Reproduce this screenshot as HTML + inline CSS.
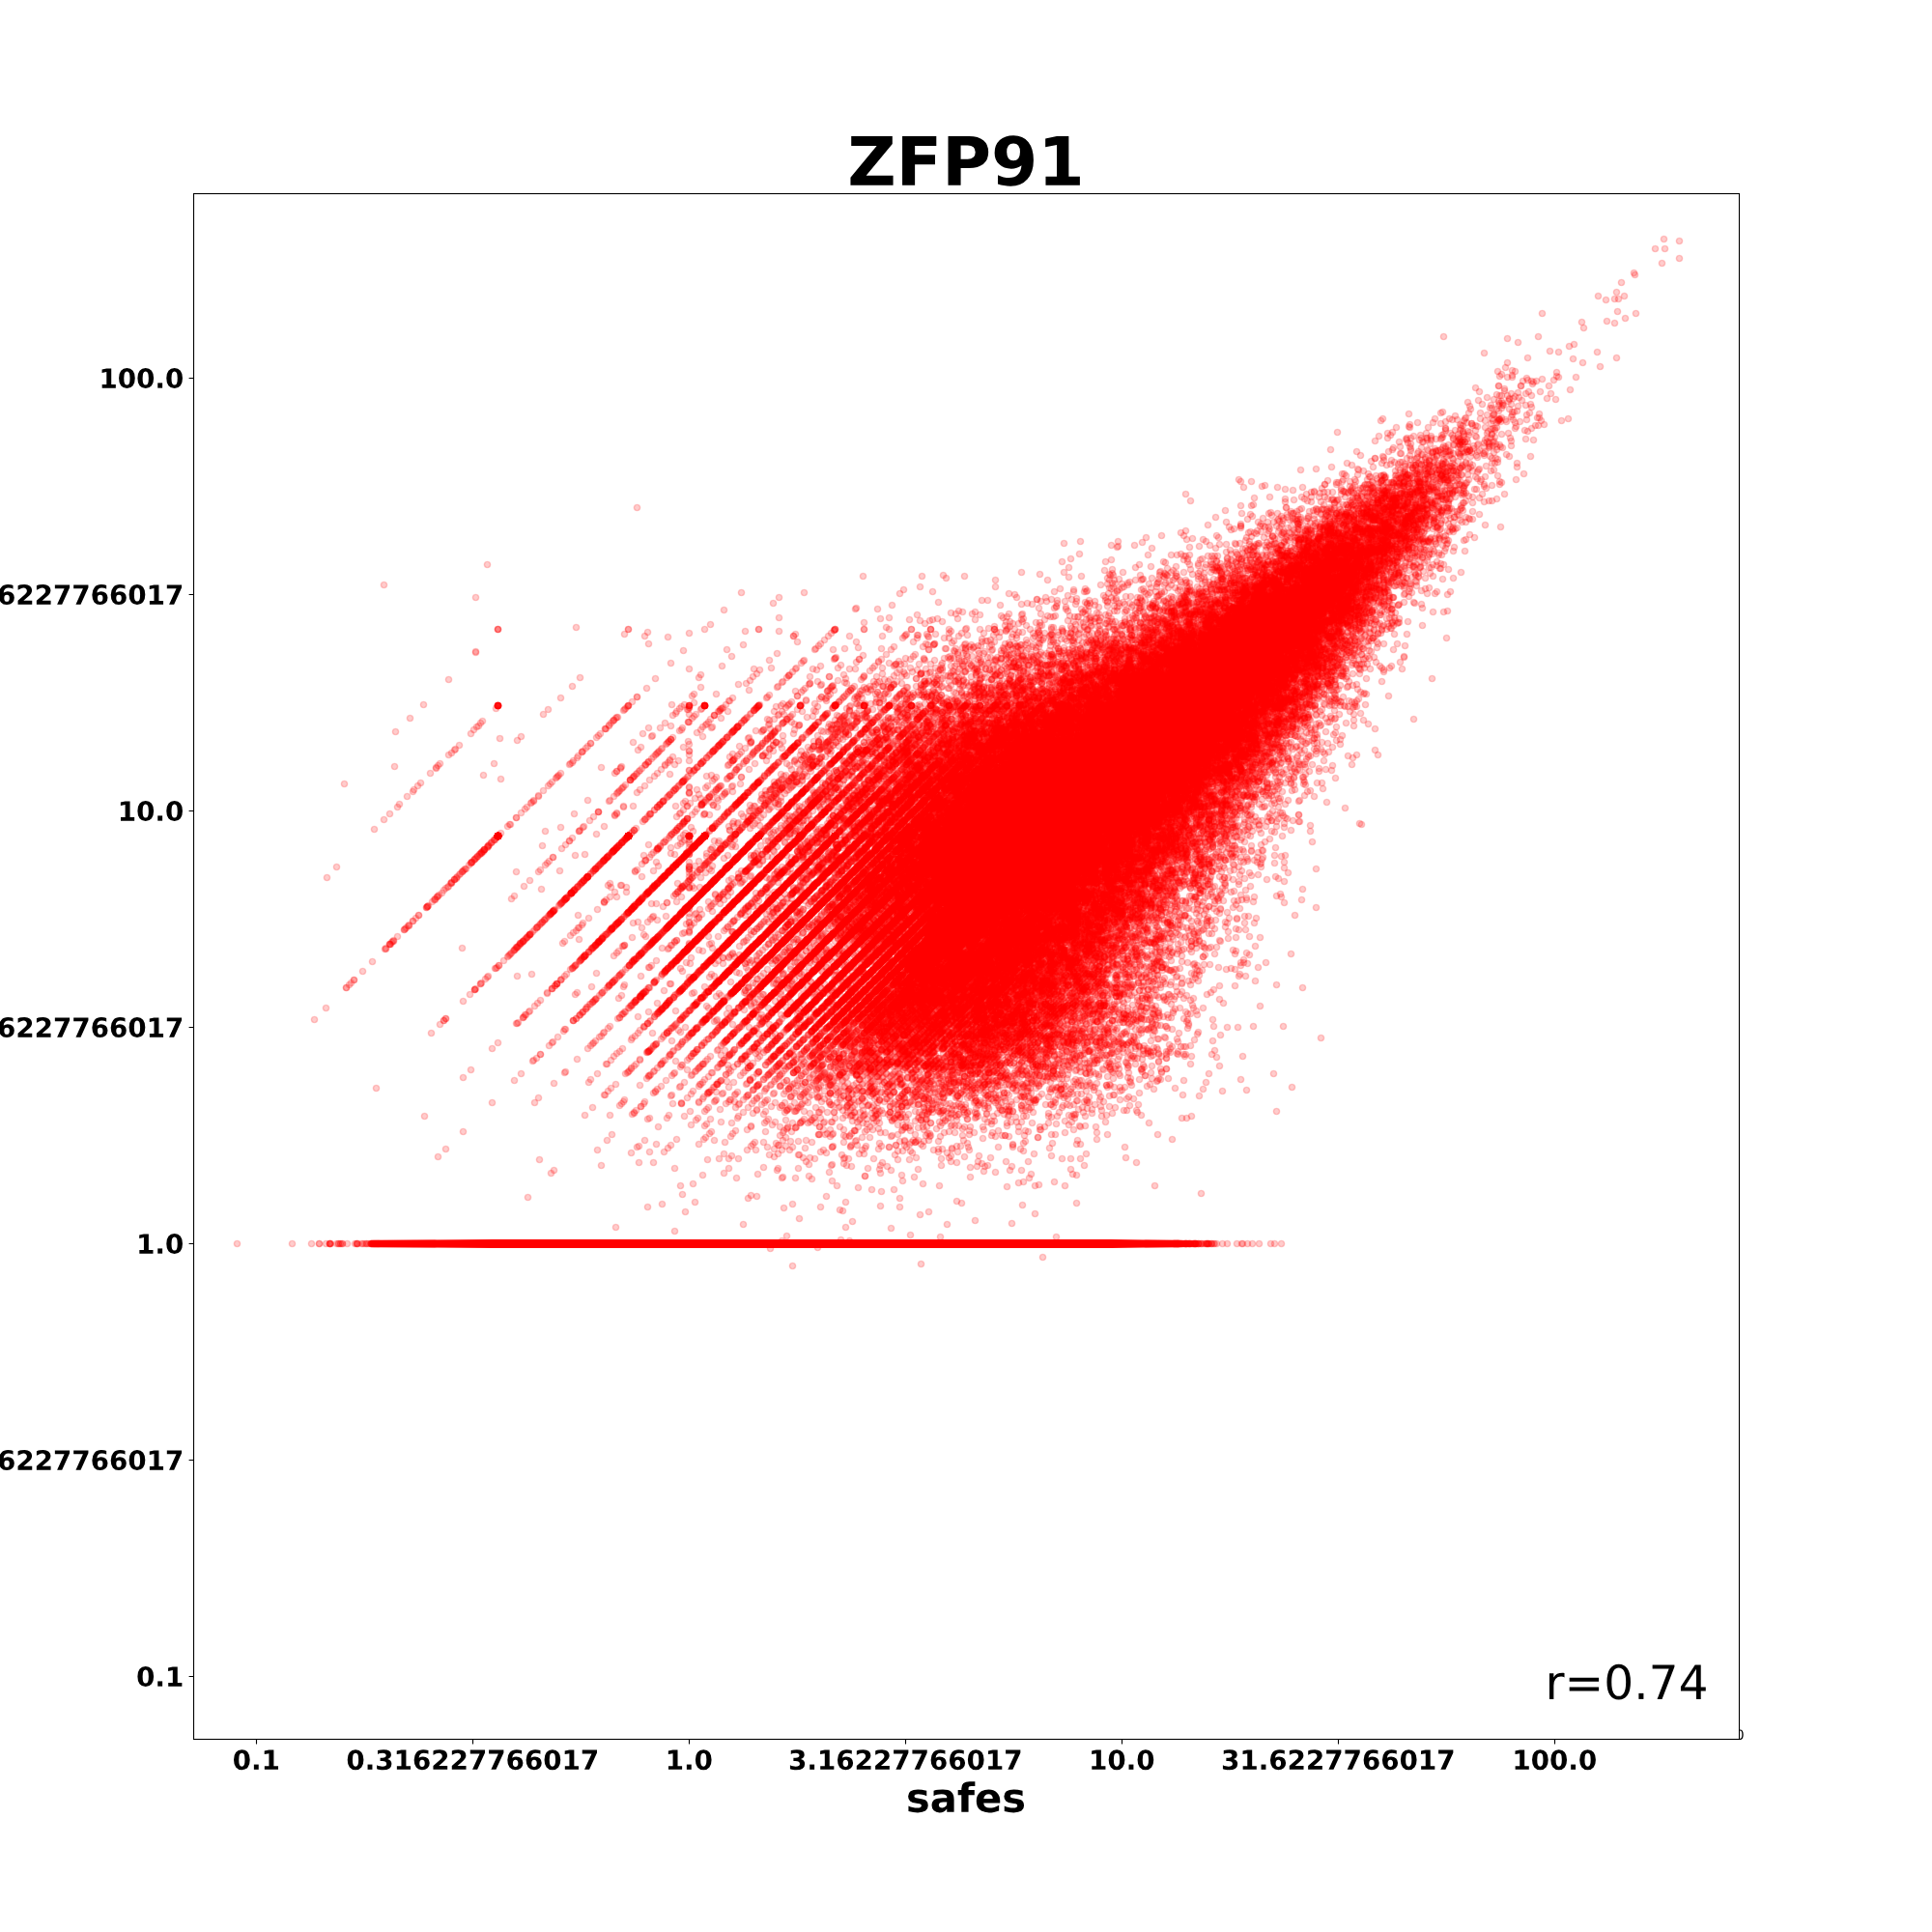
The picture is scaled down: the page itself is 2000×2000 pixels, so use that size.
<!DOCTYPE html><html><head><meta charset="utf-8"><title>ZFP91</title><style>html,body{margin:0;padding:0;background:#fff;font-family:"Liberation Sans",sans-serif}svg{display:block}</style></head><body><svg width="2000" height="2000" viewBox="0 0 2000 2000"><rect width="2000" height="2000" fill="#fff"/><g transform="scale(1.3888889)"><g id="text_1"><g transform="translate(1293.696 1296.576) scale(0.1 -0.1)"><defs><path id="DejaVuSans-30" d="M 2034 4250 Q 1547 4250 1301 3770 Q 1056 3291 1056 2328 Q 1056 1369 1301 889 Q 1547 409 2034 409 Q 2525 409 2770 889 Q 3016 1369 3016 2328 Q 3016 3291 2770 3770 Q 2525 4250 2034 4250 z M 2034 4750 Q 2819 4750 3233 4129 Q 3647 3509 3647 2328 Q 3647 1150 3233 529 Q 2819 -91 2034 -91 Q 1250 -91 836 529 Q 422 1150 422 2328 Q 422 3509 836 4129 Q 1250 4750 2034 4750 z " transform="scale(0.015625)"/></defs><use href="#DejaVuSans-30"/></g></g></g><rect x="200" y="200" width="1600" height="1600" fill="#fff"/><defs><clipPath id="ax"><rect x="200" y="200" width="1600" height="1600"/></clipPath><marker id="m" markerUnits="userSpaceOnUse" markerWidth="10" markerHeight="10" refX="5" refY="5" overflow="visible"><circle cx="5" cy="5" r="3.11" fill="#f00" fill-opacity=".2" stroke="#f00" stroke-opacity=".2" stroke-width="1.39"/></marker></defs><g clip-path="url(#ax)"><path d="M384 1285l0 4 2 1 7 0 1-1 818 0 1 1 8 0 4-2 0-2-4-2-8 0-1 1-818 0-1-1-7 0zM876 1044l-2-1-4 3 0 2-7 5 0 2 2 1 3-1 8-8zM884 1024l-2-1-3 1-4 4 0 3-4 2 0 3 2 1 2-1 1-3 7-5zM1035 1021l-4-2-4 2-2-1-8 6-1-2-6-3-2 1-1 4 5 3 2 3 5 1 7-5 3 2 4-2 0-2 2-2zM766 1019l-2-1-8 7 0 2 3 2 7-6zM1039 1010l-2 1 0 2 3 2-3 3 0 3 4 1 4-3-1-3 3-2 0-2-2-1-2 1zM838 1009l-2-1-2 1-3 5-8 5 0 3 2 1 4-1 4-5 0-2 5-2zM859 1004l-2-1-5 4-1 3-3 2 0 3 2 1 2-1 7-7zM814 994l-2-1-2 1-8 8 0 3-4 1-10 10 0 3 2 1 2-1 10-10 1-4 1 1 4-2 6-7zM926 993l-2-1-2 1-24 24-1 3-6 5 0 3 2 1 2-1 10-11 5-3 15-15zM769 990l-2-1-8 7 0 4 2 1 8-7zM866 983l-3-2-5 3-6 6 0 3-4 2-3 3 0 2-6 4 0 3 2 1 3-1 7-7 0-2 6-4 9-9zM927 981l-2-1-3 1-31 31 0 2 3 2 2-1 31-31zM907 973l-2-1-3 1-36 36 0 4 2 1 13-11 23-23 3-4zM791 968l-2-1-2 1-16 16 0 2 2 1 6-3 3-5 4-2 5-5zM764 965l-2-1-2 1-11 11 0 3 2 1 3-1 9-9zM865 964l-2-1-3 1-24 24 0 4 2 1 2-1 14-15 5-3 6-7zM1110 966l-3-2 1-3-3-1-3-3-7 3-3-1-8 4-1 2-3 1 0 3 1 2 4 2 5-3 4-6 4-2 2 1 0 2 8 4 2-1zM781 948l-2-1-2 1-8 8 0 3 2 1 4-2 5-6zM901 947l-2-1-4 1-26 27 0 3 2 1 2-1 1-3 4-1 10-9 9-11 4-3zM721 929l-2-1-2 1-11 11-1 4 2 1 4-2 9-9zM888 920l-2-1-6 4-37 37-6 8-4 2-15 15-2 5 2 1 5-2 3-3 1-3 4-2 7-7 0-2 5-3 45-45zM814 916l-2-1-3 1-9 8-6 7 0 3 2 1 3-1 14-14zM780 914l-2-1-5 3-6 8-6 5 0 2-6 4 0 2 2 1 4-2 1-3 5-3 13-13zM848 911l-2-1-2 1-8 9-17 15-24 25 0 4 2 1 2-1 49-50zM913 896l-3-1-4 2-16 17 0 3 2 1 5-3 1 4 4 2-24 26-5 3-6 7 0 4 2 1 8-6 34-35 0-4-2-1-4 3-1-5-4-2 5-5 1 4 2 1 4-1 1 4 2 1 4-3 0-4-2-1-3 1-4-3-4 2-1-1 8-9zM840 890l-2-1-3 1-10 10 0 3 2 1 3-1 10-11zM874 886l-2-1-4 1-3 5-12 10-3 4 0 2 2 1 6-3 9-9 0-3 1-1 1 1 4-3zM858 871l-2-1-4 2-3 7-4 1-3 3 0 3 2 1 3-1 2-2 0-4 1-1 1 1 6-4zM924 863l-3-2-3 1-10 12-5 4 0 2-8 5-93 93-1 3-7 6 0 4-5 1-1 3 2 1 4-2 1-3 1 1 2-1 106-106 0-2 5-3 2-5 6-3 2-3 4-2zM898 864l-4-3-2 1-5 7-11 9-2 5 3 2 2-1 11-12 8-6zM889 841l-2-1-3 1-7 7 0 3 2 1 10-8zM959 826l-2-1-3 1-6 7 0 3 3 1 4-2 4-5zM968 813l-8 7 1 4 2 1 3-2 2 1-10 11 0 3 2 1 5-3 7 3 5-4 0-2-2-1 2-1 0-2-2-1-1 1-2-5-5-1 4-5 0-3zM951 810l-2-1-4 1-10 10 0 2 3 2 3-1 10-11zM963 809l-2-1-2 1-10 10 0 2 3 2 2-1 1-4 1 1 4-2 3-4zM1243 795l-3 1 1 3-2 1 0 2 2 1-1 5-1 1-3-2-2 1-1 6 5 4 3-1 1-2 0-7 2-1 0-2 2-2 1 1 4-1 0-3-5-1-1-3zM1274 791l-2-1-4 1-1 5-1-3-2-1-7 3-1 3 5 2 5-2 2 3 3 1 2-1zM1391 622l-2 1-2-1-4 4 2 5 3 2 3-1 0-2 4-2 0-2zM1409 566l-4 3-1 3-6 2 0 2 4 3 0 6 2 1 6-1 0-2-2-2 1-7 1-1 4 2 2-1 0-2-2-1-1 1-2-5zM1397 563l-4-1-4 2-3 4-1-1-7 4-2 0-1-3-2-1-4 3 0 2 3 2 0 3 2 2-1 1-3-1-3 3-3-7-2-1-3 1 0 5 4 4-7 3-1-1-6 2 0 5-2 2 0 5 2 1-1 1 1 3-3 2-3-2-1 1-1-1-4 1-1 3-4 1 0 4-3 2-4-2 1-4 2-1 0-3-2-3-4-1-1-3-2-1-17 7-2 2-2 9-3 2 0 5-6 6-2-2 0-2-2-1-5 3-5 0-2 1 0 3 5 2-1 3-1-1-8 3-1 3-4-2-2 1 0 3 3 4-1 3-6 1-4-4-1-3-2-1-2 1 0 5 5 4-2 3-6-1-3 2-1 3 1 4-2 2-1 4-1-1-4 2-1-1 2-2 0-2-2-1 2-1 0-3-2-1 3-2 0-2-2-1-4 2 0 2 2 1-4 4-4 1-3 3-1-1-2 1-8 9-3-2-5 4-1-1-2 1 1 3-4 2-1 3-2 1 0 3 2 1-2 2-3-1-10 4-6-2-4 2-1 4-1-4-4-2-5 1-1 2-3 1 0 2 2 1 1-1 1 4 3 2-2 1 1 6-4 3 0 7-1 1-1-1-5 1-4 4-9-4 0-2 2-1-1-3-2-1-8 3 0 4 2 1 0 5-4 1-2 6-4 2-3-1-3-3-2 1-2-2-1-4-2-1-3 2-2 5-3-3 0-4 2-1 0-2-2-1-4 2-1 4 1 3 2 1-4 5 0 3 2 3-3 2-1-3-4-3-1-3-2-1-3 1-1 4-4 2 0 2 4 2 1 4-5 5-4-3-1-3-2-1-2 1-1 6-1 1-2-1-3 1 0 4 3 2 0 2-4 3-1 5-2-1-5 2-3-2-1-5-2-1-2 1-1-2-6-3 3-5 2 1 0 2 4 2 5-2 1 1-1 6 3 1 4-2 1-7-6-4-3 1-3-1-3 2-1-1 1-4-9-4-5 3 0 3 2 1 1-1 4 3-3 2-1-1-3 1 0 2-4 2 0 2-6 5-1-3-2-1-1 1-1-1-5 1-1 3 3 2 0 4 4 3 3-3 2 1 4-2 2-3 3 0 8-4 2 1 2-1 1 2-5 6-5 3-9-1-4 2-1 6 2 3-3 2-1-1-2 1-1 2-2-1-4 1-7 7-3-2-3 1-2-1-4 3-1-3-5-2-10 8 0 2 2 1 1-1 4 1 3-2 1 2-5 3-2 5 4 1 4-2 1 3 5 5 0 2-6 4 0 2-4 2 0 2-2 1 1 7-4 2 0 5 2 3-4 2-4-3 0-4-2-1-4 2-2-5-2-1-4 3-1-3-5-1-2 1-4 10-3-2-9 8-1 4-2 1 0 3 4 2-8 8 0 3 4 1 5-3 3-4 2 1 0 2 4 2-8 9-3-3-4 2 0 2 4 2-2 1 0 2-6 5-1-1 1-5-2-1-5 4 0 3 2 1 3-1 1 5 2 1 6-3 13-13 3-5 2-1 5 3-4 5-1-1-5 1-1 1 1 4-5 1 1 3-2 3-3 1-3 6 0 3-1 1-2-1-7 5-18 18 0 5 2 1 4-1 18-19 1 1-1 8-42 41-2 4-3 1-10 10-3 6-2 0-4 3 0 4 2 1 3-1 23-24 14-12 12-14 5-3 35-35 2-8 3 1 6-4 1 4-5 5-3 1-2 5-11 10-5 7-9 6-5 7-20 20 1 3 2 1 3-1 36-36 2 2-3 2-1 7-7 3-26 26-1 3-5 3-13 13-3 5-3 1-7 9 0 2 2 1 5-3 5-5 2-5 4-1 17-18 9-7 0-2 24-24 6-4 10-10 1 4 4 2 3-1 1-2 2 2-3 3-3 1-2 4-2-1 1-1-1-3-2-1-4 1-34 35 0 2 2 1 6-2 25-25 1 2-9 10-24 23 0 4 2 1 3-1 25-25 1 2-4 4 0 4-6 2-46 47 0 2 2 1 4-1 26-27 2-1 1 3 3 2 5-3 1 1-11 11 0 3-2 1 0 2 2 1 1-1 1 2-9 9 0 2 2 1 1-1 1 2-7 6 0 5 4 2 2-1 0-2 6-6 3-1 1-5 6 5 3-1 2-3 2 1 3-1 1 3 5 3 4-3 4 3 5-4 0-4-2-2 0-3-1-2-4-1-4-3 4-2 3-4 3 3 0 3 4 2 2-1 0-2-3-3 5-5 2 0 2 2-2 1 1 5-2 1 0 2 2 4 4 1 6-4 3-5 0-2-3-2 4-4 6 1 4-3 3 3 3-2 4 1 4-1 1 1-1 4 5 2 3-3 0-4 3-7 5 3 4-3 1 3 2 1 2-1 1-5-2-1 0-2 6-5 6 3-2 2 0 2 2 1 5-1 2-2 0-10-2-1 4-2 4 4 5-1 0-3-4-2-3 2-1-4-2-1 1-2 2 1 3-1 4-3 0-2-3-2 0-3-2-1 0-4-9-5 2-2 2 1 4-3 2 2 1 5 2 1 7-1-1-9-5-3-4-4 0-2-2-1 3-2 3 2 2-1 3 2 1-1 3 3 6-3 4 1 1 2-2 2 0 3 4 2 4-3 4 3 1 4 4 2 3-1 0-8-3-2 1-1 0-5-2-6 2-2 5 0 4 3 2-1 2-3 2-8-9-3-5 2-4-5 0-2 4-4 0-2-5-3-1-2 5-3 1 2 5 2 1-1 5 4-2 5-3-3-4 2 0 3 2 1 3 0 3-2 6 1 4-2 0-6-2-1 1-1 0-10 3-3 5 1 4-3 2 1 0 4-1 1-2-1-3 1-1 3 0 9 2 1 5-4 1-3 3 1 3-1 1-5-4-2 3-2 1-4 1 1 3-2 5-1 5 3 5 0 1 1 2-1 1-4-5-1-7-5 4-4-1-9-5-1 4-3 0-3 2-2 3 0 1 2-2 1 0 2 9 1 1 2-2 7 4 2 2-1 2-6-2-9 4-7 3 3 5-1 1-1-1-3 5-5 3-1 4-5 4 3 6-1 1-5-4-4 5-3 0-5-3-2 2-1 1-4 5 4 2-1-1-3 1-3-4-1 0-4 4-4 1 1 3-1 0-2 2-1 0-5 4-5 5 2 4-1 0-4 5-6 2 1 2-1 0-2-2-1 7-5 0-4-4-1-2-2 0-3 3-2 1 2 2 1 1-1 2 5 2 1 1-1 4 4 3 0 5-3-1-5 3-3 3-1 0-5-2-1 0-6-3-2 1-4 4-3 2 1 2-1 1-2 2 1 3-1 0-2 3-2 0-2-2-1 0-3-4-4 3-2 0-3 2-2 7 4 5-3 1 1 9-1 1-5-5-2-2 1-1-5-3-2 6-6 1 1 2-1 2 2-1 4 2 3 4 2 4-1 0-5-1-1 4-4 1-6-4-2 3-2 0-3 3-1 3 3 3-2 0-6 3-2 1-6 4-3 2 3 2 1 2-1 0-3-2-1 1-1-1-12-2-1-3 1-1-1 2-2 5-1 2-3 2 5 2 1 2-1 2 1 4-3 1-2-1-4 5-1 0-4-2-1-3 2-1-1-1 1-5-1 5-2 1-2-1-4 13-7 1-6 1-1 2 1 5-4 2-3 0-5 2-2 2 1 2-1 1-5 4-3 1-3-1-6-5-3-2 1-1-1 0-2-3-2 2-1 0-2-5-1-4 2-3-4 5-3 5 3 3-1 0-2-2-1 4-4zM960 1017l2 0 4 3-3 2 0 5 5 2-1 2-1-1-4 1-4-2 2-2 0-2-4-3zM949 1009l3 5 0 6 3 2-7 6-4-4 1-1-1-3 2-1 0-2-3-3zM979 991l3 3-7 7 0 2 2 2-2 1-8-6 4-2 0-2 4-4zM1029 989l3 2 0 2 3 3 4 2-4 2-1 2-1-2-2-1-1 1-1-3-5-2zM1052 974l2 2 0 2 3 2-1 4 2 1-2 2-4-2-2 1-1-3-2-1zM1024 960l0 5 3 3-4 2 0 2-4 4-5 2-1 3-5 4-3-3-6 4-3-1-1-3-3-2 3-2 2 1 4-1 4 2 3-1 3-3 0-3 2-2 8-4 1-7 1-1zM1045 946l1 1-5 5-2-1-3 2-1 4 3 3-1 1-2-1-3 2-1-3 2-2 1-8 1-1 2 1 3-2 1 1zM1059 939l3 3 5 2 1 2-5 1-6 5-3-3 2-1 0-3-3-3 2-2zM1094 931l-2 2-5-2-3 1-5-5 1-1 3 1 4-2 3-4 2 4-2 1 0 2 2 1 1-1zM947 905l1 1-1 7-8 5-4 7-2 1-4-3 2-6 5-1zM1152 877l3-2 1 2 4 2 5-2 3 3-5 3-3-2-5 2-3-3zM1140 861l4 2 2 6 4 2 0 6-1 1-4-1 0-6-5-4-1-4zM944 854l2 1 1-1 1 2 5 1 2 2 1 4-2 1 0 2 2 2-10 10-2-1 1-3-5-2 9-9 0-2-2-2-4-1zM1210 820l1 4 2 1-2 2 0 2 2 2-1 1-3-1-4 3-5 1-3-3 3-3 5-1 1-1-1-5 2-2 2 1zM1004 808l2 2-5 5 0 2 2 2-2 1 1 3-3 2 0 2 2 2-1 1 0 7-2 1-4-3 0-4-2-1 2-1 0-2 2-2 0-5-2-1 4-6zM1044 784l0 3-5 5-5 2-3-1-5 4-1-1 1-5 7-3 1 1 5-4 1-3zM1119 750l0 3 2 1 1 4-1 1-2-1-4 1-2 2-1 4-2-1-4 1-5-3-9 5-1-4-3-3 2-3 4-2 1-4 3 3 0 4 4 2 1-1 4 3 2-1 0-5 6-2 0-3-4-3 1-5zM1276 736l0-2 3-3 2 1 1-1 1 1 6-1 2 2-3 6-3-2-5 1zM1199 690l4-4 1 1 4-1 4 5 0 3-5 3-6-2zM1345 672l-6 3-3 6-4-2-2 1-2 5-2 1-1-1 2-2 2-10 5 2 2-1 2-4 4 0zM1318 604l1 1-1 7-4 4-1-1-2 1-1-3-2-1 0-5 1-1 1 1 4-3 1 1zM1391 590l-3 2 0 2 4 2-3 2-3-2-2 1-1-1-3 2-5-2 4-9 3 1 3-2z" fill="#f00" fill-rule="evenodd" transform="translate(.5 .5)"/><path d="M384 1284.1L515 1283L1150 1283L1221 1284L1221 1291L1150 1292L515 1292L384 1290.9" fill="#f00"/><g transform="translate(.5 .5)"><path d="M1713 257l10 0-1-10 16 2 0 18-18 5-28 12-1-2-37 24 8 4 9-1 4 0-2-7 5-10 3 14 1 23 11-5-19-2-11 10 8 2-34-1-41-9-102 24 77 6-11-4 32-2 32 10 5-2 10-17 34 31-17 9-18-4 15-11-40 0 15 7-24-8-23 7-21 5 5 8-7-3-22-15-5 40-4-4 23-17 4 3-2 2-1 10 0 0 6 3 0 2 7 3 15 0-8-1 11-1-8-6 0 0 2-5 5-1-1-2-20-1 5 0 0-2 3-4 28 8-11 2 5 0-3 1-1 2 17 2-9 6 11 2 20-4-17-10 5-3 18 0-20-1 0-4-1 28-17 15-8-7-1-3 17-6-16-3-25 0 8 1 4 1-10 1 4 0-4 1 13 1-14 1 3 3 15 1-8 1-9 3 8 2-5 1 2 0 16 1-18 2 15 0-16 2-25-2 6 0 1 0 0-1 5-3-2-2-7-1 2 0 10 0-11-3 8 0 4 0 1 0-4-2 3 0-4-2 3 0-8-2-7-2 13-2 2 0-5-1-19 6-11 2 15 2-13 2 1 3-2 4 12 0-26 3-15-3 2-1-35 2-74 19 52 6-9-2 12-1-3-2-7-13 2-2 28 6-1 2-13 1 14 0-18 5 22 4-7 2 4 0-5 1 1 1 13 0 8 0 4 0 5-1-15-1 5 0 1 0 4 0 0-2-11-1 6-2 2-6-11-5 16 0 2-4 15 0 3 1 5 0-12 2-5 2 20 1-15 4 0 0 0 2 10 0 5 0-10 3-7 1 15 0-17 1 11 0-10 2 16 0-17 1 12 0 7 0-20 1 13 0 6 0 1 1 3 0 4-1 10-2-13-1 12 0-7-1-5-1-1-2 7 0-7-1 5 0 8-1-15-2 17-2-17-1 2 0 10 0 3 0-4-2 0 0-5-1-3-2 1-2 16 0-15-1 37 0-10 1 7 0 1 0-1 1 1 0 6 0-21 1 8 0 5 0 1 0 2 1 6 0-10 1-6 1-6 4 12 0-4 1 2 0-4 1 4 1-7 1-1 2 5 1 0 0 10 0-7 3-8 1 4 0-6 2 42-1-16-1-2-5 20-2-3-1-10-2 1-2-1-4 5-1-7-2 14 0 11-2 2 0 2 3 3 4-9 1 3 0-7 3 2 12 29-20 7-2-39 39-20-16 0 5-2 11 8 7-26 0 3 0 3-1 0-3-6-1 4 0-6-2-6-1 23-1-23-1 10-1-9-1 12-2-8-2 14 0-19-1 6 0 7 0 4 0-12-1 4 0 7-1-11-1 7 0-12-1 3-1 2 0 4 0 1-1-34 1 1 0 3 0 0 0 3 0-5 2 16 0-17 1 16 0-4 1-6 1-7 2 13 0-7 1 0 0 3 0 0 1 0 0 10 0-17 1 5 0 0 0 10 0-17 1 4 0 7 0 12 1-7 2-13 1 7 0 7 1-12 5 0 1 4 0-33 0 4 0 4 0 7 0-7-1-2-1 15 0-15-2 10 0-1-1-6-2 14 0-11-1-7-1 8 0 10 0-17-1 10 0 6 0-19-1 18 0-13-1 2 0 2 0-12-1 1 0 10 0 2 0-10-1 5-1-3-1 3-1 13 0-15-1 17 0-12-1 5 0 1 0 6 0-1-1 1-2-4-1 2 0-37 1 1 0 7 2-9 4 14 1-8 1 1 1 8 0-18 1 15 0 3 0-4 1 1 0-16 1 4 1 1 0 15 1-9 1 4 0 5 0-20 1 8 0 9 0-18 1-2 1 11 0 10 0-14 1 8 0 0 1-3 1 8 0-16 1 9 0 2 0-36-1 6 0 2 0-11-2 20-1-4-1 3-3-10-2 1 0 10-3-19-1 19-1-18-1 7-1 10 0 1-3-3-1-9-1-25-1 14 11-6 5 1 1-9 1 0 0 9 2-13 1 11 2-36 0 14-8-4-4-27-2-93 33 11 0-13-2 27 6-3 1 56-18-16 1 25 15 0 0 12 0 0-2 2 0 4-1-15-1 16-1-1-6 2 0-13-7 21-2 6 4 1 1 5 1-6 4-12 1 9 4 13 0-18 2 6 0 10 3 2 0-13 1 10 0-15 1 34 0-12-1-2-1 14-1-10-1 6 0 2 0 6 0 2 0-17-1 9 0 1-1 0 0 1-1-6-1 8-1 0 0-16-1 1 0 16 0-10-1 5 0 1 0 2 0 0-1-16-1 5-7 14-2 4-1 8 0 7 0 4 1 2 0 3 0-9 1-7 2 15 0 0 0-13 2 5 0-10 1 18 0-9 1 1 0-2 1 2 1-9 1 11 0 1 0 0 0-13 1 3 0 8 0 4 0-8 1 1 0 3 0-7 1 2 0 5 0 3 0 3 0 1 0-17 1 4 0 1 0 7 0 2 0-16 2 14 0-4 1-13 1 1 0 1 0 3 0 3 0 2 0 3 0 0 0-11 1 6 0 4 0 0 0 7 0 0 0 4 0 0 0-21 1 6 0 8 0 1 0-8 1 2 0-7 1 2 0 0 0 7 0 0 0 5 0 10 0 1 0 2 0 4 0 3 0 3 0-11-2 4 0 3 0-8-1 7 0 2 0-11-1 2 0 1 0 4 0 9 0-17-1 2 0 1 0-1-1 15 0 3 0-19-1 3 0 4 0 1 0 3 0 6 0-17-1 8 0-6-1 9-1 5 0-14-1 8 0-2-1 5 0 6 0-22-1 2 0 1 0 2 0 7 0 1 0 5 0 5 0-9-1 9 0-23-1 4 0 2 0 9 0 2 0 1 0-16-1 9 0-5-1 16 0-12-1 3 0 1 0-3-1 9 0-19-1 13 0 4-1 2 0-19-1 0 0 0 0 6 0 4 0 4 0 1 0-11-1 2 0 22 0 1 0-6 1 17 0-15 1 3 0 8 0 1 0-4 1 5 0-12 1 5 0 4 0 5 0 6 0 0 0-18 1-4 1 0 0 1 0 3 1 5 0 4 0 2 0 0 0 3 0-11 1 1 0 10 0-14 1 7 0 9 0-19 1 6 0 0 0-5 1 2 0 9 0 5 0 2 0-17 1 0 0 0 0 6 0-7 1 3 1 2 0 6 0-12 1 11 0 1 0 7 0-17 1 2 0 1 0 2 0 1 0-8 1 8 0 1 0 5 0 4 0 3 0-20 1-1 1 6 0 2 0 12 2 1 0-13 1 2 0 1 0 6 0-19 1 17 0 10 0-2-1 3 0 1-2 1-1 14-1-12-2 13 0-4-1-2-2-15-2 1 0 6 0 10-3-5-1 6-1-11-1 12 0-19-1 8 0-7-1 9 0-9-1 1-1 10 0 14 1 8 4-3 1 7 5-13 1 15 5 2 1-18 2 16 0-8 1-8 1 33-7 8-6-7-7-34 36 5-1 3 0 5-2 8-5-19-6-24-1 1 1 11 1 2 0-13 2-3 2 2 0 3 0-2 1 19 0-21 1 7 1 4 1 7 1-14 3-3 2 1 0 9 0-12 3 1 2-1 1-23 1 22 0-13-1 2 0 2 0-13-1 5 0 3 0 1 0-9-1 3-2 7 0 0-2-11-2 11 0-5-1 2 0-4-1 1 0 4 0 3 0 1 0-4-1-5-1 14 0-18-1 1 0 2 0 2 0-1-1 3-1 3 0 2 0 3 0-15-1 12 0 3 0-3-1 3 0-10-1 3 0 9 0-10-1 8 0 3 0 1 0 2 0-17-2 9 0-32-1 1 0 11 0 2 0 1 0 2 0-20 1 4 0 8 0-13 1 14 0 2 0 2 0 4 0-21 1 1 0 1 0 2 0 1 0 2 0 0 0 6 0 6 0-18 1 12 0 1 0-16 1 2 0 1 0 7 0 0 0 12 0 1 0-20 1 9 0-12 1 9 0 0 0 6 0-8 1 1 0 2 0-7 1 3 0 15 0-16 1 4 0 14 0-14 1 3 1 1 0-12 1 6 0 2 0 2 0 0 0 5 0-7 1 8 0 5 0-18 1 12 0 5 0-20 1 4 0 13 0 0 0-17 1 5 0 6 0 7 0 2 0-19 1 10 0 1 0 5 0-18 1 1 0 7 0 1 0 3 0 7 0-14 1 3 0 2 0-10 1 1 0 1 0 3 0 1 0 12 0 0 0-15 1 4 0 1 0 1 0 4 0 6 0-17 1 9 0 1 0 1 0 8 0-40 0 2 0 5 0 0 0 11 0-23-1 6 0 6 0 3 0 1 0-16-1 2 0 11 0 1 0 8 0-21-1 2 0 1 0 5 0 5 0 2 0-14-1 2 0 1 0 2 0 3 0 1 0 1 0 2 0 4 0-14-1 1 0 3 0 8 0 5 0-17-1 2 0 7 0 2 0 2 0-12-1 0 0 12 0 1 0 4 0-22-1 4 0 1 0 7 0 4 0 1 0-16-1 1 0 9 0-10-1 0 0 2 0 1 0 4 0 5 0 4 0 5 0-22-1 2 0 7 0 4 0 6 0-19-1 2 0 1 0 2 0 0 0 0 0 1 0 0 0 2 0 4 0 7 0-10-1 8 0 2 0 1 0 3 0-21-1 3 0 7 0 11 0-18-1 9 0 2 0 3 0-18-1 2 0 6 0 4 0 3 0 3 0 1 0 2 0-18-1 5 0 1 0 1 0 2 0 9 0-21-1 15 0 4 0-16-1 7 0 3 0 5 0 1 0-19-1 21 0-12-1 3 0 8 0 2-1-23-1 17 0-37 0 1 0 5 0 9 0 2 0-19 1 1 0 2 0 7 0 9 0-1 1-18 1 8 0 4 0 2 0 2 0-13 1 6 0 5 0 2 0 0 0-18 1 4 0 13 0 4 0-15 1 0 0 5 0 3 0 2 0 3 0 0 0-15 1 11 0 2 0-9 1 6 0 5 0 3 0-5 1 4 0 2 0-22 1 9 0 7 0-11 1 2 0 6 0 0 0 2 0 0 0 1 0-8 1 9 0 3 0 1 0-21 1 4 0 5 0 0 0 0 0 3 0 0 0 9 0-8 1 0 0 6 0-18 1 8 0-6 1 0 0 5 0 2 0 0 0 12 0-23 1 8 0 2 0 0 0 5 0 3 0 5 0-9 1 2 0 4 0-13 1 3 0 3 0 9 0-22 1 1 0 14 0 1 0 3 0 1 0 1 0 1 0 0 0 1 0-21 1 1 0 1 0 3 0 1 0 2 0 7 0-10 1 2 0 7 0 0 0 1 0 4 0-20 1 16 0 2 0-35 0 1 0 9 0 5 0-11-1 1 0 3 0 7 0-20-1 0 0 3 0 13 0 0 0 3 0-18-2 3 0 4 0 4 0-14-1 1 0 6 0 1 0 9 0 4 0-8-1 3 0 3 0 3 0-17-1 10 0 3 0-11-1-3-1 10 0 6 0-14-1 7 0-6-2 3 0 2 0-13-1 13 0 5 0 5 0-11-1 5 0 6 0-6-2-14-1 6 0 4 0 10 0-23-1 3 0 4 0 13 0-14-1 0-1 8 0-7-2 9 0 2 0 4 0-14-1 11 0-43 1 20 0 0 2 2 1 1 0-21 1 4 0 5 0 9 2-17 3 3 2 5 0-1 1 2 0 4 0 1 0-2 1-2 2 0 0-11 2 20 0-4 2-10 1 5 0-12 1 8 0-9 1 2 0 3 0 5 0 2 0 7 0-42 0 17 0 2 0-17-1 15 0-5-7 10 0-14-1-3-2-3-2 10 0 8 0-13-3 14-1-9-1 3 0 0-1-12-4-26 0 8 2 8 1-8 9 9 1-9 2 1 6 0 0-34-3 1-7 16-1-27-10-3 19 11 0-68-12 5 7-573 7 563 26 5-2 41-21-10 7 11 5-19 3 42 8 2-1-20-2 3-1 7-1-12-1 12-1 0 0 0-2 7-5 3-5-9-1 30-1-2 1 3 2-20 1 11 2-5 4 10 0 6 0-13 2-1 2 3 0 2 1 4 0 1 2-13 2 12 0-8 1-7 1 29 0 1 0 6 0 6 0 2 0-19-1 6 0 10-2 4-1-19-1 9 0 3-1-15-1 5 0 17 0-16-2 16 0 0-1-19-2 18 0-20-1 6 0 7 0 3 0-15-1 17 0 2 0-14-1 10 0-6-1-6-1 17-1-11-1-10-1 14 0 2 0 1 0-3-2 6 0 17-1-4 1 8 0 4 2 0 1-7 1-6 1-8 1 7 1 1 0-10 1 2 0 14 0-8 2-7 1 18 0-7 1 5 0-17 1 23 0-21 1 13 1 2 0 6 0-23 1 9 0 13 0 0 0 0 1-15 1 2 0 9 0 4 0-22 1 9 0 2 0 1 0-5 1 0 0 6 0-3 1 6 0-12 1 9 0 9 0 8 0 2 0 1 0 0 0 3 0 0 0 0 0 1 0 3 0 1 0 0 0 2 0-17-1 4 0 5 0 12 0-17-1 0 0 2 0 0 0 1 0 3 0 2 0 3 0-16-1 1 0 4 0 3 0 0-1 1 0 4 0 4 0-17-1 1 0 4 0 3 0 3 0 6 0-15-1 2 0 0 0 5 0 8 0-16-1 3 0 1 0 2 0 2 0 2 0 2-1 8 0 0 0-19-1 5 0 0 0 1 0 2 0 2 0 6 0 4 0-3-1 3 0-14-1 12 0-15-1 7 0 3 0 2 0-15-1 5 0 15 0-22-1 2 0 10 0 1 0 2-1 1 0-9-1 4 0 9 0-17-1 14 0 5 0-18-1 1 0 8 0 4 0 1 0-15-2 3 0 3 0 5 0 0 0 0 0 3 0-1-1 3 0-14-1 2 0 13 0 17-1 8 0 1 0-9 1-13 1 1 0 2 0 13 0 2 0 4 0-22 1 5 0 8 0 3 0 0 0 2 0 0 0 2 0 1 0-22 1 0 0 1 0 1 0 5 0 4 0 9 0-18 1 4 0 3 0 3 0 5 0 6 0-23 1 0 0 3 0 6 0 0 0 10 0 1 0 3 0-22 1 4 0 1 0 15 0 1 0 1 0-19 1 8 0 2 0-9 1 4 0 4 0 4 0 0 0-15 1 7 0 1 0 9 0-16 1 4 0 10 0 2 0 1 0-19 1 8 0 0 0 2 0-11 1 17 0 6 0-22 1 3 0 3 0 5 0 4 0 7 0-10 1 1 0-13 1 2 0 2 0 5 0 0 0 0 0 5 0-3 1 3 0 6 0 0 0-19 1 9 0 0 0 1 0 2 0 8 0-21 1 10 0 1 0 2 0 1 0 2 0 1 0 3 0-20 1 1 0 1 0 5 0 0 0 2 0 1 0 2 0 2 0 4 0 4 0-22 1 6 0 11 0 2 0 3 0-17 1 0 0 5 0 2 0 1 0 2 0 2 0 0 0 1 0-15 1 5 0 1 0 3 0 8 0 0 0 3 0 5 0 7 0 3 0 2 0 1 0 0 0 5 0-21-1 2 0 0 0 6 0 1 0 5 0 0 0 2 0-14-1 5 0 1 0 1 0 3 0 4 0 0 0 5 0-21-1 0 0 7 0 2 0 1 0 4 0 1 0 1 0 1 0 1 0 3 0-23-1 0 0 1 0 1 0 1 0 2 0 1 0 2 0 1 0 1 0 4 0 1 0 1 0 2 0 1 0 2 0 1 0 1 0-23-1 3 0 1 0 2 0 2 0 1 0 4 0 9 0-22-1 2 0 10 0 10 0 0 0 1 0-3-1 3 0-11-1 3 0 0 0 2 0 1 0-11-1 7 0 3 0 1 0 0 0 1 0-7-1 2 0 2 0 4 0-20-1 5 0 9 0 3 0 2 0 1 0 1 0 0 0-15-1 5 0 1 0-9-1 2 0 0 0 0 0 1 0 1 0 2 0 1 0 1 0 1 0 4 0 1 0 1 0 5 0-21-1 4 0 0 0 11 0 1 0-15-1 0 0 6 0 0 0 2 0 5 0-15-1 2 0 3 0 0 0 0 0 12 0-13-1 0 0 2 0 1 0 3 0 1 0 1 0-12-1 2 0 14 0 5 0-20-1 1 0 5 0 2 0 1 0 7 0 2 0 3 0-21-1 5 0 5 0 1 0 7 0-20-1 6 0 1 0 5 0 2 0 3 0 4 0-20-1 1 0 1 0 12 0 3 0-12-1 4 0 3 0 1 0 7 0 3 0 1 0 0 0 3 0 3 0 3 0 1 0 9 0-19 1 16 0 3 0-19 1 1 0 15 0 1 0 1 0 2 0 2 0-22 1 5 0 3 0 11 0 3 0 0 0-23 1 5 0 2 0 1 0 0 0 13 0-21 1 7 0 2 0 4 0 8 0 1 0-22 1 1 0 13 0 1 0 0 0 2 0 0 0 0 0 2 0 2 0-21 1 0 0 2 0 10 0 3 0 5 0-16 1 10 0 0 0 2 0 3 0 0 0 2 0-15 1 1 0 5 0 9 0-20 1 1 0 5 0 7 0 1 0 2 0 5 0-22 1 2 0 3 0 1 0 0 0 8 0 3 0 3 0 2 0-15 1 2 0 3 0 2 0 1 0 5 0 2 0-15 1 5 0 1 0 2 0 3 0-16 1 3 0 9 0 0 0 0 0 4 0 1 0 3 0-16 1 6 0 0 0 11 0 0 0 0 0-12 1 5 0 4 0-19 1 3 0 7 0 2 0 2 0 3 0 2 0-20 1 0 0 2 0 7 0 2 0 2 0 3 0 2 0-18 1 2 0 8 0 3 0 4 0-11 1 8 0 6 0 3 0-21 1 2 0 14 0 5 0 0 0-19 1 3 0 2 0 1 0 6 0 0 0-13 1 3 0 2 0 6 0 8 0 2 0 2 0 7 0-7-1 5 0 0 0 3 0-8-2 1 0 1 0-4-1 3 0 10 0 6 0-16-1 8 0 12 0-21-1 4 0 15 0 2 0-22-1 8 0 5 0-9-1 10 0-11-1 1 0 6 0-10-1 10 0 9 0 0 0-16-1 18 0-20-1 8 0 10 0-20-1 1 0 3 0 4 0 3 0 1 0 7 0-16-1 1 0 3 0 0 0 9 0 4 0-19-1 5 0 1 0 2 0 12 0-9-1 6 0 2 0-17-1 2 0 2 0 4 0 2 0-1-1 8 0-14-1 7 0 0 0-13-1 5 0 5 0 3 0 2 0-13-1 7 0-9-1 1 0 4 0-5-1 3 0 1 0 4 0 6 0 14 0 0 0 7 0-11 1 3 0 2 0 5 0 7 0 3 0-16 1-4 1 4 0 16 1-17 1 8 0 11 0-21 2 16 0 0 0-4 1-9 2 4 0 15 0-7 2-13 1 0 1 8 0-11 2 13 1-13 1 16 0 4 0-17 1 12 0 3 0-16 1 13 0-5 1 2 1 4 0 9-10 4 0 4-3 3 0-4-1-3-1 14-3-7-3-10-1 23 15 16 2-32 8 5 3-9 2-2 1 1 11-27 4 3 0-3-2 6-2 9 0-8-3 9-1-12-2 4-1 1-1-3-3 4 0-9-1 7 0-7-1-1-1 5-1-4-1 6 0-27-1 18 0-23 1 3 1-3 1 3 0 14 0-11 1 2 0 1 0 2 0 5 0 5 0-16 1 2 0 9 0-11 1 9 0-10 1 5 0 3 0 2 0 1 0 6 0-12 1 5 0 2 0-15 1 6 0 15 0-12 1 12 0-22 1 0 3 6 0-4 1 4 0 3 0 7 0 3 0-9 1 2 0 8 1-18 1 7 0-9 1 15 1 3 0-13 1 3 0 7 0-14 1 2 0-27 0 5 0 5 0-7-1 19 0-16-1 3 0-7-1 11 0 6 0 3 0-22-1 6 0 0 0 2 0 1 0-9-1 1 0 9 0 2 0 5 0-2-1 3 0-18-1 3 0 0 0 3 0 0 0 1 0 3 0 4 0 4 0 0 0-18-1 12 0 5 0-12-1 12 0 0 0 4 0 1 0-22-1 4 0 0 0 0 0 5 0 4 0 5 0-17-1 10 0 3 0 1 0-14-1 5 0 12 0 0 0-18-1 4 0 6 0-9-1 9 0 3 0 7 0 2 0-17-1 6 0 4 0 4 0-13-1 3 0 5 0 2 0-12-1 3 0 2 0 6 0 3 0 5 0 0 0-18-1 3 0 2 0 1 0 2 0 2 0 2 0 2 0-19-1 15 0 6 0 0 0 1 0-9-1 1 0 2 0-15-1 0 0 0 0 1 0 1 0 0 0 4 0 1 0 1 0 5 0 2 0-16-1 4 0 3 0 4 0 1 0-7-1 1 0 2 0 0 0 0 0 5 0 2 0 3 0-40 0 1 0 7 0 6 0 4 0 0 0-18 1 0 0 1 0 3 0 1 0 8 0 5 0-16 1 0 0 6 0 5 0 2 0 2 0 1 0-16 1 0 0 4 0 0 0 4 0 2 0 7 0 1 0 0 0-21 1 1 0 19 0-20 1 4 0 3 0 0 0 2 0 2 0 1 0 5 0 3 0 2 0-21 1 1 0 0 0 11 0 1 0 0 0-15 1 10 0 2 0 3 0 1 0 0 0 4 0-12 1 7 0 3 0 1 0 1 0-20 1 0 0 5 0 6 0 3 0 3 0 1 0 2 0 0 0-18 1 1 0 1 0 5 0 6 0-14 1 6 0 1 0 6 0 4 0 3 0 1 0-22 1 6 0 2 0 2 0 2 0 1 0 4 0 5 0 0 0 1 0-20 1 2 0 4 0 6 0 3 0 2 0-20 1 1 0 1 0 0 0 9 0 2 0 2 0 5 0 1 0-18 1 2 0 8 0 0 0 1 0 2 0 1 0 0 0 2 0-19 1 3 0 2 0 1 0 2 0 1 0 3 0 10 0-22 1 1 0 4 0 1 0 2 0 2 0 2 0 6 0 3 0 0 0-17 1 1 0 1 0 2 0 2 0 1 0 1 0 5 0-16 1 6 0 2 0 1 0 1 0 3 0 1 0 1 0 2 0 2 0-18 1 2 0 0 0 4 0 0 0 7 0 1 0 0 0 1 0 5 0-22 1 1 0 6 0 8 0 0 0 1 0 4 0-20 1 1 0 0 0 6 0 1 0 5 0 7 0-13 1 1 0 3 0 1 0-36 0 5 0 3 0 2 0 0 0 0 0 1 0 1 0 0 0 0 0 0 0 1 0 0 0 1 0 0 0 5 0 2 0-18-1 5 0 10 0 0 0 5 0 0 0-23-1 0 0 2 0 4 0 2 0 3 0 4 0 1 0 6 0 1 0-20-1 1 0 4 0 0 0 1 0 3 0 4 0 3 0 2 0 0 0-21-1 1 0 1 0 4 0 9 0 1 0 0 0 6 0-20-1 5 0 0 0 2 0 2 0 4 0 1 0 0 0 1 0 0 0 1 0 1 0 3 0 1 0-19-1 4 0 3 0 1 0 2 0 3 0-16-1 5 0 4 0 8 0 1 0 1 0-19-1 0 0 0 0 3 0 1 0 6 0 3 0 2 0 4 0 1 0-17-1 7 0 3 0 2 0 1 0 5 0-22-1 1 0 1 0 1 0 0 0 1 0 1 0 0 0 2 0 0 0 10 0 1 0-18-1 2 0 1 0 3 0 1 0 3 0 2 0 3 0 1 0 3 0-14-1 6 0 0 0 10 0-21-1 6 0 1 0 5 0 2 0 6 0-16-1 8 0 4 0 1 0-14-1 6 0 1 0 5 0 3 0-18-1 2 0 1 0 3 0 3 0 3 0 1 0 9 0-22-1 10 0 0 0 2 0 11 0-16-1 2 0 0 0 1 0 13 0-23-1 5 0 2 0 1 0 0 0 5 0 2 0 1 0 4 0-17-1 2 0 4 0 5 0 5 0-18-1 1 0 13 0 4 0-19-1 2 0 6 0 11 0 3 0-19-1 7 0 8 0 0 0 3 0 2 0-39 0 0 0 8 0 1 0 4 0 1 0-21 1 1 0 1 0 7 0 8 0-16 1 7 0 0 0 0 0 3 0 0 0 3 0 1 0 3 0 2 0 2 0-21 1 1 0 4 0 6 0 10 0-23 1 3 0 10 0 3 0 4 0-15 1 2 0 6 0 3 0 2 0 1 0 1 0 2 0-16 1 1 0 2 0 6 0-11 1 10 0 8 0-10 1 2 0 5 0 0 0-16 1 4 0 0 0 2 0 11 0 1 0 1 0-20 1 7 0 0 0 3 0 6 0 3 0 1 0-16 1 3 0 0 0 1 0 1 0 4 0 3 0-12 1 6 0 3 0 2 0 3 0 2 0-22 1 4 0 0 0 4 0 3 0 0 0 3 0 3 0 3 0-18 1 3 0 1 0 1 0 0 0 10 0 1 0 2 0 3 0 0 0-22 1 3 0 1 0 0 0 8 0 1 0 5 0-17 1 6 0 1 0 1 0 0 0 3 0 2 0 1 0 1 0 2 0 3 0-19 1 2 0 3 0 1 0-7 1 2 0 0 0 1 0 5 0 4 0 0 0 1 0 2 0 1 0 1 0 2 0 0 0 0 0-21 1 5 0 11 0 1 0 4 0-19 1 1 0 1 0 0 0 2 0 2 0 3 0 0 0 1 0 1 0 1 0 2 0 1 0 2 0 1 0 1 0 1 0 1 0-20 1 1 0 0 0 7 0 2 0 2 0 0 0 7 0-17 1 4 0 1 0 2 0 0 0 2 0 7 0-19 1 4 0 0 0 6 0 1 0 7 0 0 0-43 0 0 0 4 0 5 0 0 0 9 0 3 0 0 0-22-1 4 0 0 0 3 0 2 0 7 0 1 0-16-1 0 0 3 0 1 0 1 0 0 0 2 0 2 0 6 0 1 0 0 0 1 0 0 0 5 0 0 0-13-1 3 0 2 0 1 0 1 0-12-1 3 0 0 0 4 0 0 0 3 0 7 0 1 0 0 0-20-1 0 0 5 0 7 0-13-1 4 0 1 0 3 0 10 0 1 0 0 0-20-1 4 0 0 0 3 0 2 0 9 0-14-1 7 0 2 0 3 0 1 0 2 0 2 0-21-1 3 0 2 0 3 0 0 0 1 0 4 0 5 0-11-1 1 0 0 0 1 0 7 0 5 0 0 0-10-1 2 0-14-1 0 0 5 0 8 0 6 0 4 0-17-1 4 0 3 0 1 0 0 0 6 0 1 0-21-1 1 0 5 0 7 0 4 0-10-1 3 0 1 0 5 0 2 0 2 0 3 0 0 0-23-1 0 0 8 0 2 0 0 0 9 0-19-1 1 0 1 0 4 0 0 0 7 0 7 0 1 0 0 0-19-1 1 0 3 0 2 0 7 0 5 0 0 0-18-1 8 0 6 0 5 0 1 0-12-1 10 0 0 0 2 0-15-1 0 0-5-1 4 0 7 0 9 0 1 0-14-1 4 0 8 0-36 0 7 0-10 1 6 2 7 0-3 1 4 0 3 0-20 1 7 0 13 0-12 1 2 1 7 0-11 1 0 1-9 1 20 0-15 2 1 0 0 0 5 0-4 1 16 0-22 1 15 0-14 1 18 0-19 1 2 0 19 0-19 1 2 0 0 0 2 0 11 0-16 1 10 0 1 0 2 0 1 0-9 1-7 1 3 0 1 0 7 0 1 0 0 0 2 0-13 1 19 0 3 0-17 1 1 0 0 0 7 0-10 1 1 0 1 0 2 0 1 0 1 0 1 0 5 0 1 0 1 0 0 0 4 0-42 0 7 0 7 0-18-1 1 0 4 0 5 0 5 0 4 0-18-3 20 0-19-1 2 0 10-1 5-1-18-1 0-1 14 0-13-1 16 0-12-1 7 0 4 0-13-1 16 0 2 0-16-1 1 0 16 0-8-1 4-2 4-2-11-1 9-1 0 0 0-1-17-2 12 0-17 3-5 1-1 3 4 1-15 2 5 0-4 1 14 0 2 2-6 2-3 1 7 0-20 1 18 0 3 0-3 1-12 1 7 1-12 1 6 0 1 1 10 0 2 0-5 1-38 0 4 0 3 0 3 0 9-4-11-4-6-3 10-1 7 0-21-3 13-4-2-2-34 0 9 3-6 1 17 0-4 7-10 1 0 8-6 1 2 0-15-1 6 0 4-1-20-19-16 2-4 5 10 6-4 7-32-8 1-1 17-1-17-4-7 4-33 9 1-13-17 2-597 22 389 12 61 0 22-1 3 3 19-2 59-4 19 2 25-2-2-11 9-3-2 9 13 9-13 1 40 1 3-3-1-1 3-1-8-3 8-1-7-8 6-2 25 8-13 5-10 3 6 4 24 0 1 0 16 0-7-1-12-3 11-9-12-2 25-3 2 1 11 4-9 2 6 2-13 1-1 1 12 0-7 1 12 0-11 1-6 1 7 0 1 0-4 1 13 0 1 0-13 1 11 1 24 1 3-1 3-1-6-1-6-2 6-1 6 0-21-1 17-1-10-2 15-2-7-2-9-1 9-1-11-2-4-2 17 0-13-1 15 0 26-1-14 1 14 0-11 2-6 1 6 0 11 0-7 2 7 0-22 1 5 0 2 0 16 1-12 1 6 0-11 1 3 0 2 0 2 0 2 0-3 1-5 1 12 0-10 1 3 0 2 0 0 0-3 1-6 1 11 0 5 0-5 1 6 0-6 1 0 2 2 0-3 1 1 1 7 0-15 1 8 0 1 0 0 0 1 0 28 0-20-1 8 0 1 0 3 0 2 0 1 0 1 0-14-1 1 0 4-1 2 0 7 0-17-1 2 0 1-1 7 0 1 0 2 0-8-1 0-2 2-1 1 0 10 0 1 0-14-1 5 0 9 0 2 0 1 0-23-1 4 0 12 0 3 0-6-1 9 0-19-1 6 0 12 0-6-1 3 0-18-1 12 0-4-1-1-1 11 0-11-1 6 0-9-1 14 0 4 0-20-1 10 0 10 0-12-1 3 0 0 0-3-1 12 0 8-1 8 0-10 2 3 1 1 0-1 1 9 0 5 0-16 1 1 0 10 0 1 0 4 0 2 0-23 1 5 0 6 0 11 0-21 1 10 0 1 0 9 0-12 1 4 0 2 0 1 0 3 0 1 0-16 1 4 0 5 0 1 0-14 1 2 0 20 0-18 1 2 0 4 0 5 0-5 1 2 0-9 1 7 0 2 0 1 0-11 1 1 0 12 0 6 0 1 0 1 0-16 1 5 0-9 1 2 0 1 0 5 0 4 0 2 0 0 1-16 1 0 0 2 0 7 0 4 0 9 0 0 0-19 1 1 0 5 0 0 0 4 0 4 0-14 1 2 0 6 0 1 0 1 0 2 0 3 0-19 1 0 0 6 0 5 0 8 0 1 0 0 0 1 0 2 0-21 1 3 0 6 0 2 0 2 0 5 0 2 0 1 0-15 1 1 0 6 0 9 0 1 0 1 0 0 0 6 0 5 0 0 0 5 0 1 0 1 0 3 0-15-1 7 0 3 0 3 0 2 0-19-1 9 0 1 0-10-1 3 0 1 0 0 0 4 0 1 0 0 0 3 0 0 0 1 0-10-1 5 0 4 0 2 0 4 0-15-1 5 0 2 0 1 0 1 0 5 0 1 0 0 0-22-1 8 0 2 0 1 0 2 0 0 0 2 0 0 0 0 0 5 0 1 0-21-1 2 0 1 0 3 0 0 0 1 0 1 0 0 0 2 0 0 0 5 0 4 0 0 0-17-1 1 0 0 0 2 0 6 0 3 0 0 0 3 0 3 0 2 0-21-1 7 0 11 0-18-1 4 0 4 0 1 0 2 0 5 0 1 0 2 0 2 0-22-1 8 0 0 0 5 0 3 0 1 0 1 0 1 0 1 0-12-1 1 0 2 0 10 0-21-1 4 0 1 0 4 0 6 0 0 0 0 0-10-1 2 0 4 0 3 0 2 0 0 0 1 0 0 0 1 0 0 0 4 0 0 0 1 0-23-1 3 0 13 0 6 0 1 0-18-1 8 0 9 0 1 0-19-1 10 0 6 0 1 0-20-1 0 0 5 0 11 0-14-1 1 0 4 0 11 0 4 0-17-1 4 0 2 0 1 0 1 0 2 0 6 0-22-1 6 0 7 0 5 0 2 0 1 0-12-1 3 0-1-1 0 0 7 0 3 0 4 0 9 0 3 0 1 0 3 0 3 0 1 0-21 1 0 0 4 0 1 0 4 0 1 0 3 0 2 0 2 0 1 0 1 0 1 0-18 1 10 0 0 0 5 0 6 0-20 1 2 0 0 0 1 0 0 0 4 0 0 0 3 0 0 0 2 0 3 0 1 0 0 0-14 1 0 0 0 0 8 0 1 0 5 0 0 0 0 0-19 1 12 0 3 0 3 0 3 0-18 1 4 0 15 0 0 0 0 0 0 0-16 1 8 0 4 0 1 0 3 0-21 1 2 0 7 0 8 0 0 0 5 0 0 0-23 1 1 0 2 0 2 0 4 0 2 0 1 0 0 0 2 0 1 0 1 0 1 0 1 0 1 0 1 0 1 0-20 1 0 0 3 0 1 0 0 0 4 0 3 0 5 0-17 1 8 0 6 0-14 1 7 0 0 0 2 0 1 0 2 0 2 0 2 0 2 0-18 1 0 0 2 0 3 0 7 0 0 0 2 0 0 0 2 0-14 1 1 0 2 0 2 0 1 0 0 0 0 0 2 0 1 0-11 1 0 1 2 0 2 0 4 0-6 1 2 0 2 0 0 0 1 0 1 0-8 1 1 1 5 0-3 1 2 0 1 0 1 0-7 1 2 0 2 0 2 0-5 1 5 0 16 0 0 0-19 1 2 0 17 0 0 0 7 0 2 0 9 0-15-1 3 0 1 0 3 0 0 0 4 0 1 0 0 0 0 0 0 0 0 0-13-1 1 0 1 0 0 0 1 0 2 0 1 0 2 0 1 0 3 0 1 0 1 0 2 0 1 0 0 0 2 0 2 0 0 0-15-1 10 0 4 0 1 0 2 0-16-1 1 0 1 0 6 0 5 0 0 0 1 0 0 0-16-1 18 0-18-1 2 0 4 0 0 0 7 0 1 0 0 0 0 0 2 0-15-1 0 0 4 0 1 0 2 0 1 0 3 0 6 0-17-1 3 0 5 0 1 0 7 0 0 0 1 0-17-1 5 0 1 0 1 0 5 0 2 0 3 0-16-1 0 0 5 0 5 0 5 0 0 0 1 0 0 0-13-1 1 0 3 0 4 0 4 0-13-1 1 0 1 0 5 0 1 0 0 0 2 0-9-1 2 0 1 0 1 0 2 0 0 0 0 0 5 0 2 0-8-1 2 0 3 0 1 0-8-1 2 0 5 0-19-1 2 0 2 0 13 0 1 0 3 0-21-1 6 0 1 0 6 0 7 0-20-1 3 0 3 0 6 0 5 0 2 0 1 0 1 0-22-1 1 0 6 0 2 0 4 0 1 0 0 0 1 0 2 0 1 0 0 0 3 0 1 0-19-1 2 0 0 0 3 0 10 0 0 0 4 0-20-1 2 0 2 0 2 0 5 0 9 0 1 0-23-1 2 0 2 0 10 0 1 0 2 0-14-1 4 0 1 0 5 0 3 0 3 0 2 0 1 0 4 0 1 0 11 0 1 0 0 0 0 0 3 0 0 0 4 0-18 1 0 0 0 0 1 0 3 0 3 0 4 0 6 0-19 1 1 0 0 0 3 0 4 0 2 0 8 0 1 0-14 1 3 0 3 0 2 0 7 0-20 1 0 0 6 0 0 0 1 0 7 0 2 0 3 0 1 0-22 1 0 0 3 0 9 0 1 0 0 0 1 0 1 0 2 0-17 1 5 0 5 0 1 0 3 0 0 0 1 0 2 0 0 0 4 0-21 1 1 0 1 0 3 0 3 0 3 0 0 0 2 0 3 0-16 1 4 0 1 0 5 0 5 0 0 0 4 0 3 0-19 1 1 0 5 0 4 0 0 0 1 0 2 0-12 1 0 0 0 0 0 0 4 0 1 0 2 0 5 0 3 0 0 0 3 0-22 1 1 0 1 0 8 0 0 0 3 0 2 0 2 0 3 0-20 1 7 0 0 0 1 0 0 0 10 0 1 0 0 0 1 0 3 0-23 1 2 0 3 0 12 0-14 1 3 0 0 0 1 0 0 0 1 0 1 0 5 0 3 0 0 0 5 0-20 1 0 0 6 0 1 0 1 0 1 0 0 0 1 0 0 0 0 0 2 0 3 0 4 0-18 1 6 0 2 0 2 0 7 0 3 0-19 1 5 0 6 0 2 0 5 0-22 1 3 0 2 0 4 0 0 0 4 0 5 0 2 0 3 0 0 0-21 1 3 0 5 0 1 0 1 0 5 0 3 0-18 1 0 0 0 0 3 0 3 0 3 0 0 0 5 0 4 0 0 0 0 0 3 0-22 1 0 0 7 0 6 0 0 0 5 0 1 0 3 0-17 1 1 0 0 0 3 0 6 0 1 0 5 0 1 0-21 1 4 0 4 0 0 0 1 0 2 0 7 0 5 0 22 0-20-1 13 0-16-1 1 0 1 0 5 0-7-1 7 0 8 0 1 0-11-1 0 0 1 0 1 0 4 0 1 0-6-1 1 0 7 0 4 0-18-1 6 0 1 0 7 0-14-1 0 0 7 0 4 0 12 0-17-1 2 0 11 0-18-1 0 0 6 0 3 0 3 0 2 0 3 0-18-1 1 0 0 0 1 0 0 0 4 0 2 0 3 0 1 0 2 0 7 0-21-1 3 0 5 0 12 0-18-1 2 0 5 0 8 0-17-1 2 0 1 0 4 0 4 0 1 0 8 0-19-1 2 0 2 0 4 0 4 0 3 0-15-1 1 0 11 0 4 0-16-1 1 0 3 0 8 0 2 0 2 0 3 0 2 0-20-1 3 0 1 0 5 0 11 0 0 0-20-1 1 0 2 0 3 0 3 0 4 0 1 0 3 0-19-1 0 0 7 0 4 0 1 0 3 0 7 0-20-1 4 0 5 0 1 0 1 0 3 0 5 0-21-1 12 0 3 0 5 0 1 0-17-1 13 0 2 0 4 0-23-1 1 0 5 0 3 0 8 0 0 0 12 0 3 0 0 0 8 0-10 1 4 0 6 0-15 1 10 0 6 0 2 0-18 2 1 0 1 0 1 0 2 1 0 0 17 0-19 1 1 0 10 0 4 0-17 1 0 1 17 0-13 1 7 0 10 0-10 1 9 0 1 0-22 1 0 0 5 0 4 0-5 1 2 0 7 0-11 2 15 0-18 1 7 1 1 0 3 0-6 1 2 0 1 0-5 1 1 0 8 0-12 1 7 0 0 0 1 0-8 2 2 0 1 0 9 0 9 0-19 1 13 0 1 0-15 1 5 0 29-1-7-1 0-1 15 0-18-1 0-1 3-1 12 0-16-1 9-1-9-4 5 0 1 0 9 0 2 0-11-1 17-1-21-1 17 0-9-2-4-1 17 0-10-1-13-3 8 0 0-1 6 0 13 7 3 1-4 4 1 0 8 1 5 9-11 1 19-7-14 23 3-3-36-11 1 1 0 4 13 2-4 1-4 2 16 1-10 2 8 0-32 9 10 0-22-5 1 0 0 0 16-1-5-2 1-1 7-1-3-1 1-3-6-1-10-2 1 0 6 0 3 0 7 0-14-1 5-1 8 0 1 0-6-1-9-1 3 0 5 0-13-1 12 0-29-1 8 0 1 0 1 0 2 0-16 1 5 0 3 0 0 0 9 0-19 1 1 0 14 0 5 0-14 1 9 0 5 0 2 0-22 1 4 0 4 0-6 1 6 0 3 0 9 0-15 1 2 0-8 1 1 0 2 0 5 0 8 0 5 0-18 1 2 0 1 0 6 0 3 0 2 0-17 1 1 0 7 0 1 0 2 0 7 0-9 1 2 0 1 0 4 0 3 0-18 1 2 0 2 0 7 0 8 0-18 1 1 0 3 0 10 0 1 0-8 1 4 0 4 0 0 0 4 0-20 2 4 0 8 0-11 1 6 0 2 0 12 0-21 1 12 0 3 0 5 0-18 1 1 0 3 0 1 0 6 0-8 1 1 0 10 0 5 0-21 1 1 0 1 1 18 0-16 1 6 0 3 0 2 0 5 0-16 1 6 0 11 0-43 0 0 0 9 0 0 0 4 0 5 0-18-1 3 0 0 0 1 0 15 0-22-1 3 0 1 0 2 0 3 0 1 0 8 0 2 0 2 0-11-1 6 0 1 0 0 0 5 0-23-1 1 0 1 0 5 0 2 0 2 0-5-1 0 0 2 0 0 0 3 0 5 0 1 0 4 0-20-1 2 0 0 0 1 0 3 0 6 0 6 0 2 0 0 0 1 0-22-1 0 0 4 0 15 0-16-1 3 0 6 0 10 0-19-1 3 0 0 0 4 0-5-1 1 0 5 0 2 0 0 0 5 0 2 0 2 0-22-1 0 0 3 0 0 0 3 0 1 0 1 0 1 0 2 0 1 0 2 0 4 0 2 0-12-1 2 0 1 0 1 0 2 0 2 0 7 0-12-1 3 0 4 0 0 0 4 0 1 0-17-1 5 0 8 0-19-1 1 0 1 0 2 0 4 0 1 0 1 0 0 0 8 0 2 0-15-1 2 0 2 0 2 0 0 0 11 0-22-1 3 0 3 0 1 0 4 0 2 0 3 0-14-1 0 0 2 0 2 0 0 0 2 0 1 0 4 0 4 0 4 0-21-1 2 0 3 0 1 0 7 0 3 0 7 0-19-1 1 0 9 0 1 0 0 0 5 0-12-1 3 0 2 0 9 0 0 0 1 0-19-1 3 0 3 0 2 0 2 0 2 0 0 0 1 0-17-1 0 0 0 0 0 0 0 0 4 0 2 0 1 0 4 0 4 0 1 0-40 0 2 0 7 0 0 0 2 0 3 0 2 0 1 0 2 0 1 0 2 0-22 1 3 0 7 0 12 0-20 1 0 0-1 1 5 0 0 0-2 1-4 1 3 0 1 0-2 1 19 1 0 0 2 0 0 0 0 1-2 1 1 0 0 0 1 0-2 1 0 1 0 0 0 0 1 0-1 1 0 0-1 1-1 1 4 0 0 0-5 1 0 0 2 0 2 0-7 1 0 0 2 0 2 0 3 0-9 1 2 0 1 0 3 0 3 0-7 1 1 0 3 0-8 1 2 0 8 0 1 0-7 1 1 0 1 0 0 0 0 0 3 0 2 0-8 1 0 0 9 0-12 1 8 0-9 1 0 0 5 0 1 0 4 0 2 0 0 0-30-9 0 0-2-1 4 0 1 0 1 0 0 0-6-1 1 0 5 0-7-1 1 0-12-1 0 0 14 0 0 0-16-1 19 0 1 0 1 0-21-1 1 0 1 0 1 0 3 0 0 0 1 0 4 0 1 0 2 0-14-1 0 0 4 0 0 0 2 0 5 0 2 0 1 0 2 0 4 0 0 0 0 0-19-1 2 0 4 0 8 0 0 0 5 0-14-1 13 0 0 0 0 0 0 0 4 0-21-1 1 0 3 0 6 0 2 0 2 0 0 0 0 0 2 0 5 0-16-1 1 0-2-1 0 0 9 0 7 0-20-1 3 0 0 0 0 0-5-1 1 0 2 0 2 0 0 0 3 0-31 0 2 0 8 0 1 0 0 0 3 0 8 0 0 0-22 1 2 0 0 0 6 0 3 0 3 0 5 0-20 1 2 0 2 0 3 0 4 0 0 0 1 0 0 0 0 0 0 0-9 1 14 0 1 0 3 0-20 1 5 0 6 0 1 0 5 0 1 0-19 1 2 0 2 0 0 0 1 0 0 0 7 0 6 0 2 0 2 0 0 0 1 0-19 1 1 0 0 0 1 0 1 0 14 0 1 0-21 1 1 0 3 0 4 0 5 0 3 0 2 0 2 0 1 0-22 1 5 0 1 0 1 0 0 0 8 0 0 0 2 0 2 0 2 0-21 1 0 0 1 0 7 0 2 0 4 0 3 0 1 0 2 0 0 0 0 0-20 1 1 0 4 0 1 0 1 0 2 0 2 0 1 0 0 0 1 0 1 0 3 0 2 0-18 1 1 0 1 0 3 0 1 0 2 0-7 1 8 0 1 0 3 0 1 0 0 0 0 0 1 0-16 1 0 0 2 0 1 0 1 0 4 0 3 0 3 0 1 0-15 1 2 0 2 0 1 0 9 0-14 1 3 0 4 0 4 0 4 0-2 1-8 1 0 0 3 0 1 0 0 0 0 0 1 0 4 0 0 0-8 1 1 0 0 0 3 0 1 0-3 1-32 4 1 0 0 0-1-1 2 0-1-1 1 0-1-1 1 0 0-1 13 0 3 0-16-1 11 0 2 0 3 0 3 0-19-1 0 0 1 0 2 0 10 0 0 0 3 0 1 0-18-1 1 0 10 0 2 0 0 0 4 0 2 0 2 0-19-1 2 0 0 0 8 0 3 0 3 0 1 0-17-1 1 0 6 0 1 0 7 0 1 0-18-1 4 0 5 0 2 0 0 0 3 0 2 0 1 0-17-1 4 0 1 0 0 0 6 0 4 0 3 0 3 0-19-1 3 0 3 0 1 0 2 0 0 0 8 0-19-1 4 0 1 0 4 0 11 0 2 0-21-1 3 0 1 0 3 0 2 0 2 0 8 0-18-1 3 0 2 0 3 0 0 0 0 0 6 0 1 0-18-1 3 0 1 0 7 0 1 0 6 0 1 0 4 0-21-1 3 0 3 0 0 0 2 0 0 0 1 0 2 0 4 0 3 0-20-1 3 0 1 0 4 0 1 0 5 0 4 0 1 0 3 0-20-1 3 0 1 0 7 0 1 0 2 0 0 0 2 0 0 0 4 0-17-1 2 0 1 0 2 0 1 0 0 0 1 0 1 0 0 0 1 0 8 0-20-1 14 0 3 0 0 0 3 0 1 0-13-1 2 0 4 0 4 0 0 0 3 0-11-1 1 0 3 0 0 0 4 0 0 0 2 0-39 0 3 0 12 0-21 1 3 0 7 0 8 0-16 1 11 0 2 0-15 1 1 0 3 0 0 0 2 0 2 0 8 0 4 0-21 1 2 0 6 0 2 0 6 0 0 0-14 1 3 0 2 0 3 0 2 0 4 0 6 0-8 1 3 0 2 0 4 0-7 1 1 0 4 0 1 0-16 1 8 0 4 0-18 1 14 0 1 0 1 0 1 0-13 1 5 0 2 0 1 0 10 0 0 0-20 1 4 0 0 0 2 0 1 0 5 0 2 0 0 0 1 0 1 0-7 1 1 0 6 0 5 0 0 0-22 1 3 0 2 0 0 0 2 0 1 0 5 0 1 0 0 0 1 0 0 0 3 0-15 1 12 0 2 0 0 0 1 0 0 0 2 0-9 1 1 0 3 0 7 0-22 1 3 0 2 0 4 0 3 0 2 0 0 0 1 0 2 0 1 0 2 0 1 0-14 1 3 0 5 0 7 0-20 1 12 0 2 0 5 0-21 1 3 0 1 0 2 0 7 0 1 0 0 0 1 0 5 0 1 0-17 1 3 0 5 0 5 0-17 1 7 0 0 0 2 0 1 0 0 0 0 0 2 0 4 0 6 0 0 0-12 1 3 0 2 0-6 1 4 0 4 0 4 0-37 0 3 0 3 0 5 0-20-1 11 0 9 0-19-1 8 0 0 0 1 0 5 0 1 0 3 0 2 0 2 0-21-1 2 0 1 0 7 0 8 0 2 0-20-2 15 0 3 0 0 0 1 0-17-1 8 0 7 0-18-2 11 0 6 0 4 0-16-1 1 0-7-2 0 0 6 0 13 0 4 0-12-1 3 0 3 0 2 0-13-1 4 0 2 0 0 0 2 0 2 0 0 0 3 0 0 0 3 0-22-1 5 0 18 0-23-1 22 0-17-1 8 0 4 0 1 0-5-1-9-1 2 0 5 0 9 0 0 0-13-1 1 0 6 0-2-1-9-1 14 0 4-1-9-1 3 0-36 0 20 0-19 2 19 0-20 1 4 0 13 1-16 2 3 1 8 0-10 2 12 0-9 1-5 1 4 0 2 0-5 1 1 0 2 0 11 0 2 0-8 1 5 0 4 0-17 1 10 0 3 0 2 0-15 1 8 0 3 0-14 1 10 0 8 0-18 1 1 0 18 0 1 0 1 0-20 1 3 0 14 0-16 1 15 0-2 1 0 0 7 0-21 1 2 0 1 0 17 0-16 1 10 0-16 1 3 0 0 0 2 0 6 0 3 0 1 0-32 0 5 0 8 0-16-1 2 0 14 0-15-1 8-1-4-1 13 0-8-1-2-1 9 0 2 0-23-2 2-1 0-2 3 0 14-1 2-1-12-2 7 0 5-1-16-2 7 0-6-2 16-1-12-1 4-1 7 0-40 0 18 2-1 1-9 1 8 0 0 3-6 1-8 1-2 1 3 2 12 0-6 1-4 1 2 1 11 1-2 1 1 0-21 1 3 0 0 1 1 2 4 0 14 0-17 1 12 0-18 1 1 0-15 0-10-2 3 0 0-2 10-2 5 0-17-3 3-2 0-1 2-1 3-2-9-1 11 0 4-2-13-1 7 0 6-1 2-1-16-2 22 0-27 0 3 3-5 1-7 1 9 3 2 1-3 5-5 2 2 2 6 0-6 3-11 1 13 0 0 1-23 0-9-1 13-1-18-1 5-1-9-3 6-4 11 0 2 0 1-1-14-1 12-1-39-9 13 9-6 3-9 6 6 2 6 1-11 1 19 0-25 0-4-2 0 0-29-6 6 1 2 3-36 3 6 0 8-14 0-7-59 23-6-11-13-5-21 7 4-4-103 3-26 5-39-5-275 5-95-13 338 41 14-15 57 8-6-15 86 5-1 1 9 14 17-4-3-10 15-4-3 13 37 6-5-3-11-1 8-5 21 4-5 1-3 1 13 1 16-3-2-5 17 0-22-1 12-1-4-1 17 1 5 3-5 5 31 6 8-2 6 0-13-2 4 0-7-4 4-1-6-1 8-2-9-9 28-2-6 1 11 0 7 4-17 6 19 0-20 1 2 4-2 1 1 2 14 1 4 0-14 3 14 0 2 0 3-6 6-3 3 0-6-1 8 0 11-7-12-1 2-1 10 0-10-1 1-3 31 0-12 1 12 0 2 2-8 3 4 1-18 1 21 0-5 1-1 1 3 1-16 2 5 1 3 0 1 0 11 2-3 1-19 1 6 1 7 1 3 0-8 2 16 1 9 0 6-2 1 0-17-1 5-1 15 0 3 0-22-1 8 0 1 0 8 0-13-2 17 0-22-1 7 0 4 0-10-1 18-1-3-1-7-1-2-1 13 0-11-6 9-1-13-1-5-2 30 0 11 0-5 1 8 1-19 1 5 0-2 1 15 0-6 3-12 1 3 0 10 0 9 0-11 1 11 2-3 2-3 2 6 0-11 1 9 0-19 3 10 0 0 1 7 0-11 1 9 0 0 0-17 1 14 0-5 1 1 0 1 0 27-1 8 0 0 0-18-1 0-1 0 0 3 0 3 0 1 0 3 0 2 0 5 0 1 0 0 0-7-1 3 0-18-1 19 0-11-2 8 0 6 0 1 0-23-1 10 0 3 0 2 0 1 0-7-1 11 0 3 0-14-1 9 0 1 0-11-2 7 0-14-1 6-1 12 0-16-1 17-2-17-1 1 0 10 0 1 0 5 0 0 0-15-1 3 0 6 0 3 0 4 0 1 0-5-1-14-1 13 0 1 0-3-1-11-1 14 0 3 0 16 0 7 0 4 0-14 1 11 0 1 0 2 0-5 1 1 0-13 1 6 0 11 0-10 1 4 0-12 1 3 0 4 0 7 0 4 1-23 1 4 0 11 0-15 1 6 0 3 0 3 0 1 0 0 0 2 0 0 0-12 1 5 0 1 0 3 0 0 0 3 0-3 1 4 0 5 0 2 0-8 1 5 0-4 1 6 0 1 0-17 1 6 0 3 0 6 0-8 1 0 0 2 0 0 0 3 0-16 1 10 0 4 0-13 1 1 0 5 0 8 0-11 1 11 0 0 0 4 0-19 1 3 0-1 1 2 0 7 0-11 1 6 0 1 0 2 0 5 0 7 0-19 1 7 0 0 0 11 0-18 1 3 0 1 0 10 0 4 0-14 1 5 0 0 0 1 0 14 0 4 0 3 0 5 0 2 0-13-1 1 0 0 0 1 0 12 0 4 0 0 0-16-1 8 0 6 0-15-1 1 0 2 0 2 0-7-1 0 0 0 0 2 0 1 0 14 0-9-1 10 0 1 0 0 0-17-1 1 0 4 0 5 0 3 0 0 0-14-1 16 0-20-1 6 0 6 0-10-1 8 0 0 0 7 0-18-1 8 0 13 0-18-1 3 0 2 0 3 0 1 0 5 0 1 0 2 0-15-1 2 0 0 0 1 0 1 0 4 0 0 0 2 0 6 0-20-1 2 0 6 0 10 0 2 0-19-1 2 0 6 0 3 0 2 0 3 0 0 0 4 0-19-1 1 0 7 0 1 0 3 0 3 0-6-1 2 0 4 0-4-1 6 0 1 0-20-1 2 0 20 0-21-1 0 0 1 0 3 0 8 0 3 0-11-1 7 0 3 0 6 0-17-1 1-1 11 0 3 0 0 0-20-1 0 0 7 0 2 0 13 0 8 0 3 0 3 0 1 0 0 0 0 0 5 0 3 0-21 1 5 0 1 0 4 0 6 0-16 1 2 0 3 0 9 0-9 1 5 0 4 0 3 0 2 0 1 0-14 1 1 0 1 0 11 0 1 0-15 1 14 0 0 0 0 0 2 0-21 1 4 0 2 0 1 0 7 0 0 0-10 1 19 0 0 0-20 1 2 0 9 0 3 0 3 0-20 1 7 0 0 0 2 0 3 0 0 0 9 0-21 1 1 0 18 0-17 1 4 0 4 0 0 0 8 0 2 0-19 1 2 0 3 0 1 0 1 0 3 0 2 0 10 0-23 1 3 0 1 0 1 0 2 0 5 0 7 0 1 0 2 0 0 0 0 0-19 1 6 0 1 0 5 0 7 0-20 1 6 0 0 0 1 0 1 0 4 0 0 0 0 0 3 0 1 0 1 0 0 0-18 1 1 0 0 0 5 0 11 0 4 0-21 1 5 0 3 0 2 0 1 0 3 0 2 0 0 0 4 0-21 1 4 0 0 0 0 0 2 0 7 0 0 0 3 0 0 0 1 0-14 1 2 0 5 0 4 0 0 0 1 0 1 0-16 1 1 0 1 0 1 0 4 0 4 0 7 0-15 1 6 0 4 0 1 0 1 0-15 1 0 0 1 0 1 0 3 0 5 0 2 0-9 1 2 0 3 0 8 0 2 0 1 0 0 0 6-8 0-1 0 0 0-1 4 0 1 0-4-1 1 0 1 0 2 0 2 0-6-1 7 0-9-1 1 0 0 0 6 0 2 0 0 0-7-1 2 0 2-1 2 0-8-1 0 0 1 0 4 0 3 0 6 0 2 0 4 0-19-1 3 0 1 0 2 0 10 0 0 0 4 0-18-1 0 0 2 0 0 0 1 0 4 0 1 0 2 0 3 0 2 0 3 0-20-1 3 0 0 0 0 0 3 0 3 0 1 0 2 0 2 0 6 0 0 0 0 0 0 0 1 0 1 0-23-1 1 0 0 0 1 0 3 0 2 0 5 0 2 0 1 0 7 0-22-1 10 0 5 0 2 0 2 0-14-1 3 0 1 0 2 0 0 0 1 0 0 0 5 0 4 0 1 0-5-1 0 0 2 0 4 0 1 2 0 0 1 0-1 1 0 0 70 3 1 0-2 4 2 0-2 1 1 0 0 1 0 0 0 0-2 1 1 0 0 0 1 0-1 1-2 2 0 1 3 0-1 1-2 1 0 0 1 0 0 1 1 0 1 1 0 0 0 0 1 0-10 2 13 0 1 0 7 0 7 0 1 0-18-1 3 0 9 0 0 0 6 0 5 0-21-1 2 0 4 0 8 0 0 0 5 0-19-1 1 0 1 0 2 0 1 0 5 0 3 0 6 0 1 0-21-1 5 0 2 0 1 0 0 0 1 0 7 0 5 0-18-1 0 0 3 0 0 0 0 0 1 0 3 0 4 0 1 0 1 0 0 0 2 0 2 0 2 0-23-1 1 0 0 0 3 0 0 0 2 0 2 0 4 0 0 0 5 0 3 0 1 0 0 0-19-1 0 0 6 0 2 0 1 0 0 0 1 0 1 0 0 0 2 0 4 0-17-1 1 0 7 0 4 0 3 0-17-1 2 0 13 0 5 0 2 0-12-1 2 0 6 0 2 0 3 0-22-1 11 0 1 0 3 0 4 0 3 0-22-1 7 0 1 0 2 0 0 0 1 0 3 0 0 0 1 0 4 0 1 0-21-1 1 0 0 0 1 0 0 0 0 0 1 0 3 0 3 0 1 0 0 0 4 0 4 0 1 0 1 0 0 0 1 0 2 0-23-1 1 0 10 0 3 0 4 0 0 0 3 0 2 0-21-1 4 0 0 0 17 0-22-1 7 0 1 0 1 0 5 0 8 0-19-1 0 0 3 0 1 0 2 0 4 0 1 0 2 0 0 0 3 0 0 0-20-1 3 0 0 0 6 0 5 0 3 0 0 0 2 0-17-1 0 0 6 0 4 0 4 0 3 0-15-1 0 0 1 0 1 0 3 0 1 0 3 0 1 0 2 0 2 0 1 0 3 0-14-1 0 0 1 0 5 0 2 0 3 0 0 0 0 0 2 0 2 0-14-1 5 0 8 0-12-1 1 0 0 0 2 0 2 0 3 0 3 0 2 0 2 0 2 0 0 0 6 0 3 0 11 0-23 1 2 0 2 0 0 0 7 0 1 0 6 0-12 1 2 0 8 0-16 1 2 0 10 0 3 0 1 0 3 0 2 0-16 1 5 0 1 0 0 0 1 0 3 0 3 0 4 0-22 1 0 0 0 0 1 0 3 0 0 0 2 0 3 0 5 0 0 0 4 0 5 0-21 1 1 0 3 0 0 0 1 0-5 1 3 0 1 0 3 0 0 0 5 0 6 0-19 1 4 0 7 0 0 0 4 0 0 0-15 1 5 0 13 0 3 0-19 1 3 0 1 0 6 0 2 0 2 0 4 0-21 1 2 0 4 0 3 0 3 0 7 0 1 0 2 0-21 1 12 0 1 0 0 0-12 1 0 0 1 0 1 0 6 0 1 0 0 0-6 1 4 0 5 0 0 0 7 0-15 1 2 0 10 0 2 0 1 0-21 1 6 0 4 0 3 0 2 0-10 1 3 0 2 0 3 0 2 0-10 1 13 0 1 0-18 1 3 0 1 0 9 0-12 1 1 0 7 0 5 0 0 0 2 0 5 0-22 1 1 0 1 0 16 0 0 0 1 0 3 0-12 1 0 0-7 1 0 0 1 0 2 0 2 0 7 0 25 0-10-1 4 0-7-1 9 0 8 0-19-1 7-1-6-1 5-1 1 0-3-1 14 0-16-1 19 0-20-3 10 0 1 0-8-1-4-1 0 0 11 0-8-1 0 0 13 0-13-1 10 0-10-1 3 0 13 0-19-2 5 0 16 0-22-1 1-1 15 0 4 0-7-1 4 0-1-1-6-1 4 0 18 1-7 1 6 0 0 0-7 4 0 0 1 0-1 4 4 0-4 2 3 3 5 1-4 2-3 1 16 0-16 1 6 0 1 0-8 1 6 0-4 2 30 0 11-14-11-4-1-4-7-1 34 8-4 1 3 27-43 8-8-2-3-10 13 0-16-6-10-2 7 0-19 2 21 0-17 1 8 0 5 0-13 1 8 0-13 2 1 1 8 0 3 0-3 1-3 2-3 2 1 0 0 0-4 1-1 2 3 0 6 1 1 2 6 0-16 2 9 2-23 1 8 0 1 0-13-1 9 0-11-1 13 0-10-1 3 0-10-1 2 0 1 0 8 0 4 0-15-1 8 0-5-1 2-1 8 0 9 0-21-1 1 0 3 0 5 0 0 0 5 0-15-1 6 0 10-1-6-1 7 0-8-1-6-1 5 0 12 0-14-1 15 0-13-1 3 0-9-2 1 0 13 0-8-1 9 0-5-1 2 0-8-1 9 0 4 0 2 0-15-1 5 0 3 0 1 0-12-1 6 0-6-1 8 0-35 0 3 0 0 0 5 0 0 0 3 0 2 0 3 0 4 0-20 1 0 0 0 0 18 0-18 1 0 0 7 0 2 0 5 0 3 0-17 1 2 0 0 0 0 0 3 0 14 0-17 1 11 0 4 0 1 0-18 1 4 0 5 0 4 0 2 0 2 0 4 0-20 1 2 0 4 0 3 0 0 0 2 0 4 0 1 0 1 0 2 0 1 0-21 1 1 0 5 0 1 0 3 0 2 0 5 0 2 0 0 0-16 1 1 0 12 0-14 1 2 0 2 0 0 1 0 0 1 0 5 0 1 0 0 0 7 0 3 0-17 1 2 0 1 0 0 0 0 0 0 0 1 0 1 0 2 0 7 0-20 1 1 0 6 0 1 0 0 0 0 0 3 0 0 0 0 0 4 0 5 0-14 1 9 0 3 0 2 0 3 0-23 1 2 0 6 0 11 0-12 1 5 0 1 0 3 0 5 0 1 0-22 1 7 0 1 0 1 0 8 0-16 2 5 0 4 0 1 0 5 0-15 1 11 0 1 0-1 1 4 0 3 0 1 0-19 1 4 0 8 0 1 0 9 0-19 1 9 0 1 0 1 0 5 0 1 0 0 0-19 1 1 0 2 0 1 0 5 0 2 0 9 0 1 0-47 0 3 0 1 0 4 0 3 0 0 0 1 0-10-1 0 0 1 0 4 0 4 0 1 0 0 0 1 0 4 0 0 0 4 0 1 0 1 0-20-1 0 0 4 0 0 0 4 0 4 0 2 0 4 0 0 0-21-1 6 0 3 0 1 0 11 0-15-1 2 0 1 0 3 0 1 0 5 0 0 0 3 0-12-1 1 0 0 0 5 0 0 0 2 0 2 0-10-1 1 0 2 0 1 0 3 0 0 0-2-1 2 0 1 0 1 0 1 0 2 0-13-1 1 0 8 0 3 0-12-1 1 0 0 0 1 0 1 0 1 0 6 0 1 0 3 0-13-1 6 0 1 0 0 0 1 0 0 0 4 0 2 0-6-1 3 0 0 0-14-1 2 0 2 0 1 0 1 0 1 0 1 0 3 0 4 0-17-1 1 0 3 0 1 0 1 0 4 0 1 0-4-1 0 0 1 0 2 0 2 0 4 0-17-1 1 0 4 0 2 0 6 0 7 0-19-1 3 0 1 0 1 0 3 0 7 0 0 0-14-1 9 0 2 0 3 0 2 0-18-1 2 0 4 0 2 0 6 0 2 0 1 0 0 0 3 0-19-1 0 0 3 0 0 0 7 0 1 0 2 0 1 0 2 0 0 0 1 0 1 0 0 0-12-1 4 0 1 0 0 0 2 0 5 0-15-1 1 0 1 0 0 0 1 0 0 0 0 0 2 0 2 0 3 0-3-1 1 0-3-1-19 19 1 0 3 0 1 0-6 1 0 0 4 0 0 0 0 0 1 0 1 0-7 1 0 0 2 0 1 0 1 0-9 1 1 0 0 0 4 0-1 1 0 0 2 0 6 0 0 0-70-19 1 0 2 1 0 1-3 1 0 1 3 0 2 0 0 1 0 0-5 1 1 0 1 0 1 1 1 0 0 0-2 1 0 0-26-1 2 0 20 0-20-1 1 0 1 0 0 0 2 0 16 0-22-1 2 0 4 0-4-1 0 0 1 0 4 0 14 0 0 0 0 0 2 0-20-1 18 0 0 0 2 0-21-1 3 0 1 0 1 0 2 0 2 0-8-1 5 0 0 0 0 0 4 0 0 0 1 0 0 0 1 0-9-1 4 0-8-1 3 0 0 0 1 0 4 0 0 0 3 0 4 0-7-1 1 0 1 0 2 0 2 0-15-1 1 0 2 0 0 0 3 0 0 0 6 0 2 0 2 0 2 0 1 0-19-1 1 0 2 0 0 0 0 0 1 0 2 0 0 0 7 0 1 0 3 0 2 0 0 0-38 0 5 0 2 0 1 0 2 0 8 0-22 1 7 0 0 0-4 1 3 0 6 0-11 1 2 0 10 0 6 0 0 0 1 0-20 1 5 0 3 0 0 0 9 0 3 0-18 1 6 0 2 0 1 0 7 0 1 0 1 0 1 0-22 1 1 0 11 0 3 0 1 0-13 1 4 0 2 0 0 0 2 0 0 0 3 0 2 0 3 0 1 0-19 1 1 0 4 0 1 0 2 0 1 0 9 0 4 0-12 1 2 0 4 0 2 0 4 0-21 1 1 0 0 0 3 0 1 0 3 0 1 0 4 0 3 0 3 0 0 0 1 0 1 0-22 1 2 0 1 0 4 0 1 0 2 0 6 0 3 0 0 0-14 1 1 0 0 0 1 0 0 0 5 0 5 0 1 0-16 1 2 0 5 0 1 0 0 0 3 0 3 0-14 1 1 0 4 0 4 0 5 0 2 0 2 0-17 1 5 0 0 0 7 0 2 0-17 1 0 0 4 0 0 0 5 0 5 0 2 0 2 0-17 1 1 0 5 0 1 0 1 0 0 0 5 0 2 0 1 0 3 0 0 0-20 1 2 0 3 0 0 0 1 0 1 0 2 0 1 0 1 0-10 1 1 0 1 0 0 0 4 0 2 0 6 0 3 0-18 1 1 0 1 0 0 0 10 0 1 0 1 0 1 0 1 0-16 1 7 0 2 0 1 0 5 0 1 0 1 0-18 1 6 0 4 0 1 0-1 1 5 0-35 0 1 0 1 0 1 0 1 0 7 0 1 0 0 0 2 0 0 0 0 0 2 0-19-1 1 0 1 0 2 0 0 0 1 0 1 0 11 0 3 0 1 0 0 0-21-1 6 0 1 0 7 0 5 0 1 0 0 0-20-1 1 0 4 0 0 0 1 0 2 0 2 0 2 0 1 0 1 0 3 0 4 0 0 0 1 0-22-1 8 0 3 0 1 0 2 0 8 0-23-1 2 0 5 0 15 0-20-1 2 0 3 0 1 0 1 0 9 0 3 0 0 0 1 0-8-1 2 0 1 0 0 0-15-1 0 0 1 0 6 0 6 0 2 0-16-1 0 0 4 0 4 0 2 0 10 0 2 0-19-1 2 0 1 0 2 0 4 0 1 0 9 0-19-1 1 0 5 0 4 0 3 0 3 0 2 0 1 0 0 0-17-1 7 0 6 0 2 0 1 0 0 0 1 0-20-1 7 0 0 0 2 0 2 0 4 0 2 0 3 0-21-1 8 0-10-1 3 0 8 0 4 0 3 0 1 0 4 0-13-1 3 0 1 0 0 0 6 0-16-1 5 0 10 0 3 0 0 0 0 0-13-1 1 0 2 0 1 0 3 0 3 0 0 0 3 0 0 0-15-1 12 0 2 0 0 0 2 0-13-1 4 0 2 0-11-1 2 0 0 0 11 0-17-1 4 0 4 0 5 0 1 0 4 0 1 0-12-1 2 0 1 0 8 0-38 0 15 0-17 1 5 0 0 0-2 1 1 0 7 0 1 0 0 0 7 0-12 1 1 0 6 0 3 0-8 1 3 0 3 0 2 0 2 0-14 1 6 0 8 0-6 1 0 0 4 0 1 0-17 1 5 0 3 0 9 0-17 2 2 0 2 0 6 0 3 0 0 0 1 0-11 1-3 1 6 0 0 0 1 0 1 0 2 0 1 0 7 0-17 1 8 0 4 0 1 0-6 1 5 0-14 1 5 0 0 0 4 0 1 0 1 0 7 0 2 0-5 1-17 1 4 0 2 0 2 0 7 0-11 1 0 0 1 0 2 0 1 0 1 0 7 0 5 0 1 0-18 1 9 0 2 0 6 0-20 1 3 0 4 0 2 0 2 0 8 0 1 0 1 0-19 1 4 0 1 0 11 0-14 1 5 0 1 0 4 0 1 0 1 0-18 1 3 0 10 0 5 0 5 0-13 1 13 0-42 0 12 0 3 0 1 0 2 0-22-1 3 0 8 0 1 0 1 0 3 0 1 0 3 0 1 0-20-1 5 0 5 0 1 0 5 0-17-1 4 0 11 0-4-1 4 0-9-1 16 0-22-1 0 0 2 0 0 0 5 0 7-1-12-1 5 0-6-1 9 0 8 0 1 0 2 0 1 0-23-1 4 0 6 0 5 0 3-1-1-1-16-1 9 0 11 0-12-1 10 0 0 0 0 0 3 0-20-1 2 0 4 0 1 0 8 0-15-4 5 0 10 0 1 0-18-1 1 0 3 0 10 0 4 0 5 0-6-1 6 0-20-1 15 0 4 0-45-1 7 0 12 0-1 1-9 2 0 2 6 0 0 1-14 1 6 0 0 0 7 1-7 1 9 0-1 1-5 1 3 1-9 1 1 0 13 0 3 0-21 1 0 0 5 0 5 0 6 0-14 1 8 0-4 1 9 0-13 1 4 0 8 0 6 0-16 1 3 0 3 0-1 1 3 0 6 0 4 0-19 1 0 0 4 0 10 0 3 0-10 1 4 0 5 0 2 0-19 1 2 0 2 0 6 0-4 1 5 0 7 0 1 0-40 0 8 0 0 0-8-3 7 0 8-1-14-2 9 0 4 0 3 0 0-1-23-1 5 0 2 0 15 0-16-1 6 0-4-2-6-1 2 0 14 0 5-2-17-1 6 0 8 0-20-1 4 0 0 0 9 0-4-2 12-1-13-1 6 0 7 0 1 0-17-1 13-1-14-1 14 0-34 1 2 0 9 1-11 1 11 1 1 1-5 1 5 0-19 1 7 1 0 0-1 1 2 0 6 0-9 1-6 2 18 1 4 0-14 1 2 0-3 2 3 0 4 1-7 3 6 0 8 2-9 1 3 0 0 0-38 0 7 0 8-1-4-1 7 0-19-2 1 0 4 0 8 0 7-1-13-1 12 0-13-3 15 0 2 0-10-2 6 0-4-2 5-1-7-2 5 0-16-1 17 0 0-1-9-2 8 0-29-3-2 2-1 1 8 0-9 1 0 1-6 1 19 0-6 2 4 1-18 2 13 0 5 1-8 5-4 1 10 0-5 1 0 0 7 1-9 1 8 0 2 0 1 0-16 1 1 1 9 0-40-2 16 0-12-1 3 0 11-1-10-3 13 0-9-1 2 0 3-1-9-1 12-4-10-2 13-1-17-3 15 0 0 0 0 0-6-1 6-2-29 2-1 1-15 2 11 2 6 2-9 1-5 5-2 2 14 1-1 1 7 0-2 2-7 1 3 0 8 0-18 1 10 0-21 0 1 0-19-4 6 0 0 0 1-1 0 0 10-6 5 0-21-1-1-1 8-2 14-1-19-4 0 0 0 0 19 0-39 0 0 0-5 5 21 0-22 1 12 0 1 0-14 1 13 2-4 4 13 2-3 3-43 2 13-2 9-9-21-2 7-7-3-2-23 2 0 0-6 19-14 1 12-7-7-6-15-7 0 0 0 0-1 1 0 0-3 3-3 3-4 4-4 4-2 2-3 3-19-7-4-6 0 0 2-2-17-3-37 14 2-14 14-2 0 0-56 0-16 4-22 4-41-8 0 0 20 3-3 4 4 8-25-10-50-7-81 2 0 0 0 0-23 23 0 1 202 11 19 6-6-19 40 16 10-10-5-7 28 20 6 1 12-2-2-8 8-7 28 7-1 1-2 2-5 5-1 1-3 3 25-2-4-1 8-3 14-7-20-10 19 0 3 8-1 1 0 0 22 4-16 3-3 3 12 1 6 0 15 2 3-3 2-2 4-4 0-1-20-2 0 0 4-4 29-6-5 5-5 5 18 2-10 2 7 1 0 0 5 0-6 1-1 1-12 2 18 2 4 2 9 0 5-2 9-1-16-1-6-4 15 0 6-4-15-1 14 0-19-1 19 0-11-2 2-2 14-5 0 0 22 7-2 1-4 1 6 1-16 1 8 3-12 1 11 1-6 3 7 0-2 1 0 1 2 0-4 1-8 1 24 0 4 0 7 0 1 0-13-1 13 0-6-2 9 0-18-3 4 0 8 0 1 0 8 0 0-1-15-1 6 0 7-1 4 0-14-2 5 0-3-1 5 0-16-2 3 0 5 0 9-2 5 0-15-2 9 0-3-1-6-1-3-1-1-1 12 0 6-1 22 0-15 1 14 0-7 1-6 2 5 0-5 4 9 0 3 0-13 2 18 0-15 1 14 0 2 0-1 1-15 1-1 1 8 0 1 0-7 1 12 1-12 2-7 1 0 1 2 0 0 0 9 0 0 0 8 0-20 1 16 0 0 0-12 1-1 1 16 0 7 0 8 0 6-1 7 0-19-1 0 0 16-1-10-1 11 0 2 0-23-1 12 0 2 0 1 0 2 0 2 0 0 0 1 0-12-1 8 0 6-1 0 0-12-1-7-1 14 0 0 0-5-1 5 0 5 0-4-1-4-1 5 0-15-1 5 0-5-1 0 0 11 0 7 0-22-1 11 0 10-1-12-1 3 0-3-1 5 0-10-1 6 0 7 0 4 0 0-1-17-2 3 0 7-1 10 1 6 0 10 0 5 2-10 2 9 0-19 1 2 0 14 0-15 1 0 0 9 0 3 0 4 0-10 1 5 0-12 2 3 0 9 0 8 0-19 1 3 0 3 0 6 0-8 1 5 0 8 0-2 1 1 0-4 1 3 0 3 0 2 1-14 1 0 0 1 0 11 0 3 0-20 1 1 1 8 0 6 0-15 1 14 0 4 0 0 1-18 2 12 0-12 1 5 0 10 0 3 0 0 0 0 0 7 0 4 0 1 0 12 0-18-1 13 0 6 0-4-1 1 0-14-1 11 0 2 0 1 0 4-1-4-1-16-1 5 0 3 0 10 0 0 0 2 0 0 0-21-1 0 0 2 0 1 0 2 0 5 0 9 0-15-1 3 0 0 0 5 0 4 0-6-1 6 0 1 0-5-1 1 0 5 0-16-1 16 0-13-2 3 0 13-1-15-1 2 0-3-1 2 0 6 0-15-1 5 0 5 0 8 0 5 0-15-1 0 0 1 0-6-1 13 0 4 0-4-2 0 0 2 0-12-1 15 0 5-1 7 0 2 0 5 0-9 2 13 0-19 1 2 0 6 0 6 0 5 0 1 0-19 1 6 0 12 0 3 0-17 1 9 0 6 0-18 1 9 0 3 0 0 0-12 1 7 0 2 0 4 0 2 0-8 1 9 0 4 0-9 1 2 0 3 0 1 0-15 1 5 0 5 0 7 0-17 1 12 0-9 1 1 0 1 0 2 0 4 0-14 1 17 0-18 1 6 0 0 0-6 1 15 0-9 1 5 0 10 0-19 1 5 0 1 0 3 0 8 0-11 1 12 0-21 1 9 0 3 0 10 0-17 1 7 0 2 0-2 1 1 0-13 2 12 0 1 0 3 0 2 0 11 0 0 0 3 0 1 0 0 0 5 0 0 0 2 0-13-1 1 0 4 0 5 0 2 0 1 0 4 0-18-1 10 0 1 0 8 0-12-1 8 0 0 0 5 0-13-1 0 0 0 0 11 0-20-1 2 0 3 0 2 0 3 0 0 0 4 0 1 0 0 0 1 0-10-1 9 0 2 0 2 0 2 0-21-1 6 0 9 0 2 0 5 0-17-1 8 0 1-1 3 0 4 0-10-1 5 0-15-1 4 0 0 0 2 0 4-1 4 0 2 0 3 0-15-1 11 0 0 0 4 0-19-1 3 0 2 0 0 0 1 0 12 0 3 0-8-1 9 0-18-1 1 0 12 0 0 0-17-1 7 0 7 0 3 0 5 0-7-1 3 0-15-1 2 0 15 0-20-1 0 0 4 0 7 0 3 0 8 0-21-2 6 0 11 0 1 0 3 0-21-1 0 0 10 0 1 0 6 0 1 0 1 0 3 0 4 0 4 0 0 0 2 0 5 0 0 0 2 0 6 0-20 1 5 0 9 0 2 0 2 0-20 1 13 0 4 0 3 0 2 0-22 1 2 0 3 0 8 0 2 0 5 0-14 1 1 0 1 0 2 0 5 0 2 0-17 1 0 0 7 0 0 0-4 1 3 0 14 0-21 1 6 0 9 0 1 0 1 0-11 1 7 0 4 0 1 0-16 1 4 0 6 0 8 0 2 0-22 1 3 0 0 0 6 0 4 0 3 0 1 0 2 0 0 0-12 1 9 0 0 0 1 0-17 1 1 0 0 0 3 0 3 0 10 0-15 1 3 0 6 1 3 0 2 0 1 0 0 0 1 0 4 0 1 0-16 1 0 0 5 0 1 0 3 0 1 0-16 1 13 0 1 0 0 0-14 1 4 0 1 0 6 0 2 0 0 0 3 0 3 0 3 0-14 1 9 0 0 0 0 0 1 0 2 0 0 0-18 1 4 0 1 0 2 0 3 0 2 0 1 0 4 0-19 1 1 0 4 0 8 0 1 0 2 0 1 0 1 0-18 1 1 0 0 0 8 0 3 0 1 0 3 0 2 0 3 0-21 1 10 0 3 0 0 0 8 0 1 0-13 1 1 0 6 0 2 0 1 0 9 0 1 0 2 0 3 0 1 0 2 0 0 0 4 0 3 0 1 0 1 0-20-1 2 0 1 0 6 0 9 0 0 0-21-1 8 0 4 0 3 0 2 0 4 0-21-1 3 0 8 0 3 0 1 0 4 0 0 0 1 0-17-1 1 0 3 0 0 0 1 0 8 0 1 0 1 0 0 0 4 0 1 0-22-1 1 0 3 0 10 0 8 0 0 0-21-1 2 0 0 0 1 0 5 0 0 0 1 0 2 0 5 0 2 0 1 0 2 0-17-1 6 0 2 0 2 0 1 0 3 0 2 0-13-1 9 0 1 0 3 0 1 0-19-1 6 0 1 0 6 0 0 0 5 0-17-1 2 0 1 0 4 0 2 0 4 0 2 0 3 0-23-1 3 0 3 0 1 0 2 0 1 0 2 0 4 0 1 0 2 0 2 0-19-1 3 0 0 0 3 0 5 0 1 0 4 0 4 0-18-1 0 0 5 0 0 0 2 0 1 0 2 0 0 0 1 0 6 0 2 0-15-1 1 0 3 0 0 0 3 0 6 0 2 0-16-1 2 0 13 0 1 0 0 0-20-1 2 0 1 0 0 0 4 0 6 0 3 0 3 0-22-1 2 0 6 0 3 0 3 0 2 0 0 0 0 0 7 0 0 0-19-1 1 0 1 0 2 0 1 0 4 0 3 0 1 0 4 0 2 0 0 0-23-1 2 0 2 0 1 0 2 0 5 0 7 0 0 0 1 0-8-1 3 0 2 0-15-1 0 0 5 0 0 0 1 0 8 0 3 0 4 0-22-1 3 0 6 0 7 0 1 0-2-1 5 0 1 0 7 0 3 0 3 0 1 0 3 0-14 1 4 0 3 0 0 0 6 0 4 0-14 1 4 0 1 0 3 0 1 0 0 0 0 0 1 0 1 0 1 0-8 1 1 0-8 1 7 0 5 0 1 0 1 0-11 1 3 0 1 0 1 0 2 0 4 0-15 1 6 0 0 0 6 0 1 0 3 0-14 1 3 0 1 0 0 0 1 0 0 0 0 0 1 0 2 0 2 0 4 0-14 1 1 0 2 0 1 0 0 0 2 0 4 0 1 0-10 1 7 0 2 0 4 0-16 1 0 0 3 0 0 0 7 0 5 0 0 0-12 1 3 0 1 0 0 0 0 0 2 0 6 0-3 1 0 0 1 0-12 1 3 0 2 0 2 0 2 0 1 0 0 0 1 0-11 1 1 0 1 0 0 0 1 0 5 0 3 0-10 1 0 0 5 0 2 0 4 0-11 1 1 0 0 0 1 0 4 0 1 0 0 0 2 0 0 1 1 0-12 1 2 0 3 0 6 0 3 0-9 1 0 0 3 0 1 0 3 0 3 0-15 1 6 0 4 0 0 0 5 0-14 1 3 0 8 0 3 0-14 1 5 0 7 0 0 0-13 1 4 0 2 0 2 0 2 0 2 0 3 0 23-2 0 0-2-1 0 0 6 0-6-1 2 0 2 0-5-1 1 0 0 0 1 0 6 0-7-2 3 0 1 0 3 0 0 0 0 0-7-1 0-1 0 0 6 0-4-1 0 0 1 0-3-11 0 0 0 0-5-1 3 0 1 0 2 0 0 0-6-1 4 0 2 0 3 0 95 23 1 0 7 0-10-1 3 0-5-1 0 0 3 0 4 0 0 0 2 0 2 0 0 0 0 0-13-1 2 0 1 0 2 0 1 0 6 0 1 0 1 0-12-1 1 0 2 0 5 0 0 0 4-1-15-1 3 0 1 0 5 0 3 0 1 0 2 0-20-1 0 0 1 0 1 0 3 0 1 0 1 0 2 0 0 0 1 0 1 0 1 0 0 0 2 0 1 0 2 0-10-1 1 0 1 0 4 0-12-1 3 0 0 0 0 0 12 0 0 0 1 0 2 0 0 0 1 0-21-1 0 0 16 0 2 0 0 0 1 0-19-1 0 0 2 0 2 0 1 0 3 0 3 0 1 0 7 0-17-1 5 0 0 0 2 0 1 0 1 0 1 0 0 0 2 0 1 0 0 0 3 0 0 0 1 0 0 0-18-1 4 0 4 0 2 0 0 0 2 0-11-1 5 0 0 0 3 0 3 0 0 0 4 0 0 0 1 0 3 0 0 0-16-1 2 0 0 0 7 0 3 0-14-1 8 0 0 0 7 0 2 0-17-1 0 0 0 0 1 0 2 0 2 0 3 0 5 0 3 0 1 0 1 0-16-1 8 0 2 0 0 0 4 0 1 0 1 0-18-1 4 0 1 0 0 0 3 0 4 0 2 0 0 0 0 0 1 0 2 0 1 0 0 0-18-1 8 0 1 0 5 0 2 0 2 0-17-1 1 0 1 0 6 0 2 0 6 0 0 0-11-1 2 0 0 0 3 0 6 0-14-1 0 0 1 0 3 0 0 0 2 0 2 0 1 0 3 0 6 0 1 0 3 0 2 0 1 0 1 0 4 0 1 0 1 0 7 0-22 1 1 0 0 0 2 0 3 0 1 0 2 0 4 0 5 0 3 0-14 1 7 0 0 0 4 0 3 0 1 0-16 1 5 0 2 0 0 0 5 0-18 1 1 0 0 0 1 0 6 0 3 0 0 0 4 0 2 0 3 0-20 1 1 0 0 0 1 0 7 0 2 0 3 0 4 0 2 0 1 0-20 1 0 0 1 0 3 0 3 0 0 0 3 0 2 0 1 0 3 0 5 0 0 0 0 0-13 1 1 0 4 0 2 0 1 0-16 1 4 0 2 0 0 0 2 0 3 0 1 0 2 0-16 1 2 0 1 0 2 0 1 0 1 0 1 0 2 0 3 0 2 0 6 0 0 0-15 1 5 0 5 0 2 0 2 0-20 1 1 0 3 0 6 0 2 0 1 0 1 0 4 0 1 0 0 0 3 0-16 1 1 0 2 0 4 0 4 0-16 1 0 0 7 0 1 0 1 0 2 0 0 0 1 0 6 0 2 0-21 1 4 0 2 0 3 0 9 0-16 1 4 0 1 0 1 0 11 0-19 1 10 0 5 0 1 0 0 0 2 0 0 0-17 1 3 0 3 0 3 0 1 0 0 0 3 0 1 0 3 0 1 0 1 0-12 1 2 0 3 0 3 0 1 0 3 0 3 0-20 1 2 0 0 0 3 0 0 0 1 0 8 0 3 0-17 1 3 0 10 0 4 0-19 1 1 0 0 0 17 0 1 0-20 1 5 0 7 0 7 0 1 0-17 1 1 0 1 0 1 0 1 0 3 0 2 0 3 0 4 0 4 0 6 0 0 0 3 0 2 0 0 0 3 0 9 0-21-1 3 0 8 0 0 0 9 0-17-1 2 0 0-1-6-1 1 0 0 0 7 0 3 0 3 0 3 0 2 0-18-1 4 0 5 0 2 0 10 0-21-1 14 0 1 0-16-1 2 0 9 0 3 0 2 0 1 0-16-1 20 0-20-1 1 0 3 0 1 0 4 0 2-1 0 0 6 0 3 0-20-1 4 0 1 0 5 0-11-1 8 0 11 0-15-1 0 0 4 0 3 0 7 0 0 0 1 0-14-1 0 0 7 0 4 0 0 0-15-1 1 0 1 0 5 0 2 0 3 0-3-1 0 0 3 0-13-1 6 0-4-1 4 0 8 0 6 0-16-1 3 0 2 0 4 0 3 0 6 0-21-1 8 0 3 0 3 0-8-1 1 0 0 0 7 0 6 0-21-2 2 0 1 0 1 0 30 0-8 1 0 0 2 0 2 1 8 0-10 1 0 0 4 1 2 0-9 1 16 0 0 0-9 1 2 0 13 1-22 1 0 0 6 0 14 1-2 1-17 1 7 0 5 0-6 3 3 1 4 0 2 0 2 0 4 0-16 1 5 0-12 3 14 0 6 0-19 1 14 0 1 1-15 1 39 1 0-2-14-1 12-1 8 0-10-2-4-4-7-4 5-1-3-6-2-1 25-1 11 7 0 1-4 5-9 4 11 3 31 10-52 3-19 13 3 0-2-1-4-1-3-3-11-2 1-1 5-1 4-1-8-3-3-3 21 0-20-2 6-3 7 0-38-1-1 1 15 0 5 0 2 0-15 1 2 0-9 1 6 0 0 0 8 0 5 0 1 0 1 0-21 1 3 0 1 0 6 0 12 0-20 2 4 0 3 0 0 1 4 0 1 0-4 1 0 0-9 1 1 0 11 0-4 1-3 1 0 0 0 0 1 0-7 1 7 0 7 0-13 1 6 0 1 0 6 0 5 0-11 1-8 1 8 0 6 0-12 2 15 0-9 1 2 0 5 0-15 2 12 0-10 2 0 0 11 0-9 1 10 0-35 0 13 0 3 0-15-1 7 0-10-1 3 0 1 0 1 0 5 0-10-1 6 0 2 0 2 0 5 0-9-1 1 0 3 0 10 0-12-1-3-1 6 0 2 0 2 0 3 0-7-1 6 0 1 0-12-1 4 0 4 0 1 0-11-1 1 0 1 0 2 0 0 0 5 0 1 0 3 0 2 0-5-1 3 0 1 0-18-1 6 0 2 0 1 0 2 0 7 0 1 0 0 0-12-1 1 0-7-1 0 0 3 0 1 0 7 0 3 0 1 0-14-1 2 0 1 0 11 0-5-1 4 0-9-1 1 0 0 0 3 0 5 0-12-1 1 0 5 0 6 0 6 0-15-1 1-1 4 0 5 0 2 0 1 0 0 0-14-1 3 0 2 0 8 0 1 0-19-1 8 0-4-1 3 0 5 0 8 0-21-1 3 0 9 0 1 0 0 0 1 0-26 0 1 0 2 0 5 0-20 1 1 0 11 0 2 0 0 0 2 0 1 0 1 0 3 0 1 0-21 1 1 0 11 0 3 0 4 0-9 1 9 0 0 0 0 0-16 1 5 0 0 0 1 0 1 0 4 0 3 0-18 1 0 0 1 0 1 0 2 0 5 0 4 0 1 0 5 0-19 1 1 0 1 0 3 0 3 0 7 0 1 0 0 0 3 0 1 0 2 0-22 1 4 0 4 0 1 0 1 0 0 0 5 0 4 0 0 0 2 0 2 0-19 1 9 0 5 0 3 0-21 1 4 0 5 0-7 1 3 0 0 0 3 0 0 0 3 0 1 0 6 0 1 0-19 1 1 0 1 0 2 0 2 0 1 0 2 0 0 0 0 0 3 0 2 0-8 1 6 0 1 0 4 0-17 1 1 0 1 0 4 0 0 0 5 0 2 0 8 0-14 1 0 0 2 0 2 0 12 0 0 0-19 1 5 0 0 0 2 0 0 0 1 0 2 0 1 0 6 0-19 1 0 0 2 0 3 0 4 0 6 0 3 0-17 1 2 0 1 0 4 0 12 0-22 1 3 0 2 0 3 0 9 0 1 0 3 0-20 1 6 0 4 0 7 0 1 0 0 0 0 0 4 0-23 1 1 0 2 0 0 0 10 0 4 0 5 0 1 0-23 1 2 0 6 0 3 0 1 0 4 0 5 0-19 1 2 0 4 0 12 0 0 0 1 0-20 1 7 0 4 0 4 0-38 0 3 0 2 0 1 0 1 0 0 0 1 0 1 0 2 0 0 0 1 0-11-1 4 0 1 0 10 0 0 0 1 0-18-1 7 0 5 0 5 0 1 0 0 0 2 0 1 0 0 0-21-1 0 0 4 0 1 0 13 0 4 0-6-1 6 0-4-1 0-1 1 0 1 0 1 0-3-1-3-1 3 0 1 0-5-1 3 0 1 0 4 0 0 0 0 0-9-1 5 0-4-1 4 0 1 0-5-1 1 0 1 0 3 0 3 0 0 0-8-1 0 0 3 0 2 0 2 0 0 0-6-1 5 0-5-1-3-1 1 0 0 0 1 0 2 0 1 0 2 0-6-1 2 0 0 0 1-1 0 0 2 0 3 0-2-1 1 0 0 0-4-1 4 0 1 0-4-1 1 0 2 0 0-1 1 0 1 0-24 20-1 2 1 0-93-20 1 0 0 0 1 0 2 0 0 0 1 0 3 0-9-1 2 0 1 0 3 0 4 0-10-1 0 0 3 0 0 0 2 0 2 0 2 0 1 0 0 0 2 0-13-1 11 0 1 0-36 0 1 0 1 0 4 0 1 0 3 0 1 0 3 0 0 0 4 0 4 0-22 1 8 0 0 0 1 0 1 0 2 0 3 0 1 0 7 0 0 0-23 1 1 0 2 0 4 0 8 0 3 0 1 0 1 0 1 0 0 0-19 1 1 0 1 0 3 0-2 1 1 0 8 0 0 1 4 0 1 0 1 0 2 0-8 1 2 0 0 0 4 0-4 2 2 0 3 0-4 1 0 0 0 0 1 0 1 0 0 0-19 4 0 2 0 0 2 0 0 0 0 0 1 1 0 2 0 0-3 2 1 0-25 3 4 0 1 0 3 0-8-1 0 0 3 0 3 0 3 0 1 0-7-1 1 0 1 0 1 0 16 0-14-1 3 0-11-1 3 0 0 0 2 0 2 0 0 0 1 0 3 0 12 0-23-1 4 0 4 0 0 0 11 0 2 0-20-1 6 0 1 0 13 0-18-1 7 0 1 0-8-1 3 0 0 0 3 0 1 0 11 0 1 0-18-1 6 0 2 0 0 0 5 0 2 0 0 0 1 0 1 0-19-1 3 0 4 0 3 0 3 0 3 0 3 0 0 0 1 0 1 0-23-1 1 0 7 0 0 0 5 0-13-1 4 0 0 0 1 0 0 0 2 0 3 0 0 0 6 0 1 0 0 0 0 0 1 0 4 0-21-1 6 0 1 0 3-1 0 0 2 0 1 0 4 0 1 0-19-1 1 0 1 0 3 0 0 0 3 0 3 0 4 0 1 0-14-1 1 0 4 0 7 0 0 0 0 0 5 0-14-1 2 0 1 0 0 0 9 0 1 0-16-1 3 0 2 0 9 0 2 0-17-1 2 0 12 0 2 0 1 0 1 0-16-1 3 0 0 0 2 0 5 0 1 0 1 0 0 0 3 0 0 0 3 0 0 0 0 0 1 0 1 0-22-1 1 0 1 0 1 0 4 0 12 0 2 0 1 0 0 0 0 0-23-1 0 0 2 0 3 0 1 0 3 0 1 0 0 0 3 0 2 0-12-1 1 0 2 0 1 0 3 0 0 0 0 0 1 0 0 0 6 0 3 0-43 0 0 0 5 0 2 0 3 0 1 0 7 0 0 0 0 0 4 0 0 0-23 1 3 0 3 0 2 0 7 0 7 0-22 1 2 0 0 0 5 0 0 0 6 0 2 0 6 0-19 1 6 0 5 0 4 0 4 0-17 1 2 0 6 0 4 0 0 0 5 0 1 0 0 0-20 1 9 0 0 0 0 0 10 0-12 1 1 0 4 0 3 0 3 0 0 0 2 0 1 0-22 1 0 0 15 0 2 0 5 0-22 1 7 0 4 0 1 0 6 0 3 0 0 0-21 1 9 0 4 0 1 0 3 0 3 0-18 1 1 0 11 0 1 0 2 0 0 0 4 0-21 1 2 0 0 0 1 0 11 0 1 0 4 0-15 1 3 0 3 0 0 0 9 0-20 1 3 0 1 0 1 0 4 0 2 0 4 0 3 0 3 0-21 1 6 0 2 0 3 0 1 0 3 0 4 0-18 1 4 0 3 0 3 0 5 0 1 0 1 0-9 1 1 0 4 0 2 0 0 0 1 0 6 0-20 1 3 0 0 0 0 0 3 0 1 0 5 0 1 0-16 1 1 0 1 0 2 0 8 0 4 0 2 0 0 0 1 0 1 0-19 1 1 0 0 0 2 0 10 0 4 0 1 0-13 1 1 0 1 0 2 0 3 0 7 0 2 0-21 1 5 0 1 0 2 0 2 0 1 0 7 0 2 0-18 1 2 0 1 0 1 0 1 0 3 0 2 0 4 0 4 0-17 1 7 0 1 0 1 0 10 0-47 0 3 0 2 0 0 0 13 0 2 0-7-1 0 0 2 0 1 0 5 0 1 0 1 0-12-1 2 0 2 0 3 0 2 0 1 0 1 0-20-1 6 0 4 0 3 0 3 0 0 0-14-1 1 0 10 0 3 0-18-1 1 0 2 0 2 0 0 0 5 0 0 0 1 0 3 0 0 0 1 0 1 0-10-1 2 0 0 0 6 0 2 0 2 0 3 0-9-1 7 0 1 0-20-1 1 0 2 0 0 0 13 0 1 0 0 0 3 0 0 0 0 0 0 0 1 0-21-1 5 0 9 0 6 0-17-1 3 0 1 0 3 0 5 0 4 0 3 0-19-1 11 0 5 0 4 0-23-1 4 0 6 0 2 0 5 0-15-1 0 0 1 0 1 0 8 0 9 0-17-1 0 0 0 0 1 0 9 0 0 0 3 0-17-1 3 0 4 0 1 0 2 0 2 0 3 0 3 0 5 0-17-1 1 0 6 0 4 0-11-1 7 0 2 0 2 0 0 0 1 0 4 0 0 0 1 0-20-1 5 0 2 0 8 0 2 0 3 0-15-1 2 0 3 0 5 0 4 0-21-1 13 0 4 0 3 0 0 0-13-1 6 0 0 0 5 0 3 0-20-1 2 0 2 0 1 0 0 0 3 0 7 0 6 0 0 0-20-1 0 0 4 0 4 0 3 0 3 0 1 0-37 0 3 0-3 1 18 0-23 1 7 0 7 0-14 1 3 0 2 0 1 0 0 0 5 0 2 0 10 0-23 1 5 0 9 0 9 0-11 1 8 0 1 0-1 1 0 0 0 0 2 0-14 1 11 0 2 0-20 1 4 0 10 0 6 0 0 0-6 1 2 0 6 0-15 1 2 0 2 0 2 0 4 0 0 0 3 0-15 1 11 0 0 0 3 0 1 0-15 1 16 0-3 1-10 1 4 0 8 0-21 1 6 0 10 0 0 1 3 0 1 0 1 0-18 1 9 0 0 0 9 0-15 1 2 0 9 0 3 0 1 0-20 1 2 0 4 0 12 0-16 1 2 0 4 0 3 0 3 0 2 0 3 0-15 1 0 0 13 0 2 0 1 0 0 0-12 1 4 0 0 0 1 0 4 0-2 1 1 0 5 0-41 0 7 0 2 0 8 0-22-1 3 0 1 0 6 0 6 0 5 0-13-1 15 0 0 0 0 0-10-1 3 0 0 0-15-1 5 0 3 0 5 0 2 0-14-1 0 0 0 0 18 0-17-1 2 0 7 0 1 0 0 0 8 0 1 0 1 0 0 0-22-1 1 0 2 0 16 0-20-1 2 0 2 0 4 0-5-1 6 0 3 0-2-1 0 0 1 0-9-1 6 0-8-1 22 0 0 0-20-1 11 0 0 0 9 0-17-1 4 0 2 0 4 0 4 0 1 0-8-1-12-1 0 0 10 0 8 0-18-1 1 0 3 0 3 0 15 0 1 0-13-1 1 0 7 0-15-1 7 0 8 0-3-1 2 0 0 0 3 0-20-1 6-1 15 0 2 0-23-1 7 0-31 1 0 0 7 0 3 0 4 1-11 1 0 0 11 0 8 0-5 1 5 1-9 1-1 1 0 0-10 1 3 0 8 0 9 0 0 0-9 1 1 0 8 0-6 1 5 0 0 0-18 1 7 0 0 0 3 0 7 0-20 1 12 0 7 0-16 1 11 0 3 0 1 0-16 1 0 0 5 0 0 0 5 0 4 0 1 0 3 0-16 1 12 0 5 0-20 1 7 0 7 0-7 1 10 0 1 0-18 1 0 0 6 0 2 0 10 0 4 0-3 1-18 1 1 0 1 0 1 0 12 0 2 1 1 0-11 1 0 0 5 0 2 0 0 0 4 0-19 1 1 0 5 0 0 0 0 0 1 0 7 0 7 0 1 0-45 0 3 0 5 0 1 0 7 0 4 0-11-1 4 0 1 0 2 0-15-1 0 0 7 0 0 0 2 0 5 0-17-1 4 0 1 0 5 0-4-1 12-1 4 0-22-1 1 0 0 0 7 0 0 0 10 0-14-1 4 0 5 0 5 0-13-1 5 0 0 0 6 0 2 0-18-1 3 0 2 0 5 0-9-1 21 0-22-1 4-1 1 0 1 0-4-1 13 0-9-2 0-1 12 0 0 0 0 0-11-1 12 0-11-1 3 0-9-2 19 0 1 0-20-1 4 0 16 0 1 0-13-1 7 0-15-1-26 0 0 3 4 0 7 0 10 1-13 1-1 2 6 0-8 1 8 0-9 1 1 0 3 0 4 0 4 1 5 0-13 1-8 2 10 0 3 0 6 0-7 1 6 0 5 1-14 2 12 2-18 1 8 0 9 0-15 1 6 0 5 1-5 1 8 0 2 0-41 0 5 0 5 0 0 0-9-1 3-1-7-1 6 0-2-1 1-1 5 0 10-2 1 0-8-1 1-1-10-2 4 0 0 0 3 0-6-1 1-1 0 0-6-1 21 0-21-1 8 0 4 0-7-2 4 0 5 0-7-2 15 0-5-1 3 0-10-1-9-2-9 0-17 1 17 0 0 0 0 0 6 0-7 1-14 1 10 3 0 0 9 2-1 1 1 0 1 2 1 0-6 1 4 0-4 1 3 0-8 1 7 0-17 1 1 0 14 1 2 1-19 1 17 0-3 2 6 0-17 1 6 0-6 1 20 0-17 1 4 0 5 0 2 0 1 0 3 0-26 0-16-1 4 0 12 0 1 0-16-1 17 0-16-1 18-1 0 0-14-3 0 0 1-1 0 0 0 0-9-1 1 0 0 0 5 0 5-1 1-1 0 0 8-1-14-2 9 0-13-2 6 0 12-3-8-1-12-2 15-1-34 3 0 1 13 0-14 1-2 2 13 2 6 0-2 1-2 2-6 2 4 0-10 1 3 1-1 1 5 0-9 1 9 0-11 1 8 1 10 0 0 0-19 2 2 0 15 0 4 1-34-1 2-2 0-1 2-1 0 0 1-2 1 0 2-2-8-3-2-1-7-2 8-2-2-4-15 2 0 0-12 5 4 3-1 1 13 0-1 1 0 0-1 1-1 1-2 2 6 0-7 1 0 0 3 3-30-2-6-1 8-1 2-2 4-4 1-1 0 0 0-7-22-1 0 0 1-1-3 3-4 4-1 1-4 4-1 1-8 8-21-5-3-7 4-3 3-4 4-3-19 11-23 10-16-7-2-10 2-3-7 20-40-16-9 10-69-11-8 9-128-7-40 40 14-14 75 4 2-3 0 0 0 0 0 0 0 0 0 0 0 0 0 0 0 0 0 0 0 0 47 9 5-5 13-12 67 11-1 1-1 1-7 7 1 0-2 1 12-12 1-1 0 0 0 0 4-4 5-5 0 0 36 8 21 14 2-2-22-1 17-1-14-1 1-2 11-2 1 0-9-1 10-1 0 0-8-1 8-1 0 0 0 0 0 0 0 0-5-1 10-2-2-7 13 10 0 0 0 0 0 0 0 0 0 0 0 0 0 0 0 0 0 0 0 0 0 0-3 3-1 1 18 2-23 3 19 1 0 0 0 0 7 3-2-7 9 0-8-1 0-1 1-1 1 0 1-1 3-3 3-4 1 0 3-3 28 7-1 1 0 0 0 0 0 0-1 1 0 0-1 1 0 0-1 1 0 0-1 1-1 1 0 0 0 0-3 3-1 1-3 3-1 1 33-3 1-1 5 0-10-3 8 0 4-4-10-1 5-1 7 0-5-2-17-6 1-1 31-1 0 0 9 4 0 1-15 1-2 2-1 1 13 0-1 1 0 0 0 0 0 0 0 0 0 0 0 0-3 4 5 2-10 3-2 2-1 1 18 0 16 1 0 0 1-1 0 0-11-1 12 0 1-1 0 0 0-1 1 0 1-1 0 0-12-2-2-1 19-2 1-1 0 0-16-1 17-1-20-2 12-3-7-2 6 0 1-1-5-1 0 0 7-1 17 0 13 0-14 1 12 0-13 1 15 0-3 1-14 1-2 2 0 0 18 2 1 0-23 1 1 0 0 0 0 0-1 1 0 0 0 0 0 0 0 0 0 0 0 0 16 0-1 1-3 2 3 2 0 0 0 1 7 2-20 2 8 0 0 0 9 0 1 0-16 1 5 0 10 0-11 1 4 0 11 0-16 1 15 0 4 0 7 0 3 0 7 0-12-1 2 0 10 0 1 0-12-1 13 0 0 0-17-1 2-1 17 0-16-1 1-1 1-1 0 0-8-1 9 0 0 0 5-1 8-2-22-2 5 0 0 0 0 0 0 0 0 0 0 0 0 0 0 0 0 0 1-1-5-1 5 0 6 0 5-1 4 0 0 0-3-1 0-3-15-1 19 0-23-1 42-1-2 1 0 1-14 1 13 0-13 2 11 0-3 3 11 0-13 1 12 0-12 1 0 0 0 0 0 0 0 0 0 0 0 0 0 0 0 0-1 1 7 0 5 0-13 1 0 0 0 0 10 0 1 1-14 1 1 0 0 0 15 0 1 0-17 1 15 0-16 1 15 0-17 1 16 0 1 0 5 1 1 0-3 3 0 0-13 1 5 0 7 0-12 1 3 0 15 0 13 0 7 0-19-1 2 0 11 0 0 0 0 0 0 0-7-1 8 0-13-1 0 0 14 0 0 0-16-1 7 0 10 0-8-1 9 0 0 0 0 0 0 0-19-1 15 0 5 0-13-1 6 0 8 0 0 0 1 0-20-1 20 0-19-1 0 0 10 0-2-1-9-1 3 0 11-1-9-1 0 0 0 0 0 0 0 0 0 0 0 0 0 0 0 0 6 0-12-1 14 0-14-1 3 0 17 0-17-2-2-2-2-1 2 0 4 0-4-2 6 0 0 0 12 0 0 0 3 0 0 0 1-1 4 0 0 0 8 1 0 0-9 1 16 0-9 1 1 0-7 1 18 0-20 1 6 0 0 0 5 0 1 0-7 1 13 0 0 0-14 1 8 0 2 0 0 1 0 0-12 1 0 0 1 0 14 0 1 0-17 1 0 0 0 0 0 0 0 0 0 0 19 0 0 0 0 0 0 0 0 0 0 0 0 0 0 0-7 1 5 1 3 0-22 1 0 0 5 0 2 0 0 0 11 0-10 1 0 0 14 0-15 1 2 0 3 0 4 0 4 0-18 1 1 0 15 0 3 0-16 1 3 0 6 0 0 0 0 0 5 0-17 1 5 0 5 0 0 1-7 1 14 0 0 0-6 1-14 1 1 0 6 0 8 1 1 0 2 0 2 0 12 0 5 0-3-1 13 0-12-1 1 0 4 0 4 0-15-1 7 0 3 0 0 0 0 0-4-1 2 0-6-1 16 0 0 0-21-1 16 0-16-1 6 0 2-1 0 0 0 0 0 0-10-1 8 0 13 0 2 0 0 0-12-1 1 0 0 0 4 0 1 0-15-1 10 0 1 0-10-1 1 0 1 0 1 0 2 0 6 0 0 0 0 0 4 0 2 0-11-1 5 0 1 0 0 0 0 0 0 0 7 0-18-1 12 0-7-1 3 0 5 0-11-1 11 0 0 0-10-1 12 0 0 0-17-1 4 0 1 0 6 0-9-1-3-1 4 0 8-2 4 0-3-1 6 0 4 0 1 0 6 0 10 0 5 0-16 1 4 0 5 0 8 0-18 1 0 0 14 0-18 1 8 0-3 1 6 0 8 0-8 1 1 1 4 0-12 1 10 0 5 0-19 1 3 1 8 0 10 0 0 0 0 0-16 1 0 0 0 0 0 0 0 0 0 0 8 0 7 0 0 0 0 0 0 0-21 1 0 0 1 0 1 0 17 0 1 0 3 0-21 1 0 0 2 0 8 0 2 0 5 0 0 0-8 1 0 0 7 0 3 0 1 0 1 0-20 1 2 0 2 0 10 0 0 0 6 0-22 1 0 0 7 0 1 0 1 0 5 0 1 0 0 0 0 0 0 0-13 1 2 0 10 0-8 1 1 0 6 0 9 0-11 1 9 0 1 0-22 1 6 0 6 0 0 0 0 0 3 0 0 0 1 0 2 0 4 0-21 1 0 0 9 0 10 0-11 2-9 1 2 0 6 0 0 0 13 0 5 0 0 0 8 0 0 0 4 0 1 0 4 0 1 0-13-1 3 0 1 0 5 0 6 0-17-1 1 0 1 0 5 0 5 0 1 0 1 0 1 0-7-1 4 0 3 0-18-1 3 0 15 0-15-1 6 0 4 0 0 0 5 0 3 0-11-1 4 0 4 0 3 0-19-1 0 0 8 0 5 0 5 0 1 0-21-1 4 0 5 0 6 0 0 0 1 0 4 0-22-1 5 0 1 0-6-1 7 0 5 0-4-1 6 0 7 0-19-1 2 0 1 0 4 0 0 0 1 0 5 0 7 0 0 0-12-1 0 0 0 0 0 0 0 0 2 0 6 0 4 0 1 0 0 0 0 0 0 0-21-1 1 0 1 0 15 0 4 0 0 0 0 0-15-1 6 0-14-1 0 0 6 0 7 0 6 0 4 0-23-1 1 0 0 0 7 0 2 0 0-1 8 0 1 0 1 0-20-1 2 0 1 0 9 0 0 0-8-1 0-1 6 0 9 0 3 0-17-1 1 0-3-1 8 0 0 0 9 0 0 0 0 0 3 0 5 0 15 0-11 1 0 0 3 0 1 0 1 0 1 0 5 0 2 0 2 0-17 1 8 0 1 0 0 0 4 0 0 0 0 0-13 1 0 0 12 0 5 0-23 1 5 0 2 0 5 0 5 0-14 1 1 0 4 0 1 0 0 0 4 0 2 0 2 0 6 0-20 1 6 0 9 0 3 0-13 1 2 0 13 0-17 1 10 0 3 0-19 1 0 0 2 0 1 0 1 0 1 0 6 0 10 0-18 1 0 0 7 0 12 0 0 0 0 0 0 0-13 1 2 0 2 0 2 0 1 0 4 0 0 0-17 1 0 0 4 0 1 0 6 0 6 0 0 0 2 0-21 1 5 0 4 0 5 0 3 0 1 0 0 0-18 1 2 0 3 0 5 0 1 0 3 0 2 0 6 0 0 0 0 0-23 1 10 0 3 0 4 0 4 0-10 1 1 0 3 0 1 0 0 0 0 0 0 0 5 0-21 1 7 0 7 0 1 0 4 0 4 0-20 1 2 0 0 0 0 0 0 0 9 0 0 0 2 0-14 1 3 0 2 0 0 0 5 0 1 0 0 0 0 0 6 0 1 0 0 0 1 0 1 0 1 0-17 1 5 0 6 0-15 1 2 0 2 0 1 0 3 0 1 0 0 0 0 0 4 0-13 1 4 0 3 0 1 0 0 0 13 0-22 1 5 0 3 0 5 0 2 0 0 0 4 0 0 0 2 0 5 0 2 0 0 0 1 0 2 0 2 0 5 0 1 0-14-1 1 0 7 0 6 0 0 0-14-1 1 0 1 0 1 0 7 0 3 0 2 0 0 0 0 0-17-1 1 0 2 0 2 0 3 0 3 0 0 0 0 0 1 0 3 0 2 0 1 0-18-1 5 0 4 0 7 0-16-1 0 0 4 0 3 0 3 0 0 0 7 0 3 0 1 0-19-1 2 0 3 0 4 0 0 0 0 0 0 0 4 0 1 0 1 0 2 0 2 0-16-1 5 0 7 0 1 0 0 0 2 0 0 0 2 0 0 0 1 0-21-1 16 0 3 0 2 0-21-1 0 0 8 0 4 0 8 0-19-1 0 0 9 0 3 0 0 0 4 0-19-1 16 0 0 0 0 0 0 0 1 0-4-1 0 0 0 0-13-1 7 0 2 0 3 0 3 0 0 0 3 0 0 0 3 0 1 0-18-1 5 0 1 0 2 0 1 0 1 0 3 0 2 0 0 0 0 0 1 0-20-1 4 0 1 0 1 0 1 0 3 0 7 0 0 0 0 0 3 0 0 0-19-1 8 0 0 0 6 0 6 0-19-1 0 0 10 0 4 0 2 0 1 0 3 0 1 0-20-1 2 0 3 0 1 0 1 0-7-1 1 0 5 0 0 0 0 0 1 0 1 0 2 0 1 0-10-1 6 0 10 0-15-1 1 0 2 0 1 0 9 0 4 0-15-1 0 0 5 0 1 0 2 0 8 0-20-1 1 0 10 0 2 0 4 0 2 0 6 0 0 0 0 0 8 0 2 0 4 0 0 0 1 0 0 0 0 0 4 0-20 1 2 0 1 0 0 0 0 0 1 0 5 0 2 0 2 0 6 0 0 0-20 1 2 0 3 0 0 0 3 0 0 0 1 0 1 0 6 0 3 0 2 0-22 1 3 0 3 0 1 0 4 0 3 0 0 0 5 0 2 0 1 0-23 1 3 0 9 0 2 0 5 0 3 0 1 0-19 1 5 0 9 0 3 0-20 1 1 0 0 1 2 0 3 0 2 0 1 0 2 0 3 0 1 0-16 1 5 0 4 0 1 0 1 0 4 0 1 0 5 0 2 0-23 1 5 0 3 0 3 0 5 0 1 0 2 0 2 0 1 0-22 1 1 0 1 0 3 0 7 0 1 0 0 0 8 0 0 0-20 1 1 0 1 0 8 0 1 0 1 0 2 0 1 0 0 0 5 0 0 0 1 0 0 0 1 0-18 1 1 0 0 0 4 0 0 0 4 0 1 0-14 1 0 0 1 0 1 0 4 0 3 0 6 0 2 0 5 0-22 1 2 0 0 0 0 0 2 0 0 0 3 0 5 0 1 0 6 0-18 1 18 0 0 0 2 0-20 1 1 0 1 0 3 0 0 0 0 0 5 0 8 0 3 0 0 0-14 1 5 0 3 0 0 0 3 0 0 0 1 0 2 0 0 0-22 1 8 0 0 0 2 0 2 0 1 0 0 0 0 0-6 1 0 0 1 0 0 0 2 0 4 0 2 0 4 0 1 0-15 1 1 0 3 0 0 0 3 0 6 0-11 1 1 0 2 0 3 0 1 0 3 0 3 0 0 0-14 1 4 0 3 0 3 0 0 0 2 0 0 0-15 1 1 0 1 0 3 0 4 0 0 0 3 0 0 0 7-8 0 0 1 0 0-1 1 0 1-1 1-1-4-2 2 0 1 0 9 0 2 0 0 0 4 0 3 0 0 0-21-1 4 0 6 0 2 0 0 0 3 0 2 0 2 0 0 0 1 0 2 0 0 0 0 0-18-1 1 0 3 0 3 0 2 0 1 0 1 0 5 0 2 0 0 0 1 0 0 0-23-1 1 0 6 0 7 0 5 0-18-1 1 0 2 0 1 0 0 0 6 0 4 0 1 0 2 0-14-1 3 0 10 0 6 0 0 0-21-1 1 0 6 0 0 0 1 0 7 0 3 0 3 0-19-1 1 0 1 0 1 0 1 0 1 0 1 0 0 0 2 0 8 0-19-1 0 0 0 0 1 0 3 0 1 0 2 0 5 0 4 0 2 0 1 0 0 0 3 0-21-1 7 0 7 0 1 0 1 0 0 0 2 0 1 0-19-1 1 0 3 0 3 0 1 0 3 0 3 0 0 0 2 0 1 0 0 0 10 0 1 0 2 0-5 1 3 0-3 1 2 0-5 1 2 0 0 0-2 1 3 0 3 0 0 0 1 0 0 0 0 1-6 1 2 0-3 1 6 0 0 0 122 16 2 0 2 0 0 0 5 0 3 0 3 0-14-1 6 0 1 0-7-1 1 0 4 0 6 0-15-1 1 0 0 0 4 0 1 0 1 0 3 0 1 0 3 0 0 0 0 0-15-1 8 0 0 0 7 0 1 0 0 0 1 0 1 0-16-1 2 0 0 0 1 0 3 0 2 0 2 0 1 0 0 0 3 0 2 0 0 0-19-1 4 0 3 0 0 0 0 0 6 0 1 0 0 0 6 0-22-1 0 0 1 0 3 0 4 0 1 0 6 0 1 0 2 0 2 0 0 0 1 0 1 0-21-1 2 0 9 0-12-1 1 0 1 0 5 0 6 0 4 0 0 0 5 0-22-1 2 0 6 0 3 0 0 0 6 0 0 0-16-1 3 0 1 0 4 0 6 0 6 0 1 0-21-1 2 0 2 0 2 0 0 0 3 0 0 0 1 0 3 0 0 0 4 0 1 0 1 0 2 0-19-1 1 0 0 0 0 0 2 0 4 0 5 0 4 0 0 0 1 0 0 0 1 0 0 0 1 0-13-1 1 0 1 0 0 0 1 0 1 0 0 0 2 0 3 0 2 0 2 0-17-1 1 0 9 0 0 0 2 0 0 0 3 0-1-1 1-1 0-2-1-1 0 0 1 0 1 0 0-1 1-1-1-1 1 0 3 0 0 0 1 0 4 0 2 0 5 0 1 0 2 0 2 0 0 0-19 1 2 0 2 0 3 0 0 0 4 0 1 0 1 0-13 1 3 0 4 0 4 0 2 0 3 0 1 0 2 0 0 0 1 0 2 0-10 1 0 0 9 0-11 1 7 0 5 0-21 1 4 0 0 0 8 0 1 0 1 0-15 1 1 0 1 0 3 0 1 0 0 0 3 0 3 0 1 0 1 0 2 0 3 0 0 0 1 0-19 1 4 0 3 0 0 0 4 0 1 0 1 0 2 0 0 0 2 0 0 0-17 1 2 0 1 0 4 0 1 0 1 0 0 0 2 0 1 0 5 0 2 0 0 0-20 1 3 0 3 0 0 0 8 0 0 0 0 0 1 0 1 0 2 0 2 0 1 0 2 0-21 1 13 0 0 0-12 1 9 0 6 0 1 0 3 0 1 0 0 0-22 1 0 0 2 0 4 0 3 0 2 0 2 0 0 0-11 1 0 0 1 0 3 0 5 0 1 0 1 0 2 0 4 0 1 0 0 0-21 1 2 0 3 0 5 0 1 0 4 0 7 0 1 0-21 1 3 0 1 0 4 0 1 0 2 0-12 1 2 0 1 0 5 0 1 0 0 0 2 0 2 0 5 0 4 0-23 1 4 0 1 0 4 0 1 0 2 0 6 0 3 0 0 0-20 1 2 0 0 0 3 0 5 0 10 0-14 1 0 0 4 0 3 0-8 1 0 0 1 0 6 0 3 0 2 0 2 0-19 1 1 0 0 0 0 0 3 0 1 0 6 0 2 0 2 0-16 1 2 0 9 0 3 0-11 1 0 0 6 0 16 0 3 0 4 0 1 0 5 0 8 0-22-1 23 0 0 0-21-1 1 0 1 0 5 0 4 0 3 0 1 0 0 0 4 0-18-1 13 0 0 0-12-1 2 0 11 0 2 0-18-1 20 0-14-1 3 0 9 0 1 0-15-1 2 0 7 0 4 0 0 0 2 0-7-1 1 0 6 0-18-1 2 0 8 0 0 0 2 0 6 0 0 0-19-1 3 0 1 0 0 0 2 0 0 0-6-1 0 0 1 0 0 0 4 0 1 0 2 0 11 0-19-1 0 0 1 0 0 0 2 0 1 0 1 0 2 0 0 0 11 0 1 0 3 0-21-1 0 0 1 0 2 0 4 0 4 0-11-1 4 0 10 0 6 0-20-1 0 0 3 0 0 0 4 0 2 0 12 0-21-1 2 0 4 0 1 0 0 0 3 0 1 0 0 0 4 0 1 0 4 0-19-1 6 0 2 0 2 0 1 0 3 0 2 0 1 0-20-1 3 0 2 0 4 0 1 0 5 0 2 0-16-1 4 0 0 0 5 0 2 0 4 0 1 0 3 0 3 0-23-1 6 0 0 0 4 0 2 0 1 0 1 0 0 0 1 0 2 0 3 0 1 0-21-1 0 0 1 0 3 0 1 0 1 0 1 0 2 0 2 0 2 0 7 0-18-1 3 0 0 0 11 0 0 0 4 0 1 0-21-1 0 0 4 0 5 0 5 0 5 0 6 0 5 0 4 0 2 0 2 0 7 0-21 1 3 0 1 0 0 0 7 0-11 1 4 0 12 0 3 0-8 1 9 0-18 1 9 0 2 0 1 1-12 1 4 0 2 1 3 0-3 1 0 0-8 1 7 0 0 0 4 0 1 0 5 0-3 1 2 0 1 0-17 1 10 0 4 0-13 1 2 0 1 0 3 0-3 1 5 0 8 0-17 1 17 0-13 1-1 1 19 0-15 2-5 1 7 0 2 0 7 0-17 1 4 0 5 0 8 0-18 1 5 0 4 1 1 0 0 0-6 1 2 0 0 0 0 0 22 0 6 0 4 0-5-2-9-1 18-1-5-4-13-1 8-4 5 0 6 0 4 0-20-1 7 0-8-1 14-1-7-1 10 0 1 0-12-1 5 0 4 0-10-2 3 0 4 0 1 0-13-1 11 0 9-1 16 2-10 2 8 0-5 1 3 1 0 2 11 0-21 2 3 0 7 0 2 0-4 1-3 4 11 2-7 1 36-19 26 24-47 5 7 5-22-3-8-3 8-3 10 0-30-1-7 3 2 0 7 5-11 5 10 1-2 2 9 1-2 4-4 1-35 1 6 0 4-1-12-1 14-1 0 0 3-1-14-1 12-2 2 0-8-1-3-1 5 0-11-2 11-1 4 0-5-2 5 0-11-1 3-1 13 0-15-1 16 0-22-1 17 0-13-1 4 0 12 0-15-1-4-1 0-1 10 0-9-1 8 0-34 0 1 0 0 0 4 0 5 0 1 0 2 0 4 0 2 0 1 0 1 0-17 1 11 0-13 1 0 0 5 0 2 0 1 0 7 0-15 1 0 0 2 0 4 0 1 0 4 0-13 1 2 0 1 0 8 0 6 0-12 1 12 0-17 1 0 0 1 0 0 0 0 0 5 1 10 0 1 0 4 0-21 1 5 0 2 0 1 0 5 0 4 0-15 1 1 0 6 0 1 0 5 0 2 0-11 1 2 0 8 0 4 0 2 0-23 1 13 0 8 0-6 1-11 1 4 0 9 0-17 1 3 0 8 0-11 1 2 0 2 0 1 0-1 1 5 0 3 0 4 0 0 0-15 1 2 0 7 0 1 0 9 0 0 0-17 1 19 0 1 0-21 1 3 0-3 2 5 1 4 0-35 1 1 0 5 0 6 0 4 0 0 0 5 0-19-1 3 0 0 0 6 0 4 0-14-1 2 0 0 0 14 0-16-1 5 0 2 0 3 0 11 0-22-1 2 0 1 0 0 0 0 0 14 0 0 0 4 0-21-1 3 0 0 0 5 0 8 0 2 0 5 0-19-1 7 0 1 0 2 0 2 0 2 0 1 0-19-1 4 0 6 0 4 0 1 0 3 0-17-1 3 0 1 0 10 0 2 0 3 0 0 0-18-1 0 0 6 0 1 0 4 0 7 0 2 0 1 0-22-1 1 0 2 0 14 0-17-1 4 0 8 0 0 0 8 0-14-1 4 0 1 0 2 0 2 0 7 0 0 0-17-1 4 0 8 0 4 0-22-1 1 0 0 0 2 0 1 0 3 0 5 0-3-1 7 0 7 0-18-1 1 0 1 0 2 0 2 0 1 0 3 0 6 0-20-1 0 0 4 0 16 0 1 0-22-1 1 0 3 0 1 0 1 0 8 0 1 0 2 0 0 0 3 0-20-1 0 0 1 0 1 0 2 0 1 0 8 0 2 0 1 0 1 0 6 0-21-1 0 0 2 0 2 0 2 0 8 0 5 0 1 0-21-1 10 0 1 0 2 0 6 0 3 0 0 0-22-1 0 0 2 0 1 0 5 0 1 0 8 0-7-1 4 0 6 0-36 0 0 0 4 0 1 0 2 0 0 0 3 0-2 1 2 0 4 0-16 1 5 0 0 0 5 0 4 0 0 0-14 1 1 0 5 0 2 0 2 0 1 0 1 0-11 1 4 0 2 0 3 0-10 1 1 0 2 0 2 0 3 0 0 0 3 0 3 0-10 1 0 0 4 0 2 0 3 0 1 0 1 0 1 0-11 1 0 0 3 0 5 0 1 0 0 0 0 0 2 0-13 1 0 0 1 0 3 0 8 0 1 0 0 0-8 1 0 0 4 0 4 0-13 1 3 0 6 0 2 0-10 1 1 0 4 0 0 0 3 0-1 1 1 0 1 0-8 1 0 0 1 0 0 0 2 0 2 0 6 0-8 1 1 0 7 0-9 1 4 0 1 0 2 0 1 0-10 1 1 0 0 0 1 0 1 0 1 0 5 0 1 0-6 1 6 0 1 0-14 1 4 0 8 0 0 0 1 0 1 0-12 1 0 0 3 0 3 0-5 1 0 0 4 0 3 0 1 0 1 0 1 0-13 1 0 0 2 0 1 0 3 0 1 0 1 0 1 0 1 0 4 0-15 1 4 0 1 0 5 0-12 1 3 0 0 0 3 0 4 0 4 0-25 0-11-1 1 0 9 0 3 0 0 0-12-1 4 0 0 0 4 0 1 0 1 0 1 0-9-1 1 0 0 0 0 0 2 0 2 0 2 0-7-1 3 0 0 0-4-1 4 0-4-1 3 0 0 0-155 6 1 0 1 0 1 0 1 0-6-1 3 0 6 0 0 0-6-1 1 0 2 0 4 0 0 0-7-1 4 0 4 0-9-1 1 0 4 0 5 0 0 0 0 0-10-1 1 0 4 0 3 0 3 0 0 0 3 0 2 0-15-1 1 0 1 0 1 0 4 0 1 0 2 0 1 0 0 0 0 0 4 0 1 0-19-1 0 0 5 0 8 0 2 0-11-1 0 0 3 0 4 0 2 0 3 0 5 0-19-1 0 0 0 0 4 0 1 0 2 0 3 0 7 0-19-1 4 0 4 0 4 0 1 0 2 0 6 0 0 0-17-1 5 0 3 0 3 0 3 0 1 0 1 0 0 0-16-1 3 0 2 0 8 0 3 0-15-1 3 0 3 0 4 0 1 0-9-1 0 0 4 0 0 0 5 0 1 0 0 0-10-1 1 0 2 0 1 0 2 0 1 0 3 0 2 0-14-1 0 0 0 0 1 0 2 0 5 0 0 0 0 0 5 0-11-1 2 0 1 0 3 0 3 0 2 0-14-1 1 0 10 0 1 0 2 0-10-1 1 0 2 0 3 0 2 0-12-1 2 0 6 0-8-1 1 0 2 0 5 0 1 0 1 0 0 0 0 0-10-1 11 0-9-1 0 0 3 0 3 0 1 0 0 0 0 0-33 0 0 0 4 0 2 0 1 0 1 0 1 0 3 0 0 0-13 1 0 0 5 0 1 0 3 0 3 0 0 0-13 1 0 0 15 0-16 1 0 0 6 0 2 0 1 0 3 0-13 1 0 0 0 0 9 0 1 0 6 0 2 0-18 1 0 0 1 0 9 0 1 0 0 0 6 0 0 0-14 1 9 0 0 0 4 0 3 0-16 1 0 0 11 0 2 0 4 0 0 0-16 1 0 0 8 0 3 0 0 0 0 0-15 1 0 0 3 0 1 0 10 0 2 0 4 0 1 0-20 1 0 0 0 0 1 0 8 0 0 0 2 0 1 0 2 0 0 0 4 0-18 1 2 0 4 0 10 0 4 0 0 0-18 1 0 0 8 0 0 0 3 0-12 1 1 0 0 0 3 0 0 0 0 0 3 0 4 0 1 0 7 0-21 1 1 0 8 0 4 0 1 0 3 0 1 0 1 0 0 0 1 0 3 0-22 1 6 0 1 0 1 0 5 0 0 0 4 0 1 0 1 0 0 0 1 0-20 1 6 0 0 0 2 0 4 0 3 0 1 0-15 1 4 0 3 0 3 0 6 0 4 0 1 0 0 0-11 1 1 0 3 0-10 1 2 0 0 0 1 0 6 0 1 0 1 0 4 0-19 1 0 0 1 0 9 0 2 0 6 0 3 0-22 1 3 0 4 0 0 0 5 0 4 0 2 0 0 0 3 0 0 0-22 1 8 0 2 0 2 0 2 0 0 0 4 0 2 0 1 0 0 0 1 0 1 0-20 1 6 0 2 0 0 0 2 0 4 0 0 0-21 0-19-1 1 0 1 0 3 0 0 0 3 0 10 0 0 0-19-1 3 0 4 0 3 0 0 0 12 0-19-1 0 0 6 0 9 0 4 0 0 0 1 0-17-1 1 0 15 0-20-1 1 0 0 0 1 0 3 0 0 0 3 0 12 0-17-1 1 0 0 0 2 0 3 0 6 0 2 0 2 0-21-1 0 0 2 0 2 0 5 0 3 0 0 0 1 0 0 0 3 0 3 0 1 0 1 0-20-1 5 0 1 0 6 0 0 0 6 0 2 0 2 0-19-1 0 0 5 0 2 0 3 0 3 0 2 0 1 0 1 0 1 0 0 0-22-1 5 0 0 0 10 0 0 0 4 0-18-1 3 0 6 0 2 0 0 0 1 0 1 0 7 0-17-1 1 0 0 0 9 0 8 0 1 0-21-1 1 0 1 0 2 0 2 0 0 0 4 0 1 0 2 0 3 0 0 0 0 0-14-1 0 0 3 0 2 0 2 0 1 0 0 0 7 0-13-1 6 0 0 0 3 0 0 0-15-1 0 0 1 0 2 0 8 0 2 0 3 0 0 0-14-1 0 0 0 0 12 0 4 0 4 0 0 0 0 0-20-1 1 0 5 0 1 0 1 0 4 0 1 0 6 0 2 0-16-1 2 0 2 0 3 0 6 0-20-1 4 0 0 0 1 0 2 0 1 0 1 0 1 0 3 0 1 0 4 0 1 0 1 0 0 0-15-1 1 0 0 0 4 0 2 0 5 0 0 0 3 0 0 0 1 0 2 0-12-1 4 0 8 0 0 0-20-1 5 0 0 0 4 0 3 0 1 0-36 0 11 0 3 0 1 0 1 0 2 0-22 1 0 0 0 0 1 0 2 0 0 0 8 0 10 0-18 1 4 0 9 0 0 0-16 1 5 0 7 0 0 0 4 0 1 0 3 0 1 0 2 0 0 0-11 1 0 0 1 0 2 0 1 0 4 0 1 0 1 0-21 1 2 0 1 0 5 0 7 0 4 0 1 0 2 0-21 1 7 0 5 0 1 0 0 0 3 0 3 0 1 0-20 1 7 0 4 0 0 0 4 0-16 1 0 0 5 0 2 0 0 0 1 0 10 0 2 0-21 1 0 0 0 0 0 0 0 0 3 0 1 0 2 0 1 0 3 0 5 0 4 0 0 0 3 0 0 0-19 1 4 0 1 0 5 0 1 0 3 0-15 1 1 0 2 0 3 0 4 0 1 0 2 0 0 0 5 0-20 1 1 0 2 0 1 0 1 0 3 0 0 0 0 0 9 0 2 0 0 0 1 0 0 0-20 1 4 0 0 0 4 0 0 0 0 0 5 0-7 1 1 0 2 0 1 0 1 0 2 0 5 0 1 0 2 0 2 0-23 1 1 0 0 0 3 0 12 0 1 0 0 0 5 0 0 0-21 1 6 0 1 0 2 0 2 0 4 0 4 0 1 0-20 1 6 0 1 0 3 0 3 0 0 0 1 0 0 0 0 0 4 0 3 0-20 1 1 0 3 0 3 0 2 0 3 0 0 0 0 0 5 0 2 0 2 0-22 1 0 0 4 0 3 0 4 0 1 0 0 0 0 0 6 0 0 0 1 0 1 0 0 0 0 0 1 0 1 0-22 1 3 0 1 0 2 0 0 0 4 0 6 0 5 0-21 1 3 0 1 0 5 0 8 0 5 0-18 1 1 0 4 0 4 0 3 0 3 0 3 0 0 0 0 0-20 1 5 0 1 0 3 0 1 0 3 0 3 0 2 0 0 0-43 0 8 0 4 0 2 0 0 0 1 0 5 0-20-1 8 0 6 0 3 0-13-1 14 0 3 0-23-1 0 0 5 0 0 0 8 0 5 0 1 0 0 0 0 0 2 0 2 0-22-1 4 0 0 0 2 0 3 0 4 0 0 0 2 0 3 0 3 0-22-1 9 0 6 0 6 0-21-1 3 0 13 0 4 0 1 0 2 0-23-1 8 0 5 0 8 0-20-1 0 0 1 0 3 0 3 0 1 0 0 0 1 0 3 0 5 0 0 0 0 0 5 0-23-1 0 0 10 0 2 0 0 0 1 0 9 0-21-1 1 0 1 0 4 0 0 0 2 0 2 0 3 0 1 0 5 0-20-1 0 0 1 0 1 0 0 0 6 0 3 0 9 0 1 0 0 0-13-1 9 0 1 0 3 0-15-1 1 0 3 0 8 0 5 0 0 0 0 0-7-1 2 0 5 0-19-1 4 0 9 0 5 0-22-1 0 0 7 0 2 0 1 0 3 0 4 0 1 0 1 0 3 0-12-1 13 0-21-1 8 0 1 0 8 0 0 0 2 0-19-1 9 0 3 0 2 0 0 0 0 0 3 0 2 0-17-1 0 0 6 0 2 0 11 0-23-1 5 0 0 0 7 0-6-1 13 0 4 0-22-1 6 0 0 0 0 0 6 0 2 0 4 0 3 0-46 0 0 0 1 0 0 0 10 0 11 0-7 1 5 0 0 0 1 1 1 0-16 1 7 0 0 0 0 0 2 0 3 0 2 0 0 0-10 1 7 0 3 0-17 1 3 0 0 0 5 0 0 0 5 0 2 0 1 0 2 0-11 1 0 0 0 0 6 0 1 0-17 1 3 0 9 0 2 0 0 0 1 0-2 1 5 0 5 0 0 0-19 1 0 0 5 0-3 1 9 0 6 0 0 0-20 1 1 0 6 0 2 0 10 0 0 0 0 0-18 1 17 0 0 0 3 0-19 1 0 0 0 0 2 0 4 0 2 0 0 0 3 0 3 0-10 1 2 0 7 0 1 0-2 1 1 0 5 0 0 0-20 1 13 0 5 0 2 0 1 0-8 1 0 0 0 0 0 0 4 0 4 0 1 0-17 1 0 0 1 0 6 0 0 0 0 0 7 0 2 0-20 1 0 0 0 0 3 0 2 0 4 0 1 0 5 0 0 0 3 0 1 0 0 0 1 0 1 0-22 1 3 0 7 0 6 0 3 0 0 0 1 0-21 1 2 0 8 0 3 0 8 0 2 0-22 1 8 0 5 0 1 0 2 0 1 0-15 1 5 0 5 0 4 0 4 0-44 0 1 0 0 0 12 0 3 0 5 0-19-1 10 0 0 0-9-1 10 0 1 0 2 0 5 0-17-1 15 0 3 0-21-1 4 0 10 0 5 0-15-1 0 0 1 0 5 0 5 0 5 0-14-1 8 0 3 0-10-1 0 0 8 0-14-1 6 0 1 0 0 0 6 0 5 0-10-1 4 0 1 0-16-1 1 0 0 0 3 0 2 0 16 0-21-1 12 0 5 0 5 0-10-1 1 0 7 0 0 0-16-1 3 0 7 0 0 0 5 0-20-2 3 0 3 0 11 0-14-1 11 0 3 0 1 0 0 0-16-1 0 0 0 0 8 0 8 0 0 0 1 0 0 0 0 0-16-1 11 0 6 0-19-1 6 0 7 0 7 0-16-1 6 0 4 0 6 0-21-1 0 0 17 0 6 0-22-1 14 0 3 0-11-1 6 0 1 0-35 0 10 0 0 0 0 0 0 0 1 0 0 0 8 0-20 1 2 0 8 0-11 1 19 0 3 1 0 0-23 1 8 1 1 0 12 0-13 1 0 0 7 0 0 0 5 0 3 0-17 1 1 0 7 0 5 0-14 1 1 0-2 1 15 0 4 0 0 0 0 0-20 1 0 0 8 0-9 1 0 0 8 0-9 1 10 0 6 0 6 0-23 1 13 0 6 0 3 0-14 1 4 0 0 0 6 0 0 0-12 1 11 0-11 1 1 0 2 0 1 0 6 0 6 0-18 1 5 0 12 0 2 0 0 0-19 1 10 0 0 0 0 0 1 1 1 0-15 1 4 0 6 0 1 0 0 0 8 0 0 0-16 1 1 0 6 0 5 0-12 1 0 0 0 0 6 0 5 0 3 0-15 1 0 0 11 0-31 0 7 0 8 0-20-1 13 0-13-1 1 0 3 0-5-1 3 0 3 0 10 0-12-1 0 0 0 0 4 0 9 0 0 0 1-1 0 0 0 0 1 0-20-1 20 0-15-1 16 0 0 0 1 0 0 0-13-1 5 0 8 0 1 0-13-1 13 0 0 0 0 0-19-1 0 0 0 0 4 0 3 0 1-1-6-1 7 0 3 0 1 0 0 0-15-1 5 0 0 0-4-1 4 0 15 0-20-1 1 0 6 0-7-1 1 0 7 0 0 0 8 0-14-1 17 0-21-2 2-1 8 0 4 0 4 0-11-1-3-1 12 0-7-1 7 0-39 0 15 1 1 0-9 1 7 1 0 0 0 0-2 1 1 0 0 0-1 1-2 1 0 1 0 0-2 2 0 0 0 0 12 0-14 1 0 0 1 0 0 0-1 1 0 0 12 0 0 0 0 0-4 1-10 1 0 0 9 0 6 0-16 1 10 0 1 0 4 0 1 0-18 1 1 0 0 0 0 0-1 1 0 0 9 0-11 1 17 0-9 2 10 0 4 0 0 0-2 1 1 0-1 1 0 0 0 0-9 1 8 0-5 1 4 0 0 0-23 0 0 0-16-1 16 0 1 0 0 0-12-1-3-1 17 0 1-1-20-1 8 0-11-2 0 0 9 0 5 0 0 0-4-1-8-1 9 0 0 0-8-1 0 0 8 0 0 0 2-1-9-1 1 0-4-1 5 0-4-1 5 0 9 0 0 0 5 0-13-1 9 0-8-1 8 0 1 0-18-1 10 0 0 0 9 0-17-1 0 0 8 0 10 0-8-1-8-1 9 0 9 0 0 0-17-1 4 0 5 0 9 0 0 0-23-1 5 0 1-1-24 3 1 0 0 0 11 2-15 1 1 0 0 0 16 0 2 0-19 1 0 0-1 1 15 0-16 1 0 0 0 0-1 1 0 0 20 0 1 0-1 1-10 1 9 0-7 1 5 0-11 4 17 0-1 1-1 1 0 0-12 2 10 0-1 1-16 1 5 0 0 0 10 0 0 0-28-2 1-1 0-1 1 0 3-3-13-1 15-1 1-1 0 0 1-1 0 0-16-1 17 0-13-4 1-1 0 0-5-1-3-2-25-3 7 0 13 0 0 0 1 0-19 1 17 1-2 1-1 1 0 0-14 1 13 0-14 1 10 3-8 1 8 0-3 2-1 1 1 0-1 1-2 1 1 0-1 1-2 1 1 0 12 0-13 1 0 0-3 2 0 0 0 1-2 1 8 0-8 1 18 0-33 0-3-3 1-1 13-6-6-1 7 0 1-1 0 0-21-9 1-1 0 0 1-1-4 4 0 0-3 3 0 0-1 1 0 0 0 0 0 0-1 1 0 0-2 2 0 0-1 1 0 0-1 1 0 0 0 0-1 1 0 0-2 2-2 2-1 1 0 0 0 0-2 2-2 2 0 0 0 0-21-5-6-4 4-3 11-2-9-1 10 0-7-2 1-1 2-2 2-3-23 3 0 0 1 0-7 6-1 2-2 1-7 7 16 4-20 0 0 0 2-2 0 0 0 0-20-3 1-1 8-8 11-2-6-3-17 5-6 6-39-5 0 0 1 0 3-3 0-1 2-2 2-2 1-1 0 0-14 14-2 2-2 2-82 3 4-4-22 2-30-5 3-4 3-3 2-1 2-3 2-2-90 11 46 33 9-9 3-2 3-3 1-1 4-4 36 19 87-8-1 2-4 3-1 2-2 1-1 1 13-13 0 0 1-1 3-3 2-2 3-3 0 0 57 22 0 0 2-2 1-1 0 0-11-12 3-3-8-5 36 0-1 1-1 1-4 4-1 1-2 2-1 1-1 1-1 1-1 1-2 2-2 2 19 1 0 1-2 2-3 2 10 0 4-4 11 0-17-4 17-2 0-4 0 0-6-4 6-3 30 2 0 0-1 1-2 2 0 0-1 1-1 1 0 0 0 0-1 1 0 0-2 2-1 1-1 1-2 2 0 0-3 3-1 1 0 0-1 1-1 1 0 0 0 0 29 1 2-2 2-2 0 0 0 0 1-1 0 0 1-1-5-2 8-1-5-2 7 0 2-2-2-6-21-1 0 0 0 0 1-1 1-1 0 0 1-1 30 0 0 0-1 1 13 0 0 0-1 2-1 1-1 1-15 1 13 0 0 0-1 2-2 1-1 1-1 1 0 1-1 1 12 0-1 1 0 0 0 0-13 1-3 2-1 2 0 0-2 1-1 2 12 0 22 1 11-1-9-1 0 0 1-1-13-1 16-2 1-2 1 0 0 0-16-1 17 0 0 0 0 0 1-1 0 0-21-2 23 0 0 0-15-2-4-2 0 0 1-1 12 0-9-3 0 0 7-1-4-2 0 0 0 0 23 0 0 0-1 1 0 0 0 0 0 0-2 2 0 0-1 1 0 0 0 0-1 1 0 0 0 0 15 0-17 1 1 0 0 0-1 1-1 1 0 0 0 0 0 0 20 0-21 1 12 0-13 1 18 2-6 1 6 0-2 1 0 0-1 2 8 1-16 1 6 0 0 0 9 0 0 0 0 0-16 1 0 1 14 0 0 0-1 1-10 1 8 0 0 1 8 0 1 0 16 0 1 0 0 0-16-1 4 0 3 0 9 0 1 0 0 0 0 0-12-1 13 0 0 0-16-1 0 0 0 0 17 0 1-1 0 0 0 0 0-1-15-1 0 0-8-1 9 0-9-1 1 0 0 0 9 0 0 0 4 0 5-3-3-3 0 0 4 0-13-1 1 0 9 0-17-1 8 0 1 0 9 0-17-1 9 0 9 0-9-1 1 0-9-1 0 0 0 0 10 0-5-1 6 0 9 0 0 0-8-1 5 0-4-1-8-1 0 0 8 0 1 0 0 0 9 0 0 0 17 0 0 0 0 0-1 1-1 1-1 1-11 1 9 0 1 0-2 1 1 0 0 0-1 1-2 1 1 0 11 0-13 1 0 0 13 0-13 1-1 1 0 0 0 0 0 0 15 0 0 0 0 0-17 2 15 0 0 0 1 0-17 1 0 0 0 0 0 0 11 0 4 0-16 1 0 0 0 0 0 0 0 0 13 0 2 0-16 1 0 0 12 0 3 0 0 0-16 1 0 0 15 0 1 0 0 0-17 1 0 0-1 1 0 0 15 0 1 0-8 1 2 0 4 0 1 0-6 1 11 0-8 1 8 0-9 1 1 0 0 0 6 0 1 0-9 1 7 0 11 0 10 0-5-1 6 0 0 0 0 0-13-1 1 0 3 0-2-1 1-1 13 0 0 0 0 0-10-1 11 0 1 0 0-1 1 0-20-1 20 0 0 0-6-1 7 0 0 0 0 0-19-1 0 0 7 0 13 0-19-1 0-1 1 0 0 0 0 0 7 0 0 0 3 0-9-1 12 0 0 0 1 0-19-1 0 0 0 0 7 0 7 0 0 0-7-1 1 0 0 0 7 0-13-1 0 0 3 0 1 0 2 0 0 0 1 0 0 0 0 0 0 0 0-1 1 0 7 0-17-1 0 0 15 0 7 0-22-1 12 0 0 0 7 0 0 0 4 0-18-1 8 0-6-1 14 0-7-1 5 0 3 0 0 0 0 0 0 0-7-1 1 0-10-1 0 0 6 0 5 0 11 0 8 1 9 0-10 1 6 0 4 0-20 1 9 0 13 0-14 1 8 0 5 0 0 0-14 1 0 0 13 0-14 1 0 0 0 0 0 0 0 0 1 0 9 0 6 0-17 1 0 0 13 0 0 0-14 1 0 0 0 0 10 0 3 0-14 1 0 0 0 0 1 0 5 0 12 0 1 0 0 0-7 1 0 0 5 0 1 0-20 1 1 0 12 0 0 0 0 0 5 0 1 0-10 1 9 0-20 1 0 0 0 0 0 0 12 0 1 0 6 0-19 1 0 0 12 0 6 0-7 1 0 0 2 0 9 0 1 0-18 1 2 0 8 0 1 0 6 0-16 1 2 0 7 0 0 0 6 0-18 1 5 0 2 0 4 0 5 0 3 0-10 1 1 0 5 0 1 0-16 1 0 0 8 0 1 0 0 0 0 0 0 0 5 0-12 1 12 0 2 0 4 0-8 1 0 0 0 0 0 0 7 0-19 1 9 0 2 0 11 0 0 0 1 0 0 0 0 0 0 0 8 0 2 0 3 0 0 0-12-1 0 0 10 0 1 0 4 0 0 0 5 0-19-1 0 0 0 0 7 0 0 0-7-1 0 0 1 0 0 0 0 0 15 0 3 0-17-1 0 0 10 0 5 0 0 0 0 0 0 0-15-1 1 0 0 0 10 0 1 0-11-1 9 0 4 0-20-1 2 0 7 0 7 0-15-1 9 0 8 0 3 0-21-1 3 0 1 0 7 0 0 0 8 0-19-1 3 0 1 0 2 0 6 0 0 0 0 0 0 0 5 0 2 0 0 0 1 0 2 0-20-1 11 0 0 0 0 0 0 0 0 0 6 0-17-1 1 0 4 0 6 0 1 0 0 0 0 0 6 0-18-1 1 0 1 0-2-1 1 0 2 0 11 0 0 0-16-1 0 0 8 0 8 0 1 0-16-1 0 0 5 0 12 0-16-1 0 0 0 0 5 0 3 0 9 0 0 0-16-1 4 0 1 0 5 0 6 0 1 0 0 0-8-1-11-1 4 0 0 0 5 0 1 0 2 0 8 0 0 0-10-1 1 0 10 0-18-1 2 0 1 0 16 0-22-1 1 0 0 0 0 0 14 0 9 0 10 0 0 0 10 0 2 0-23 1 6 0 4 0 3 0 2 0 0 0 1 0 4 0 0 0 2 0-13 1 5 0 1 0 4 0 2 0 0 0-15 1 8 0 4 0 2 0 1 0 1 0-17 1 3 0 4 0 8 0-14 1 5 0-6 1 5 0 0 0 0 0 1 0 5 0 0 0 0 1 1 0-17 1 3 0 0 0 2 0 4 0 2 0 6 0 6 0 0 0-11 1 0 0 10 0-21 1 0 0 5 0 0 0 6 0 8 0 1 0 0 0 0 0-16 1 5 0 1 0 2 0 3 0 4 0 0 0-20 1 4 0 8 0 6 0 1 0 0 0 0 0-16 1 15 0 0 0 2 0 3 0 0 0-21 1 5 0 0 0 0 0 0 0 10 0-16 1 1 0 4 0 0 0 2 0 8 0-16 1 0 0 0 0 0 0 5 0 0 0 10 0 6 1-18 1 9 0 1 0 0 0 5 0 1 0 4 0-23 1 2 0 9 0 1 0 0 0 0 0 0 0 8 0 2 0-11 1 0 0 0 0 3 0 3 0 3 0-18 1 2 0 6 0 10 0-20 1 8 0 0 0 1 0 0 0 9 0 5 0-22 1 2 0 4 0 1 0 0 0 0 0 3 0 10 0 4 0 2 0 6 0 1 0 0 0 0 0 2 0 3 0 2 0 0 0 1 0 2 0 1 0 0 0-20-1 1 0 0 0 3 0 1 0 4 0 10 0 3 0 0 0-19-1 15 0 3 0 1 0-23-1 0 0 4 0 0 0 9 0 3 0 4 0 0 0-19-1 0 0 5 0 0 0 2 0 0 0 5 0 3 0 2 0-18-1 2 0 0 0 5 0 2 0 1 0 1 0 0 0 3 0 1 0 0 0 0 0 0 0 6 0-14-1 8 0 1 0 0 0 0 0 0 0 4 0 1 0 1 0 0 0-22-1 0 0 2 0 2 0 0 0 4 0 9 0 0 0 0 0 0 0 0 0 4 0-21-1 5 0 0 0 5 0 0 0 1 0 6 0 1 0 0 0 4 0-16-1 5 0 0 0 2 0 1 0 5 0 0 0-19-1 3 0 11 0 1 0 4 0 0 0 1 0 0 0-16-1 0 0 5 0 3 0 1 0 2 0 6 0-20-1 1 0 3 0 8 0 1 0 2 0-7-1 1 0 1 0 6 0 6 0-19-1 3 0 0 0 4 0 5 0-8-1 0 0 4 0 4 0 2 0 2 0-7-1 4 0 0 0-17-1 0 0 0 0 1 0 4 0 1 0 2 0 1 0 1 0-8-1 13 0 0 0 3 0 1 0 3 0 1 0-20-1 5 0 1 0 9 0 2 0 3 0-20-1 6 0 4 0 4 0 0 0 0 0 4 0 2 0-23-1 5 0 0 0 4 0 3 0 2 0 0 0 0 0 0 0-8-1 0 0 7 0 1 0 1 0 2 0 3 0-19-1 6 0 9 0 0 0 1 0 3 0 0 0 2 0 2 0 0 0 1 0 2 0 0 0 6 0 8 0 3 0 0 0 0 0 1 0-21 1 3 0 4 0 1 0 4 0 3 0 0 0 1 0 1 0-16 1 6 0 4 0 5 0 2 0-18 1 4 0 1 0 1 0 0 0 0 0 0 0 0 0 7 0 1 0 1 0 3 0 4 0-22 1 0 0 5 0 0 0 3 0 1 0 2 0 2 0 0 0 4 0 4 0-20 1 2 0 1 0 4 0 1 0 3 0 4 0 3 0 0 0 2 0-19 1 1 0 0 0 3 0 3 0 1 0 4 0 3 0 3 0-18 1 0 0 8 0 4 0 0 0 0 0 3 0 1 0-17 1 4 0 5 0 3 0 0 0 0 0 4 0 0 0 1 0 1 0 4 0 0 0-23 1 5 0 1 0 2 0 4 0 0 0 0 0 10 0-19 1 2 0 0 0 2 0 7 0 4 0 1 0-15 1 2 0 1 0 2 0 2 0 0 0 2 0 7 0-15 1 3 0 0 0 2 0 2 0 2 0 5 0 0 0 1 0 3 0-23 1 3 0 1 0 1 0 4 0 2 0 7 0 1 0 0 0 4 0-21 1 2 0 6 0 0 0 3 0-11 1 11 0 4 0 0 0 6 0-23 1 4 0 4 0 1 0 0 0 6 0 1 0 0 0 4 0 1 0-19 1 5 0 3 0 4 0 0 0 1 0 0 0 0 0 5 0 0 0 2 0 0 0 1 0-23 1 2 0 4 0 2 0 2 0 3 0 0 0 1 0 0 0 8 0 0 0-20 1 3 0 0 0 0 0 1 0 6 0 1 0 8 0-21 1 1 0 3 0 0 0 2 0 5 0 1 0 0 0 5 0-17 1 11 0 0 0 3 0 3 0 1 0 3 0 0 0-12 1 0 0 1 0 3 0 7 0 0 0 0 0 3 0-20 1 2 0 4 0 0 0 0 0 4 0 1 0 1 0 0 0 0 0 3 0 0 0 2 0 1 0 0 0 4 0 4 0 0 0 0 0 3 0 1 0 1 0 1 0 2 0 0 0 0 0-2-1 0 0 2 0-13-1 2 0 0 0 5 0 0 0-7-1 15 0 0 0 0 0-12-1 3 0 3 0 0 0 0 0 0 0 0 0 5 0 0 0-14-1 0 0 1 0 1 0 0 0 1 0 0 0 1 0 6 0 4 0 1 0 0 0 0 0-14-1 2 0 8 0-10-1 0 0 1 0 2 0 3 0 1 0 0 0 4 0-9-1 0 0 5 0 0 0 1 0 4 0 0 0-10-1 1 0 1 0 0 0 1 0 8 0 0 0-12-1 6 0 0 0 4 0-12-1 1 0 2 0 3 0 0 0 0 0 3 0 3 0-8-1 5 0 1 0 7 0 2 0 2 0 1 0 1 0-22-1 2 0 3 0 1 0 1 0 0 0 2 0 4 0 4 0-9-1 2 0 4 0 4 0 0 0 4 0-16-1 0 0 1 0 2 0 0 0 3 0 1 0 0 0 1 0 1 0 3 0 1 0-20-1 1 0 0 0 10 0 4 0 3 0 3 0 0 0 0 0 0 0-19-1 8 0 3 0 2 0 3 0-18-1 2 0 1 0 8 0 2 0 0 0 0 0 6 0 4 0-22-1 3 0 0 0 0 0 0 0 5 0 1 0 2 0 3 0 2 0 2 0-18-1 4 0 3 0 2 0 0 0 5 0 0 0 2 0-17-1 0 0 3 0 2 0 0 0 1 0 3 0 4 0 1 0 7 0 1 0 1 0-17-1 0 0 1 0 3 0 1 0 4 0 0 0 2 0 1 0 1 0 2 0 2 0-19-1 6 0 3 0 2 0 6 0 0 0 0 0 3 0 4 0 0 0 6 0 13 0 0 0-20 1 3 0 1 0 0 0 2 0-7 1 0 0 0 0 4 0 0 0 2 0-2 1 3 0 11 0-20 1 0 0 5 0 2 0 12 0 4 0-23 1 17 0-15 1 1 0 2 0 1 0 10 0 1 0 3 0 3 0-21 1 1 0 13 0 6 0 0 0-21 1 2 0 15 0 1 0 0 0-17 1 1 0 16 0 1 0-19 1 0 0 16 0 0 0 6 0-3 1 4-4 14-6 1 0 0 0-5-1 2 0 4 0 11 0 1 0 1 0 128 23 1 0 3 0 0 0 6 0-8-1 4 0 4 0 0-1 8-21 1 0 1 0 3 0 1 0 3 0 0 0 7 0-15 1 0 0 8 0 0 0 6 0-14 1 1 0 1 0 1 0 6 0 4 0 2 0 0 0 0 0-12 1 3 0 6 0 1 0 2 0-14 1 1 0 2 0 1 0 1 0 1 0 3 0 1 0 0 0 1 0 2 0-10 1 2 0 4 0 3 0-9 1-2 1 1 0 3 0 2 0 3 0 1 0 1 0-8 1 0 0 5 0 3 0-9 1 7 0 3 0-8 1 1 0 2 0 1 0 1 0 0 0 2 0-12 1 2 0 7 0 2 0 1 0-11 1 1 0 0 0 1 0 2 0 0 0 3 0-12 1 2 0 2 0 7 0 0 0 3 0 1 0-17 1 2 0 5 0 1 0 0 0 6 0 1 0 1 0 1 0 2 0-19 1 1 0 1 0 5 0 1 0 4 0 6 0 0 0-16 1 1 0 2 0 4 0 0 0 0 0 1 0 7 0-19 1 0 0 2 0 1 0 3 0 9 0-16 1 0 0 1 0 11 0 6 0 1 0-17 1 2 0 3 0 3 0 1 0 1 0 2 0 1 0 2 0 3 0 2 0-21 1 1 0 3 0 5 0 2 0 0 0 7 0 0 0-19 1 6 0 1 0 15 0 0 0-22 1 3 0 4 0 2 0 5 0 2 0 1 0-16 1 2 0 2 0 2 0 3 0 5 0 5 0 1 0 0 0 2 0 0 0 10 0 0 0 3 0 4 0-16-1 0 0 2 0 1 0 0 0 1 0 2 0 1 0 3 0 0 0 11 0 1 0-13-1 3 0 6 0-14-1 3 0 6 0 7 0 2 0-17-1 9 0 1 0 0 0 1 0 0 0-15-1 6 0 0 0 0 0 4 0 12 0-18-1 2 0 1 0 1 0 9 0-13-1 2 0 12 0 2 0 1 0-20-1 0 0 2 0 1 0 2 0 1 0 3 0 3 0 0 0 0 0 2 0 1 0 2 0 1 0 0 0-10-1 2 0 1 0 1 0-13-1 5 0 5 0 0 0 2 0 1 0 1 0 2 0 0 0 0 0-14-1 0 0 2 0 2 0 1 0 2 0 3 0 1 0 2 0 3 0 3 0-21-1 10 0 0 0 1 0 2 0 6 0-18-1 4 0 6 0 4 0 0 0 3 0 2 0 1 0-13-1 0 0 4 0 4 0 4 0-21-1 2 0 2 0 9 0 0 0 3 0 2 0 0 0-18-1 0 0 1 0 4 0 0 0 1 0 1 0 9 0 5 0 0 0-19-1 1 0 2 0 1 0 6 0 6 0 5 0 0 0-21-1 3 0 1 0 2 0 2 0 1 0 0 0 4 0 4 0 1 0-20-1 2 0 3 0 6 0 1 0 1 0 1 0 6 0 3 0 0 0-21-1 1 0 0 0 4 0 0 0 3 0 4 0 5 0 3 0-20-1 4 0 1 0 2 0 0 0 9 0 5 0-16-1 14 0 1 0 1 0-15-1 3 0 4 0 4 0 1 0 6 0 3 0 3 0 7 0 3 0-16 1 1 0 0 0 1 0 8 0-8 1 1 0 3 0 3 0 4 0 4 0 3 0 0 0-18 1 0 0 2 0 3 0-5 1 14 0-18 1 0 0 15 0 2 0 3 0 3 0-18 1 5 0 9 0 2 0 0 0-21 1 4 0 0 0 0 0 1 0 1 0 3 0-7 1 6 0 2 1 2 0-11 1 3 0 9 0 2 0 3 0-16 1 1 0 2 0 3 0 3 0 5 0 4 0 1 0-21 1 0 0 3 0 1 0 5 0 8 0 1 0-11 2 5 0 2 0 0 0-13 1 2 0 9 0 3 0-14 1 9 0 9 0-6 1-9 1 1 0 5 0 12 0-15 1 12 0 4 0-13 1 1 0 6 0 4 0-18 1 2 0 1 0 4 0 3 0 7 0 0 0-20 1 9 0 9 0 3 0 0 0-20 1 2 0 0 0 6 0 9 0 7 0 15 0 5 0-16-1 1-1 7-1-10-1 11 0-11-2 6 0 4 0 0 0 4 0-10-1 15 0-10-1 11-1-18-1-2-1 10-1-9-1 1 0 2 0 2 0-2-1-5-1 16-1-18-1 7 0 1 0-4-1 0 0 12 0 5 0-15-1 2 0 5 0 9 0-19-1-2-1 1 0-2-1 11 0 3 0-13-1 4 0 11 0 15 1 1 0 8 0 3 0-17 3 17 2-3 1 7 0-22 1 5 0 12 1-15 2 15 1-8 1 2 1-2 1-2 2-8 3 7 0-7 2 1 1 3 0 2 0 8 0 12-4 1-7-2-2 6 0 4-5 8-3-13-1-6-1 36 13-9 1 5 2-1 7 27-10-3-5-44 16-7 4 6 1 4 8-14 5-17 2-2-1 14-1-13-1-1-2-1-3 1 0 2-3 4-3 10 0-20-1 20-2-14-1-27 0 11 0 4 1-19 1 11 0 12 0-6 2 3 0-20 1 6 0 15 0-21 1 8 0-1 1 7 2-14 1 4 0 15 0 0 1-6 1 3 0-14 2 3 1-2 1 7 0 6 0 0 1-12 1 15 0-18 2-10 1 1 0 0 0-4-1 9 0-17-1-3-1 2 0 12-1 3 0 3 0-6-1-14-1 5 0 0 0 9 0-8-1 0 0 5 0-9-1-3-1 1 0 0 0 4 0 5 0-9-1 7 0-3-1 3 0 3 0-9-1 13-1-5-1-7-1 0 0-3-1 7 0 5 0 1 0 4 0-8-1-9-1 6 0 16 0-22-1 9 0 3 0 6 0-11-1-7-1 1 0 20 0-21-1 15 0 0 0-7-1 9 0-40 0 3 0 1 0-5 1 1 0 0 0 2 0 5 0 2 0 0 0 1 0 0 0 0 0 11 0-22 1 0 0 16 0 0 0 2 0 5 0-23 1 12 0 0 0-8 1 1 0 2 0 1 0 4 0 1 0-4 1 2 0 1 0 9 0 2 0-23 1 2 0 1 0 8 0 1 0 0 0 2 0 0 0 6 0-20 1 13 0 3 0 3 0 2 0-21 1 0 0 9 0 5 0-14 1 5 0 9 0 4 0 2 0-20 1 8 0 3 0 2 0-12 1 2 0 0 0 10 0 9 0-21 1 5 0 2 0 0 0 4 0-10 1 1 0 2 0 1 0 1 0 9 0 2 0 0 0-13 1 2 0 5 0 8 0-19 1 10 0 1 0 3 0 3 0-18 1 1 0 3 0 0 0 1 0 14 0 2 0-19 1 8 0 2 0 5 0 4 0-19 1 9 0-2 1 7 0 2 0 2 0-18 1 4 1 4 0 3 0 4 0 0 0 2 0-19 1 4 0 2 0 5 0-8 1 17 0-41 0 9 0 6 0 3 0-20-1 5 0 1 0 11 0 4 0-22-1 2 0 17 0-19-1 0 0 11 0 11 0-19-1 1 0 3 0 0 0 14 0-20-1 11 0 1 0 4 0 1 0-18-1 6 0 0 0 7 0 6 0 0 0 2 0-15-1 4 0 0 0 7 0 1 0 0 0 4 0-10-1 3 0 3 0 0 0 4 0 0 0-19-1 3 0 10 0 1 0-15-1 6 0 0 0 2 0-9-1 1 0 1 0 5 0 1 0 3 0 2 0 1 0 8 0-23-1 3 0 0 0 0 0 1 0 1 0 11 0-16-1 4 0 8 0 3 0 3 0-17-1 0 0 9 0 1 0 5 0 1 0 6 0-22-1 0 0 1 0 2 0 2 0 1 0 2 0 2 0 3 0 1 0 0 0 2 0 2 0 0 0 1 0 3 0-22-1 12 0 0 0 9 0 0 0 0 0 0 0 1 0 0 0-22-1 5 0 1 0 0 0 2 0 3 0 9 0 1 0 1 0-23-1 1 0 1 0 7 0 1 0 3 0 1 0 1 0 7 0 0 0-19-1 2 0 4 0 1 0 1 0 2 0 0 0 0 0 2 0 2 0 0 0 3 0-19-1 5 0 1 0 3 0 1 0 4 0 0 0 2 0 3 0 0 0 1 0 0 0 2 0 0 0-21-1 2 0 2 0 6 0 2 0 0 0 1 0 2 0 1 0-17-1 1 0 3 0 2 0 8 0 4 0 4 0 0 0-23-1 5 0 5 0 6 0 3 0 4 0-34 0 0 0 6 0 4 0-8 1 5 0 1 0 0 0 0 0 1 0-7 1 1 0 3 0 2 0 1 0-8 1 0 0 5 0 1 0-10 1 1 0 2 0 2 1 1 0 0 0 2 0 1 0 2 0-11 1 1 0 2 0 1 0 1 0 0 0 7 0 0 0-12 1 4 0 5 0 0 0 3 0 0 0-11 1 6 0 2 0-10 1 2 0 5 0 3 0 2 0 0 0-13 1 2 0 2 0 3 0 7 0 0 0-17 1 3 0 2 0 4 0 2 0 2 0 0 0 0 0 4 0-18 1 4 0 1 0 1 0 1 0 4 0 2 0 0 0 3 0 0 0 1 0-17 1 1 0 2 0 0 0 4 0 0 0 1 0 5 0 0 0 4 0-18 1 5 0 8 0 4 0 1 0-20 1 3 0 5 0 2 0 2 0 6 0-18 1 1 0 1 0 1 0 6 0 5 0 1 0 0 0 0 0 1 0 4 0-21 1 3 0 1 0 1 0 4 0 2 0 7 0 1 0 2 0 2 0 0 0-21 1 9 0 0 0 2 0 1 0 4 0-13 1 5 0 1 0 0 0 4 0 1 0-15 1 1 0 3 0 2 0 0 0 1 0 1 0 1 0 2 0 2 0 2 0 1 0 0 0 2 0-16 1 6 0 7 0 3 0 2 0 0 0-16 1 6 0 4 0 0 0 0 0 3 0 4 0-22 1 1 0 2 0 0 0 9 0 1 0 7 0 3 0-41 0 2 0 1 0 14 0 0 0-16-1 0 0 2 0 1 0 0 0 2 0-9-1-2-1 0 0 8 0 4 0 1 0-13-1 1 0 4 0 1 0 5 0 2 0 0 0 0 0 0 0-14-1 2 0 1 0 0 0 0 0 6 0-9-1 8 0 6 0 0 0-14-1 3 0 1 0 2 0 6 0 0-1-6-1 0 0 1 0 1 0 1 0 4 0-10-1 1 0 2 0 4 0 1 0 0 0-4-1 1 0-172-12 3 0 1 0-5 1 0 0 3 0 1 0 2 0 1 0 0 0-8 1 0 0 7 0-8 1 0 0 1 0 5 0 1 0-8 1 0 0 0 0 4 1 8 0 1 0 3 1-6 1 2 0 3 0 1 0 0 0-6 1 5 0-6 1 4 0-1 1 1 0 4 0 0 0 0 0-8 1 3 0 3 0 1 1 0 0-6 1 0 0 5 0 1 0 0 0-3 1 1 0-38 7 0-3 1-1 0 0 0 0-1-1 0-8 0 0 0 0 0 0 0 0 0-1 15 0 1 0 5 0 0 0 0 0-20-1 0 0 1 0 0 0 15 0 1 0 0 0 4 0 0 0 0 0-20-1 1 0 7 0 4 0 2 0 3 0 4 0 0 0-20-1 1 0 0 0 0 0 7 0 1 0 2 0 0 0 0 0 2 0 1 0 2 0 1 0 1 0-21-1 3 0 2 0 0 0 0 0 3 0 1 0 3 0 0 0 0 0 8 0 3 0-23-1 5 0 0 0 1 0 4 0 3 0 1 0-7-1 0 0 3 0 3 0 2 0 2 0 2 0-19-1 15 0-31 0 1 0 0 0 0 0-1 1 4 0 0 0 0 0 2 0 1 0 4 0 1 0 1 0 2 0-16 1 0 0 0 0 0 0 6 0 2 0 2 0 1 0 0 0-18 1 5 0 1 0 0 0 6 0 2 0 3 0 1 0 5 0 0 0-19 1 0 0 1 0 0 0 0 0 0 0 0 0 7 0 1 0 0 0 3 0 1 0 0 0 3 0-16 1 0 0 0 0 8 0 4 0 0 0 0 0 5 0 0 0-18 1 0 0-2 1 1 0 11 0 6 0 1 0-20 1 1 0 0 0 0 0 7 0 1 0 0 0 3 0 2 0 2 0 2 0 1 0 2 0-21 1 0 0 5 0 3 0 0 0 8 0 6 0 1 0 0 0 0 0 0 0-20 1 3 0 1 0 0 0 0 0 3 0 1 0 3 0 0 0 2 0-10 1 3 0 0 0 1 0 4 0 0 0 1 0 6 0 0 0 0 0 0 0 0 0 0 0 0 0-21 1 3 0 2 0 3 0 4 0 1 0-9 1 0 0 3 0 1 0 0 0 5 0 0 0 0 0 1 0 0 0 4 0 0 0 1 0-16 1 0 0 1 0 3 0 0 0 4 0 1 0 0 0 0 0 5 0 1 0 0 0 0 0 0 0 4 0-22 1 1 0 5 0 0 0 10 0 0 0 0 0 0 0 1 0 5 0 1 0 0 0-23 1 0 0 1 0 3 0 1 0 0 0 3 0 4 0 3 0 0 0 1 0 4 0 2 0-22 1 1 0 7 0 1 0 6 0 0 0-14 1 5 0 8 0 0 0 7 0 1 0-20 1 0 0 0 0 3 0 7 0 1 0 0 0 2 0 4 0 2 0 2 0 0 0-18 1 1 0 5 0 1 0 0 0 0 0 10 0-17 1 1 0 4 0 0 0 1 0 0 0 0 0 0 0 8 0 2 0-12 1 1 0 0 0 0 0 7 0 0 0 0 0 3 0 0 0 0 0 2 0-22 1 1 0 0 0 8 0 0 0 0 0 8 0 2 0 0 0 1 0-41 0 0 0 1 0 5 0 1 0 6 0 0 0 2 0 3 0 0 0 0 0 1 0-20-1 2 0 1 0 6 0 0 0 7 0 4 0 0 0 1 0 0 0 0 0-23-1 4 0 2 0 5 0 1 0 0 0 6 0 2 0 0 0-20-1 1 0 12 0 0 0 6 0-18-1 4 0 9 0 0 0 7 0-19-1 0 0 0 0 0 0 7 0 5 0 1 0 0 0 8 0-20-1 0 0 7 0 2 0 3 0 0 0 1 0 0 0 5 0-21-1 0 0 4 0 0 0 5 0 0 0 2 0 0 0 5 0 0 0 6 0-21-1 4 0 0 0 0 0 4 0 8 0 1 0 0 0 0 0 0 0 0 0 0 0 4 0-21-1 1 0 0 0 4 0 3 0 4 0 5 0 1 0 0 0 0 0-18-1 10 0 2 0 7 0 0 0-18-1 9 0 1 0 0 0 0 0 3 0 6 0 0 0-17-1 1 0 4 0 0 0 4 0 1 0 7 0 0 0 0 0 1 0 0 0 0 0-17-1 1 0 4 0 1 0 6 0 5 0 1 0 0 0 0 0-19-1 11 0 1 0-12-1 4 0 0 0 1 0 9 0 1 0-19-1 0 0 0 0 11 0 7 0 0 0-17-1 6 0 2 0 3 0 2 0 4 0 3 0-19-1 13 0 0 0 0 0 0 0 0 0 1 0 6 0 1 0-21-1 0 0 0 0 0 0 1 0 9 0 4 0 0 0 5 0-17-1 0 0 7 0 1 0 1 0 0 0 4 0 0 0-12-1 0 0 0 0 0 0 10 0 3 0 0 0 4 0 1 0 0 0 0 0-18-1 1 0 0 0 7 0 0 0 1 0 1 0 6 0 1 0-22-1 7 0 0 0 0 0 4 0 3 0 1 0 1 0 1 0 3 0 0 0-36 0 2 0 1 0 1 0 1 0 3 0 0 0 7 0-23 1 7 0 3 0 0 0 3 0 3 0 0 0-2 1 1 0 2 0 2 0 3 0-14 1 0 0 5 0 0 0 1 0 4 0-13 1 2 0 6 0 4 0-15 1 2 0 2 0 5 0 0 0 1 0 4 0 0 0 0 0 0 0-16 1 3 0 7 0 5 0 3 0-4 1 0 0 9 0-22 1 2 0 5 0 5 0 0 0 3 0 7 0 0 0-21 1 5 0 0 0 0 0 6 0 9 0 0 0 0 0 0 0-21 1 1 0 4 0 0 0 1 0 5 0 8 0 0 0 0 0 1 0 0 0-16 1 0 0 0 0 1 0 2 0 11 0-19 1 4 0 0 0 1 0 4 0 0 0 0 0 9 0 0 0 0 0 1 0 0 0 0 0 0 0-11 1 9 0 1 0 0 0 0 0 0 0 0 0 5 0-23 1 3 0 0 0 4 0 0 0 4 0 5 0 1 0 0 0-16 1 0 0 0 0 14 0 0 0 8 0 0 0 0 0-17 1 8 0 0 0 1 0-11 1 0 0 9 0 1 0 0 0 0 0 3 0-14 1 0 0 5 0 4 0 0 0 1 0 0 0-11 1 0 0 4 0 5 0 1 0 6 0 0 0 3 0-20 1 1 0 1 0 7 0 0 0 1 0 0 0 0 0 0 0 0 0 6 0 3 0 0 0-11 1 1 0 0 0 7 0 1 0 1 0 4 0 0 0-17 1 3 0 0 0 0 0 5 0 4 0 4 0 0 0 0 0-21 1 6 0 0 0 1 0 0 0 6 0 7 0 0 0 0 0 0 0-43 0 15 0 0 0 5 0 1 0-20-1 0 0 10 0 5 0 0 0 1 0 4 0 0 0 0 0-19-1 15 0 0 0 1 0-15-1 10 0-10-1 11 0 0 0 5 0-15-1 1 0 5 0 6 0 5 0-23-1 7 0 0 0 1 0 7 0 3 0 1 0-19-1 8 0 1 0 8 0 4 0-12-1 1 0 0 0 8 0 4 0-20-1 9 0 0 0 0 0 10 0 2 0-11-1 0 0 1-1 0 0 0 0-11-1 1 0 1 0 10 0-13-1 14 0 0 0 7 0-17-1 2 0 1 0 7 0 1 0 6 0-22-1 0 0 17 0 0 0-16-1 1-1 17 0-17-1 0 0 1 0 5 0 1 0 0 0 11 0-8-1 9 0 0 0 0 0-17-1 1 0 6 0 11 0-16-1 5 0 0 0 3 0 9 0-16-1 0 0 3 0 2 0-10-1 2 0 4 0 0 0 0 0 0 0 6 0-33 0 8 0 1 0 0 0-2 1 1 0 0 0 7 0 2 0-21 1 10 0 1 0-10 1 8 0 0 0 10 0 3 0-14 1 1 0 0 0 6 0 6 0 0 0-14 1 7 1 1 0 4 0-14 1 0 0 0 0 1 0 7 0 5 0 0 0-14 1-1 1 0 0 0 0 13 0 5 0 1 0-20 1 0 0 18 0 1 0-20 1 0 0 13 0 6 0 0 0 0 0 0 0 0 0-20 1 10 0 8 0 1 0 0 0 0 0 0 0 2 0-22 1 1 0 0 0 0 0 9 0 3 0 5 0 1 0-1 1 3 0 0 0-11 1 1 0 0 0 5 0 1 0 0 0 0 0 4 0-11 1 2 0-6 1 8 0 1 0 0 0-2 1-7 1 1 0 0 0 6 0 6 0-13 1 5 0 5 0 2 0-4 1 3 0-14 1 7 0-10 1 8 0 1 0 0 0 6 0-38 0 0 0 0 0 3 0 10 0 0 0 0 0 1 0-13-1 13 0 1-1 0 0 1 0 5 0-4-1 0 0-13-1 3 0 10 0 1-1 1 0 0 0-20-1 0 0 21-1-19-1 7 0 0 0 13 0-19-1 0 0 0 0 0 0 20 0-20-1 0 0 0 0 2-1 0 0 7 0 6 0-13-1 1 0 0 0 12 0-4-1 0 0-7-1 1 0 7 0-7-1-6-1 0 0 8 0 0 0 7 0-6-1 0 0 0 0 6 0 1 0 0 0-17-1 0 0 3 0 7 0-5-1 0-1 7 0 8 0 0 0 1-1-13-1 6 0 0 0 8 0 0 0 0 0-14-1-32 0 0 0 0 0 0 0 17 0-18 1 0 0 5 0 11 1-1 1-1 1-1 1 0 0-1 1 0 0 11 0-14 2 1 0 0 0 0 0 8 0-10 2 0 0-1 1 11 0 5 0-18 1 0 0 1 0 0 0 0 0 16 0-17 1 0 0 0 0 15 0 1 0-17 1 0 0-1 1 0 0 0 0 0 0 0 0 15 0 0 0-16 1 0 0 15 0-17 1 17 0-17 1 0 0 11 0 11 0-8 1 0 0 7 0 1 0-8 1 0 1 5 0 1 0-2 1 1 0 0 0-9 1 1 0-33 0 17 0-16-1 16 0 1 0-16-1 1-1 17 0 0 0-11-1 12 0 0 0-16-2 1 0 0 0 0 0-8-1 0 0 0 0 5 0 4 0 5 0 0-1-12-1 1-1 0 0 0-1 1 0 9 0-3-1 4 0 0 0 5 0-14-1 1 0 0 0 1-1 0 0 9 0 1-2 6-1-12-1-8-1 9 0 9-1 1 0 1-1-8-1-14-1 15 0-30 0 0 0-2 1 1 0-1 1-1 1-1 1 0 0-2 1 1 0-1 1-1 1-1 1 0 0 14 1 5 1-2 1-2 3-1 1-2 1-5 1 5 0 8 0-10 1 1 0 9 0-1 1-11 1 0 0 10 0-11 1 1 0-2 1 10 0-1 1 0 0 0 0 0 0-30 0 0-1 1 0 0 0 0 0 1-1 0-1 1 0 1-1 1-1 0 0 0 0 0 0 0-1 1 0 0 0 0 0 1-1 1-1 0 0 2-2 2-2 0 0 0-1-16-6-22-4 12 1-1 1-2 2 0 0-1 1-1 2-3 3-2 1 0 0 1 0 11 1 0 0-14 1-1 1 14 5-21 2 1 0 12 0-14 1 13 0-27 1 13 0-11-2 5-5 2-2 2-2-10-1 5-1-15-8 0 0 1-1-3 3-6 1 0 0 5 0 0 0-1 1-2 2-3 3-1 1-2 2-1 1-1 1 0 0 0 0-1 1 0 0 0 0-1 1-2 2-1 1-1 1 12 0 0 1-41-8 5-4 16-2-13-1 4-4 4-4-21 0-3 3-2 2-1 1-2 2-1 1-2 2 0 0-1 1-1 1-2 2 0 0 0 0 0 0 15 6-23 2 1-1 2-2-11-12 2-2 0 0 4-3 0-1 1-1-21 1-46 10 1-1 1-1 2-2-5 5-4 4-2 2-2 2-49-7-18-4-68 11 3-3 10-10 6-5 0-1 2-2-45 1-52 18 55 24 2-3 8-8 6-5 1-2 122 13-1 1-4 4-2 2 9-8 0-1 5-4 0-1 5-5 46 10 35-12-2 2-1 1-1 1-1 1-3 3-4 4-1 1 15 5 0 1 10-1 4-14 3-3 33 3-2 2 0 0-1 1-1 1-1 1-3 3-1 1 0 0 0 0-1 1-2 2 0 0-1 1 0 0-2 2 0 0 0 0-3 3 0 0 30 0-8-4 12 0 0 0-4-3 7 0-5-2 10-3-6-5 0-1 0 0-16-2 0 0 1-1 1-1 0 0 44 0-22 1 20 0 0 0-1 2-2 1-15 2 13 0-2 2 0 0-1 1 1 0-9 1 7 0 10 0-12 2 13 0-15 2 1 0 7 0-9 1-1 1 0 0 0 0-1 1 1 0 0 0 12 0 0 0 4 2-21 2 33 2 3-2 0 0 0 0 2-2 0 0 1-1 1-1 0 0 0 0 0-1 1 0 0 0 1-1 0 0 1-1 0 0 0 0 1-1 1-1 0 0 0 0 0 0 0-1 1 0-20-3 2-2 1-1 0-1 2-1 6 0 20-3 0 0-2 2 0 0-3 2 0 0 1 0 0 0 0 0 14 2-17 1 0 0 0 0 20 0-21 1 0 0 0 0-1 1 0 0 0 0-1 1 20 0 1 0-2 2-11 5 15 0 0 0 0 0-11 1 1 0 9 0-12 2 9 1 0 0-1 1-11 1 1 0 8 0 1 0 0 0 26 0 0 0-16-1 1-1 16 0 1 0 1-1 0 0 0 0 0 0-16-1 7 0 10 0 0 0 0 0 0 0-23-3 13 0 1 0-14-1 1 0 9 0 0-1-7-1 0 0 13 0-13-1 10 0-8-1 1-1 0-1 1 0 4 0 5 0-8-1 1-1 0 0-9-1 1 0 9-1 1 0 0 0 9 0-16-2 9 0-13-1 14 0 8 0-17-1 0 0 1 0 9 0 0 0-8-1 8 0 1 0 26 0 0 0 0 0 0 0-18 1 17 0 0 0 0 0-2 1 0 1 0 0 0 0 0 0-1 1 0 0 0 0 0 0-1 1 0 0 0 0 0 0 0 0-1 1-1 1 0 0-2 1 1 0-2 1 0 0 1 0 0 0-1 1 0 0 0 0 15 0-16 1 16 0-17 1 0 0 16 0 0 0-18 1 1 0 0 0 15 0-17 1 0 0 0 0 0 0 17 0-17 1 0 0-2 1 1 0 15 0-17 1 1 0-1 1 0 0 0 0 11 0 12 0 0 0 0 0 0 0 0 0 0 0-15 1 6 0 8 0-1 1 0 0 0 0-1 1 0 0-9 1 8 0-8 1 7 0 0 0 7 0 13 0 0 0 1-1 7 0-13-1 7 0 0 0 1-1 0 0 0 0 1 0-10-1 10 0 0 0-13-1 14 0 1 0-20-1 0 0 0 0 0 0 7 0 13 0 0 0-20-1 0 0 1 0 0 0 0 0 11 0 9 0-19-1 0 0 0 0 0 0 0-1 1 0 0 0 0 0 7 0 13 0 0 0 0 0-20-1 1 0 0 0 0 0 7 0 6 0-12-1 0 0 0-1 1 0 0 0 0 0 0 0 6 0 4 0-9-1 0 0 10 0-16-1 7 0 0 0 0 0 10 0 2 0-11-1 7 0 0 0-13-1 0 0 7 0-7-1 8 0 0 0 0 0-7-1 8 0 0 0 7 0-17-1 3 0 1 0 14 0 0 0 3 0-9-1 0 0 0 0 0 0-13-1 7 0 7 0 0 0 7 0-14-1 1 0 7 0 8-1 0 0 3 1 0 0 9 0 0 0 0 0-1 1 1 0 8 0 3 1-14 1 0 0 1 0 12 0-14 1 0 0 1 0 9 0-11 1 0 0 0 0 13 0-14 1 1 0 12 0 0 0 0 0-14 1 8 0 2 0-11 1 0 0 19 0-20 1 0 0 0 0 1 0 0 0 12 0 0 0 5 0 1 0 0 0-20 1 1 0 12 0 5 0 1 0-20 1 0 0 0 0 10 0 0 0 3 0 0 0 6 0-20 1 0 0 1 0 12 0 6 0 0 0-7 1 6 0-2 1 1 0 0 0 5 0 1 0-11 1 4 0-1 1-7 1 5 0 1 0 0 0 0 0 8 0 1 0-19 1 8 0 1 0 0 0 5 0 1 0 0 0-13 1 6 0-4 1 8 0 0 0-6 1 0 0 0 0 8 0 1 0-10 1 0 0 6 0 10 0 1 0 0 0 0 0 15 0-14-1 0 0 0 0 8 0 0 0 2 0 5 0 1 0 0 0-16-1 1 0 0 0 0 0 15 0 1 0 0 0-15-1 0 0 0 0 0 0 13 0 3 0-15-1 0 0 0 0 0 0 0 0 15 0-14-1 0 0 0 0 0 0 10 0 5 0 0 0 0 0 0 0 1-1-14-1 0 0 0 0-8-1 8 0 13 0-20-1 1 0 1 0 6 0 1 0 0 0 0 0 0 0 0 0 10 0-21-1 12 0 0 0 8 0 0 0 0 0 2 0 0 0-21-1 1 0 0 0 10 0 1 0 0 0 0 0 0 0 8 0 2 0-9-1 0 0 0 0-13-1 6 0 8 0 6 0 1 0-17-1 2 0 8 0 1 0-16-1 0 0 6 0 3 0 7 0 1 0 0 0 0 0 0 0 0 0-17-1 0 0 1 0 17 0 0 0 0 0-16-1 0 0 0 0 0 0 5 0 0 0 1 0 11 0 0 0 0 0 0 0-10-1 11 0-16-1 0 0 0 0 5 0 12 0 0 0-17-1 1 0 0 0 5 0 3 0 0 0 9 0 0 0 0 0 0 0-22-1 16 0 7 0 0 0-22-1 6 0 0 0 0 0 0 0 16 0-19-1 4 0 0 0 0 0 5 0 1 0 0 0 10 0 0 0 1 0 6 0 0 0 1 0 8 0 5 0 0 0 0 0-21 1 0 0 0 0 0 0 15 0 0 0 0 0 0 0 0 0 5 0-14 1 0 0 8 0 0 0 1 0 0 0 3 0 1 0-2 1 1 0-13 1 4 0 4 0 4 0 0 0 0 0-11 1 5 0 0 0 5 0-11 1 5 0 0 0 0 0 0 0 5 0-11 1 5 0 1 0 4 0 0 0 9 0 0 0-20 1 5 0 0 0 1 0 4 0 10 0 0 0 0 0 0 0 0 0-16 1 1 0 14 0-21 1 0 0 0 0 2 0 3 0 1 0 4 0 9 0 1 0-19 1 1 0 2 0 0 0 5 0 0 0 1 0 9 0 0 0 0 0-16 1 0 0 3 0 1 0 1 0 0 0 0 0 9 0 1 0 0 0 0 0 0 0 0 0 0 0 0 0-16 1 0 0 0 0 0 0 4 0 1 0 1 0 4 0 4 0 1 0 0 0-18 1 17 0 0 0 6 0-21 1 4 0 0 0 0 0 1 0 1 0 8 0 7 0 0 0 0 0-23 1 0 0 1 0 13 0 1 0 0 0 0 0 0 0 0 0 0 0 0 0 0 0-15 1 2 0 11 0 1 0 0 0 5 0 3 0-10 1 0 0 1 0 6 0-8 1 0 0 0 0 1 0 0 0 0 0 0 0 0 0-11 1 0 0 3 0 2 0 5 0 6 0 0 0 3 0 0 0 2 0-12 1 9 0 4 0-22 1 15 0 6 0-14 1 0 0 0 0 9 0 4 0 0 0 0 0 0 0 1 0 4 0 8 0 11 0-19-1 3 0 6 0 0 0 3 0 4 0 1 0 3 0 0 0-16-1 6 0 0 0 0 0 0 0 4 0-16-1 0 0 0 0 4 0 3 0 1 0 5 0 0 0 3 0 4 0-19-1 0 0 0 0 0 0 4 0 8 0 1 0 0 0 0 0 6 0 2 0-20-1 1 0 0 0 4 0 8 0 0 0 0 0 0 0 6 0-18-1 0 0 0 0 8 0 5 0 0 0 0 0 0 0 0 0 0 0 0 0 5 0 2 0-19-1 0 0 13 0 0 0 0 0 0 0 0 0 0 0 0 0-16-1 2 0 2 0 1 0 0 0 11 0 1 0 0 0-12-1 0 0 0 0 0 0 0 0 0 0 7 0 5 0 1 0 0 0 0 0 0 0 0 0 0 0 0 0-18-1 0 0 2 0 4 0 0 0 0 0 3 0 1 0 8 0 0 0 0 0 1 0 0 0 0 0 0 0 0 0 0 0-16-1 4 0 0 0 12 0 0 0 1 0 0 0 0 0 0 0-20-1 6 0 3 0 12 0-17-1 1 0 4 0 0 0 0 0 4 0 2 0 6 0-18-1 3 0 0 0 0 0 0 0 0 0 4 0 5 0 7 0 0 0-15-1 2 0-10-1 6 0 3 0 4 0 0 0 4 0 0 0 2 0 0 0 2 0-20-1 0 0 5 0 2 0 6 0 0 0 0 0 0 0 1 0-13-1 0 0 0 0 0 0 0 0 8 0 5 0 0 0 0 0 0 0 4 0-17-1 0 0 1 0 0 0 0 0 0 0 6 0 7 0 0 0 0 0 4 0-16-1 0 0 0 0 0 0 0 0 5 0 8 0 0 0 2 0-14-1 0 0 0 0 9 0 0 0 1 0 3 0 0 0 2 0 2 0 0 0 0 0 0 0 1 0-17-1 0 0 9 0 4 0 4 0-16-1 0 0 0 0 0 0 0 0 6 0 3 0 6 0 10 0 0 0 1 0 0 0 0 0 0 0 7 0 1 0 0 0 0 0 1 0 2 0-20 1 0 0 7 0 1 0 0 0 11 0 0 0-18 1 5 0 1 0 0 0 2 0 4 0 5 0 0 0 0 0 4 0 0 0-22 1 6 0 0 0 4 0 4 0 3 0 5 0-18 1 1 0 0 0 4 0 8 0 3 0 0 0-17 1 0 0 1 0 0 0 0 0 7 0 5 0 3 0 0 0-17 1 1 0 0 0 0 0 6 0 1 0 1 0 9 0-19 1 1 0 0 0 3 0 4 0 0 0 1 0 3 0 0 0 1 0 0 0-13 1 0 0 5 0 17 0-23 1 0 0 6 0 1 0 1 0 4 0 5 0 0 0-10 1 3 0 0 0 1 0 3 0 2 0 5 0 1 0-20 1 5 0 2 0 1 0 0 0 0 0 4 0 1 0 6 0-20 1 4 0 0 0 2 0 1 0 4 0 0 0 1 0 1 0 0 0 6 0 0 0 0 0-16 1 3 0 1 0 3 0 1 0 6 0 1 0 0 0 0 0-13 1 0 0 5 0 6 0 1 0-16 1 3 0 0 0 1 0 10 0 1 0 0 0 4 0 2 0 0 0-18 1 0 0 10 0 0 0 1 0 5 0 2 0-20 1 0 0 1 0 0 0 0 0 3 0 7 0 1 0 0 0 7 0 1 0-23 1 1 0 1 0 1 0 0 0 5 0 5 0 1 0 0 0-13 1 0 0 1 0 3 0 2 0 1 0 4 0 1 0 0 0 0 0 0 0 7 0-20 1 1 0 0 0 4 0 0 0 2 0 4 0 1 0 0 0 0 0 0 0 5 0 2 0 0 0-16 1 1 0 1 0 5 0 1 0 0 0 7 0 3 0 0 0 0 0 1 0 1 0-21 1 2 0 5 0 1 0 0 0 7 0 3 0 0 0 0 0 1 0 2 0 0 0-22 1 0 0 8 0 7 0 3 0 3 0 13 0 0 0 4 0 0 0 3 0 0 0-10-1 0 0 8 0 2 0-18-1 11 0 5 0 0 0 1 0 0 0-16-1 1 0 0 0 6 0 0 0 0 0 0 0 1 0 0 0 6 0 3 0-18-1 2 0 7 0 0 0 6 0 0 0 2 0 2 0 0 0 0 0 0 0-19-1 1 0 9 0 0 0 1-1 0 0 6 0 1 0 1 0-17-1 1 0 5 0 4 0 7 0-19-1 3 0 0 0 0 0 2 0 1 0 1 0 2 0 4 0 0 0-5-1 0 0 6 0 0 0 0 0-12-1 3 0 0 0 4 0 2 0 0 0 4 0 0 0 0 0 3 0 2 0 0 0-19-1 2 0 3 0 2 0 1 0 7 0 0 0 2 0-14-1 0 0 7 0 1 0 5 0 0 0-13-1 1 0 2 0 1 0 0 0 5 0 5 0 0 0-9-1 0 0 0 0 10 0 0 0 0 0 0 0 0 0-19-1 6 0 1 0 8 0 5 0 0 0-20-1 1 0 5 0 0 0 2 0 1 0 2 0 2 0 1 0 1 0 0 0 1 0-15-1 1 0 5 0 0 0 5 0 0 0 3 0-13-1 1 0 0 0 10 0 0 0 4 0-13-1 5 0 3 0 3 0 2 0 2 0 2 0-17-1 0 0 1 0 0 0 0 0 3 0 2 0 1 0 2 0 2 0-14-1 0 0 9 0 1 0 5 0 0 0 0 0 0 0 0 0 4 0 1 0-20-1 11 0 6 0 2 0 0 0-20-1 2 0 6 0 0 0 0 0 0 0 10 0 197 22-1-1-2-1 1 0 2 0-1-1-2-2 1 0-3-1 0 0 2 0 0 0 0 0-2-1 0 0 3 0 0 0-2-1 1 0 0 0 2-1 0-1 0 0-1-1 1 0 0 0 1 0 0-1 22-10 1 0-15 1 1 0 0 0 1 0-5 1 0 0 3 0 0 0 3 0 0 0 12 0 0 0-19 1 1 0 0 0 7 0 1 0-2 1 0 0 1 0 9 0 2 0-19 1 0 0 0 0 1 0 5 0 1 0 2 0 1 0 9 0 0 0-15 1 7 0 6 0 0 0 0 0 2 0-16 1 5 0 4 0 7 0-20 1 0 0 1 0 2 0 0 0 2 0 4 0 1 0 2 0 2 0 6 0-19 1 1 0 4 0 3 0 2 0 0 0 3 0-16 1 1 0 0 0 3 0 5 0 3 0 1 0 1 0 2 0 5 0-17 1 0 0 2 0 2 0 7 0 6 0-17 1 8 0 2 0 5 0 1 0 3 0-21 1 0 0 6 0 8 0 2 0 1 0 3 0 1 0-23 1 2 0 4 0 2 0 2 0 1 0 3 0 3 0 1 0 4 0 0 0-20 1 3 0 0 0 2 0 3 0 3 0 3 0 3 0 3 0 1 0-23 1 4 0 6 0 1 0 1 0 0 0 3 0 1 0-12 1 2 0 3 0 0 0 8 0 1 0 5 0 0 0-22 1 6 0 1 0 3 0 1 0 2 0 3 0 3 0 1 0-20 1 1 0 0 0 1 0 1 0 0 0 1 0 4 0 0 0 2 0 6 0 4 0 0 0-20 1 1 0 9 0 7 0 2 0 0 0 1 0-16 1 0 0 10 0 0 0-14 1 7 0 0 0 2 0 2 0 0 0 1 0 3 0 0 0 4 0 0 0 1 0 0 0-13 1 5 0 3 0 1 0 2 0 1 0 1 0 2 0 3 0 4 0 3 0 2 0-7-1 4 0 3 0 4 0 0 0 2 0 6 0-21-1 3 0 5 0 8 0 4 0-21-1 3 0 0 0 2 0 9 0 0 0 6 0 2 0-13-1 0 0 1 0 1 0 2 0 2 0 1 0 2 0 2 0 0 0 1 0-19-1 2 0 2 0 4 0 2 0 1 0 4 0 0 0 1 0 4 0-21-1 5 0 1 0-2-1 1 0 4 0 2 0 9 0-13-1 1 0 3 0 0 0 4 0 1 0 3 0-10-1 2 0 2 0 1 0 1 0 5 0-19-1 0 0 1 0 0 0 4 0 1 0 5 0 2 0 7 0-17-1 0 0 4 0 0 0 1 0 0 0 1 0 7 0-19-1 0 0 0 0 1 0 1 0 0 0 5 0 5 0 2 0 2 0-11-1 0 0 2 0 3 0 1 0 4 0 1 0 5 0 1 0-22-1 2 0 4 0 4 0 0 0-9-1 1 0 9 0 2 0 2 0-12-1 0 0 2 0 0 0 3 0 5 0 0 0 0 0 3 0 6 0-20-1 1 0 4 0 2 0 0 0 6 0 6 0-16-1 0 0 4 0 13 0-20-1 10 0 1 0 2 0 1 0 3 0 0 0-18-1 1 0 1 0 3 0 3 0 5 0 1 0 0 0 2 0 2 0 1 0-15-1 1 0 4 0 3 0 2 0 3 0 5 0-22-1 3 0 1 0 1 0 1 0 2 0 0 0 3 0 0 0 3 0 3 0-18-1 1 0 3 0 2 0 0 0 2 0 7 0 4 0 3 0 1 0 13 0 8 0 2 0 1 0-7 1 5 0 2 0-13 1 7 0 2 0-17 1 3 0 4 0 9 0 4 0-19 1 1 0 12 0 0 0 0 0 2 0-15 1 4 0 12 0-18 1 1 0 6 0 3 0 10 0-21 1 4 0 1 0 1 0 1 0 2 0 4 0 8 0-21 1 4 0 1 0-4 1 2 0 2 0 5 1-6 1 2 0 2 0 1 0 0 0 7 0 1 0 3 0-12 1 2 0 7 0 2 0 1 0 2 0 1 0-22 1 5 0 0 0 4 0 1 0 2 0 4 0 2 0 2 0-11 1-8 1 0 0 8 0 6 0 4 0-16 1 7 0 0 0 1 0 5 0 4 0 2 0-20 1 4 0 1 0 1 0 7 0 1 0 1 0 3 0 0 0-21 1 3 0 1 0 2 0 0 0 5 0 4 0 2 0 5 0-6 1 4 0-3 1-15 1 21 0-7 1 6 0-21 1 5 0 5 0 5 0 0 0 4 0 7 0 8 0 7 0-17-1 15 0-12-1 5 0 8 0-16-1 10 0 1 0 0 0-9-1 4 0 16 0-23-1 12 0 7 0-17-1 9 0 8 0-18-1 3 0 16 0 3 0-14-1 1 0-4-1 7-1-12-1 11 0-8-2-2-1 4 0 1 0 6 0 8 0-15-1 11 0 1 0 4 0-21-1 6 0 7 0 1 0 0 0 4 0 0 0-16-1 0 0 8 0 4 0 4 0-16-2 15 0-16-1 4 0 2 0 1 0-1-1 14 0-10-1 6 0-16-1 8 0 11 0 10 1 1 0 7 0 8 1-22 1 9 0 1 0 3 0 7 0-20 2 10 0 7 0-15 1 0 0 11 1 3 0 3 0-20 1 3 0-3 1 1 0 3 0 13 1-15 1 8 0 12 1-20 1 21 2-16 1 13 0-7 2-3 1 2 0 9 4 6-4 7-3-6-3 9-1-10-2 2 0-4-4 6-3 10-1 3-1-17-1 33 2-3 1-3 4 10 1-15 4-1 1 29 1-4-14 23 20 17 17-2-1-51 8 0-6-12-4 1 0-1-7 0 0-19-2 2 0-6 2 7 1 2 2-7 1 9 0 6 2-17 1 8 2-8 3 8 1 7 3-31 3 14-1-23-1 20 0-13-2 7-3-13-1 6 0 0-1-4-3 13 0-10-1 4 0 10 0 0 0-2-3-15-1 13 0 2-3-36-2 0 0-1 1 12 0 6 1-19 1 4 0 3 0 8 0 3 0-21 1 2 0 18 0-21 3 5 0 2 0-4 1 13 0 7 0-3 1-18 2 14 0-13 2 1 0 11 0-9 1 3 0-1 1 12 0-18 1 2 0 0 0 2 0 15 0-2 2-17 1 15 0-10 1 3 0 5 0-4 1-7 1-3 1-24 0 2 0 2 0 2 0 2 0 0 0 7 0 3 0-10-1 1 0 1 0 7-1-16-1 3 0 2 0 6 0 3 0-14-1 14 0 6 0-21-1 8 0 12 0 1 0 1 0-23-1 2 0 17 0-13-1 2 0-3-1 3 0 1 0 0 0 5 0 1 0-9-1 9 0 2 0-17-1 1 0 2 0 1 0 13 0 4 0-18-1 11 0 5 0 1 0-19-1 10 0 5 0-15-1 7 0 0 0 3 0-8-1 0 0 2 0 12 0 4 0-18-1 0 0 0 0 2 0 8 0 2 0 2 0-14-1 1 0 3 0 9 0 6 0-15-2 8 0-12-1 2 0 15 0-20-1 1 0 4 0 3 0 1 0 2 0 5 0 1 0 3 0-16-1 3 0 8 0 3 0-9-1 0 0 5 0 2 0 3 0-17-1 1 0 13 0-40 0 6 0 0 0 2 0 0 0 11 0 3 0-22 1 6 0 5 0-10 1 1 0 7 0 3 0 10 0-19 1 0 0 14 0 2 0 0 0 0 0 1 0-9 1 8 0 3 0-21 1 0 0 3 0 5 0 6 0 2 0-15 1 1 0 9 0 2 0 4 0 1 0 4 0-22 1 3 0 6 0 4 0-14 1 2 0 0 0 1 0 0 0 11 0 2 0-11 1 11 0-12 1 14 0 3 0-7 1 4 0-18 1 1 0 5 0 2 0 6 0-13 1 13 0 3 0 1 0-18 1 3 0 0 0 0 0 0 0 9 0 3 0 3 0-18 1 14 0 4 0 0 0 3 0-16 1 0 0 9 0 4 0 2 0-13 1 2 0 3 0 0 0-12 1 6 0 5 0-11 1 6 0 0 0 1 0 2 0 13 0-22 1 2 0 19 0 0 0-19 1 7 0 2 0 8 1 0 0-13 1 4 0 2 0 4 0 6 0-43 0 0 0 5 0 3 0 1 0 3 0 1 0 2 0-14-1 8 0 0 0 1 0 3 0-2-1 6 0 0 0-19-1 2 0 2 0 1 0 4 0 2 0 2 0 8 0-20-1 1 0 0 0 2 0 7 0 4 0 1 0-12-1 6 0 0 0 9 0 2 0 1 0-21-1 2 0 5 0 1 0 8 0-16-1 4 0 2 0 1 0 2 0 0 0 1 0 9 0 0 0 2 0-22-1 13 0 1 0 0 0 6 0-18-1 8 0 5 0 6 0-13-1 3 0 6 0-18-1 1 0 7 0 2 0 10 0 3 0-16-1 1 0 1 0 3 0 0 0 4 0 1 0-15-1 0 0 1 0 0 0 2 0 1 0 3 0 6 0 8 0-23-1 2 0 1 0 6 0 8 0 1 0 3 0-21-1 9 0 4 0 8 0-15-1 9 0 1 0 1 0-17-1 0 0 0 0 5 0 3 0 1 0 1 0 2 0 1 0 2 0 8 0-23-1 1 0 3 0 9 0 5 0-16-1 0 0 2 0 1 0 3 0 3 0 7 0 1 0 3 0-20-1 0 0 1 0 1 0 1 0 0 0 3 0 3 0 2 0 2 0 2 0 3 0 1 0 2 0-19-1 2 0 0 0 0 0 4 0 1 0 9 0-13-1 2 0 3 0 1 0 1 0 2 0 1 0-10-1 7 0 3 0 2 0 1 0 3 0-24 6 0 3-1 1 0 0-7 1 1 0 2 0 1 0 0 0 2 0 2 0 0 0-9 1 0 0 2 0 0 0 4 0 2 0-10 1 1 0 5 0 4 0-11 1 0 0 1 0 0 0 5 0 3 0 3 0-12 1 3 0 2 0 1 0 5 0 0 0 1 0-22 1 9 0 0 0 3 0 6 0 0 0 1 0 1 0 2 0-21 1 8 0 0 0 9 0 2 0-10 1 3 0 4 0-9 1 0 0 6 0 1 0 5 0-21 1 1 0 0 0 1 0 8 0 1 0 0 0 1 0 0 0 5 0 3 0 2 0-20 1 1 0 0 0 0 0 2 0 2 0 0 0 3 0 6 0-16 1 4 0 4 0 4 0 3 0 3 0-18 1 0 0 2 0 8 0 3 0 1 0 6 0-41 0 6 0 12 0 0 0-17-1 1 0 3 0 3 0 0 0 2 0 3 0 3 0-15-1 7 0 0 0 4 0 0 0 0 0 0 0 2 0 0 0 0 0 1 0 1 0 1 0-18-1 4 0 1 0 0 0 2 0 6 0 4 0 1 0 1 0-18-1 4 0 3 0 0 0 5 0 0 0 0 0 3 0-14-1 0 0 0 0 6 0-2-1 0 0 11 0 2 0 2 0-5-1 3 0-1-1 0 0 0 0 1 0-33 3-3 1 4 0 2 0-4 1 5 0 1 0 1 0 0 0-10 1 0 0 1 0 8 0-5 1 0 0 1 0 1 0 2 0 3 0-10 1 1 0 0 0 1 0 1 0 2 0 4 0 1 0-152-23 2 0 0 0 3 1-16 3 0 0 5 1-4 2 2 0 3 0-5 1 0 0 1 0 3 0 1 0 0 0 0 0 0 0-6 1 1 0 5 0 2 0 0 0-3 1 1 0-4 2 0 0 4 0 1 0-7 1 4 0 0 0 5 0 0 0-9 1 0 0 2 0 6 0 0 0-6 1 6 0-2 1 1 0 0 0 0 0-6 1 4 0 1 0 0 0 0 0-16 3 1 0-2-1 1 0 2 0-6-1 0 0 0 0 0 0 2 0 5 0 2 0-8-1 4 0-7-1 4 0 1 0 0-1 1 0 0 0 4 0 5 0 0 0 0 0 0 0 0 0-9-1 0 0 6 0 0 0 2 0-21-1 1 0 3 0 1 0 0 0 9 0 0 0 7 0-19-1 2 0 1 0 0 0 1 0 0 0 0 0 2 0 0 0 1 0 6 0 0 0 6 0-20-1 2 0 4 0 2 0 0 0 2 0 5 0 0 0-12-1 0 0 3 0 7 0 3 0 0 0 0 0 0 0 0 0 3 0-12-1 0 0 3 0 1 0 6 0 0 0 0 0-19-1 5 0 5 0 0 0 4 0 6 0 0 0-20-1 4 0 7 0 0 0 10 0 0 0 0 0 0 0 0 0-20-1 0 0 8 0 0 0 3 0 1 0 2 0 2 0 5 0-20-1 0 0 1 0 0 0 0 0 0 0 0 0 4 0 6 0 1 0 3 0 0 0 1 0 5 0 0 0 0 0 0 0-19-1 10 0 3 0 1 0 0 0 1 0-18-1 4 0 0 0 6 0 1 0 0 0 8 0-8-1 1 0 0 0 3 0 5 0 1 0-16-1 1 0 0 0 5 0 2 0 3 0 0 0 1 0 3 0-21-1 1 0 0 0 1 0 6 0 7 0 0 0-39 0 1 0 8 0 0 0 0 0 0 0 0 0 11 0 1 0-14 1 1 0 12 0 0 0 0 0-13 1 8 0 3 0 1 0 3 0 1 0-17 1 0 0 0 0 0 0 0 0 0 0 0 0 0 0 0 0 0 0 6 0 1 0 4 0 4 0 0 0 0 0-17 1 0 0 1 0 0 0 0 0 8 0 3 0 0 0 0 0 1 0-14 1 1 0 0 0 6 0 1 0 5 0 0 0 3 0 0 0 2 0-18 1 6 0 5 0 1 0 0 0-13 1 0 0 0 0 6 0 5 0 0 0 1 0 0 0 4 0-18 1 1 0 7 0 4 0 0 0 1 0 0 0 2 0 3 0 5 0 0 0-23 1 0 0 0 0 0 0 0 0 0 0 0 0 11 0 6 0 1 0 4 0 0 0 1 0 0 0 0 0-13 1 0 0 0 0 0 0 5 0 6 0 0 0 1 0 0 0-18 1 6 0 0 0 0 0 10 0-8 1 0 0 0 0 7 0 0 0 0 0 1 0 0 0 0 0 0 0-13 1 0 0 0 0 4 0 0 0 0 0 1 0 1 0 0 0-6 1 10 0 1 0 0 0 0 0-16 1 0 0 0 0 3 0 0 0 0 0 3 0 1 0 1 0 6 0 1 0-16 1 0 0 3 0 0 0 1 0 0 0 10 0 0 0 1 0 0 0 0 0-13 1 0 0 1 0 0 0 3 0 2 0 1 0 2 0 2 0 1 0 0 0 5 0-17 1 3 0 8 0 0 0 0 0 7 0-20 1 0 0 0 0 1 0 0 0 0 0 3 0 2 0 5 0 6 0 3 0-21 1 0 0 4 0 7 0 1 0 10 0 0 0 0 0-22 1 5 0 2 0 3 0 0 0 6 0 5 0-19 1 2 0 0 0 2 0 3 0 1 0 0 0 0 0 0 0 10 0 0 0 1 0 0 0-13 1 0 0 1 0 0 0 0 0 0 0 0 0 6 0 4 0 0 0 0 0 1 0-41 0 6 0 1 0 7 0 0 0 4 0 0 0 1 0 0 0 0 0 0 0-20-1 2 0 6 0 1 0 0 0 0 0 0 0 0 0 11 0 1 0 0 0-20-1 1 0 16 0 3 0-23-1 4 0 0 0 2 0 6 0 1 0 0 0 0 0 5 0-17-1 8 0 5 0 0 0 6 0 2 0 0 0-20-1 0 0 1 0 11 0 1 0-11-1 0 0 11 0 1 0-16-1 4 0 0 0 4 0 5 0 3 0 1 0-17-1 1 0 4 0 1 0 0 0 3 0 8 0 0 0 0 0 1 0 0 0 0 0 0 0 0 0-12-1 0 0 13 0-12-1 13 0 0 0 0-1 1 0 0 0 0 0 0 0-19-1 3 0 0 0 4 0 0 0 0 0 0 0 1 0 3 0 1 0 2 0 5 0 0 0 1 0-17-1 5 0 1 0 2 0 1 0 4 0 4 0 1 0-18-1 2 0 0 0 2 0 2 0 5 0 3 0-14-1 7 0 0 0-12-1 9 0-9-1 0 0 1 0 0 0 13 0 0 0 4 0 1 0 0 0 4 0-22-1 1 0 0 0 0 0 0 0 8 0 1 0 0 0 0 0 5 0 3 0-17-1 1 0 0 0 8 0 3 0 2 0-12-1 5 0 4 0 4 0 4 0-17-1 1 0 8 0 1 0 4 0 0 0 0 0 0 0 1 0 0 0-14-1 0 0 1 0 0 0 0 0 7 0 2 0 4 0 4 0-17-1 1 0 0 0 0 0 0 0 0 0 5 0 8 0 0 0-43 0 7 0 3 0 5 0 0 0 6 0-22 1 0 0 20 0 0 0-11 1 5 0 1 0 0 0 7 0 0 0-8 1 0 0-7 1 5 0 0 0 1 0 0 0 4 0-6 1 0 0 1 0 4 0 0 0-10 1 4 0 0 0 3 0-7 1 3 0 0 0 1 0 4 0 3 0-13 1 4 0 9 0 5 0 0 0 1 0 0 0-16 1 0 0 1 0 4 0 0 0 9 0 0 0 1 0 0 0-16 1 0 0 0 0 5 0 0 0 1 0 8 0 0 0 1 0 0 0 0 0 0 0-21 1 2 0 4 0 4 0 10 0 0 0-20 1 4 0 0 0 0 0 1 0 5 0 9 0-16 1 0 0 0 0 14 0 1 0 0 0-18 1 2 0 5 0 10 0 0 0 0 0 0 0 0 0-16 1 1 0 0 0 8 0 5 0 1 0 0 0-16 1 0 0 1 0 4 0 9 0 8 0-9 1 0 0 1 0 0 0 0 0 0 0-10 1 9 0 0 0 6 0-13 1 5 1 0 0-9 1 7 0 9 0 5 0 0 0-21 1 1 0 6 0 0 0 4 0 0 0 3 0 2 0 0 0 4 0-15 1 1 0 0 0 13 0-28 0 0 0 6 0-21-1 1 0 15 0 1 0-15-1 0 0 0 0 15 0-15-1 1 0 0 0 0 0 15 0 0 0 0 0 1 0-16-1 0 0 1 0 15 0 0 0 1 0 0 0-15-1 8 0-15-1 8 0 0 0 10 0 5 0-15-1 1 0 10 0 1 0-11-1 8 0 3 0 0 0-20-1 0 0 11 0-11-1 11 0 1 0 0-1 1 0 0 0 0 0 10 0-9-1 0 0 0 0 0 0-10-1 11 0 0 0 8 0-20-1 2 0 4 0 1 0 5 0 1 0 0 0 0 0 0 0-16-1 6 0 4 0 6 0 1 0 0 0-17-1 1 0 8 0 1 0 1 0 6 0 1 0 0 0 0 0-16-1 0 0 6 0 4 0 6 0 0 0 0 0 0 0 0 0 1 0-17-1 1 0 0 0 16 0 1 0 0 0 0 0-16-1 0 0 17 0 0 0-16-1 16 0 1 0 0 0 0 0 0 0 0 0 0 0 0 0-17-1 1 0 0 0 0 0 16 0 1 0 0 0 0 0 0-1 0 0-21-1 6 0 0 0 6 0 3 0-28 0 0 0 0 0 0 0 0 0 0 0 1 0 0 0-2 1 0 0 1 0-2 1-1 1 0 0 0 0 0 0 0 0 1 0-2 1 13 0 0 0 0 0 0 0-14 1 1 0-2 1 0 0 13 0-14 1 0 0 0 0-1 1 0 0 13 0-14 1 18 1 0 0 0 0-20 1 0 0 0 0 1 0 17 0 0 0-19 1 15 0 3 0 1 0 0 0 0 0 0 0-20 1 0 0 0 0 0 0 0 0 19 0 0 0-19 1 0 0 0 0 17 0 1 0 0 0 5 0-6 1 0 0 0 0 0 0 0 0-7 1 6 0 0 0-1 1-11 1 3 0 6 0 1 0 0 0 2 0 4 0-8 1 0 0 1 0 0 0-7 1 6 0 0 0 6 0-13 1 5 1 0 0 0 0 5 0-6 1 0 0 6 0-38 0 0 0 13 0 1 0 0 0-13-1 4 0 9 0 1-1 0 0 0 0-9-1 0 0 10 0 0 0-15-1 6 0 10 0 1 0-10-1 10 0-19-1 0 0 20 0 0 0 0 0 0 0 0 0 0 0-19-1 0 0 0 0 0 0 0 0 20 0 0 0 0 0 0 0 1 0-21-1 1 0 0 0 10 0 10 0 0 0 0 0 1 0-20-1 0 0 12 0 8 0 0 0 0 0-19-1 1-1 0 0 0 0 0-1 8 0-6-1 0 0 4 0-10-1 6 0 0 0 1 0 0 0 0 0 7 0 0 0 4 0-18-1 8 0 0 0 14 0-13-1 0 0 0-1 1 0 0 0-7-1 1 0 7 0 0 0-11-1 12 0 4 0 3 0-13-1 7 0 7 0-13-1 7 0 0 0 0 0 0-1 1 0 0 0 0 0-6-1 7 0 0 0-24 0 1 0 0 0-2 1 1 0 0 0-1 1 0 0-2 1 1 0-1 1 0 0 0 0 8 0-9 1 0 0-2 1 1 0 0 0 0 0-2 1 1 0 0 0 0 0 9 0-10 1-2 1 1 0 0 0-2 1 1 0 15 0-17 1 1 0 0 0 15 1-17 1 0 0-1 1 0 0 12 0 4 0-18 1 1 0 0 0-1 1-2 1 0 0 16 0 7 0 0 0-1 1 1 0-13 1 11 0 1 0 0 0-9 1 7 0-16 1 4 0 12 0-1 1 0 0 0 0-13 1 12 0-23 0 0 0 0 0 0 0 1-1 0-1 1-1 1 0 0 0 1-1-15-2-8-1 0 0 11-2 7 0-15-1 0 0 1-1 9 0-8-1 0 0 0-1 1 0 0 0 0 0 1-1 0 0 9 0-8-1 1-1 0 0 0 0 10-1-18-1 5 0 5 0 0-1 0 0 1 0 1-1 9 0-8-2 1 0-30-1 1 0-2 1 1 0-1 1 15 0-17 1 0 1-1 1 0 0-1 1-2 2 0 0-2 2 0 0 15 0 5 1-6 1 5 0-9 3 5 0 8 2-1 1-11 1 0 0 10 0 0 0 0 0-2 2 0 0-2 2 0 0 0 0 0 0 0 0-30 0 3-3 0-1 3-2 0 0 0 0 0 0 0 0 0-1 1 0 1-1 0 0 1-1 1-2 1 0-14-9 6 0-5-1 0 0-10-2-15 1-1 1 13 1-16 2 11 2 0 0 0 0 0 0-1 2-2 1 0 0 0 0-1 1-1 1 1 0-1 1-3 2 0 0 1 0 11 1-14 1 0 0-2 2 1 0 0 0 17 1-20 1 1 0 11 1-14 1 0 0-23-20 0-1 1 0 0 0-3 3-2 2-1 1 0 0-2 2-7 7-2 2 0 0 0 0-2 2-1 1-28-7 11-11 0-1 2-1 0-1-19-1 0 0 0 0-5 5-4 4-6 6-1 1-3 3 17 4-18-3 0 0-19-4 14-14-30 18-36-7 6-7 0 0 5-5-12 12-2 2-7 7-131-4 10-10 6-6 98 37 0 0 0 0 0 0-1 1-1 1 1 0-2 1 0 0-1 1 1 0-2 1 0 0-2 2 0 0-1 1 11-10 0-1 1 0 0-1 0 0 1-1 2-2 0 0 1-1 2-2 0 0 1 0 1-2 2-2 0 0 0 0 0 0 0 0 0 0 0 0 0 0 0 0 0 0 0 0 0 0 0 0 0 0 0 0 0 0 0 0 0 0 0 0 0 0 0 0 0 0 0 0 0 0 0 0 0 0 0 0 0 0 0 0 0 0 0 0 0 0 0 0 0 0 0 0 0 0 0 0 0 0 0 0 0 0 0 0 0 0 0 0 0 0 0 0 0 0 0 0 0 0 0 0 0 0 0 0 0 0 0 0 0 0 0 0 1-1 56 23 0 0-11-12 31-8-3 3 0 0-4 4-4 4 14 7 10-1 42-16 0 0-1 1 0 0-1 1-1 1 0 0-1 1 0 0 0 0 0 0-2 2 0 0-1 1 0 0 0 0-1 1-1 1 0 0 0 0 0 0-1 1 0 0-1 1 0 0-1 1 0 0 0 0 0 0-1 1 0 0 0 0 0 0-1 1 0 0-1 1-2 2 0 0-1 1 0 0-1 1 0 0 0 0 0 0 38-2 5-11-23-7 0 0 0 0 1-1 0 0 0 0 1-1 0 0 0 0 0 0 0 0 0 0 0 0 0 0 0 0 0 0 0 0 0 0 0 0 0 0 0 0 0 0 0 0 0 0 0 0 0 0 0 0 0 0 0 0 0 0 0 0 0 0 0 0 0 0 0 0 0 0 0 0 0 0 0 0 0 0 0 0 0 0 0 0 0 0 0 0 0 0 0 0 0 0 0 0 0 0 0 0 0 0 0 0 0 0 0 0 0 0 0 0 0 0 0 0 0 0 0 0 0 0 0 0 0 0 0 0 1-1 43 0-1 1-1 2-3 2-2 2 1 0-2 1-3 3 0 1-2 1 13 0-14 1 0 0 1 0 0 0-1 1-1 1-3 2 18 1-20 1-2 3 35 0 0 0 0 0 1-1 0 0 0 0 0 0 1-1 0 0-11-1 12 0 0 0 3 0 0 0-3-1 0 0 0 0 1 0 0 0 2 0-2-1 1 0 0 0 0-1 1 0 1-1 1-1 0 0 1-1 0 0-3-1 3 0 1 0 0 0 0 0 1-1 0 0 0 0 0 0 0 0 0 0-17-1 18 0 0 0 0 0 0 0 0 0-15-2 9 0-7-2 7 0-5-2 5 0-9-2 9-2 0 0 0 0 0 0 0 0 0 0 0 0 0 0 0 0 0 0 0 0 0 0 0 0 0 0 0 0 0 0 0 0 0 0 0 0 0 0 0 0 0 0 0 0 0 0-6-1 23 0 0 0 0 0-1 1 0 0 0 0 0 0 0 0 0 0 0 0 0 0 0 0 0 0 0 0 0 0 0 0 0 0 0 0 0 0 0 0 0 0 0 0 0 0 0 0 0 0 0 0 0 0 0 0 0 0 0 0 0 0 0 0 0 0 0 0 0 0 0 0 0 0 0 0 0 0 0 0 0 0 0 0 0 0 0 0 0 0 0 0 0 0 0 0 0 0 0 0 0 0 0 0-1 1 0 0 0 0 0 0-1 1-2 1 1 0 0 0 0 0 0 0-1 1 0 0-1 1 0 0 0 0 0 0 0 0 15 0-16 1 0 0 0 0 0 0-1 1 0 0 0 0 21 0-23 1 1 0 0 0-1 1 17 3-2 2 1 0 7 2-1 1 0 0-11 1 10 0 0 0-2 2 0 0-8 1 7 0 0 0-1 1 0 0 0 0 25 0 1 0 0 0 0 0 0 0 1-1 0 0 0 0-11-1 12 0 1-1 0 0 0 0 0-1 1 0 0 0 0-1-23-2 1-1 0 0 0-1 1 0 0 0 0 0 2-2 9 0 4 0-13-1 2-1 0 0 0 0 8 0-7-1 0-1 1 0-8-2 10 0 6-1-5-1 1 0 0 0 0-1 1-1 1 0 1-1 1-1 0 0 26 0 0 0-1 1 0 0 0 0 0 0 0 0 0 0 0 0 0 0 0 0 0 0 0 0 0 0 0 0 0 0 0 0 0 0 0 0 0 0 0 0 0 0 0 0 0 0 0 0 0 0 0 0 0 0 0 0 0 0 0 0 0 0 0 0 0 0 0 0 0 0 0 0 0 0 0 0 0 0 0 0 0 0 0 0 0 0 0 0 0 0 0 0 0 0 0 0 0 0 0 0 0 0 0 0 0 0-2 1 1 0 0 0 0 0 0 0 0 0-2 1 1 0 0 0 0 0-2 1 1 0 0 0 0 0 0 0-3 2 1 0-2 1 1 0 0 0-1 1 0 0 0 0-2 1 0 0 0 0 1 0-2 1 1 0 0 0 0 0 0 0-2 1 0 0 0 0 1 0 0 0 12 0-13 1 0 0 0 0 0 0 0 0 0 0-1 1 0 0-2 1 1 0 0 0 0 0-1 1 0 0-1 1 0 0 0 0 0 0-1 1 0 0 0 0 0 0 0 0 0 0 15 0-16 1 0 0 14 1 6 1 0 0 1 0 0 0-12 1 3 0 0 0 0 1 19 1 7 0 0 0 0 0 0 0 1 0 0 0-13-1 13 0 1 0 0-1 0 0 1 0 0 0 5 0-5-1 0 0 1-1 0 0 0 0 0 0 0 0 1-1 1 0 0 0-20-1 0 0 9 0 11 0-19-1 7 0 13 0 0 0 0 0-20-1 1 0 0 0 0 0 20 0 0 0-20-1 0 0 1 0 20 0 0 0 0 0 0 0 0 0-20-1 2-1 0 0 7 0-7-1 2-1 0 0 0 0 1-1 0 0 0-1 12 0-10-1 0 0 0 0 10 0-20-1 3 0 7 0-3-1 5 0 0-1 1 0 0 0 0 0-7-1 7 0 1 0 0 0 0-1 1 0 7 0-6-1 0 0 1-1 0 0 20 0 0 0 1 0 0 0 0 0-2 1 0 0 0 0 0 0 0 0 0 0 0 0 0 0 0 0 0 0 0 0 0 0 0 0 0 0 0 0 0 0 0 0 0 0 0 0 0 0 0 0 0 0 0 0 0 0 0 0 0 0 0 0 0 0 0 0 0 0 0 0 0 0 0 0 0 0 0 0-11 1 10 0 0 0 0 0 0 0 1 0 0 0 0 0-2 1 0 0 1 0 0 0 11 0-13 1 1 0 0 0-2 1 1 0-2 1 0 0 1 0 8 0 4 0-14 1 0 0 1 0 0 0 12 0-14 1 1 0 0 0-2 1 1 0 12 0 5 0-19 1 0 0 0 0 0 0 1 0 0 0 8 0 10 0 0 0-20 1 0 0 0 0 19 0 0 0-20 1 0 0 9 0 3 0 7 0 0 0 0 0-20 1 0 0 0 0 0 0 0 0 1 0 12 0 5 0 1 0 0 0 0 0-19 1 12 0-1 1 6 0 0 0-5 1 10 0-13 1 0 0 0 0 5 0 1 0 5 0 1 0-7 1 0 0-4 1 6 0-1 1 3 0-7 1 0 0 3 0 1 1-12 1 6 0 5 0 1 0 10 0 1 0 8 0 7 0 0 0-14-1 0 0 0 0 0 0 11 0 9 0-19-1 0 0 0 0 16 0-16-1 1 0 0 0 0 0 0 0 0 0 0 0 15 0 1 0-16-1 1 0 0 0 0 0 0 0 11 0 4 0-15-1 1 0 0 0 0 0 10 0 5 0 1 0-16-1 1 0 0 0 0 0 10 0 1 0 4 0-22-1 7 0 1 0 0 0 0 0 0 0 1-1 0 0 1-1-10-1 10 0 0 0 0 0 1 0 0 0 10 0-10-1 0 0 1 0 0 0 0 0 0-1 1 0 0 0 0 0 0 0 0 0 0 0 0 0 0 0 0-1 0 0 0 0 0 0 1 0 0 0 0 0-10-1 10 0 1 0 0 0 0 0 0 0-16-1 0 0 5 0 1 0 10 0 1 0 0 0-17-1 0 0 6 0 1 0 10 0 1 0 0-1 1 0 0 0 0 0-16-1 0 0 0 0 9 0 8 0 0 0-11-1 1 0 10 0 1 0 0 0 0 0 0 0-17-1 1 0 0 0 5 0 5 0 6 0 0 0-16-1 18 0-22-1 6 0 0 0 0 0 16 0 0 0-10-1 1 0 1 0 0 0 20 0 5 0-16 1 0 0 0 0 0 0 0 0 0 0 0 0 0 0 0 0 0 0 0 0 0 0 0 0 0 0 0 0 0 0 0 0 0 0 0 0 0 0 0 0 0 0 0 0 0 0 0 0 0 0 0 0 0 0 0 0 0 0 0 0 0 0 0 0 0 0 0 0 0 0 0 0 0 0 0 0 0 0 0 0 10 0 5 0 0 0 5 0 1 0 0 0 1 0-12 1 4 0 1 0-2 1 0 1-7 1 0 0 5 0 0 0 0 0 0 0 6 0-7 1 0 0 0 1-2 1 0 0 5 0 9 0 1 0 0 0-21 1 0 0 5 0 0 0 1 0 0 0 4 0 9 0 0 0 0 0 0 0 1 0 0 0 0 0 0 0 0 0 0 0 0 0-21 1 0 0 0 0 0 0 1 0 4 0 14 0 1 0-16 1 5 0 10 0 0 0 0 0-16 1 15 0 0 0 0 0 0 0 0 0 0 0 0 0-16 1 0 0 0 0 0 0 5 0 6 0 3 0 0 0 1 0 0 0 0 0 0 0 0 0-16 1 1 0 0 0 0 0 0 0 13 0 0 0 0 0 1 0 0 0-16 1 1 0 13 0 0 0 0 0 0 0 0 0 0 0 1 0 0 0 0 0-16 1 1 0 13 0 0 0 0 0 1 0 0 0 0 0 0 0 0 0-2 1 1 0 0 0 0 0 0 0 9 0-10 1 0 0 0 0 0 0 9 0 1 0-12 1 1 0 0 0 0 0 9 0-11 1 1 0 0 0 0 0-11 1 2 0 0 0 7 0 0 0 1 0-8 1 6 0 1 0 13 0 0 0-21 1 1 0 5 0 0 0 0 0 1 0 6 0 2 0 5 0 1 0 0 0 4 0 0 0 7 0 0 0 1 0 0 0 0 0 4 0 8 0 0 0-12-1 1 0 11 0 1 0 0 0-23-1 11 0 1 0 0 0 0 0 0 0 4 0 4 0 3 0-23-1 0 0 0 0 7 0 5 0 1 0 0 0 0 0 0 0 0 0 9 0-21-1 0 0 12 0 1 0 0 0 0 0 0 0 7 0-19-1 4 0 0 0 1 0 8 0 0 0 6 0 2 0-20-1 0 0 0 0 1 0 0 0 5 0 13 0-22-1 5 0 0 0 4 0 8 0 0 0 0 0 0 0-8-1 8 0 1 0 0 0 0 0 0 0 0 0 0 0-16-1 2 0 2 0 1 0 11 0 0 0 1 0 0 0 0 0-12-1 0 0 0 0 1 0 11 0 0 0-11-1 0 0 1 0 9 0 3 0 0 0-19-1 7 0 0 0 12 0 0 0 1 0 0 0 0 0-12-1 0 0 1 0 11 0 1 0 0 0 0 0 0 0-16-1 4 0 0 0 4 0 8 0-15-1 4 0 0 0 0 0 4 0 0 0 4 0 0 0-20-1 0 0 0 0 13 0 0 0 1 0 0 0 3 0-17-1 1 0 0 0 0 0 13 0 0 0 7 0-19-1 0 0 0 0 0 0 9 0 0 0 5 0 4 0-17-1 0 0 0 0 0 0 0 0 0 0 0 0 0 0 0 0 6 0 3 0-8-1 0 0 8 0 0 0 1 0 4 0-12-1 0 0 8 0 1 0 0 0 4 0 0 0 0 0 5 0-18-1 1 0 0 0 0 0 0 0 0 0 0 0 0 0 0 0 0 0 0 0 0 0 0 0 0 0 0 0 0 0 0 0 0 0 0 0 0 0 0 0 0 0 0 0 0 0 0 0 0 0 0 0 0 0 0 0 0 0 0 0 0 0 0 0 8 0 5 0-13-1 0 0 0 0 1 0 0 0 6 0 2 0 5 0 0 0 1 0 0 0 3 0 0 0 1 0 7 0 1 0 0 0 4 0 4 0 0 0 0 0 3 0 0 0-19 1 6 0 0 0 1 0 0 0 0 0 0 0 0 0 0 0 0 0 0 0 0 0 0 0 0 0 0 0 0 0 0 0 0 0 0 0 0 0 0 0 0 0 0 0 0 0 0 0 0 0 0 0 0 0 0 0 0 0 0 0 0 0 0 0 0 0 7 0 1 0 3 0 4 0 0 0-17 1 0 0 0 0 1 0 0 0 0 0 0 0 7 0 5 0 2 0 1 0-17 1 1 0 7 0 1 0 4 0 0 0 3 0 0 0 1 0 1 0-19 1 1 0 0 0 6 0 1 0 1 0 4 0 3 0-17 1 1 0 12 0 0 0 3 0 0 0 2 0-19 1 0 0 0 0 1 0 0 0 0 0 0 0 0 0 0 0 0 0 5 0 2 0 0 0 1 0 1 0 2 0 0 0 1 0 4 0 1 0-19 1 0 0 9 0 8 0 1 0-19 1 1 0 0 0 8 0 3 0 0 0 0 0 5 0 2 0 4 0 0 0-23 1 0 0 12 0 0 0 3 0 7 0 1 0 0 0 0 0 0 0-16 1 14 0 0 0 1 0 0 0-13 1 1 0 10 0 0 0 0 0 1 0 0 0 0 0 0 0-13 1 0 0 0 0 1 0 0 0 3 0 8 0 0 0-13 1 1 0 0 0 0 0 3 0 8 0 0 0 0 0 0 0 0 0-19 1 6 0 1 0 0 0 0 0 3 0 7 0 0 0 0 0 1 0 5 0-22 1 4 0 0 0 1 0 3 0 3 0 0 0 4 0 1 0 0 0 0 0-16 1 3 0 1 0 0 0 10 0 0 0 0 0 1 0 0 0 0 0 0 0 0 0 0 0-13 1 12 0 0 0 0 0 0 0 0 0 0 0 0 0 5 0 0 0-18 1 0 0 1 0 3 0 1 0 7 0 0 0 6 0-19 1 1 0 18 0 0 0 3 0 0 0 0 0-12 1 0 0 1 0 0 0 0 0 10 0-22 1 0 0 0 0 0 0 21 0 1 0-18 1 0 0 5 0 0 0 1 0 0 0 0 0 10 0 0 0 0 0-1 1 10 0 5 0 1 0 4 0 0 0 3 0 5 0 0 0 0 0-23-1 6 0 0 0 0 0 0 0 0 0 0 0 0 0 0 0 0 0 9 0 1 0 0 0 0 0 2 0 0 0 0 0-11-1 5 0 1 0 1 0 2 0 3 0-11-1 0 0 0 0 0 0 0 0 0 0 0 0 4 0-3-1 0 0 0 0 0 0-9-1 0 0 1 0 0 0 1 0 3-1 0 0 6 0 0 0 0 0 0 0 0 0-8-1 2 0 1 0 6 0 0 0 1 0-13-1 0 0 3 0 0 0 3 0 1 0 1 0 1 0 4 0 0 0 0 0 1 0-14-1 4 0 0 0 3 0 1 0 6 0 0 0 0 0 0 0 0 0 0 0-13-1 0 0 4 0 0 0 1 0 9 0 0 0 0 0 0 0 1 0-15-1 2 0 3 0 0 0 1 0 9 0 0 0-12-1 3 0 0 0 10 0 1 0-14-1 0 0 4 0 4 0 0 0 6 0 0 0 0 0 0 0 0 0 0 0-9-1 0 0 10 0 0 0 1 0-15-1 2 0 0 0 0 0 3 0 0 0 4 0 1 0 5 0-20-1 0 0 0 0 1 0 0 0 0 0 2 0 3 0 15 0 0 0 1 0 0 0-21-1 11 0 4 0 3 0 3 0 0 0 0 0 0 0-20-1 0 0 1 0 5 0 1 0 4 0 5 0 5 0 0 0 0 0 0 0-20-1 0 0 1 0 0 0 0 0 7 0 3 0 3 0 2 0-15-1 0 0 0 0 1 0 0 0 0 0 0 0 0 0 7 0 3 0 3 0 1 0 2 0-16-1 0 0 0 0 1 0 0 0 0 0 7 0 0 0 3 0 3 0-13-1 0 0 0 0 1 0 0 0 0 0 0 0 0 0 0 0 0 0 0 0 0 0 0 0 0 0 0 0 0 0 0 0 0 0 0 0 0 0 0 0 0 0 0 0 0 0 0 0 0 0 0 0 0 0 0 0 5 0 0 0 0 0 0 0 5 0 1 0 1 0-12-1 1 0 0 0 0 0 0 0 10 0 8 21 0 0 0 0 0 0-2 1 1 0 0 0 0 0 5 0-6 1 3 0 3 0 62-21 0 0 0 0 0 0 3 0-1 3-2 3 1 0 1 1 1 0 1-3 2 0 0 0-2-1 0 0 1 0 2 0 0-1 0 0-2-1 0 0 1 0 0-1 0 0 113 21 1 0 2-4 0 0 0-1 0 0-4-1 1 0 0 0 1 0 1 0 0 0 0 0 2 0-7-1 5 0 2 0-8-1 0 0 2 0 5 0-7-1 0 0 6 0 1 0-5-1-3-1 4 0 2 0 2 0 1 0-8-1 1 0 2 0 1 0 4 0 0 0-9-1 0 0 0 0 9 0-8-1 0 0 2 0 2 0 4 0-10-1 3 0 1 0-6-1 0 0 2 0 2 0 5 0 1 0 2 0-6-1 3 0-10-1 3 0 1 0 3 0 0 0 4 0-11-1 0 0 6 0 0 0 4 0 3 0 0 0-13-1 1 0 0 0 1 0 2 0 3 0 1 0 1 0 2 0 0 0 0 0-12-1 11 0 0 0-12-1 0 0 0 0 1 0 5 0 4 0-9-1 3 0 5 0 10 0 7 0 2 0 0 0 1 0 1 0 7 0 0 0-13 1 6 0 6 0 1 0-9 1 2 0 2 0 0 1 0 0 1 0 2 0 2 0 0 0-6 1 4 0-4 1 2 0 1 0 0 0 2 0-19 1 0 0 15 0 1 0 4 0-5 1 0 0 3 0 0 0-19 1 1 0 19 0 1 0-4 1 2 0 0 0 1 0 0 0 1 0-21 1 3 0 3 0 5 0 0 0 1 0 6 0 1 0-18 1 1 0 0 0 6 0 0 0 1 0 6 0 3 0 1 0-18 1 2 0 1 0 4 0 2 0 1 0 4 0 1 0 1 0 3 0-19 1 5 0 1 0 2 0 2 0 2 0 2 0 1 0 3 0-17 1 1 0 5 0 5 0 2 0 2 0 2 0 4 0-18 1 1 0 0 0 0 0 3 0 2 0 3 0 3 0 3 0 3 0-23 1 17 0-17 1 0 0 6 0 1 0 2 0 6 0 0 0 0 0 0 0 2 0 5 0-21 1 6 0 2 0 1 0 1 0 6 0 0 0 3 0 2 0-20 1 0 0 2 0 0 0 1 0 4 0 3 0 4 0 1 0 3 0-20 1 2 0 6 0 2 0 0 0 2 0 3 0 4 0 0 0 3 0-21 1 1 0 4 0 4 0 1 0 6 0 1 0-16 1 2 0 1 0 2 0 1 0 2 0 2 0 0 0 2 0 2 0 2 0 0 0 1 0 1 0 2 0-8 1 4 0 2 0 2 0 2 0 1 0 3 0 0 0 5 0 2 0 5 0 2 0 2 0 2 0-22-1 2 0 0 0 4 0 1 0 5 0 5 0 3 0 0 0 0 0-17-1 5 0 1 0 5 0 0 0 2 0 3 0 1 0-20-1 4 0 11 0-8-1 5 0 2 0 2 0 0 0 3 0 0 0-18-1 4 0 1 0 4 0 10 0-15-1 3 0 3 0 3 0 3 0 4 0 0 0 2 0-21-1 2 0 1 0 3 0 6 0 2 0 2 0 1 0 1 0 2 0 0 0-20-1 1 0 14 0 3 0 2 0-21-1 0 0 5 0 2 0 0 0 4 0 1 0 1 0 1 0 1 0 3 0 3 0 0 0-22-1 0 0 11 0 2 0 8 0-12-1 1 0 4 0 6 0-19-1 6 0 2 0 1 0 4 0 1 0 6 0 1 0-21-1 4 0 0 0 3 0 8 0 4 0 2 0-21-1 2 0 4 0 2 0 3 0-10-1 1 0 3 0 3 0 0 0 1 0 1 0 9 0 1 0-17-1 0 0 5 0 0 0 2 0 0 0 2 0 3 0 7 0-19-1 1 0 1 0 0 0 3 0 0 0 7 0 3 0 3 0-16-1 5 0 1 0 2 0 1 0 0 0 8 0-23-1 1 0 10 0 1 0 2 0 2 0-14-1 2 0 7 0 0 0 9 0-20-1 0 0 6 0 1 0 1 0 2 0 1 0 1 0 5 0 0 0 3 0 2 0 1 0-22-1 5 0 3 0 0 0 2 0 1 0 2 0 6 0 0 0 0 0 1 0 0 0-19-1 1 0 2 0 2 0 2 0 0 0 1 0 1 0 1 0 1 0 1 0 0 0 8 0 2 0 1 0 1 0 2 0 2 0 1 0 0 0 4 0 9 0 1 0-14 1 6 0 1 0 4 0 0 0 1 0 2 0-21 1 0 0 4 0 5 0 0 0 0 0 12 0 1 0-21 1 2 0 4 0 0 0 0 0 7 0 3 0 0 0 2 0-15 1 0 0 2 0 3 0 2 0 4 0 1 0 1 0 0 0-17 1 3 0 2 0 6 0 2 0-11 1 4 0 0 0 3 0 0 0 3 0 4 0 5 0-20 1 11 0 3 0 3 0 1 0-19 1 2 0 5 0 3 0 1 0 1 0 4 0 1 0 5 0-22 1 3 0 4 0 6 0 0 0 8 0-15 1 4 0 9 0 3 0-16 1 1 0 2 0 4 0 3 0 0 0 7 0-22 1 2 0 4 0 0 0 4 0 1 0 0 0 7 0 2 0-15 1 1 0 4 0 1 0 5 0 5 0-22 1 2 0 1 0 4 0 5 0 1 0 2 0 7 0 0 0-22 1 1 0 3 0 0 0 2 0 4 0 5 0 2 0 1 0 2 0-20 1 2 0 3 0 3 0 9 0 1 0 4 0-22 1 0 0 2 0 12 0 1 0 4 0-18 1 4 0 2 0 3 0 4 0-10 1 4 0 7 0 6 0 2 0-22 1 0 0 6 0 2 0 2 0 4 0 2 0 2 0 4 0-18 1 0 0 1 0 5 0 1 0 2 0 4 0-16 1 6 0-1 1 12 0 1 0 4 0 5 0 2 0 10 0 1 0 1 0 3 0-21-1 2 0 0-1 10 0-9-1 0 0 2 0 7 0 4 0 6 0-23-1 4 0 10 0 4 0-18-1 5 0 15 0-19-1 3 0 9 0-10-1 3 0 9 0 2 0 6 0-21-1 3 0 10 0 2 0-14-1 1 0 7 0 3 0-11-1 4 0 2-1 3 0 1 0 6 0-17-1 2 0 11-1 8 0-22-1 5 0 3 0 1 0 5 0-13-1 8 0 1 0 2 0 5 0 5 0-18-1 6 0 2 0 4 0 0 0 6 0-22-1 0 0 2 0 1 0 5 0 1 0-7-2 13 0-14-1 7 0 5 0 3 0 1 0 4 0 1 0-20-1 2 0 6 0-8-1 5 0-7-1 5 0 1 0 0 0 23 0 15 0-16 1 14 0 1 0 1 0-19 1 3 0 2 0 0 0 8 0 5 1-17 1 1 1 0 0 4 0 7 0-11 1 10 0 7 0-21 1 6 0 10 0 6 0-15 1 8 0 7 0-16 1 7 0 6 0-12 1-6 2 6 0 0 0 8 0-8 1-7 1 5 0 18 0-20 1 14 0-4 2-2 1 10 0-11 2 6 1-16 1 7 0-1 1 4 0 3 0 2 0 3 0 9 0 3 0 6 0 6 0-14-1-2-2 5 0-6-1 2 0 2-1 10-1 8 0 0-1-12-1 3 0-14-1 3 0 4 0-4-3 2 0 1 0 17 0-7-4-12-1 8-1 1-2-7-1 2 0-8-1 7 0 15 0-3-1 23 4-5 3-4 3 1 6 1 0-5 2 17 3-18 2 6 0 19-1 4-1-10-8 7-12 31 6 4 28-33-7 0 6 4 5-13 4 3 2-12 1-9-5 3-8-1-3 1-1 14 0-18-1-3-2 8-1-15 0-7 2 7 0-4 1-11 2 1 1 5 2-5 3-4 1 12 0 8 2-10 2 12 1-7 3-12 1-28 1 2 0 15-1-16-1 3 0 15-1 0 0 4 0-18-1 9 0-11-5 3 0 1 0 9 0-10-1 0 0 5-2 2 0 6-1-16-2 1 0 10 0 4 0-14-1-2-1 1 0 0 0 3-1 2 0-5-1 3 0 6-1-8-1 16 0 0 0-19-1 2 0 12 0 4 0 4 0-45-1 1 0-2 1 12 0 1 0 4 0 0 0 4 0-18 1 3 0 12 0 2 0-21 1 5 0 10 0 0 0 1 0-11 1 16 0-9 2 6 0 2 0 2 0-20 1 2 0 15 0 0 0-14 1 12 0-17 1 5 0 11 0 4 0 2 0-17 1 5 0 13 0-13 1 13 0-15 1 1 0 9 0-17 1 3 1 9 0-12 1 3 0 6 0 3 0-11 1 10 0 5 0 1 0 1 0 2 0 0 0-8 1 0 0-2 1 7 0-16 1 19 0-10 1 5 0 5 0-9 1 0 0 2 0-11 1-3 1 10 0 1 0 4 0 1 0-39 0 0 0 18 0 1 0 2 0-17-1 1 0-3-1 2 0 5 0 2 0-8-1 9 0 4 0 0 0 4 0-18-1 0-1 3 0 3 0 2 0-4-1 5 0 1 0 3 0-13-1 5 0 1 0 1 0 3-1 2 0 1 0 0 0 6 0-17-1 9 0 9 0-22-1 7 0 1 0 4 0 0 0-9-1 7 0 1 0 1 0-2-1 6 0 2 0 4 0-22-2 1 0 6 0 2 0 9 0 4 0-22-1 8 0 9 0-8-1 3 0-12-1 0 0-1-1 4-1 2 0 1 0 6 0-11-1 1 0 0 0 2 0 3 0 5 0 2 0-14-1 16 0 2 0 1 0-18-1 2 0 2 0 8 0 3 0-15-1 21 0-46 0 1 0 0 0 0 0 1 0 1 0 1 0 7 0 7 0-19 1 8 0 2 0 1 0 0 0 5 0-11 1 12 0 4 0 1 0-17 1 1 0 4 0 4 0 1 0 0 0 3 0 1 0-17 1 2 0 5 0 3 0 5 0-17 1 7 0 1 0 3 0 3 0 3 0 4 0-19 1 8 0 3 0 0 0 5 0-9 1 5 0 3 0 1 0 4 0 0 0-21 1 5 0 2 0 6 0 2 0 0 0 0 0 0 0 3 0-17 1 7 0-6 1 1 0 6 0 2 0 4 0 7 0-13 1 0 0 0 0 1 0 2 0 0 0-6 1 1 0 2 0 0 0 4 0-14 1 0 0 2 0 0 0 2 0 1 0 2 0 4 0 3 0 1 0 1 0 3 0-18 1 1 0 1 0 2 0 2 0 3 0 2 0 0 0-8 1 1 0 4 0 2 0 1 0 5 0-17 1 1 0 7 0 5 0 3 0 2 0-6 1 10 0-21 1 2 0 3 0 2 0 11 0-19 1 2 0 5 0 5 0 1 0 2 0 5 0-19 1 6 0 0 0 1 1 5 0 2 0 5 0 1 0-21 1 0 0 2 0 2 0 1 0 0 0 0 0 2 0 3 0 10 0 1 0-20 1 7 0 10 0 2 0 1 0-45 0 2 0 2 0 2 0 3 0 0 0 0 0 3 0 1 0 0 0 2 0 2 0 2 0 2 0-21-1 10 0 2 0 0 0 0 0 4 0 0 0 1 0 5 0-20-1 1 0 2 0 0 0 0 0 1 0 2 0 6 0 2 0 5 0-20-1 7 0 2 0 4 0 9 0-23-1 1 0 3 0 3 0 0 0 4 0 0 0-10-1 2 0 12 0 1 0 7 0-19-1 0 0 3 0 4 0 1 0 1 0 2 0 1 0 3 0-15-1 1 0 10 0 1 0 0 0 3 0 2 0 1 0-22-1 0 0 2 0 3 0 0 0 3 0 3 0 2 0 0 0 4 0 3 0-15-1 7 0 0 0 2 0 4 0 1 0 1 0-16-1 5 0 7 0 6 0 0 0-22-1 0 0 1 0 1 0 1 0 2 0 1 0 2 0 3 0 1 0 9 0 1 0 1 0-23-1 0 0 0 0 0 0 1 0 1 0 2 0 0 0 1 0 14 0-19-1 2 0 3 0 3 0 7 0 1 0 0 0 0 0 3 0-18-1 0 0 11 0 0 0 2 0 1 0 2 0 1 0 5 0-23-1 3 0 3 0 9 0 4 0 0 0-18-1 0 0 2 0 4 0 1 0 1 0 8 0 4 0-19-1 3 0 4 0 2 0 1 0 1 0 3 0 1 0 1 0 2 0-19-1 0 0 6 0 4 0 2 0 8 0 0 0-21-1 5 0 2 0 4 0 9 0 3 0-23-1 1 0 4 0 0 0 2 0 2 0 2 0 6 0 0 0 1 0 1 0 2 0 2 0-23-1 0 0 1 0 2 0 3 0 3 0 3 0 11 0-20-1 4 0 3 0 0 0 1 0 2 0 3 0 1 0 0 0 1 0 5 0-18-1 3 0 6 0 1 0 6 0 2 0-31 0 0 0 4 0 1 0 1 0-11 1 1 0 0 0 4 0-9 1 0 0 4 0 1 0 1 0 1 0 3 0 4 0-15 1 4 0 3 0 4 0 2 0 0 0 2 0 1 0 1 0 0 0-18 1 9 0 1 0 1 0-9 1 1 0 0 0 3 0 1 0 3 0 0 0-11 1 4 0 3 0 0 0 1 0 2 0 1 0 1 0 1 0 0 0 3 0 2 0-16 1 3 0 0 0-4 1 2 0 0 0 0 0 1 0 6 0 4 0 1 0 0 0 2 0 0 0-17 1 0 0 16 0 3 0-17 1 10 0 0 0 0 0 0 0 0 0 2 0 1 0 3 0 1 0-18 1 0 0 3 0 7 0 6 0 1 0-18 1 0 0 1 0 2 0 3 0 3 0 1 0 0 0 2 0 0 0 1 0 0 0 3 0-15 1 10 0 4 0 0 0-13 1 0 0 1 0 5 0 5 0 2 0 2 0-17 1 2 0 3 0 2 0 2 0 2 0 4 0 1 0 1 0 0 0-21 1 7 0 2 0 1 0 3 0 1 0 2 0 7 0-23 1 0 0 9 0 7 0 1 0 1 0 1 0-18 1 4 0 0 0 0 0 3 0 6 0 3 0 1 0 2 0 0 0-15 1 7 0 1 0 0 0 3 0 3 0-17 1 3 0 1 0 10 0 0 0 1 0 4 0 1 0-17 1 0 0 3 0 3 0 0 0 3 0 3 0-15 1 0 0 5 0 0 0 10 0 0 0 2 0 0 0 3 0-16 1 1 0 3 0 1 0 2 0 4 0 6 0-40 0 1 0 3 0 2 0 0 0 1 0 0 0 6 0 2 0-14-1 2 0 6 0 1 0-12-1 4 0 1 0 10 0 1 0 1 0-16-1 4 0 0 0 10 0 3 0-19-1 3 0 1 0 1 0 1 0 0 0 3 0 3 0 3 0 3 0 0 0-18-1 3 0 4 0 5 0 6 0-17-1 4 0 0 0 5 0 0 0 1 0 1 0 1 0 0 0 3 0 0 0-17-1 0 0 0 0 3 0 0 0 7 0 1 0 3 0 3 0 1 0 2 0-19-1 5 0 3 0-8-1 8 0 0 0 3 0 0 0 3 0 1 0-13-1 4 0 6 0 1 0 0 0 2 0-13-1 1 0 2 0 3 0 0 0 2 0-3-1 0 0-18 10 0 0 1 0 2 0-1 1 2 0 1 0-7 1 0 0 0 0 6 0-101-14 1 1 1 0 0 0 0 0 0 0-4 1 4 0-2 1 0 0 3 0 0 0-4 1-3 1 2 0 0 0 0 1 0 0 0 0-4 1 3 0 0 0-2 1 0 0 2 0-2 1 6 0 0 0 0 0 0 0-4 4 0 0 0 0 0 0 6 0 0 0 0 0-1 1 1 0 0 0-42 0 0 0 2 0 5 0 0 0 0 0 0 0-6-1 0 0 7 0 0 0-7-2 2 0-1-2 2 0 1 0 0 0 2 0-5-1 2 0 1 0 1 0 0 0 3 0-10-1 4 0 1 0 2 0 0 0-6-1 0 0 0 0 0 0 5 0 2 0-7-1 0 0 1-6 5 0-7-1 0 0 0 0 1 0 0-1 0 0 1 0 0 0 0 0-2-1 6 0 2 0-4-2 0 0 3 0 0 0-2-1 1-1 0 0 0 0 1-1 0 0 0 0 0 0-27 0 0 0 0 0 0 0 0 0 0 0 10 0 9 0-20 1 0 0 0 0 0 0 0 0 0 0 0 0 7 0 3 0 0 0 9 0 0 0 0 0-20 1 0 0 0 0 10 0-11 1 0 0 0 0 0 0 1 0 0 0 4 0 1 0 1 0 11 0 0 0-19 1 0 0 0 0 0 0 9 0 0 0 1 0 0 0 0 0 3 0 0 0 5 0 0 0 0 0 0 0-13 1 4 0 0 0 0 0 2 0 1 0 5 0 0 0 0 0 6 0-19 1 3 0 0 0 4 0 6 0 0 0 0 0 6 0-13 1 5 0 0 0 1 0 0 0 0 0 0 0-11 1 1 0 3 0 1 0 4 0 0 0-10 1 1 0 0 0 0 0 3 0-7 1 2 0 1 0-1 1 2 0 1 0 0 0-5 1 0 0 0 0 1 0 0 0-2 1 3 0 1 1-2 1 6 0 0 0 0 0 0 0 0 0-1 1 16 0-21 1 3 0 0 0 1 0 0 0 5 0 3 0 9 0 0 0 0 0-19 1 1 0 5 0 3 0 0 0 8 0 0 0 0 0 1 0-18 1 0 0 0 0 6 0 2 0 1 0 2 0 2 0 3 0 0 0 0 0-18 1 1 0 0 0 0 0 5 0 1 0 2 0 0 0 0 0 9 0 0 0 0 0-14 1 1 0 3 0 8 0-17 1 0 0 0 0 8 0 4 0 5 0 5 0-23 1 0 0 0 0 0 0 8 0 1 0 7 0 0 0 0 0 1 0 0 0 0 0-40 0 4 0 0 0 0 0 0 0 1 0 6 0 0 0 3 0 3 0 0 0-12-1 1 0 5 0 1 0-10-1 4 0 0 0 0 0 0 0 5 0 3 0 2 0 2 0 0 0 2 0-20-1 7 0 0 0 1 0 8 0-14-1 6 0 9 0 1 0 3 0 0 0-19-1 7 0 0 0 0 0 0 0 0 0 1 0 8 0 0 0 4 0-12-1 0 0 0 0 5 0 4 0 1 0 0 0-18-1 0 0 9 0 0 0 1 0 5 0 3 0-18-1 0 0 0 0 10 0 0 0 0 0 0 0 0 0 1 0 5 0 3 0 0 0 1 0-19-1 0 0 0 0 3 0 7 0 0 0 0 0 1 0 4 0 1 0 3 0-18-1 0 0 0 0 0 0 3 0 7 0 0 0 0 0 0 0 0 0 0 0 1 0-13-1 3 0 0 0 0 0 6 0 4 0 0 0 0 0 6 0 1 0-16-1 0 0 0 0 3 0 2 0 5 0 0 0 0 0-9-1 0 0 1 0 9 0 1 0-13-1 3 0 0 0 0 0 10 0 0 0 0 0 0 0 0 0 4 0-23-1 0 0 0 0 7 0 3 0 0 0 0 0 10 0 0 0-20-1 0 0 1 0 0 0 3 0 2 0 5 0 0 0 0 0 10 0 0 0 0 0 0 0 1 0 0 0 0 0-21-1 0 0 0 0 0 0 0 0 8 0 0 0 3 0 2 0 0 0 1 0 7 0 0 0 0 0 0 0 0 0-19-1 0 0 8 0 7 0 5 0 0 0 0 0 0 0-20-1 1 0 7 0 4 0 0 0 3 0 1 0-15-1 11 0 3 0-18-1 6 0 0 0 13 0 0 0-19-1 6 0 0 0 0 0 0 0 0 0 1 0 0 0 0 0 0 0 0 0 0 0 7 0 0 0 0 0 3 0 0 0 0 0 0 0 1 0-18-1 7 0 0 0 1 0 0 0 0 0 0 0 0 0 0 0 9 0 1 0 0 0 0 0 0 0 3 0-44 0 7 0 0 0 0 0 1 0 0 0 7 0 4 0-20 1 7 0 1 0 0 0 0 0 0 0 0 0 0 0 7 0 4 0 0 0 1 0 0 0-14 1 0 0 1 0 12 0 0 0-13 1 0 0 0 0 0 0 0 0 11 0 0 0 1 0-14 1 0 0 1 0 0 0 8 0-10 1 1 0 0 0 0 0 11 0 0 0 1 0 0 0 3 0 0 0-16 1 0 0 0 0 0 0 0 0 11 0 1 0 0 0 4 0-18 1 0 0 1 0 0 0 0 0 0 0 8 0 0 0 3 0 1 0 3 0 0 0-17 1 0 0 1 0 0 0 0 0 0 0 0 0 11 0 1 0 10 0-23 1 0 0 0 0 11 0 1 0 0 0 10 0 1 0 0 0-13 1 11 0 0 0 0 0-16 1 1 0 1 0 3 0 11 0 0 0 0 0 0 0 0 0-18 1 5 0 1 0 10 0 0 0 1 0 0 0 0 0 0 0-13 1 1 0 0 0 10 0 0 0 0 0 0 0 1 0 0 0 0 0-13 1 11 0 0 0 1 0-13 1 0 0 0 0 0 0 1 0 3 0 7 0 0 0 1 0 6 0-22 1 3 0 1 0 3 0 7 0 1 0 0 0 0 0-16 1 4 0 3 0 0 0 7 0 0 0 0 0 0 0 0 0-12 1 1 0 4 0 6 0 0 0 1 0 0 0 0 0 0 0 0 0 0 0-13 1 0 0 1 0 10 0 0 0 0 0 1 0 0 0 0 0 0 0 0 0 7 0 3 0 0 0 0 0-23 1 1 0 3 0 7 0 0 0 0 0 1 0 0 0 10 0 0 0 0 0 0 0 0 0 1 0 0 0-23 1 0 0 10 0 0 0 0 0 1 0 0 0 7 0 3 0 0 0 0 0 0 0 0 0-18 1 6 0 1 0 0 0 0 0 0 0 7 0 3 0 0 0 0 0-12 1 1 0 0 0 0 0 6 0 1 0 3 0 0 0-42 0 9 0 0 0 0 0 0 0 8 0 3 0 0 0 1 0 0 0 0 0-12-1 0 0 1 0 0 0 0 0 0 0 11 0-15-1 4 0 0 0 1 0 0 0 0 0 0 0 11 0-23-1 1 0 12 0 0 0 0-1 1 0 0 0 0 0 0-1 0 0 1 0 0 0 0 0 8 0-20-1 1 0 3 0 0 0 8 0 1 0 0 0 0 0 0 0-16-1 4 0 12 0 1 0-12-1 12 0 0 0 1 0 0 0 0 0 0 0 0 0 0 0-16-1 4 0 0 0 12 0 1 0 0 0 0 0-16-1 4 0 0 0 0 0 0 0 5 0 7 0 0 0 0 0 1 0 0 0 0 0 0-1 0 0 1 0 0 0 0 0 0 0 0 0-17-1 6 0 2 0 9 0 0 0 1 0 0 0 0 0 0 0-16-1 5 0 11 0 0 0 1 0 0 0 0 0 0 0-16-1 16 0 0 0 0 0 0 0-11-1 0 0 1 0 0 0-13-1 0 0 0 0 0 0 0 0 0 0 0 0 8 0 1 0 0 0 4 0-13-1 1 0 0 0 13 0 0 0 0 0-12-1 0 0 21 0-21-1 0 0 14 0 0 0 5 0-17-1 0 0 0 0 0 0 0 0 7 0 6 0 0 0 3 0-16-1 0 0 0 0 1 0 0-1 0 0 1 0 0 0 0 0 0 0 0 0 0 0 7 0 1 0 1 0 4 0-13-1 0 0 1 0 0 0 0 0 0 0 13 0 0 0-44 0 0 0 0 0 11 0 6 0 4 0-21 1 9 0 6 0 1 0 0 0 4 0-5 1 2 0 2 0 3 0-14 1 13 0-18 1 9 0 5 0-6 1 0 0 1 0-2 1 0 0-5 1 4 0 0 0-6 1 19 0 1 0 0 0 0 0 0 0-16 1 0 0 0 0 0 0 0 0 1 0 8 0 5 0 1 0 0 0 0 0 0 0-16 1 5 0 9 0 0 0 0 0 0 0 1 0 0 0 0 0-16 1 5 0 2 0 8 0 0 0-15 1 0 0 4 0 2 0 7 0 0 0 1 0 0 0 0 0-16 1 3 0 11 0 1 0 0 0 0 0-16 1 5 0 9 0 0 0 1 0 0 0 0 0 0 0 0 0-16 1 1 0 4 0 9 0 1 0 0 0 0 0 0 0 7 0-23 1 1 0 13 0 0 0 0 0 1 0 0 0 0 0-15 1 0 0 13 0-1 1 0 0 1 0 0 0-2 1 0 0 1 0 0 0 0 0-1 1 0 0 0 0 0 0-2 1 0 0 1 0 0 0 13 0-15 1 1 0 0 0 13 0-14 1 0 0 8 0 5 0-44 0 1 0 0 0 0 0 0 0 0 0 0 0 0 0 0 0 0 0 15 0-15-1 1 0 0 0 0 0 15 0 0 0-15-1 1 0 0 0 10 0 5 0 0 0-15-1 1 0 0 0 0 0 0 0 8 0 2 0-10-1 16 0-15-1 0 0 1 0 0 0 0 0 8 0 7 0 1 0-15-1-5-1 6 0 0 0 0 0 10 0-10-1 0 0 1 0 0 0 0-1 0 0 1 0 0 0 10 0-10-1 0 0 1 0 0 0 0 0 0 0 8 0 2 0-10-1 1 0 0 0 0 0 0 0-11-1 12 0 0-1 0 0 0 0 1 0 0-1 1 0 0 0 0 0 0 0 0 0 0 0-16-1 0 0 16 0 1 0 0 0 0 0 0 0 0 0-16-1 16 0 1 0 0 0 0 0 0 0 0 0 0 0-17-1 1 0 0 0 0 0 0 0 6 0 11 0 0 0-16-1 0 0 0 0 16 0 1 0 0 0-20-1 3 0 0 0 1 0 0 0 16 0 1 0 0 0 0 0 0 0 0 0 0 0 0-1 0 0 1 0 0 0-16-1 0 0 0 0 8 0 9 0 0 0-16-1 0 0 0 0 0 0 8 0 8 0-16-1 1 0 0 0-19 0 0 0 0 0 0 0 1 0-2 1 0 0 0 0 0 0 0 0-1 1 0 0 1 0-2 1 0 0 0 0 1 0-2 1 1 0 0 0-1 1-2 1 0 0 0 0 0 0 0 0 1 0-2 1 0 0 0 0-1 1 0 0 1 0 0 0-2 1 0 0 1 0 12 0 6 0 0 0-20 1 0 0 0 0 0 0 1 0 17 0-18 1-2 1 0 0 0 0 0 0 0 0 0 0 0 0 1 0 11 0 6 0 1 0 0 0-1 1 0 0-7 1 0 0 5 0 1 0 0 0 5 0-6 1 0 0 0 0 3 0-10 1 5 0 1 0 0 0 0 0-7 1 6 0-1 1 0 0 0 0-1 1-12 1 10 0 1 0 3 0-10 1 5 0 1 0-7 1 5 0-19 1-12-1 13 0 0 0 0 0 1 0 0 0 0-1 0 0 1 0 0 0 0-1 0 0 0 0 1 0 0 0-10-1 10 0 0 0 0 0 1 0 0 0-10-1 10 0 0 0 0 0 0 0 1 0 0-1 0 0 1 0-20-1 20 0 0 0 1 0 0 0 1-1-20-1 0 0 0 0 20 0 0 0-20-1 1 0 0 0 0 0 1-1 0 0 1-1 0 0 1-1 1-1 0 0 1-1 1-1 7 0 1-1-7-1 1-1 0 0 0 0 1 0 0 0 1-1 0 0 7 0-7-1 0 0 1 0 6 0-5-1 0 0-7-1 8 0 0 0-36 0 13 0 0 0 0 0 0 0-2 1 1 0 0 0 0 0 0 0 0 0-1 1 0 0 0 0-1 1 0 0-1 1 0 0 0 0 0 0-1 1-1 1-1 1 0 0 0 0 0 0 0 0 0 0-2 1 0 0 0 0 1 0 0 0 0 0 0 0-1 1 0 0-2 1 0 0 0 0 1 0 0 0 0 0 0 0 0 0 0 0-2 1 1 0 0 0-1 1 0 0-1 1 18 0-19 1 0 0-2 1 1 0 0 0 0 0 0 0-1 1 0 0 18 0-19 1 0 0 0 0 0 0 0 0 0 0-1 1 21 1-1 1 0 0 0 0-7 1 7 0-10 2-16 0 1 0 0 0 0 0 0 0 0 0 1-1 0 0 0 0 0 0 0-1 1 0 0 0-16-1 17 0 0 0 0 0 0 0 1-1 0-1-22-3 9 0-8-1 14-1-12-1 0 0 1-1 9 0-8-1 2-2 9 0-8-1 0 0 1-1 0-1 1 0 1-1-9-1 10 0 1-1 1-1-29-1 0 0-1 1 0 0 0 0-2 1 1 0 0 0-1 1-1 1 0 0 0 0 0 0 11 0-13 1 1 0-1 1 0 0-1 1 0 0 0 0 0 0 0 0 0 0-2 1 16 0 6 0-23 1 1 0 0 0 0 0 16 0 0 0-17 1 0 0 0 0 17 1 0 0 0 1 0 3 3 1 2 2-5 1 3 1 0 0-2 2 0 0-1 1-30 0 0-1 1 0 0 0 0 0 1-1 0 0 0 0 1-1 0 0 0-1 1 0 0 0 0 0 1-1 0 0 0 0 0 0 0 0 1-1 1-1 1-1 0 0 0 0 0-1 1 0 0 0-16-1 16 0 1 0 0 0 0 0 0 0 1-1 0 0 1-1-14-3-2-4-11-2 0 0-1 1-3 3-5 6-2 1 0 1 7 5-40-16 0 0 0 0 1-1 0 0 0 0 1-1 0 0 1-1-4 4-1 1-1 1 0 0-1 1-1 1 0 0-1 1-1 1-1 1 0 0 0 0 0 0-1 1-1 1 0 0-1 1-2 2 0 0-3 3 0 0 0 0 0 0 0 0 0 0 0 0-1 1 0 0 0 0-1 1 0 0-2 2 0 0 0 0 0 0-25-10-11-10-2 2-2 2-5 5-2 2-9 9-14-9-54-2 1-1 1 0 3-4 2-2 0 0 1-1 0 0 0 0 2-2 1-1 0 0 1-1-13 13-1 1 0 0-2 2-1 1-2 2-1 1 0 1-2 1 0 0 0 0-132-2 10-11 106 29-1 1-1 1 0 0-2 2-1 1 1 0-3 2 10-9 2-3 2-2 2-1 1-1 2-3 1 0 0-1 0 0 75 4-10 10-3 3 31-10 38-3 0 0-1 1 0 0-2 2 0 0-1 1 0 0 0 0-1 1 0 0-1 1-1 1 0 0 0 0 0 0 0 0 0 0 0 0 0 0-1 1 0 0-2 2-2 2 0 0 0 0 0 0-1 1 0 0 0 0-1 1 0 0 0 0-1 1-1 1-1 1 0 0-1 1 0 0 20-20 0 0 1-1 1-1 0 0 0 0 1-1 28 2-2 2 13 0 1 0-11 2 4 5-5 5 7 0-11 3-2 2 0 0 0 1 35 0 0 0 0 0 1-1 0 0 0 0 0 0 1-1 0 0 0-1 1 0 0 0 1-1 0 0 0 0 0-1 1 0 0-1 2-1 1-1 0-1 1 0 0 0 0 0 1-1 0 0 0 0-22-1 22 0 1 0 0 0 0 0 0-1-23-4 34-6 0 0-1 1-1 1 0 0 0 0 0 0-1 1 0 0-2 1 0 0 1 0-1 1 0 0 0 0 0 0-2 1 1 0-1 1 0 0 0 0 0 0-1 1-1 1 0 0-1 1 18 12 0 0-16 1 5 0 36 0 0 0 0 0 0 0 0-1 0 0-15-1 17 0 0 0 0 0 0 0 0 0 0 0 1-1 0 0 0 0 0 0 0 0 0-1 1 0 0 0-14-3-8-1 2-2 0 0 2-2 0 0 1-1 2-2 0-1 1 0 8 0 5 0-12-1 0 0 7 0 0 0-7-1 0 0 1 0 9 0-8-1-7-2 9 0 2-2 0 0 26 0 0 0 0 0 0 0 0 0-2 1 1 0 0 0-1 1 0 0 0 0 0 0-1 1 0 0 0 0 0 0 0 0-1 1 0 0 0 0-1 1-9 1 7 0 1 0 0 0 0 0 0 0 0 0-2 1 1 0 0 0 0 0 0 0 0 0-2 1 0 0 1 0 0 0 0 0 0 0-1 1-1 1 0 0 0 0 0 0-1 1 0 0 0 0-2 1 1 0 0 0 0 0-1 1 0 0 0 0 0 0 15 0-17 1 1 0 0 0 0 0 16 0-18 1 1 0 0 0 0 0-1 1-1 1 0 0 0 0 0 0 0 0-1 1 0 0 0 0 0 0 23 0 0 0-10 3 7 0-2 2 7 0 13 0 0 0 1-1 0 0 0 0 0 0 1-1 0 0 0 0 0 0 0 0 0 0 1-1 0 0 0 0 1 0-13-1 13 0 1 0 0 0 0-1 0 0 1 0 0 0-20-1 20 0 0 0 0 0-20-1 1 0 20 0 0 0 0 0 0 0 1 0 0 0-13-1 13 0 0 0 1 0-21-1 21 0 0 0-19-1 0 0 1-2 1 0 6 0-3-3 0 0 1-1 0 0 0-1 2-1 0-1 2-1 8-1-6-1 7 0 1-1 13 0 0 0 0 0 0 0 1 0-1 1-2 1 0 0 0 0 0 0 1 0 0 0 0 0-2 1 0 0 1 0-2 1 0 0-1 1 0 0 0 0 0 0 0 0 0 0 1 0 0 0 0 0-2 1 1 0-2 1 0 0 0 0 0 0 1 0 0 0 0 0-2 1 0 0-1 1 0 0 0 0 0 0 0 0 1 0 0 0-2 1 0 0 1 0 0 0 0 0 17 0 1 0-20 1 0 0 1 0-2 1 0 0 0 0 1 0 0 0 0 0 12 0 5 0 1 0 0 0-20 1 0 0 0 0 19 0 0 0-19 1 17 1-2 2 0 0-2 1 0 1 4 1-6 1-1 1-1 1 0 0 17 0 0 0 0 0 0 0 8 0 7 0-15-1 1 0 0 0 0 0 0 0 15 0 0 0-15-1 1 0 15 0-15-1 1 0 0 0 0 0 0 0 0-1 0 0 1 0 0 0 0 0 0 0 0-1 1 0 0 0 0 0 0 0 15 0-19-1 4 0 0 0 1 0 0 0 0 0 8 0 7 0-14-1 0 0 0 0 0-1 0 0 1 0 0 0 0 0 0 0 0-1 0 0 0 0 0 0 0 0 0 0 1 0 0 0 0-1 1 0 8 0-8-1 0 0 1 0 0 0 0 0-11-1 7 0 4 0 1 0 0 0 0 0 0 0 0 0 0 0 0 0 0-1 0 0 1 0 0 0 1-1 0 0 0 0 0 0 0 0 0 0-16-1 0 0 0 0 16 0 1 0-16-1 17 0 0 0 0 0 0 0 0 0-17-1 0 0 1 0 16 0 1 0 0 0 0 0 0 0 0 0 0 0-16-1 16 0 1 0-16-1 16 0 1 0 0 0-16-1 16 0 1 0-16-1 16 0 0 0 0 0 1 0 0 0 0 0 0 0-16-1 6 0-5-1 16 0 1 0 0 0 0 0 0 0 11 0-12 1 15 0 0 0 6 0-7 1-2 2 0 1-7 1 5 0 6 0-11 1 4 0-1 1 14 0 1 0 0 0-16 1 1 0 0 0 5 0 8 0 1 0 0 0 0 0-16 1 0 0 15 0 0 0 0 0 0 0-16 1 6 0 2 0 6 0 1 0 0 0 0 0 0 0-16 1 0 0 0 0 0 0 14 0 1 0 0 0 0 0-16 1 0 0 1 0 13 0 0 0 0 0 1 0 0 0 0 0-16 1 0 0 15 0 0 0-2 1 1 0 0 0 0 0 0 0-2 1 1 0 0 0 0 0 0 0 0 0 0 0 0 0-2 1 1 0 0 0-11 1 9 0 0 0 1 0 0 0 0 0 9 0-10 1 0 0 0 0-2 1 1 0 0 0 0 0 0 0 6 0-7 1 0 0 13 0 0 0-14 1 0 0 0 0 0 0 0 0 0 0-7 1 5 0 0 0 1 0 0 0 0 0 0 0 0 0 13 0 12 0 0 0 0 0 1 0 0 0 0 0 0 0 8 0-15-1 7 0 0 0 0 0 0 0 0 0 0 0 1 0 0 0 0 0 0 0 0 0 0 0 0 0 0 0 11 0-19-1-3-1 12 0 0 0 0 0 0 0 1 0 0 0 0 0 0 0 0 0-7-1 7 0 0 0 1 0 0 0-12-1 0 0 12 0 1 0 0 0 0 0 0 0 8 0-20-1 0 0 12 0 0 0 0 0 1 0 0 0 0 0 0 0 0 0 0 0-12-1 12 0 0 0 1 0 0 0 0 0 0 0 0 0-12-1 0 0 4 0 8 0 0 0 1 0 0 0 0 0-12-1 4 0 8 0 1 0 0 0 0 0 0-1 1 0 0 0 0 0 0 0 0 0 0 0 0 0-12-1 1 0 11 0 0 0 0 0 1 0 0 0 0 0 0 0 0 0-8-1 8 0 1 0 0 0 0 0 0 0-12-1 0 0 0 0 5 0 8 0 0 0 0 0 0 0 0 0 0 0 0 0 0 0-12-1 0 0 0 0 2-1-13-1 0 0 0-1 0 0 1 0 0 0 0 0 13 0 0 0 4 0 0 0-17-1 1 0 0 0 0 0 0 0 0 0 13 0 0 0 0 0-13-1 0 0 0 0 1 0 13 0 0 0 7 0-20-1 0 0 0 0 15 0 0 0-14-1 0 0 0 0 1 0 0 0 0 0 0-1 0 0 1 0 0 0 0 0 0 0 9 0 4 0 0 0-13-1 1 0 0 0 13 0 12 0 1 0 0 0 0 0 0 0 0 0 11 0 0 0 1 0 0 0 0 0-21 1 7 0 0 0 0 0 1 0 0 0 0 0 11 0 0 0 1 0-14 1 0 0 1 0 12 0-14 1 0 0 1 0 11 0 0 0 1 0 2 0-16 1 1 0 0 0 4 0 4 0 3 0-12 1 0 0 0 0 0 0 0 0 6 0 1 0 1 0 2 0 1 0-13 1 0 0 0 0 0 0 1 0 0 0 0 0 0 0 0 0 0 0 0 0 0 0 7 0 8 0 4 0-21 1 1 0 6 0 2 0 3 0 1 0 0 0 0 0-13 1 0 0 0 0 0 0 0 0 0 0 11 0 1 0 0 0 10 0 0 0 0 0-23 1 0 0 11 0 1 0 10 0 1 0-12 1 3 0 7 0 1 0 0 0 0 0 0 0-16 1 0 0 7 0 0 0 7 0 0 0 1 0 0 0 0 0 0 0-17 1 4 0 11 0 0 0 1 0-16 1 3 0 0 0 1 0 3 0 7 0 1 0 0 0 0 0 0 0 0 0-13 1 1 0 4 0 6 0 0 0 0 0 1 0 0 0 0 0 0 0-13 1 0 0 11 0 0 0 1 0 0 0-13 1 1 0 0 0 0 0 10 0 0 0 0 0 1 0 5 0 2 0-20 1 0 0 1 0 0 0 10 0 1 0 0 0 0 0 0 0 0 0-2 1 1 0 0 0-13 1 11 0 0 0 0 0 1 0 0 0 0 0 10 0-11 1 0 0 7 0-19 1 10 0 0 0 1 0 0 0 10 0 0 0 0 0-12 1 0 0 0 0 0 0 1 0 0 0 0 0 0 0 0 0 10 0-19 1 7 0 0 0 0 0 1 0 0 0 5 0 5 0 10 0 0 0 0 0 0 0 0 0 9 0 1 0 3 0 0 0 5 0 0 0-17-1 0 0 0 0 0 0 0 0 0 0 9 0 1 0 3 0-12-1 0 0 0 0 0 0 0 0 0 0 8 0 1 0-15-1 7 0 0 0 0 0 0 0 0 0 1 0 5 0 4 0 0 0-9-1 0 0 0 0 0 0 0 0 0 0 1 0 0 0 7 0 2 0 0 0-19-1 1 0 2 0 7 0 0 0 0 0 0 0 1 0 6 0 2 0 3 0-21-1 0 0 10 0 0 0 0 0 0 0 0 0 0 0 0 0 0 0 10 0 0 0 0 0-21-1 6 0 6 0 0 0 0 0 0 0 0 0 1 0 5 0-17-1 2 0 0 0 10 0 0 0 0 0 1 0 9 0-19-1 1 0 9 0 0 0 0 0 0 0 0 0 0 0 0 0 0 0 6 0-18-1 3 0 0 0 10 0 0 0 0 0 0 0 0 0 0 0 0 0 0 0 0 0 0 0 0 0 1 0 5 0-14-1 0 0 9 0 0 0 0 0 0 0 0 0 1 0 0 0 5 0-18-1 3 0 0 0 10 0 0 0 0 0 0 0 0 0 0 0 0 0-9-1 5 0 5 0 0 0 0 0 0 0-9-1 1 0 0 0 3 0 6 0 0 0-19-1 9 0 1 0 0 0 0 0 1 0 9 0 0 0 0 0 0 0 0 0 0 0-19-1 10 0 3 0 7 0 0 0 1 0-21-1 0 0 1 0 0 0 10 0 0 0 10 0 0 0 0 0 0 0 0 0-19-1 0 0 0 0 0 0 6 0 1 0 3 0 0 0 0 0 0 0 0 0 3 0 3 0 4 0 0 0-20-1 0 0 0 0 1 0 0 0 0 0 10 0 0 0 0 0 0 0 4 0-14-1 1 0 7 0 0 0 3 0 3 0-13-1 0 0 1 0 0 0 0 0 0 0 0 0 6 0 0 0 4 0-16-1 6 0 0 0 1 0 0 0 6 0 4 0 0 0 0 0 0 0 3 0-13-1 0 0 0 0 1 0 0 0 0 0 7 0 3 0 10 0 0 0 0 0 0 0 0 0 0 0 4 0 5 0 1 0 3 0 6 0 0 0 0 0-20 1 0 0 0 0 0 0 0 0 9 0 1 0 0 0 0 0 9 0 0 0 0 0 0 0-20 1 1 0 12 0 5 0 1 0 0 0 2 0-22 1 0 0 0 0 9 0 1 0 0 0 8 0 1 0 0 0-20 1 0 0 0 0 10 0 0 0 8 0 0 0 1 0 0 0 0 0-7 1 5 0 1 0 0 0 0 0-11 1 0 0 1 0 14 0-18 1 2 0 1 0 0 0 2 0 3 0 3 0 0 0 1 0 0 0 0 0 0 0-13 1 3 0 0 0 8 0 1 0 8 0 0 0-18 1 0 0 8 0 1 0 0 0 0 0 0 0 5 0 1 0 3 0 0 0-19 1 8 0 0 0 0 0 0 0 1 0-13 1 0 0 3 0 0 0 3 0 0 0 5 0 0 0 0 0 1 0 0 0 5 0 3 0-19 1 1 0 3 0 6 0 0 0 0 0 0 0 8 0 0 0 0 0 0 0-18 1 8 0 0 0 1 0 9 0 2 0-21 1 0 0 0 0 3 0 5 0 1 0 0 0 8 0 0 0 0 0 0 0 0 0 1 0 1 0-12 1 0 0 1 0 0 0 0 0 0 0 5 0 3 0 3 0-18 1 5 0 1 0 0 0 0 0 0 0 0 0 0 0 0 0 9 0 2 0 0 0 5 0 0 0 0 0 0 0 0 0-18 1 1 0 0 0 0 0 4 0 4 0 0 0 3 0 6 0 0 0-19 1 1 0 0 0 0 0 9 0 3 0 1 0-15 1 1 0 0 0 0 0 5 0 3 0 3 0 6 0 0 0 0 0 0 0 0 0-19 1 0 0 0 0 1 0 0 0 0 0 0 0 0 0 9 0 8 0 0 0 0 0-19 1 0 0 1 0 0 0 0 0 9 0 7 0 0 0 0 0 0 0 1 0 0 0 0 0 0 0 4 0-23 1 0 0 0 0 1 0 0 0 6 0 2 0 8 0 1 0 0 0 0 0 0 0-18 1 0 0 0 0 0 0 0 0 0 0 8 0 1 0 8 0 0 0 7 0 8 0 0 0 0 0 1 0 14 0-21-1 7 0 0 0 0 0 0 0 0 0 7 0 0 0 1 0 0 0-14-1 0 0 7 0 0 0 3 0 1 0 1 0-14-1 10 0 0 0 0 0 0 0 1 0 0 0 0 0-7-1 0 0 7 0 0 0 0 0 0 0 0 0 0 0-6-1 0 0 4 0 3 0 0 0 0 0-9-1 2 0 8 0 0 0-14-1 0 0 10 0 5 0 0 0 0 0 0 0 0 0 0 0 0 0-15-1 1 0 0 0 3 0 5 0 7 0 0 0 0 0 0 0 7 0 0 0-22-1 1 0 3 0 4 0 8 0 0 0 0 0 0 0 0 0 5 0-20-1 0 0 1 0 0 0 0 0 0 0 0 0 5 0 2 0 1 0 0 0 0 0 7 0 0 0 1 0-16-1 1 0 0 0 0 0 5 0 2 0 5 0 3 0 0 0 0 0 0 0 0 0-14-1 0 0 0 0 8 0 0 0 7 0 0 0 0 0 0 0 0 0-14-1 0 0 0 0 8 0 0 0 0 0 7 0 0 0-20-1 6 0 0 0 0 0 3 0 2 0 10 0 0 0 0 0-22-1 4 0 0 0 4 0 0 0 0 0 0 0 5 0 2 0 0 0 1 0 4 0 3 0 0 0 0 0-23-1 0 0 0 0 0 0 1 0 7 0 0 0 1 0 8 0 2 0 0 0-15-1 1 0 4 0 0 0 0 0 1 0 0 0 0 0 3 0 1 0 1 0 2 0 1 0 3 0-18-1 2 0 0 0 5 0 1 0 0 0 0 0 0 0 0 0 0 0 8 0 4 0-20-1 5 0 3 0-7-1 0 0 0 0 1 0 8 0 0 0 5 0 3 0 2 0-18-1 0 0 9 0 0 0 0 0 0 0 0 0 4 0 3 0 1 0-19-1 1 0 2 0 8 0 0 0 1 0 5 0 2 0 0 0 0 0 1 0-20-1 0 0 2 0 2 0 0 0 1 0 5 0 3 0 0 0 0 0 8 0 0 0 7 0 0 0 0 0 0 0 0 0 0 0-6 1 0 0 5 0 0 0 0 0 0 0 0 0 0 0-6 1 5 0 0 0 0 0-5 5 0 0 1 0 6 0-3 1 0 0-1 1 0 0 3 0-4 1 3 0-2 1 1 0 3 0-5 1 1 0 20 0 0 0 0 0 0 0-22 1 1 0 0 0 20 0 0 0 0 0-21 1 2 0 18 0 0 0 0 0 0 0 0 0 0 0 0 0 0 0 0 0-19 1 18 0 0 0-15 1 0 0 0 0 13 1 3 1-15 1 10 0 0 0 0 0 0 0 0 0 0 0 0 0 6 0-20 1 0 0 0 0 0 0 4 0 2 0 0 0 11 0-19 1 0 0 7 0 1 0 6 0 0 0 4 0 3 0-21 1 0 0 0 0 6 0 7 0 4 0 2 0 0 0 1 0-17 1 4 0 5 0 0 0 0 0 0 0 0 0 0 0 0 0 0 0 6 0 1 0 0 0 0 0 5 0 0 0 1-1 0 0 0 0 1-1 1 0 0 0 1-1 0 0 0-1 0 0 0 0-4-1 0 0 1 0-1-1 0 0 0 0 1 0 1 0 4 0 0 0 1-1 0 0 0 0-7-1 5 0-2-1 12 0 0 0 6 0-19-1 2 0 0 0 1 0 11 0-11-1 0 0 2 0 1 0 8 0 2 0 0 0-18-1 6 0 13 0 0 0-18-1 0 0 0 0 18 0 1 0-18-1 1 0 12 0 5 0 1 0 0 0-5-1 0 0-6-1 0 0 6 0 0 0 0 0 1 0-7-1 3 0 3 0 1 0 0 0 0 0-5-1 1 0-3-1 3 0 0 0-1-1 0 0 3 0 0-1 1 0 3 0-9-1 0 0 6 0 1 0 1 0-7-1 0 0 0 0 0 0 0 0 6 0 1 0 1 0 22 16 0 0 0 0 6 0-2 1-2 2 0 0-3 1 2 0 1 0 4 0 0 0 0 0-6 1 2 0 2 1-1 1 0 0 0 0 4-4 0 0 0 0 0 0 47-8 0 0-1 1-1 1-1 1 0 1 2 0 0 0 1 0-3 1 2 0 1 0-5 1 0 0 4 0-4 1 1 1 4 0 0 0 0 0-4 1 0 0-2 1 4 0 0 0-1 1-2 1 5 0 4 0 0 0 3 0 4 0 0 0 4 0 6 0-17-1 4 0 0 0 1 0 0 0 6 0-13-1 0 0 0 0 0 0 0 0 4 0 3 0 0 0 1 0 0 0 3 0 0 0 4 0 5 0 1 0 0 0-20-1 0 0 14 0 0 0 7 0 0 0 0 0-22-1 2 0 0 0 4 0 3 0-6-1 5 0 3 0 3 0-15-1 1 0 7 0 2 0 3 0 4 0-16-1 5 0 4 0 3 0 1 0 0 0-10-1 1 0 2 0 0 0 4 0 0 0 1 0 2 0-14-1 1 0 3 0 0 0 1 0 5 0 5 0-12-1 4 0 5 0 2 0-14-1 3 0 0 0 2 0 1 0 1 0 6 0-9-1 3 0 4 0 0 0 0 0 3 0-6-1 1 0-1-1 1 0 1 0 3 0 0 0-7-1 0 0 0 0 2-1 1 0 2 0 6-2 1 0 2 0 1 0-6-1 0 0 3 0 3 0-2-1 3 0 0 0-6-1 4 0 0 0-6-1 0-1 3 0 5 0 8 0 3 0 3 0 1 0 3 0 0 0 3 0 1 0 3 0-16 1 2 0 1 0 2 0 3 0 1 0 1 0 2 0 0 0 2 0 1 0-10 1 5 0 1 0 3 0-11 1 5 0 1 0 0 0 5 0-16 1 0 0 1 0 2 0 1 0 0 0 7 0 1 0 0 0 0 0 2 0 3 0-15 1 1 0 0 0 6 0 9 0-13 1 5 0 1 0-10 1 0 0 0 0 0 0 3 0 10 0-12 1 1 0 6 0 0 0-7 1 6 0 1 0 3 0 1 0 5 0-15 1 2 0 2 0 3 0 1 0 3 0 0 0 0 0 0 0 4 0-15 1 1 0 1 0 2 0 1 0 4 0 1 0 1 0 2 0 0 0-10 1 1 0 6 0 2 0 0 0 2 0-11 1 2 0 0 0 0 0 10 0-1 1 0 2 1 0-12 1 2 0 2 0 0 0 1 0 1 0 0 0 6 0-15 1 0 0 0 0 5 0 2 0 4 0 2 0 0 0-21 1 0 0 0 0 0 0 1 0 6 0 2 0 4 0 4 0-17 1 9 0 0 0 10 0 1 0 1 0 1 0 0 0-19 1 0 0 2 0 0 0 3 0 3 0 0 0 4 0 1 0 0 0 1 0 2 0 1 0-19 1 2 0 4 0 0 0 0 0 3 0 0 0 1 0 4 0 2 0 2 0 0 0 1 0 0 0 3 0-14 1 10 0 0 0 11 0 2 0 1 0 11 0 3 0-20-1 3 0 8 0 2 0 0 0 1 0 4 0 2 0-23-1 0 0 3 0 3 0 5 0 0 0 0 0 8 0 0 0-13-1 4 0 3 0 4 0 5 0 0 0 1 0-21-1 11 0 1 0 1 0 1 0 2 0 3 0 1 0-21-1 2 0 3 0 0 0 1 0 1 0 3 0 0 0 3 0 2 0 5 0-14-1-5-1 0 0 3 0 5 0 4 0 2 0 5 0-21-1 5 0 8 0 4 0 4 0 2 0 0 0-23-1 0 0 1 0 3 0 1 0 1 0 3 0 4 0 1 0 1 0 0 0 1 0 2 0 2 0 0 0 2 0 1 0-22-1 0 0 10 0 2 0 1 0 5 0-17-1 7 0 0 0 2 0 1 0 3 0 5 0 2 0-22-1 4 0 2 0 3 0 7 0 2 0 0 0-16-1 2 0 4 0 11 0-17-1 0 0 4 0 5 0 1 0 6 0-18-1 1 0 1 0 4 0 6 0 6 0 0 0 3 0 0 0-17-1 3 0 2 0 3 0 3 0 7 0 0 0-16-1 14 0 2 0-18-1 3 0 5 0 0 0 3 0 3 0 2 0-4-1 1 0 2 0-11-1 3 0 7 0 1 0 1 0-20-1 0 0 2 0 3 0 1 0 0 0 1 0 8 0 3 0 1 0-18-1 0 0 2 0 0 0 3 0 1 0 0 0 1 0 0 0 7 0 3 0 3 0 1 0 1 0 0 0-22-1 1 0 0 0 0 0 8 0 3 0 1 0 0 0 6 0 0 0 5 0 2 0 11 0 0 0-13 1 7 0 5 0 8 0 0 0-21 1 8 0 3 0 4 0 0 0 2 0 2 0 0 0 1 0 2 0-22 1 0 0 1 0 12 0 3 0 1 0 3 0 1 0 2 0-21 1 5 0 8 0 3 0-9 1 8 0-16 1 6 0 5 0 1 0 1 0-13 1 0 0 0 0 5 0 0 0 3 0 0 0-8 1 2 0 1 0 1 0 1 0 2 0 0 0 8 0 0 0 2 0 0 0 3 0-20 1 0 0 1 0 5 0 6 0 7 0 3 0-23 1 1 0 3 0 5 0-7 1 6 0 0 0 3 0 5 0 1 0 0 0 3 0 0 0-18 1 5 0 5 0 3 0 4 0 3 0-22 1 3 0 7 0 1 0 7 0 5 0-17 1 2 0 8 0-13 1 9 0 0 0 4 0 6 0-19 1 2 0 1 0 7 0 5 0-11 1 7 0 3 0-17 1 1 0 2 0 6 0 4 0 7 0-20 1 2 0 0 0 1 0 4 0 10 0 3 0 2 0-20 1 7 0 0 0 2 0 8 0 3 0-14 1 0 0 5 0-11 1 4 0 0 0 0 0 1 0 1 0 4 0 9 0 1 0 1 0-19 1 1 0 5 0 1 0 14 0 4 0 2 0 3 0 3 0 3 0 7 0-22-1 1 0 0 0 12 0 1 0 0 0-10-1 4 0 0 0-3-1 2 0 7 0 2 0-17-1 7 0 2 0 0 0 3 0 1 0 5 0-17-1 5 0 1 0 2 0 8 0 0 0-14-1-2-1 2 0 1 0 1 0 7 0 3 0 3 0-16-1 14 0 4 0 2 0 1 0-22-1 4 0-3-1 1 0 2 0 1 0 1 0 4 0-10-1 4 0 6 0 8 0 1 0-18-1 8 0 6 0-16-1 4 0 5 0 12 0 2 0-21-1 15 0 4 0 2 0 0 0-23-1 5 0-4-1 3 0 2 0 7 0 4 0 3 0 1 0 0 0-20-1 7 0 15 0-10-1 4 0 0 0 0 0 2 0-15-1 1 0 3 0 1 0-4-1 2 0 2 0 0 0 5 0 1 0 6 0-13-1 1 0 1 0 3 0 4 0-5-1 7 0-16-1 6 0 8 0 1 0 1 0 0 0 13 0 1 0 5 0 5 0-16 1 1 0 7 0 2 0 7 0 0 0-16 1 13 0 4 0-21 2 1 0 0 0 1 0 7 0-5 1 11 0 8 0-23 1 2 0 5 0 9 0-12 1 4 0 0 0 3 0 4 0 6 0-18 1 8 0 4 0-15 1 16 0-15 1 2 0 3 0 0 0 4 0 5 0-1 1 3 0-4 1-4 1-6 1 5 0 3 0-4 1 2 0 3 0 1 0 5 0-14 1 13 0-17 1 2 0 14 0-12 2 2 0 12 0-12 1 7 0 10 0-19 1 11 0-15 1 1 0 7 0 8 1 2 0 21 0-12-1 4 0-4-1 14 0 4 0-21-1 3 0 8-1 2-1 10-1-11-1 1 0 0 0 1 0-7-1 2 0 8-3 1 0 0 0 3-2 0 0-6-1 4 0-1-1 0 0-10-1 0 0 6-1-7-1 15 0-21-1 15 0 0 0 5 0-19-1 8 0-3-1 5 0 0 0 1 0 5 0-7-1-10-1 4 0 23 0 15 2 1 0-18 1 0 0 2 0 16 1-20 1 9 0-2 1 10 1-13 1 16 1-6 1-8 1-1 2 11 0-1 1-13 1 5 1 4 0 2 1-1 1-3 2 4 0 5 0-9 3 20-3 4 0 4-1 5 0 0-2-6-3-10-3 3-1 12-1 5-4-12-2 0-3 16 16-1 5 32 1-3-6-5-1 4-2 4-13 19 8-1 11 15 8-22 8-42 8 2-5-21-14-3 3 7 1 5 8 4 0-20 2 8 0 0 1 8 4-20 4-19-1 5 0-5-3 21 0-2-1-19-1 2 0 2-1 5 0-9-1 1-2 12-4 8-1-11-1-11-1 15-1-15-1 8 0 7 0-12-2 0 0-12-2 5 1-16 3 2 0 5 1 4 0 3 1-4 3 8 1-20 1 0 0 1 0-1 1 15 0-11 2 3 3 6 0 1 2 3 0-19 4 9 0-21-1 1 0-2-1 0 0 8 0 2 0-16-2 3 0 0 0 5 0-5-1 1 0 2 0 0-1 8 0-14-1 17 0-19-1 6 0 11 0 0-2-4-1-14-1 0 0 11 0 10 0-13-1-4-2 1 0 13 0-18-1 14 0-15-1 10 0-10-1 2 0 14 0-16-1 0 0 11 0 11 0-19-1 2 0 10-1 2 0 3-1-21-1 4 0 3 0 4 0-31 0 1 0 4 0 6 0 1 0 7 0-14 1 0 0 3 0 4 0-12 1 11 0 5 0-16 1 3 0 9 0 3 0 1 0-16 1 1 0 1 0 5 0 3 0 1 0 4 0 4 0-22 1 4 0-3 1 1 1 4 0 8 0-9 1 17 0-21 1 6 0 7 0 7 0-21 1 0 0 19 0-11 1 2 0 3 0 4 0-15 1 3 0-4 1 3 0 0 0 6 0 5 0 4 0-17 1 1 0 4 0 7 0 6 0 2 0-21 1 4 0-3 1 10 0 4 0 4 0 2 0-18 1 3 0 5 0-12 1 1 1 1 0 17 0-16 2 4 0 4 0 7 0-15 1 3 0-7 1 21 0 1 0-41 0 7 0 2 0 0 0-3-1 2 0 9 0-22-1 12 0 1 0-11-1 2 0 9 0-11-1 9 0 1 0 3 0-14-1 0 0 0 0 3 0 2 0 4 0 11 0-17-1 1 0 6 0 9 0-5-1 2 0-17-1 4 0 5 0 3 0 2 0 3 0 3 0 2 0-17-1 5 0 3 0 1 0 7 0 2 0-21-1 2 0 2 0 1 0 0 0 10 0 3 0 0 0-13-1 12 0-18-1 0 0 6 0 1 0 1 0 4 0 2 0 3 0 2 0 3 0-23-1 2 0 1 0 2 0 4 0 1 0 8 0 5 0-22-1 0 0 7 0 2 0-2-1 1 0 1 0 8 0 2 0 0 0-16-1 1 0 2 0 1 0 0 0 2 0 1 0 1 0 8 0 3 0-19-1 0 0 0 0 2 0 1 0 2 0 14 0-22-1 1 0 0 0 0 0 0 0 1 0 0 0 0 0 10 0 3 0 1 0-9-1 1 0 3 0 6 0 2 0 3 0-23-1 2 0 0 0 9 0 1 0 6 0-15-1 2 0 8 0 2 0 1 0 5 0-20-1 3 0 0 0 5 0 0 0 1 0 5 0 3 0 5 0 0 0-23-1 5 0 14 0-41 0 1 0 1 0 0 0 1 0 0 0 0 0 8 0 1 0 7 0 1 0 0 0-18 1 1 0 7 0 1 0 5 0 2 0 0 0 0 0-11 1 0 0 1 0 3 0 4 0 2 0-19 1 1 0 1 0 3 0 0 0 0 0 2 0 0 0 3 0 8 0 3 0 2 0-19 1 0 0 3 0 5 0 2 0 6 0 2 0 0 0-14 1 3 0 2 0 1 0 0 0-13 1 1 0 3 0 5 0 0 0 8 0 0 0 5 0-22 1 7 0 1 0 3 0 1 0 3 0 1 0 0 0 2 0 1 0-19 1 0 0 3 0 1 0 1 0 7 0 3 0 0 0 6 0-21 1 3 0 1 0 4 0 1 0 4 0 6 0 3 0-20 1 0 0 6 0 2 0 1 0-9 1 4 0 1 0 5 0 3 0-7 1 0 0 5 0 3 0 6 0-22 1 4 0 3 0 3 0 0 0 5 0-12 1 1 0 0 0 2 0 3 0 0 0 1 0 4 0 0 0 5 0 0 0 2 0-19 1 5 0 11 0-19 1 2 0 6 0 0 0 7 0 0 0 3 0 0 0 5 0-23 1 6 0 8 0 1 0 4 0-13 1 7 0 2 0 6 0-21 1 1 0 6 0 6 0 2 0 2 0 3 0-19 1 5 0 3 0 4 0-13 1 2 0 1 0 0 0 2 0 3 0 7 0 3 0 4 0-22 1 1 0 1 0 5 0 0 0 2 0 5 0-10 1 4 0 0 0 2 0 0 0 1 0 2 0 2 0 8 0-46 0 2 0 0 0 6 0 0 0 0 0 11 0 2 0-18-1 3 0 6 0 6 0 0 0 2 0 2 0-23-1 9 0 2 0 0 0 3 0 5 0 3 0-21-1 4 0 2 0 5 0 0 0 2 0 2 0 6 0 1 0-22-1 4 0 3 0 2 0 12 0-19-1 1 0 4 0 3 0 3 0 0 0 0 0 5 0 0 0 1 0 2 0-18-1 0 0 2 0 2 0 1 0 3 0 1 0 1 0 6 0 1 0 0 0 2 0-21-1 1 0 2 0 0 0 2 0 3 0 0 0 3 0 9 0-16-1 4 0 1 0 5 0 1 0 3 0 2 0-22-1 3 0 9 0-11-1 0 0 1 0 3 0 5 0 3 0 6 0 0 0-17-1 0 0 3 0 5 0 1 0 0 0 1 0 2 0 1 0 1 0 2 0 2 0-17-1 6 0 0 0 6 0 0 0 5 0 1 0 0 0 1 0-20-1 2 0 0 0 0 0 6 0 1 0 2 0 6 0 1 0 1 0 1 0 0 0-22-1 2 0 7 0 0 0 2 0 5 0-16-1 11 0 1 0 2 0 1 0-14-1 2 0 1 0 1 0 3 0 0 0 0 0 3 0 2 0 8 0-19-1 6 0 1 0 5 0 3 0 3 0-15-1 4 0 12 0-20-1 3 0 2 0 0 0 0 0 4 0 2 0 0 0 4 0 1 0 5 0 0 0-17-1 1 0 2 0 4 0 11 0-20-1 1 0 2 0 0 0 0 0 0 0 3 0 3 0 1 0 0 0-12-1 3 0 1 0 2 0 0 0 1 0 5 0 5 0 1 0-14-1 1 0 5 0-24 0 2 0 0 0 6 0 0 0 0 0 0 1 2 0-21 1 3 0 0 0 11 0 1 0 5 0-20 1 0 0 11 0 2 0 3 0 0 0 3 0 0 0 1 0-19 1 0 0 0 0 0 0 1 0 6 0 0 0 1 0 0 0 6 0 0 0 0 0 4 0-19 1 5 0 2 0 1 0 6 0 0 0 6 0 1 0-18 1 4 0 3 0 3 0 1 0 6 0 3 0-14 1 7 0 3 0 3 0-21 1 0 0 4 0 0 0 0 0 6 0 0 0 0 0 3 0 4 0 0 0 3 0 0 0 0 0-21 1 3 0 0 0 1 0 1 0 2 0 3 0 1 0 6 0 3 0 3 0 0 0-21 1 1 0 6 0 0 0 7 0 3 0 3 0 0 0 0 0-17 1 4 0 6 0 6 0 0 0 1 0-22 1 1 0 6 0 2 0 5 0 2 0 1 0 0 0 2 0 1 0 0 0 0 0-14 1 0 0 3 0 4 0 0 0 6 0 4 0-21 1 0 0 4 0 10 0 3 0 3 0-22 1 4 0 7 0 2 0 4 0 0 0 3 0 3 0-23 1 0 0 3 0 0 0 2 0 2 0 3 0 2 0 6 0-13 1 0 0 1 0 3 0 0 0 6 0 7 0 0 0-21 1 0 0 3 0 1 0 6 0 3 0 9 0-20 1 1 0 6 0 9 0 2 0 1 0 1 0-20 1 6 0 9 0 1 0-14 1 0 0 2 0 4 0 3 0 1 0 3 0-18 1 1 0 1 0 2 0 6 0 0 0 2 0 4 0 1 0 0 0 2 0 1 0-20 1 0 0 2 0 1 0 0 0 3 0 0 0 9 0 4 0 2 0 0 0 1 0-37 0 5 0 6 0 0 0 1 0-14-1 4 0 3 0 0 0 7 0 0 0 1 0 0 0-13-1 2 0 4 0 3 0 4 0 0 0 0 0 0 0 1 0-17-1 0 0 0 0 4 0 3 0 3 0 0 0-9-1 0 0 3 0 1 0 6 0 1 0 1 0 2 0-21-1 0 0 0 0 1 0 3 0 0 0 0 0 0 0 4 0 4 0 3 0 3 0 0 0 1 0 3 0-21-1 1 0 3 0 0 0 4 0 3 0 0 0 1 0 7 0 1 0-15-1 4 0 0 0 1 0 2 0 0 0 0 0 0 0 1 0 7 0-21-1 7 0 0 0 0 0 11 0 0 0 4 0 1 0-23-1 8 0 0 0 0 0 0 0 0 0 0 0 8 0 6 0-21-1 0 0 8 0 12 0 2 0-17-1 0 0 0 0 4 0 1 0 8 0 1 0-17-1 0 0 1 0 7 0 1 0 6 0 1 0 0 0 0 0 3 0 1 0-19-1 1 0 5 0 2 0 7 0-18-1 0 0 1 0 6 0 0 0 5 0 0 0 3 0 1 0 1 0 2 0-6-1 7 0 0 0-18-1 0 0 4 0 1 0 3 0 1 0 8 0-20-1 0 0 5 0 3 0 0 0 0 0 1 0 4 0 3 0 4 0-13-1 0 0 3 0 11 0-19-1 1 0 0 0 4 0 3 0 6 0 2 0 1 0 1 0 1 0 2 0-19-1 0 0 0 0 3 0 1 0 11 0-15-1 16 0 0 0 0 0 2 0-22-1 1 0 0 0 0 0 4 0 1 0 0 0 11 0 0 0 4 0 0 0 1 0-19-1 16 0 3 0-24 1-2 1-1 1 0 0 0 0 1 0 3 0-2 2-2 1 1 0 1 0 2 0-4 1 4 0 0 0-14 1 5 0 1 0 0 0 1 0 6 0 1 0-21 1 2 0 0 0 9 0-9 1 4 0 4 0 0 0 0 0 5 0 3 0 1 0 0 0-19 1 1 0 0 0 4 0 0 0 4 0 0 0 0 0 1 0 4 0 7 0-22 1 0 0 0 0 1 0 8 0 12 0-22 1 0 0 0 0 1 0 4 0 4 0 0 0 4 0 8 0 0 0-13 1 0 0 0 0 4 0 4 0 0 0 0 0 0 0 4 0-17 1 1 0 3 0 0 0 0 0 4 0 4 0 5 0 3 0 0 0 0 0-17 1 4 0 1 0 3 0 8 0-19 1 7 0 11 0 1 0-18 1 1 0 2 0 1 0-5 1 0 0 4 0 2 0-7 1 0 0 0 0 1 0 3 0 0 0 0 0-5 1 0 0 1 0 4 0-6 1 0 0 0 0 12 0 1 0 1 0 2 0-12 1 3 0 5 0 3 0 1 0-26 0 5 0-4-1 5 0-8-1 4 0 0 0 0 0 1 0 1 0 3 0 1 0 0-2 1 0 0-1-1-2 1-2 0 0 0 0-38-12 0 0 1 0-2 1 0 0 0 0 6 0-7 1-1 1 0 0 0 0 1 0 4 0 1 0-6 1 0 0 5 0 0 0 3 0-10 1 0 0 0 0 1 0 0 0 5 0 0 0 5 0 0 0 0 0 0 0-11 1 0 0 5 0-6 1 5 0 5 0 0 0 0 0 1 0 0 0 0 0-8 1 1 0 5 0 0 0 1 0-7 1 0 0 0 0 0 0 2 0 3 0 0 0 1 0 0 0 4 1 0 0-12 1 6 0 2 0-4 1 0 0 0 0 0 0 1 0-1 1 0 0 6 0 2 0-4 1 0 0-1 1 0 1 4 0 0 0 0 0 0 0 0 0 0 0-3 1-36 4 1 0 3 0 2 0 6 0 0 0 0 0 0 0 1 0-12-1 0 0 1 0 0 0 0 0 0 0 11 0 0 0-11-1 0 0 0 0 0 0 1 0 0 0 0 0 6 0 0 0 1 0 0 0 4 0 1 0-12-1 1 0 0 0 0 0 0 0 6 0 5 0 0 0 0 0-11-1 0 0 0 0 1 0 0 0 0 0 0 0 6 0 0 0 5 0 0 0 1 0-12-1 0 0 1 0 0 0 8 0 3 0 0 0-17-1 1 0 6 0 0 0 3 0 2 0 1 0-12-1 0 0 6 0 0 0 1 0 0 0 5 0-11-1 0 0 1 0 0 0 0 0 3 0 2 0 1 0 6 0-6-1 1 0 0 0 3 0 2 0 1 0 0 0-12-1 0 0 1 0 5 0 0 0 1 0 6 0-12-1 1 0-6-1 0 0 6 0 6 0-11-1 0 0 0 0 9 0-8-1 0 0 0 0 0 0 3 0 5 0-7-1 0 0 0 0 1 0 4 0 0 0 2 0 0 0 1 0 4 0 0 0-11-1 0 0 0 0 0 0 4 0 1 0 1 0 2 0 4 0 0 0 1 0-12-1 0 0 0 0 0 0 4 0 2 0 3 0 3 0 0 0 0 0 0 0 0 0 1 0 0 0-18-1 6 0 7 0 0 0 2 0 3 0 1 0 0 0-12-1 0 0 4 0 2 0 3 0-16-1 1 0 7 0 6 0-11-1 2 0 4 0 5 0-10-1 0 0 6 0 0 0 0 0 6 0 0 0 4 0 2 0-22-1 4 0 1 0 6 0 0 0 0 0 0 0 0 0 4 0 5 0-44 0 7 0 0 0 1 0 0 0 3 0 5 0 2 0 4 0-16 1 0 0 0 0 0 0 8 0 0 0 7 0 0 0 2 0-13 1 2 0 0 0 1 0 0 0 1 0 6 0 0 0-16 1 0 0 0 0 0 0 0 0 0 0 0 0 0 0 1 0 6 0 0 0 8 0 0 0 0 0-16 1 0 0 0 0 0 0 0 0 10 0 4 0 0 0 1 0 0 0 0 0 5 0-21 1 0 0 0 0 0 0 0 0 7 0 1 0 2 0 0 0 4 0 0 0 0 0 0 0 0 0 1 0 6 0 0 0-22 1 0 0 0 0 0 0 0 0 0 0 1 0 4 0 6 0 3 0 0 0 0 0 0 0 0 0 1 0 6 0 0 0 1 0 0 0-23 1 0 0 0 0 0 0 8 0 6 0 1 0 3 0 3 0 0 0 2 0-23 1 13 0 0 0 1 0 0 0 0 0 6 0 1 0-15 1 7 0 4 0 2 0-15 1 8 0 0 0 0 0 4 0 2 0-17 1 0 0 9 0 1 0 0 0 0 0 0 0-11 1 2 0 0 0 8 0 0 0 0 0 4 0 2 0 1 0 6 0 0 0 0 0 0 0-15 1 1 0 0 0 6 0 0 0 1 0 6 0 0 0 0 0-22 1 0 0 0 0 1 0 6 0 1 0 0 0 0 0 0 0 0 0 0 0 13 0 0 0 0 0 0 0 0 0-19 1 4 0 8 0 2 0 4 0 0 0 0 0 0 0 0 0-15 1 1 0 0 0 0 0 0 0 0 0 0 0 6 0 0 0 7 0 0 0 0 0 0 0 0 0-15 1 8 0 6 0 0 0 5 0-20 1 0 0 1 0 0 0 0 0 0 0 0 0 0 0 0 0 6 0 7 0 0 0 0 0 0 0 0 0 0 0 0 0 0 0 6 0-21 1 0 0 1 0 0 0 0 0 0 0 0 0 0 0 6 0 0 0 7 0 0 0 0 0 0 0 0 0 0 0 0 0 0 0 0 0 6 0 0 0 1 0-22 1 1 0 13 0 0 0 0 0 0 0 6 0-20 1 0 0 6 0 7 0 6 0 0 0-20 1 0 0 0 0 0 0 0 0 6 0 0 0 0 0 1 0 6 0 0 0 0 0 0 0 0 0 0 0 0 0 0 0 6 0-16 1 9 0 0 0 0 0 0 0 0 0 0 0 0 0 0 0 10 0-46 0 0 0 1 0 7 0 0 0 0 0 0 0 0 0 0 0 1 0 0 0 6 0 0 0 7 0 0 0 0 0 1 0 0 0-22-1 0 0 8 0 0 0 0 0 8 0 0 0 0 0 6 0 0 0 0 0-17-1 4 0 0 0 0 0 0 0 8 0-16-1 1 0 1 0 7 0 0 0 0 0 1 0 0 0 0 0 6 0-16-1 10 0 0 0 0 0 0 0 8 0-14-1 2 0 5 0 0 0 0 0 0 0 0 0 0 0 1 0 6 0 1 0 0 0-7-1 0 0 0 0 0 0 0 0 0 0 0 0 0 0 0 0 1 0 7 0-22-1 0 0 0 0 0 0 0 0 3 0 5 0 0 0 2 0 5 0 0 0 1 0 7 0-23-1 0 0 0 0 0 0 0 0 0 0 1 0 7 0 8 0 0 0 0 0 0 0 0 0 7 0-22-1 1 0 6 0 9 0 0 0 0 0 0 0 1 0-16-1 1 0 0 0 0 0 5 0 3 0 7 0 0 0 0 0 0 0 0 0 5 0-20-1 0 0 0 0 0 0 1 0 0 0 0 0 0 0 7 0 0 0 1 0 7 0 0 0 0 0 1 0-16-1 0 0 0 0 0 0 1 0 0 0 0 0 0 0 8 0 0 0 7 0 0 0 0 0 0 0 0 0 0 0 0 0 0 0 1 0 0 0-16-1 0 0 0 0 0 0 1 0 0 0 0 0 0 0 0 0 10 0 0 0 5 0 0 0 0 0-15-1 0 0 0 0 0 0 1 0 0 0 0 0 0 0 10 0 0 0 6 0 0 0-16-1 0 0 1 0 0 0 0 0 0 0 0 0 8 0 0 0 7 0 0 0 0 0 0 0-20-1 5 0 0 0 1 0 0 0 0 0 8 0 0 0 0 0-16-1 8 0 1 0 0 0 0 0 5 0 2 0 0 0 1 0-8-1 1 0 0 0 0 0 8 0-18-1 2 0 8 0 0 0 0 0 0 0 0 0 1 0 0 0 0 0 8 0-15-1 7 0 0 0 6 0 2 0 0 0 1 0-16-1 0 0 0 0 0 0 8 0 0 0 0 0 1 0 0 0 5 0 2 0 1 0 0 0 0 0 0 0-20-1 4 0 8 0 0 0 1 0 0 0 0 0 0 0 0 0 5 0 2 0-20-1 13 0 0 0 1 0 7 0 0 0-43 0 0 0 0 0 0 0 0 0 0 0 0 0 0 0 1 0 3 0 4 0 1 0 0 0 1 0 0 0 8 0 1 0 0 0 0 0 0 0-20 1 0 0 0 0 0 0 0 0 0 0 1 0 0 0 2 0 6 0 9 0 0 0 1 0 0 0 0 0 0 0 0 0-20 1 0 0 0 0 0 0 1 0 9 0 0 0 5 0 4 0 0 0-19 1 0 0 0 0 8 0 0 0 10 0-20 1 0 0 0 0 0 0 0 0 1 0 0 0 0 0 8 0 4 0 5 0 0 0 0 0 1 0 0 0 0 0 0 0 0 0-19 1 0 0 5 0 4 0 9 0 0 0 0 0 5 0 0 0 0 0-15 1 3 0 6 0 0 0 0 0 0 0 2 0-3 1 0 0 0 0-14 1 3 0 6 0 4 0 0 0 6 0-16 1 0 0 9 0 0 0 0 0 6 0 2 0 0 0-21 1 6 0 5 0 1 0 0 0 0 0 8 0-10 1 0 0 0 0 1 0 0 0-10 1 0 0 8 0 10 0 0 0-20 1 1 0 3 0 1 0 4 0 0 0 1 0 0 0 0 0 0 0 0 0 8 0-18 1 4 0 4 0 0 0-1 1 0 0 0 0 1 0 0 0 8 0 0 0-10 1 0 0 0 0 0 0 1 0 0 0 0 0 9 0 0 0 0 0-15 1 4 0 0 0 0 0 0 0 1 0 6 0 2 0 1 0 7 0 0 0 0 0 1 0 0 0-19 1 1 0 16 0 0 0 0 0 1 0 0 0 0 0 0 0-18 1 0 0 0 0 0 0 0 0 8 0 1 0 7 0 1 0 0 0-19 1 0 0 0 0 1 0 0 0 0 0 0 0 0 0 16 0 0 0 1 0 0 0 0 0-19 1 1 0 0 0 0 0 0 0 8 0 8 0 0 0 0 0 0 0 0 0 0 0 1 0 0 0 0 0-19 1 1 0 0 0 4 0 1 0 3 0 1 0 0 0 0 0 7 0 0 0 0 0 1 0-18 1 0 0 0 0 0 0 0 0 0 0 16 0 1 0 0 0 0 0 0 0 0 0 0 0 5 0-41 0 0 0 0 0 1 0 0 0 8 0 1 0 0 0 0 0 3 0 5 0 0 0-17-1 0 0 0 0 0 0 0 0 0 0 1-1 0 0 0 0 0 0 0 0 0 0 0 0 9 0-16-1 8 0 0 0 0 0 10 0 0 0-9-1 0 0 0 0 0 0 1 0 8 0 4 0-22-1 0 0 10 0 0 0 0 0 0 0 0 0 0 0 0 0 0 0 10 0 0 0 2 0-11-1 0 0 0 0 0 0 0 0 1 0 0 0 9 0 0 0-19-1 1 0 9 0 0 0 0 0 0 0 0 0 0 0 0 0 0 0 0 0 0 0 0 0 1 0 9 0-19-1 0 0 10 0 0 0 0 0 0 0 0 0 0 0 0 0 0 0 1 0 0 0 8 0-18-1 10 0 0 0 0 0 0 0 0 0 0 0-14-1 5 0 0 0 0 0 1 0 9 0-9-1 0 0 0 0 10 0 0 0 0 0-9-1 10 0 0 0 0 0 0 0 0 0 0 0 0 0 0 0 0 0 1 0-10-1 10 0 0 0 0 0 0 0 0 0 0 0-9-1 10 0 0 0 0 0 0 0 1 0-20-1 0 0 0 0 10 0 10 0 0 0 0 0 0 0 0 0 1 0-21-1 0 0 1 0 0 0 0 0 10 0 4 0 6 0 0 0 0 0 0 0 0 0 1 0 0 0-21-1 0 0 0 0 0 0 1 0 0 0 0 0 0 0 0 0 10 0 0 0 0 0 10 0 0 0 0 0 0 0 0 0 1 0-21-1 0 0 0 0 0 0 1 0 0 0 0 0 10 0 0 0 10 0 0 0-20-1 0 0 1 0 0 0 0 0 0 0 0 0 0 0 7 0-7-1 0 0 0 0 1 0 0 0 0 0 10 0 0 0 1 0 2 0-13-1 0 0 1 0 0 0 0 0 7 0-7-1 1 0 0 0 0 0 0 0 10 0 4 0-20-1 6 0 1 0 0 0 0 0 0 0 0 0 7 0 4 0-35 0 0 0 0 0 1 0 0 0 0 0 11 0 1 0 0 0 0 0-13 1 0 0 0 0 0 0 15 0-17 1 0 0 1 0 0 0 0 0 0 0 0 0 0 0 11 0 0 0 1 0 0 0 3 0-17 1 0 0 0 0 0 0 0 0 1 0 11 0 0 0-13 1 0 0 0 0 1 0 0 0 0 0 0 0 0 0 0 0-1 1 0 0 0 0 0 0 12 0 0 0-14 1 0 0 1 0 0 0 12 0-14 1 1 0 0 0 0 0 0 0 11 0-13 1 0 0 0 0 0 0 1 0 0 0 12 0 3 0 7 0 0 0-23 1 0 0 0 0 0 0 0 0 22 0 1 0 0 0 0 0 0 0-13 1 11 0 0 0 0 0 0 0 1 0 0 0 0 0 0 0 0 0 0 0 0 0-12 1 10 0 0 0 0 0 0 0 1 0-12 1 10 0 0 0 0 0 0 1 0 0 0 0 0 0 0 0-2 1 0 0 1 0 0 0 0 0 0 0 0 0-12 1 0 0 10 0 1 0 0 0 0 0 0 0 0 0-9 1 7 0 0 0 0 0 1 0 0 0 0 0-12 1 11 0 0 0 0 0 7 0-19 1 5 0 5 0 0 0 0 0 1 0-13 1 5 0 0 0 6 0 1 0 0 0 0 0 0 0 0 0 0 0 10 0-12 1 0 0 0 0 0 0 1 0 0 0 0 0 0 0 10 0-22 1 0 0 10 0 0 0 0 0 0 0 1 0-2 1 0 0 1 0 0 0 6 0 4 0-19 1 7 0 1 0 0 0 0 0 0 0-24 0 0 0 1 0 0 0 0 0 0 0 5 0 3 0 3 0 0 0-11-1 1 0 0 0 0 0 0 0-11-1 11 0 0 0 1 0 0 0 0 0 0 0 0 0 0 0 0 0 0 0 0 0-12-1 0 0 13 0 0 0 0 0 8 0-8-1 0 0 0 0 1 0 0 0 0 0 0 0 0 0-12-1 0 0 0 0 5 0 7 0 0 0 0 0 0 0 0 0 1 0 0 0-12-1 4 0 8 0 1 0 0-1 0 0 0 0 0 0 1 0 0 0 0 0-16-1 16 0 0 0 1 0 0 0 0 0-11-1 7 0 4 0 1 0 0 0 0 0 0 0 1-1 0 0-20-1 20 0 1 0 0 0 0 0 0 0 0 0-12-1 12 0 0 0 1 0 0 0 0 0 0 0 0 0 0 0-11-1 11 0 0 0 0 0 0 0 1 0 0 0-12-1 12 0 0 0-15-1 0 0 4 0-12-1 0 0 0 0 0 0 0 0 9 0 0 0 5 0-14-1 1 0 0 0 0 0 0 0 0-1 1 0 0 0 0 0 0 0 0 0 0 0 0 0 0 0 13 0 0 0-13-1 0 0 0 0 1 0 0 0 0 0 0 0 0 0 0 0 9 0-9-1 0 0 1 0 0 0 0 0 0-1 0 0 0 0 0 0 1 0 0 0 0 0 0-1 1 0 0 0 0 0 0 0 14 0-14-1 0 0 0 0 1 0 0 0-30 0 0 0 0 0-1 1 15 0 1 0 4 1-12 1 6 0-2 1 0 0 1 0-6 1 4 0 0 1-7 1 19 0-15 1 0 0 5 0 9 0 0 0 1 0 0 0-16 1 14 0 1 0 0 0 0 0-21 1 19 0 1 0 0 0 0 0 0 0 0 0 0 0-1 1 0 0 0 0 0 0 0 0 0 0-15 1 4 0 9 0 1 0 0 0 0 0 0 0 0 0 0 0-2 1 0 0 0 0 1 0 0 0 0 0 0 0 0 0-2 1 1 0 0 0 0 0 0 0 0 0 0 0 0 0-16 1 6 0 8 0 0 0 1 0 0 0 0 0-2 1 1 0 0 0 0 0 0 0-2 1 1 0 0 0 0 0 0 0-11 1 10 0 0 0 0 0 9 0-11 1 0 0 1 0 0 0 0 0 0 0-2 1 0 0 1 0 0 0 0 0 0 0-1 1 0 0 0 0 0 0 13 0 0 0 0 0-14 1 0 0 0 0 0 0 0 0-2 1 0 0 1 0 0 0 0 0 13 0 0 0 0 0-44 0 1 0 0 0 0 0 15 0 1 0-16-1 0 0 1 0 0-1 0 0 1 0 0 0 0 0 15 0-15-1 1 0 0 0 0 0 0 0 0 0 15 0-15-1 1 0 0 0 0 0 0 0 1-1 0 0 0 0 15 0-14-1 15 0-15-1 1 0 0 0 0 0 0 0 0 0 0-1 0 0 1 0 0 0 0 0 1-1 0 0 0 0 0-1 0 0 1 0 0 0 0 0 1-1-10-1 11 0 0 0 0 0 0 0 0-1 0 0 1 0 0 0 0-1 0 0 0 0 1 0 0 0 0 0 0 0-16-1 6-1 11 0 0 0 1 0 0 0 0 0-17-1 17 0 1 0-16-1 16 0 1 0 0 0 0 0-17-1 1 0 16 0 0 0 1 0 0 0 0 0 0 0-17-1 17 0 0 0 1 0 0 0 0 0-16-1 0 0 5 0 5 0 7 0 0 0 0 0-17-1 1 0-18-1 0 0 0 0 1 0 0 0 0 0-2 1 0 0-1 1 0 0 0 0 1 0 0 0-2 1 0 0 0 0-1 1 1 0 0 0 0 0-2 1-1 1 0 0 0 0 0 0 0 0 0 0 1 0-2 1-1 1 0 0 0 0 0 0 0 0 0 0 1 0 17 1 0 0-20 1 0 0 1 0 18 0 0 0-20 1-2 2 0 0 0 0 1 0 0 0 18 0-19 1 0 0 16 2-1 1 0 0-1 1-2 2-3 3 0 0-19 0 0 0 0 0 0 0 1-1 0 0 0 0 0 0 1 0 0-1 0 0 0 0 0 0 0 0 1-1 0 0 0 0 1-1 1 0 0-1 0 0 1 0 0-1 0 0 1 0-20-2 21 0 0 0 1 0-20-1 20 0-20-1 3-3-6-1 17-2-13-2 9-1 2-2 1-1-22-1 0 0 0 0 0 0-2 1 1 0 0 0 0 0 0 0-2 1 1 0 0 0 0 0-2 1 1 0 0 0 0 0 0 0 0 0 0 0 0 0 2 0-4 1 0 0 0 0 1 0 0 0 0 0 0 0 3 0-5 1 1 0 0 0 0 0 0 0-1 1 0 0 0 0 0 0-2 1 1 0-2 1 1 0 0 0 0 0 0 0-2 1 1 0 8 0-9 1 0 0 0 0 0 0 0 0 15 0-16 1 0 0-1 1-1 1 0 0 12 0-14 1 1 0 0 0 0 0-1 1 0 0 0 0 0 0-1 1 0 0-1 1 0 0 0 0 0 0 0 0 0 0-1 1 0 0 17 0 0 1 5 0-8 1 5 1-1 2-23 0 0 0 0 0 1-1 0 0 0 0 0 0 0-1 1 0 0 0 1-1 0 0 0 0 0 0 0-1 1 0-15-3-7-1 2-2 1-1 13 0-3-10-29-2 1 0 0 0-1 1-2 1 1 0 0 0 0 0 0 0 0 0-1 1-1 1 0 0 0 0 0 0-1 1 0 0 0 0-1 1 0 0-1 1-1 1 0 0 0 0 0 0 0 0-1 1 0 0-1 1 0 0 12 8 10 0-15 1-20 4 0 0 1-1 1-1 0 0 0-1 1 0 0 0 1-1 0 0 0 0 1-1 0 0 0 0 1-1 1-1 0 0 1-1 0 0 0 0 2-2 1-1-28-7-9 9-6 5-1 2-4-10-20-10 1-1-5 5-1 1 0 0 0 0-1 1 0 0 0 0 0 0-1 1-1 1 0 0 0 0-1 1 0 0 0 0-1 1-1 1-2 2-1 1-1 1 0 0-2 2 0 0-1 1-1 1-1 1-2 2 0 0-123-12 0 0 8-8 0 0 1-1 0 0 0 0 1-1-13 13-3 3 0 0-4 4-1 1 1 0-16 15-1 1 1 0-2 1-2 2 0 0 0 0 1 0-5 4-1 1 1 0 12-13 7-7 0 0 1-1 1-1 58 21 73-17-2 2-1 1 0 0 0 0 0 0-1 1-1 1-1 1 0 0-1 1-1 1-1 1-1 1 0 0 0 0-1 1-2 1 0 0 1 0-1 1-1 1-1 1-2 1 1 0 0 0-1 1-1 1-1 1 0 0 21-21 2-2 0 0 43 0 1 0-3 3-3 2-3 3 9 4-15 2-2 2 29 7 1-1 0-1 1 0 0 0 1-1 0 0 1-1 1-1 0 0 0 0 0 0 1-1 1-1 0 0 1-1 0 0 0 0 0-1 1 0 0 0 0 0 0 0 1-1 1-1 0 0 1-1 0 0 0 0 0 0 0-1 10-10 0 0 0 1 0 0 0 0 0 0 0 0-2 1 1 0 0 0-1 1-1 1-1 1-1 1-2 1 1 0 0 0-3 2 1 0 21 9 0 0-2 1 1 0 22 4 0-1 1 0 1-2 1 0 0 0 1-1-17-9 14-1-2-2-2-7 26 0 0 0 0 0 0 0-1 1 0 0 0 0-1 1-1 1 0 0-1 1-1 1 0 0-1 1-1 1 0 0-1 1-1 1 0 0 0 0-1 1 0 0 0 0-1 1-1 1 0 0 0 0 0 0-2 1 0 0 1 0-1 1 0 0-2 1 1 0 0 0-1 1 0 0 0 0-1 1 0 0-1 1 0 0 0 0 22 0 1 0-10 3 7 0-1 1 20 1 0 0 0-1 0 0 0 0 0 0 0 0 1 0 0-1 0 0 0 0 0 0 0 0 1-1 0 0 0 0 1 0 0-1 0 0 0 0 0 0 1-1 0 0 0 0 0 0 1 0-3-1 3 0 0 0 1 0-4-1 4 0-19-1 20 0 0 0-20-1 21 0 0 0 0 0 0 0 0 0 0 0-19-1 0 0 6-7 2-1 5 0 0-1 0-1 20-3 0 0 0 0 0 0 0 0 1 0-2 1 0 0 0 0 0 0 1 0 0 0-2 1 1 0 0 0 0 0-2 1 0 0-1 1 0 0 0 0 0 0-1 1 0 0 1 0-2 1 0 0-1 1 0 0-1 1 0 0 0 0 0 0 0 0 1 0-2 1 0 0 1 0 8 0 10 0-20 1 0 0-1 1 0 0 0 0 1 0 0 0-2 1 0 0 0 0-1 1 1 0 0 0-1 1 16 2-2 1 3 4-14 2 23 0 1-1 0 0 0-1 1 0 0 0 0 0 0 0 0 0 1-1 0-1 0 0 1 0 0 0 15 0-14-1 0 0 0 0 0 0 0 0 0-1 1 0 0 0 0 0 1-1 0 0 0 0 0 0 0 0 0 0 0 0 0 0 0 0 0-1 0 0 1 0 0 0 0 0 1-1 0 0 0 0 0-1 0 0 0 0 0 0 1 0 0 0 1-1 0 0 0 0 0 0 0 0 0 0 0-1 1-1 1 0 0 0 0 0 0 0 1-1 0 0 0 0 0 0 0 0 1-1 0 0 0 0 0-1 0 0 0 0 0 0 1 0 0 0 0 0 0-1 1 0 0-1 1 0 0 0 0 0 0 0-7-1 1 0 0 0 7 0 0 0-16-1 17 0 0 0 0-1 1 0 0 0 0 0-16-1 17-1 1 0 0 0 0 0 0 0 0 0 14 1 0 0-6 2 3 1 0 0-3 3 14 0-1 2 0 0 0 0-16 1 15 0 0 0 0 0 0 0 0 0-2 1 0 0 1 0 0 0 0 0 0 0 0 0 0 0-2 1 0 0 1 0 0 0 0 0 0 0-15 1 14 0 0 0-16 1 15 0 0 0 0 0 0 0 0 0 0 0-16 1 15 0 0 0 0 0 0 0 0 0 0 0-2 1 0 0 1 0-2 1 1 0 0 0 0 0 0 0 0 0-1 1 0 0-2 1 0 0 0 0 1 0-2 1 0 0 1 0 0 0 0 0-2 1 0 0 1 0 0 0 0 0 0 0 0 0-2 1 1 0 0 0 0 0 0 0-2 1 0 0 0 0 1 0 0 0 0 0 13 0 12 0 1 0 0 0 0 0 0 0 11 0-10-1 0 0 0-1 0 0 1 0 0 0 0 0 0 0 11 0-23-1 12 0 0 0 0 0 1 0 0 0 0 0 0-1 0 0 0 0 0 0 1 0 0-1 1 0-12-1 0 0 12 0 1 0 0 0 0 0 0 0-12-1 12 0 1 0 0 0 0 0 0 0 0 0 0-1 1 0 0 0 0 0 0 0 0 0-7-1 7 0 1 0 0 0 0 0 0 0 0 0 0 0 0 0-12-1 12 0 0 0 0 0 1 0 0 0 0 0 0 0 0 0-12-1 12 0 0 0 0 0 1 0 0 0 0 0 0 0 0 0 1-1 0 0 0 0 0 0-16-1 4 0 4 0 8 0 0 0 0 0 0 0 1 0 0 0 0 0 0-1-23-2 0 0 0 0 0 0 0 0 13 0-12-1 0 0 0-1 1 0 0 0 8 0-8-1 1 0 0 0 17 0-17-1 1 0 0 0 0 0 13 0 0 0 1 0-14-1 1 0 0 0 0 0 0-1 1 0 0 0 0 0 0 0 0 0 0-1 1 0 0 0 0 0 0 0 13 0 12 0 0 0 1 0 0 0 0 0-2 1 1 0 0 0 0 0 0 0 0 0 0 0 11 0-12 1 0 0 0 0 0 0-7 1 5 0 0 0 0 0 0 0 1 0 0 0 0 0-2 1 1 0-2 1 1 0 0 0 11 0 0 0-13 1 0 0 1 0 0 0 6 0 5 0-13 1 0 0 1 0 0 0 0 0 0 0 0 0-2 1 1 0 0 0 0 0 0 0 22 0 0 0-23 1 0 0 23 0-2 1 1 0 0 0 0 0-2 1 1 0-16 1 3 0 1 0 10 0 0 0 0 0 0 0 0 0 1 0 0 0 0 0-9 1 7 0 0 0 0 0 1 0 0 0 0 0 0 0-17 1 15 0 1 0 0 0 0 0 0 0 0 0 0 0 0 0 0 0-13 1 5 0 6 0 1 0 0 0 0 0 0 0 0 0 0 0-2 1 0 0 0 0 1 0 0 0 0 0 0 0-2 1 0 0 1 0 0 0 0 0-2 1 0 0 0 0 0 0 1 0 0 0 0 0 0 0 0 0 0 0 0 0 0 0-2 1 0 0 0 0 0 0 0 0 1 0 0 0 0 0 0 0 0 0-12 1 0 0 11 0 0 0 10 0-12 1 0 0 1 0 0 0 0 0 11 0-12 1-2 1 0 0 0 0 1 0 0 0 0 0 20 0 0 0 0 0 10 0-9-1 0 0 1 0 0 0 8 0-8-1 0 0 0 0 0 0 0 0 0 0 1-1 0 0 0 0 1 0 0-1 0 0 0 0 0 0 0 0 0 0 0 0 1 0 8 0-13-1 5 0 0 0 0 0 1-1 0 0-9-1 10 0 0 0 0 0 0 0 0 0 1-1 0 0-12-1 13 0 0 0 0 0 0 0 0 0 0 0 1 0-7-1 7 0 0 0 0 0 0 0 0 0 0 0 1-1 0 0 0 0 0 0 0 0 0 0 0 0 0 0 1 0-10-1 3 0 7 0 0 0 0 0 0 0 0 0 0 0 0 0 0 0 1 0 0 0 0 0 0-1-12-1 4 0 9 0 0 0 0 0 0 0 0 0 0 0 0 0 0 0-19-1 0 0 0 0 0 0 5 0 5 0 10 0-20-1 0 0 1 0 0 0 0 0 10 0 10 0 0 0 0 0 0 0 0 0 0 0 0 0 1 0 0 0-21-1 0 0 1 0 0 0 0 0 10 0 10 0 0 0 0 0 0 0 0 0 0 0 0 0 0 0 0 0-20-1 0 0 0 0 0 0 1 0 0 0 11 0 9 0 0 0 0 0-20-1 0 0 1 0 0 0 0-1 1 0 0 0 0 0 0-1 0 0 0 0 1 0 0 0 0 0 0-1 0 0 0 0 0 0 1 0 0 0 0 0 0 0 0 0 10 0-9-1 0 0 0 0 0 0 20 0 0 0 0 0 0 0 0 0 1 0 9 0 0 0 8 0 1 0 0 0 0 0 0 0 0 0 0 0-20 1 0 0 0 0 6 0 8 0 4 0 1 0 0 0 0 0-20 1 1 0 8 0 1 0 8 0 0 0 1 0 0 0 0 0 0 0 0 0 0 0-20 1 0 0 10 0 3 0 5 0 1 0 0 0 0 0-20 1 0 0 0 0 18 0 0 0 0 0 1 0 0 0-13 1 0 0 3 0 3 0 5 0 0 0 1 0-2 1 0 0 0 0 1 0 0 0 0 0 0 0-11 1 1 0 3 0 5 0 0 0 1 0 0 0 0 0 0 0 0 0 0 0 0 0-15 1 4 0 4 0 5 0 0 0 0 0 1 0 8 0-18 1 9 0 0 0 0 0 8 0 0 0-10 1 1 0 0 0 0 0 0 0 0 0-10 1 0 0 3 0 5 0 1 0 0 0 0 0 0 0 0 0 9 0-10 1 0 0 9 0 0 0-11 1 1 0 0 0 0 0 8 0 1 0-19 1 8 0 1 0 0 0 0 0 0 0-2 1 1 0 0 0 0 0-2 1 0 0 0 0 1 0 16 0 0 0-18 1 1 0 9 0 8 0 0 0 0 0 0 0 0 0 0 0 0 0-19 1 1 0 0 0 0 0 0 0 0 0 8 0 8 0 1 0-18 1 0 0 0 0 16 0 0 0 1 0 0 0 0 0-18 1 16 0 0 0 1 0-19 1 0 0 1 0 0 0 0 0 8 0 9 0 0 0 0 0 0 0 0 0 0 0 0 0 0 0 0 0-19 1 1 0 0 0 0 0 16 0 0 0 1 0 0 0 0 0 0 0-18 1 16 0 0 0 0 0 1 0 15 0 0 0 14 0 0 0 0 0 1 0 0 0-21-1 7 0 0 0 0 0 1 0 0 0 0 0 0 0 4 0 0 0 9 0-13-1 0 0 1 0 0 0 6 0 0 0 1 0-12-1 5 0 0 0 0 0 0 0 0 0 8 0 0 0-14-1 7 0 0 0 0 0 1 0 7 0-15-1 1 0 7 0 0 0 0 0 0 0 1 0 6 0-14-1 8 0 0 0 1 0-8-1 4 0 4 0 0 0 8 0-23-1 0 0 1 0 0 0 0 0 15 0 0 0 0 0 0 0-15-1 0 0 0 0 0 0 1 0 0 0 0 0 0 0 7 0 8 0 0 0 1 0-16-1 0 0 1 0 0 0 0 0 0 0 0 0 0 0 0 0 0 0 7 0 8 0 0 0 0 0 0 0 1 0 0 0-16-1 0 0 1 0 7 0 8 0 0 0 1 0-16-1 0 0 0 0 0 0 0 0 1 0 0 0 0 0 0 0 7 0 0 0 1 0 7 0 0 0 0 0 0 0-15-1 0 0 0 0 1 0 0 0 0 0 0 0 15 0-15-1 1 0 0 0 0 0 0 0 0 0 7 0 1 0 8 0 0 0 0 0-16-1 1 0 0 0 0 0 0 0 0 0 0 0 0 0 5 0 3 0 0 0 7 0 0 0-23-1 1 0 7 0 1 0 7 0 3 0 0 0-18-1 8 0 0 0 1 0 0 0 0 0 0 0 0 0 8 0 0 0 0 0 4 0-20-1 0 0 1 0 7 0 1 0 0 0 10 0-18-1 1 0 7 0 0 0 0 0 0 0 1 0 0 0 0 0 0 0 4 0 3 0-15-1 0 0 1 0 7 0 0 0 0 0 1 0 0 0 0 0 7 0-15-1 0 0 0 0 3 0 5 0 0 0 1 0 7 0-20-1 6 0 12 0 4 0-21-1 3 0 2 0 1 0 7 0 0 0 1 0 0 0 0 0 10 0 5 0 0 0 0 0 7 0 0 0 7 0 0 0 0 0 1 0 0 0 0 0 0 0-16 1 0 0 0 0 0 0 0 0 0 0 10 0 5 0 0 0-16 1 0 0 0 0 0 0 0 0 1 0 0 0 0 0 6 0 7 0 1 0 0 0 0 0 2 0-18 1 0 0 0 0 1 0 3 0 4 0 2 0 4 0 0 0 0 0 0 0 1 0-16 1 0 0 0 0 0 0 0 0 0 0 1 0 6 0 0 0 1 0 0 0 7 0 0 0-16 1 0 0 0 0 0 0 0 0 0 0 0 0 14 0 0 0 1 0 0 0 0 0 6 0-22 1 0 0 0 0 0 0 0 0 1 0 0 0 6 0 7 0 1 0 0 0 0 0 0 0 0 0 0 0 6 0 1 0-23 1 0 0 0 0 0 0 0 0 0 0 0 0 0 0 7 0 0 0 1 0 0 0 2 0 4 0 0 0 0 0-14 1 0 0 7 0 7 0 0 0 0 0 0 0 5 0 1 0 0 0-7 1 0 0 6 0-14 1 6 0 1 0-9 1 1 0 6 0 0 0 1 0 0 0 0 0 0 0 7 0-16 1 0 0 1 0 2 0 4 0 0 0 1 0 0 0 0 0 0 0 0 0 13 0 0 0 0 0 0 0 0 0 0 0 0 0-22 1 1 0 6 0 0 0 1 0 0 0 0 0 0 0 0 0 0 0 3 0 3 0 1 0 6 0 0 0-22 1 1 0 6 0 0 0 0 0 1 0 0 0 0 0 0 0 4 0 3 0 2 0 4 0 0 0 0 0 0 0 0 0 1 0-16 1 0 0 1 0 0 0 0 0 0 0 6 0 1 0 0 0 0 0 1 0 5 0 0 0 0 0-15 1 1 0 0 0 7 0 0 0 6 0 0 0 0 0 0 0 4 0-19 1 0 0 1 0 0 0 0 0 0 0 0 0 6 0 7 0 0 0 1 0-16 1 1 0 0 0 0 0 7 0 6 0 0 0 1 0 5 0-21 1 0 0 1 0 7 0 0 0 6 0 0 0 0 0 0 0-14 1 0 0 0 0 5 0 8 0 0 0 0 0 0 0 0 0 7 0-22 1 1 0 0 0 7 0 1 0 5 0 6 0-20 1 0 0 0 0 4 0 9 0-1 1 0 0 0 0 0 0 0 0 0 0 0 0 0 0 0 0 12 0 0 0 0 0 1 0 0 0 5 0 0 0 1 0 5 0 0 0 0 0 0 0 1 0 5 0 0 0 2 0 3 0 0 0 0 0-22-1 0 0 0 0 0 0 0 0 1 0 0 0 5 0 1 0 5 0 0 0 0 0 0 0 0 0 1 0 0 0 0 0 0 0 0 0-14-1 2 0 0 0 0 0 12 0 0 0 0 0 0 0 0 0 1 0 0 0 0 0 0 0 0 0 5 0-16-1 0 0 0 0 0 0 0 0 6 0 0 0 5 0 1 0 0 0 0 0 3 0-15-1 0 0 1 0 0 0 7 0 4 0 0 0 1 0 0 0 0 0 5 0-17-1 0 0 1 0 0 0 0 0 0 0 12 0-18-1 6 0 0 0 1 0 6 0 1 0 4 0 0 0-17-1 0 0 0 0 1 0 0 0 1 0 4 0 1 0 0 0 4 0 7 0 1 0-18-1 0 0 6 0 0 0 0 0 1 0 0 0 5 0 6 0 0 0 1 0 0 0-12-1 1 0 0 0 11 0 0 0 1 0 0 0 0 0 0 0 0 0 0 0 0 0-19-1 1 0 1 0 5 0 0 0 0 0 0 0 1 0 0 0 0 0 0 0 5 0 6 0 0 0 0 0-11-1 1 0 0 0 11 0 0 0 0 0 0 0-23-1 0 0 0 0 7 0 5 0 1 0 0 0 0 0-12-1 0 0 0 0 0 0 0 0 0 0 1 0 1 0 5 0 5 0 0 0 1 0 0 0 0 0 6 0-18-1 0 0 0 0 0 0 6 0 1 0 5 0 1 0 0 0 0 0 5 0 0 0-17-1 0 0 0 0 0 0 0 0 0 0 6 0 1 0 0 0 5 0 0 0 0 0 1 0 5 0-17-1 0 0 0 0 0 0 6 0 3 0 4 0 6 0-18-1 0 0 0 0 0 0 6 0 6 0 0 0 0 0 1 0 0 0 5 0 0 0-23-1 6 0 0 0 0 0 0 0 0 0 0 0 7 0 0 0 5 0 0 0 1 0 0 0-19-1 7 0 0 0 7 0 5 0 0 0 1 0 0 0 0 0-12-1 0 0 0 0 6 0 1 0 5 0 0 0 1 0 0 0 0 0-18-1 6 0 0 0 0 0 0 0 0 0 0 0 0 0 7 0 5 0 1 0 0 0-19-1 7 0 0 0 12 0 0 0 0 0 0 0 1 0-16-1 4 0 0 0 0 0 6 0 1 0 5 0 1 0 0 0 5 0 6 0 0 0 0 0 0 0 0 1 0 0-8 1 0 0 6 0 0 0-7 1 1 0 0 0 5 0 0 0 0 0 1 0 0 0-7 1 5 0 1 0-7 1 0 0 0 0 5 0 0 0 0 0 0 0-6 1 1 1 4 0 0 0 0 0 0 0-2 1 1 0 0 0 5 0 0 0 0 0 0 0-7 1 0 0 1 0 5 0-7 1 0 0 1 0 0 0-2 1 0 0 0 0 0 0 0 0 1 0 0 0 5 0-6 1 0 0 0 0 0 0 0 0 4 0 1 0 5 0-8 1 7 0-8 1 7 0 1 0-5 1 3 0 0 0 0 0 0 0-1 1 0 0 0 0 0 0-1 1 1 0 0 0-2 1 1 0 0 0 0 0 5 0-7 1 0 0 0 0 0 0 6 0-7 1 0 0 0 0 0 0 4 0 2 0 0 0 0 0-6 1 5 0-7 1 0 0 1 0 0 0 10 0 0 0 0 0 0 0-11 1 10 0 0 0 0 0 0 0 0 0 20 0 0 0 2 0 6 0 1 0 4 0 4 0 0 0-7-1 4 0-13-1 0 0 1 0 12 0-12-1 1 0 0 0 8 0 5 0-13-1 1 0 0 0 0 0 0 0 9 0 0 0 4 0-13-1 0 0 1 0 8 0 0 0 0 0 1 0 0 0 0 0-13-1 5 0 0 0 0 0 4 0 0 0 0 0 5 0 1 0-10-1 1 0 5 0 3 0-8-1 0 0 1 0 2 0 1 0 1 0 5 0 0 0 0 0 0 0 0 0 15-15 0 0 2 0 0 0 3 0 4 0-10 1 0 0 8 0 0 0-10 1 0 0 0 0 0 0 1 0 3 0 0 0 6 0-11 1 1 0 0 0 8 0 0 0 0 0 4 0 0 0-13 1 4 0 0 0 4 0 1 0-7 1 3 0 2 0 0 0-9 1 0 0 0 0 0 0 8 0-10 1 0 0 0 0 0 0 1 0 4 0 4 0 0 0 5 0-15 1 1 0 0 0 4 0 4 0 0 0 4 0 2 0-16 1 1 0 8 0 0 0 0 0 1 0 7 0-18 1 0 0 0 0 0 0 1 0 0 0 4 0 4 0 0 0 0 0 8 0 0 0 0 0 1 0 0 0 0 0-19 1 1 0 0 0 0 0 0 0 8 0 0 0 0 0 8 0 0 0 0 0 1 0-18 1 8 0 8 0-17 1 0 0 14 0 2 0 1 0-18 1 4 0 4 0-1 1 8 0 0 0 0 0 1 0 0 0-14 1 4 0 0 0 1 0 4 0 3 0 0 0-13 1 4 0 0 0 0 0 4 0 0 0 4 0 1 0 0 0-14 1 4 0 3 0 1 0 5 0 0 0-13 1 3 0 0 0 0 0 8 0 0 0 0 0 1 0 0 0 0 0-10 1 5 0 2 0 1 0 0 0-8 1-2 1 0 0 4 0 1 0 3 0-8 1 7 0 0 0 34 0 3 0 0 0-6-1 0 0 1 0 0 0 0 0 7 0 0-1 0 0 0 0-6-1 1 0 3 0 3 0 0 0 0 0-6-1 1 0-2-1 2 0 4 0-6-1 3 0 1 0-5-1 2 0 3 0 1 0-3-1 0 0 3 0 1 0-4-1 2 0 2 0 1 0 0-1-4-2 0 0-5-6-12-1 0 0 1 0 0 0 3 0 12 0 0 0 0 0-15-1 1 0 0 0 2 0 1 0 9 0 2 0-18-1 6 0 7 0 3 0-2-1 3 0-11-1 0 0 0 0 0 0 0 0 3 0 10 0 14 0 3 0 1 0 6 0 0 0-10 1 2 0 1 0 1 0 1 0 4 0 0 0-6 1 2 0 3 0 0 0-11 1 7 0 0 0 0 0 3 0 1 0 3 0 2 0-14 1 7 0 0 0 4 0 3 0-17 1 10 0 2 0 1 0 2 0 1 0-15 1 1 0 0 0 10 0-12 1 0 0 1 0 3 0-4 1 3 0 10 0 0 0 3 0-15 1 1 0 10 0 0 0 0 0 3 0 0 0 3 0-21 1 1 0 3 0 3 0 0 0 1 0 9 0 0 0 3 0-20 1 0 0 6 0 0 0 1 0 12 0 1 0-21 1 0 0 6 0 1 0 12 0-20 1 0 0 3 0 7 0 0 0 9 0 1 0-19 1 1 0 4 0 6 0 0 0 0 0 0 0 0 0 3 0 1 0 2 0 1 0-18 1 3 0 10 0 3 0 0 0 0 0 0 0 0 0 4 0 1 0 1 0-20 1 0 0 7 0 0 0 0 0 3 0 6 0 3 0-20 1 1 0 0 0 6 0 0 0 6 0 7 0 0 0-21 1 0 0 2 0 1 0 4 0 3 0 3 0 0 0 0 0 1 0 5 0-20 1 7 0 3 0 3 0 0 0 0 0 7 0-20 1 6 0 0 0 13 0 0 0 3 0-22 1 4 0 4 0 0 0 2 0 1 0 0 0 1 0 2 0 4 0 4 0 1 0-19 1 9 0 0 0 3 0 1 0 0 0 5 0 0 0 0 0 1 0-20 1 0 0 6 0 6 0 1 0 4 0 1 0 1 0 4 0 0 0 1 0 0 0 3 0 13 0 1 0 1 0 0 0 1 0 1 0-19-1 0 0 2 0 4 0 8 0 2 0 1 0-19-1 4 0 2 0 6 0 3 0 0 0 2 0 2 0-20-1 2 0 3 0 0 0 6 0 0 0 3 0-8-1 11 0 0 0 1 0-5-1 0 0 9 0-14-1 0 0 2 0 1 0 3 0 2 0 0 0-16-1 1 0 0 0 2 0 0 0 6 0 3 0 5 0 3 0-21-1 5 0 1 0 8 0 3 0 5 0 1 0-21-1 3 0 8 0 1 0-12-1 0 0 2 0 0 0 3 0 3 0 3 0 3 0 0 0 3 0-19-1 8 0 3 0 6 0 0 0 3 0 0 0 2 0 0 0-16-1 1 0 3 0 5 0 0 0 6 0-19-1 0 0 2 0 0 0 1 0 3 0 0 0 0 0 2 0 0 0 3 0 3 0 3 0 3 0 0 0 0 0 0 0-22-1 2 0 3 0 0 0 6 0 3 0 3 0 0 0 1 0 0 0-15-1 4 0 3 0 8 0 1 0-18-1 0 0 3 0 4 0 1 0 3 0 1 0 1 0 3 0 2 0 3 0-20-1 0 0 1 0 0 0 3 0 3 0 6 0 6 0-21-1 3 0 0 0 0 0 0 0 4 0 6 0 2 0 4 0 4 0-22-1 3 0 3 0 3 0 0 0 1 0 2 0 3 0 4 0-17-1 6 0 2 0 0 0 0 0 1 0 2 0 4 0 0 0 0 0 0 0 3 0 2 0 0 0 0 0-17-1 2 0 1 0 4 0 3 0 4 0-13-1 0 0 3 0 1 0 2 0 1 0 2 0 6 0 1 0 0 0-22-1 1 0 0 0 3 0 3 0 0 0 7 0 0 0 0 0 5 0 0 0 4 0 2 0 0 0 0 0 3 0 0 0 2 0 1 0 2 0 2 0 3 0 2 0 3 0 3 0-16 1 8 0 8 0-18 1 4 0 0 0 8 0 1 0 1 0 3 0-22 1 1 0 1 0 2 0 3 0 3 0 6 0 5 0 0 0-20 1 3 0 8 0 0 0 2 0 0 0 6 0-17 1 0 0 0 0 0 0 5 0 0 0 0 0 0 0 7 0 6 0 0 0-17 1 1 0 4 0 1 0 0 0 3 0 1 0 4 0 5 0 0 0-22 1 0 0 2 0 6 0 6 0 4 0-19 1 2 0 0 0 4 0 2 0 2 0 1 0 2 0-11 1 2 0 6 0 0 0 8 0 2 0 2 0-22 1 2 0 1 0 4 0 1 0 1 0 1 0 7 0 2 0 4 0-16 1 0 0 8 0 3 0 0 0-16 1 4 0 3 0 5 0 5 0 0 0 3 0-22 1 1 0 4 0 1 0 5 0 5 0 4 0 3 0-18 1 0 0 9 0-14 1 11 0 2 0 1 0 5 0-16 1 5 0 0 0 0 0 1 0 5 0 2 0 2 0 0 0 0 0 4 0 0 0-15 1 0 0 5 0 2 0 1 0 2 0 3 0 2 0-16 1 1 0 4 0 2 0-8 1 9 0 7 0 1 0 0 0-18 1 2 0 10 0 5 0 2 0-16 1 1 0 0 0 2 0 3 0 2 0 5 0-9 1 6 0 1 0 4 0-21 1 5 0 5 0 2 0 7 0 0 0 0 0 3 0 2 0 10 0 1 0 6 0-16-1 0 0 4 0 3 0-6-1 0 0 4 0 0 0 9 0 5 0 1 0-22-1 0 0 12 0-10-1 16 0 5 0-22-1 2 0 4 0 3 0 5 0 0 0 4 0 0 0 0 0 4 0-23-1 1 0 1 0 5 0 5 0 10 0-12-1 2 0 3 0-15-1 2 0 2 0 5 0 4 0 0 0 0 0-11-1 1 0 7 0-9-1 6 0 4 0 0 0 2 0 1 0 1 0 0 0 4 0 1 0-18-1 1 0 2 0 0 0 2 0 5 0 0 0 0 0 3 0 1 0-8-1 9 0 1 0 3 0-12-1 1 0 2 0 6 0 1 0 1 0-20-1 3 0 2 0 1 0 2 0 9 0-15-1 4 0-6-1 2 0 3 0 3 0 0 0 4 0 9 0-19-1 2 0 0 0 14 0 4 0 1 0-23-1 3 0 2 0 9 0-13-1 0 0 3 0 4 0 1 0 2 0 1 0 1 0 9 0-20-1 7 0 1 0 1 0 0 0 1 0 4 0 1 0-12-1 1 0 2 0 3 0 7 0-4-1 0 0 7 0 2 0-13-1 0 0 7 0 2 0 0 0 8 0 3 0 11 0 1 0-10 1 14 0-15 1 1 0 2 0 4 0-9 1 1 0 9 0-10 1 4 0 2 0-2 2 10 0-13 1 6 0 6 0 5 0-20 1 2 0 4 0 4 0 6 0-19 1 2 0 10 0 0 0 7 0 1 0 2 0-21 1 2 0 2 0 15 0 3 0-17 1 0 0 4 0-3 1 2 0 6 0-15 1 4 0 1 0 7 0 11 0-5 1-7 1 2 0 3 0 2 0 2 0-18 1 4 0-3 1-3 1 3 0 8 0 1 0 10 1-21 1 1 0 1 0 8 0 2 0 0 0-13 1 1 0 8 0 3 0 0 0 7 0 4 0 0 0-18 1 3 0 11 0 4 0-2 1 8-3 16 0-10-1 9 0-19-1 4-1 14 0-11-1 0 0 7 0 3 0 0 0-6-1 2 0 0 0 1 0 3 0 2-1-19-1 7 0 3 0 10 0-16-1 3 0 9 0 2 0 2 0 2 0-3-1-19-1 7 0 13-1-19-1 10 0 11 0-19-1 16 0-19-1 2 0 15 0-7-1-9-1 9 0-5-1 1 0 5 0 7 0-9-1 13 0-20-1 7 0 2 0-3-1 2 0 26 0 4 0-8 1 10 0-12 1-7 1 3 1 7 1 7 0-15 1 3 0 6 0 1 0 7 1 2 1-20 1 1 0 2 0 9 0-13 1 3 1 2 0 4 0-8 1 13 0-10 1 7 2 11 0-21 1 18 1-19 3 6 0 5 1-1 1 9 0-19 1 6 0 17 0 2-1 6 0 7-1 9 0-1-1-13-1 0 0 11 0-7-3 1 0 7 0-15-1 3-1 0 0 8 0-4-1 4 0-15-3 1-1 11 0 2 0-9-1 5-1-1-1 5-1-4-1-6-1 13 0-4-1 6 0-12-1 13 0-18-1 29 1 14 3-20 2 3 0 17 5-9 2 1 1-10 6 6 0-8 1 25 2 3-13 14-1-11-7 7 0-10-1 25 9-5 9 37 8-34 14 8-5-31-12 11 2-12 1 15 1-6 5-3 3 3 0 4 1-7 2-10 3 4 1-9 0-8-2-9-3 5-11-24-2 14 3-2 2 0 0-16 6 7 1-1 1 11 0-7 1-2 2 2 3 5 0-3 1-8 2-19-1-11-2 7 0 1 0 1 0-4-1 7 0 2 0-10-1 14 0-19-1 0 0 1 0 0 0 1-3 2 0-4-2-2-1 1 0 22 0-11-1-12-2 10-2-4-1 17 0-11-1 6-1-15-1 10 0-13-1 1 0 12 0-4-1 11 0-41 0 13 0-16 1 6 0 13 0-15 1 1 0 15 0-20 1 0 1 6 0 6 0 4 0-15 1 8 0-9 1 11 0 12 0-13 1 13 0-21 1 9 0 6 0-16 1 2 0 19 0-19 2 15 0 3 0-3 1-2 1 3 0 2 0-15 1 13 0-15 1 18 0-18 1 6 0 5 0-15 1 8 0 5 0 4 1 1 0-18 1 15 0 6 1 0 0-5 1-13 2 7 0 8 0-30-1 4 0-11-1 5-1 12 0-14-1 12 0-7-1-12-1 9 0 0 0-10-1 17 0-13-1 12 0-13-1 0 0 2 0 8 0 9 0-22-1 4 0 6 0 7 0 1 0 1-1-7-1 4 0-12-2 7 0 4 0 0 0 8 0-23-1 10 0 1 0 4 0-15-2 22 0-18-1 11 0 1 0 3 0 4 0-18-1 5 0-8-1 13 0-12-1 4 0-2-1 14 0 3 0-22-1 9 0 0 0 1 0-30 0 4 0 0 0 5 0 2 0 6 0-9 1-10 1 1 0 2 0 1 0 13 0 4 0-22 1 4 0 5 0 0 0 5 0 3 0 4 0 0 0-21 1 3 0 7 0 8 0-14 1 1 0 8 0-7 1 0 0 2 0 0 0 2 0 4 0 0 0 0 0 8 0-17 1 2 0 7 0 7 0-17 1 6 0-11 1 2 0 2 0 13 0 2 0 1 0-17 1 1 0 5 0 6 0 8 0-12 1 2 0-8 1 5 0 3 0 0 0 1 0 9 0-16 2 12 0-17 1 4 0 12 0 5 0-21 1 7 0 1 0 0 0 0 0-6 1 1 0-1 1 3 0 8 0 4 0-14 1 4 0 5 0 0 0 4 0 0 0 4 0-17 1 4 0 8 0 3 0-12 1 0 0 0 0 4 0 1 0-13 1 6 1 5 0 3 0 4 0-41 0 13 0 4 0 0 0 2 0 2 0 0 0-15-1 0 0 0 0 4 0 0 0-8-1 0 0 13 0 6 0 1 0-21-1 6 0 3 0 2 0 4 0-12-1 0 0 12 0 1 0 2 0-18-1 0 0 2 0 2 0 4 0 1 0 0 0 4 0 4 0-18-1 1 0 0 0 5 0 7 0 2 0-13-1 0 0 5 0 0 0 12 0-20-1 2 0 2 0 0 0 1 0 8 0 1 0 4 0 4 0-16-1 15 0-19-1 0 0 4 0 0 0 9 0 0 0-12-1 0 0 2 0 2 0 1 0 1 0 1 0 2 0 0 0 2 0-13-1 1 0 7 0 4 0 1 0 8 0-17-1 4 0 1 0 12 0-21-1 0 0 2 0 2 0 1 0 4 0 1 0 6 0 2 0 1 0-19-1 1 0 2 0 3 0 0 0 5 0-12-1 3 0 0 0 0 0 0 0 9 0 0 0 1 0 4 0 4 0-20-1 8 0 0 0 0 0 4 0 5 0-18-1 9 0 1 0 9 0 4 0 0 0-13-1 6 0 4 0 0 0-15-1 11 0 4 0 1 0-18-1 3 0 2 0 0 0 7 0 7 0 0 0-20-1 7 0 14 0 0 0-23-1 5 0 2 0 3 0 1 0 3 0 5 0 0 0 0 0 2 0-43 0 11 0 0 0 3 0 2 0 0 0 3 0 0 0-19 1 5 0 0 0 2 0 3 0 1 0 10 0-23 1 2 0 6 0 3 0 5 0-16 1 4 0 1 0 0 0 5 0 1 0 2 0 2 0 6 0 0 0 0 0 0 0 0 0-17 1 0 0 3 0 0 0 2 0 0 0 3 0 3 0 0 0 5 0 0 0 3 0-20 1 5 0 0 0 0 0 0 0 6 0 3 0 2 0 0 0-14 1 0 0 3 0 5 0 5 0 3 0-15 1 1 0 0 0 10 0 0 0 3 0 2 0-16 1 4 0 1 0 7 0-9 1 2 0 6 0 3 0 0 0-17 1 13 0 3 0-17 1 3 0 2 0 0 0 1 0 2 0 0 0 3 0 0 0 5 0 2 0 3 0-22 1 6 0 0 0 0 0 5 0 5 0 3 0 2 0-22 1 0 0 3 0 3 0 5 0 0 0 3 0 2 0 0 0-16 1 6 0 4 0 0 0 4 0-8 1 2 0 6 0 0 0 0 0 3 0-14 1 5 0 0 0 10 0 5 0-21 1 5 0 0 0 0 0 5 0 8 0 1 0 1 0-16 1 5 0 0 0 10 0 2 0-18 1 0 0 0 0 5 0 0 0 5 0 5 0-17 1 1 0 0 0 2 0 3 0-1 1 0 0 2 0 3 0 0 0 3 0 4 0-13 1 0 0 3 0 2 0 2 0 3 0 0 0-17 1 1 0 5 0 0 0 3 0 2 0 10 0-42 0 1 0 4 0 1 0 0 0 5 0 3 0 3 0-19-1 3 0 0 0 0 0 1 0 5 0 5 0 6 0 2 0-18-1 6 0 0 0 0 0-4-1 4 0 0 0 4 0 2 0 0 0 2 0 1 0 3 0-22-1 6 0 6 0 3 0 3 0-17-1 1 0 6 0 4 0 1 0 0 0 0 0 8 0-18-1 2 0 3 0 6 0 0 0 5 0 0 0-16-1 15 0 2 0 1 0-20-1 4 0 1 0 16 0-23-1 4 0 2 0 0 0 0 0 1 0 2 0 0 0 1 0 8 0 2 0 1 0 0 0 2 0-22-1 0 0 4 0 2 0 0 0 1 0 0 0 2 0 3 0 1 0 5 0 2 0-18-1 5 0 1 0 0 0 5 0 1 0 5 0 0 0 3 0-23-1 3 0 3 0 3 0 0 0 0 0 1 0 4 0 5 0 2 0 0 0 0 0-17-1 0 0 1 0 2 0 3 0 6 0 6 0 0 0-16-1 6 0 0 0 2 0 3 0 1 0-12-1 1 0 2 0 0 0 1 0 3 0 1 0 4 0 0 0 5 0-22-1 1 0 0 0 2 0 1 0 0 0 9 0-14-1 2 0 7 0 0 0 2 0 0 0 6 0 3 0-20-1 3 0 0 0 6 0 0 0 0 0 1 0 2 0 3 0 3 0 3 0 0 0 1 0-11-1 5 0 1 0 5 0 0 0 0 0 1 0-15-1 10 0 2 0 1 0 2 0-23-1 0 0 9 0 4 0 2 0 1 0 2 0 0 0 1 0 0 0 2 0-20-1 0 0 0 0 0 0 3 0 6 0 0 0 4 0 6 0-18-1 3 0 0 0 0 0 7 0 2 0 1 0 2 0 4 0-26 0 4 0-5 1 4 0-5 1 0 0 0 0 0 0 1 0 0 0 0 0 5 0-7 1 3 0 3 0-21 1 0 0 0 0 15 0 0 0 6 0 0 0-22 1 0 0 1 0 1 0-2 1 0 0 3 0 17 0 0 0 0 0 0 0-1 1 0 0-15 1 0 0 14 0 0 0 0 0 0 0 3 0-20 1 3 0 12 0 1 0 6 0 0 0 0 0 0 0 0 0-21 1 1 0 3 0 0 0 1 0 8 0 4 0 3 0 1 0-22 1 0 0 1 0 0 0 6 0 1 0 6 0 0 0 4 0 3 0-22 1 1 0 0 0 6 0 0 0 10 0 3 0 0 0 1 0-18 1 3 0 1 0 12 0 0 0-14 1 0 0 0 0 13 0 0 0 0 0 1 0-18 1 3 0 1 0 9 0 0 0 4 0-15 1 1 0 0 0 9 0 3 0 0 0 0 0 0 0 6 0-20 1 0 0 7 0 0 0 0 0 7 0 5 0 1 0 0 0 1 0-22 1 0 0 6 0 1 0 0 0 0 0 3 0 3 0 1 0 0 0-15 1 0 0 1 0 5 0 1 0 6 0 0 0 0 0 0 0 4 0 2 0 0 0 1 0 0 0-20 1 6 0 3 0 3 0 0 0 5 0 1 0 0 0 1 0 1 0-15 1 0 0 0 0 0 0 0 0 12 0 0 0 6 0 0 0-22 1 3 0 0 0 6 0 0 0 4 0 2 0 0 0 1 0 6 0-23 1 2 0 0 0 1 0 6 0 1 0 0 0 5 0 1 0 0 0 1 0 3 0-40 0 2 0 8 0 0 0 0 0 6 0 0 0 3 0-23-1 0 0 4 0 7 0 0 0 0 0 4 0 0 0 3 0 0 0-17-1 0 0 4 0-3-1 0 0 3 0 2-1-3-1 0 0 18 0-17-1 0 0 14 0 3 0-2-1 1 0-3-1 3 0-20-1 0 0 4 0 11 0 0 0 1 0 2 0 3 0 0 0 1 0-22-1 0 0 0 0 1 0 14 0 1 0-15-1 0 0 2 0 10 0 3 0 0 0 0 0 1 0 0 0-14-1 17 0 0 0-2-1 0 0 1 0-5-2 6 0 1 0-7-1 0 0 1 0 3 0 1 0 2 0-6-1 0 0 0 0 7 0-6-1 0 0 1-1 0 0 4 0-19-1 16 0-19-1 4 0 0 0 0 0 16 0 0 0 0 0-15-1 0 0-3-1 4 0 1 0 0 0 0 0-22 0 4 0 3 0 2 0 4 0 0 0 0 0-13 1 4 0 4 0 0 0 4 0 0 0-10 1 0 0 1 0 0 0 0 0 4 0 4 0 1 0-10 1 0 0 4 0 4 0 0 0 4 0 0 0-9 1 4 0 5 0 0 0-15 1 0 0-5 1 0 0 4 0-1 1 0 0 0 0 1 0-1 1 0 0-3 1 1 0 0 1 4 0-5 1 3 0-3 1 7 0 0 0 0 0 0 0 0 0 0 0 4 0-14 1 5 0 3 1 0 0 0 0 1 0 4 0 3 0 0 0 1 0 0 0-10 1 0 0 1 0 7 0 0 0 8 0-13 1 4 0 1 0 0 0 7 0 0 0 0 0 0 0 0 0 0 0 1 0 0 0-17 1 3 0 4 0 8 0 0 0-9 1 1 0 3 0 5 0 0 0-9 1 7 0 0 0 0 0 0 0 0 0 1 0 0 0 0 0-10 1 1 0-2 1 1 0 0 0 7 0 0 0 1 0-9 1 0 0 0 0 3 0 4 0-5 1 1 0 4 0 0 0 7 0 0 0 0 0 0 0 0 0-46 0 4 0 1 0 8 0-13-1 5 0 4 0 1 0 1 0 3 0 0 0 1 0-13-1 1 0 4 0 0 0 5 0 4 0 0 0 0 0-13-1 4 0 0 0 0 0 0 0 1 0 0 0 8 0 1 0 0 0-18-1 0 0 0 0 0 0 10 0 8 0 1 0 0 0-9-1 0 0 9 0 0 0-8-1 1 0 4 0 4 0 0 0-12-1 0 0 4 0 0 0 1 0 4 0 0 0 4 0 0 0 0 0 0 0-13-1 1 0 4 0 0 0 8 0 1 0 0 0 0 0 0 0-8-1 0 0 0 0 1 0 8 0-17-1 0 0 0 0 0 0 7 0 2 0 1 0-4-1 4 0-8-1 0 0 0 0 0 0 15 0-14-1 9 0 0 0 1 0 0 0-9-1 0 0 0 0 9 0 1 0 0 0-19-1 0 0 0 0 10 0 0 0 0 0 0 0 0 0 0 0 0 0 0 0 0 0 6 0 3 0 0 0 1 0 0 0-19-1 10 0 0 0 0 0 0 0 0 0 5 0 4 0 1 0-22-1 3 0 0 0 0 0 0 0 10 0 0 0 0 0 0 0 0 0 0 0 9 0 0 0 1 0 0 0-19-1 0 0 0 0 0 0 0 0 0 0 0 0 10 0 0 0 0 0 0 0 0 0 0 0 0 0-14-1 0 0 5 0 0 0 0 0 0 0 0 0 14 0 0 0 1 0 0 0-14-1 0 0-4-1 5 0 0 0 0 0 0 0 0 0 0 0 0 0 1-1 0 0 1 0-5-1-28 0 11 0 0 0 0 0 6 0 0 0 1 0 4 0 1 0 0 0 0 0 0 0-21 1 8 0 0 0 0 0 1 0 0 0 0 0 5 0 6 0 0 0-13 1 0 0 0 0 0 0 0 0 0 0 1 0 0 0 5 0 4 0 2 0 0 0 0 0-20 1 2 0 5 0 0 0 0 0 0 0 0 0 0 0 0 0 0 0 1 0 5 0 5 0 1 0 0 0 0 0-19 1 1 0 5 0 0 0 0 0 0 0 1 0 10 0 0 0 0 0-12 1 0 0 6 0 5 0 0 0 1 0 0 0-13 1 0 0 0 0 0 0 1 0 0 0 5 0 6 0 0 0 0 0-13 1 0 0 0 0 1 0 10 0 0 0 0 0 0 0 1 0 0 0 0 0 0 0 5 0 0 0 0 0-18 1 0 0 0 0 0 0 7 0 1 0 3 0 0 0 1 0 0 0 0 0-13 1 0 0 0 0 0 0 0 0 1 0 5 0 5 0 0 0 1 0-13 1 0 0 0 0 1 0 5 0 5 0 1 0 0 0 0 0-13 1 0 0 0 0 1 0 10 0 0 0 1 0 0 0-12 1 5 0 2 0 3 0 1 0 0 0-2 1 0 0 6 0-12 1 5 0 1 0 0 0 0 0 4 0-13 1 2 0 0 0 5 0 1 0 0 0 0 0 5 0-7 1 0 0 0 0 0 0 1 0 0 0 5 0-12 1 0 0 5 0 0 0 1 0 0 0 10 0 0 0 0 0 0 0 0 0-12 1 0 0 1 0 5 0-7 1 0 0 0 0 1 0 0 0 0 0 0 0 4 0 6 0 0 0 0 0 0 0-12 1 1 0 0 0 10 0 0 0 10 0 0 0-21 1 10 0 0 0 0 0 0 0 10 0 0 0 0 0 0 0-22 1 11 0 0 0 0 0 0 0 0 0 0 0 0 0 10 0 0 0 0 0 0 0 0 0-21 1 0 0 10 0 0 0 0 0 0 0 0 0 0 0 5 0-39 0 0 0 0 0 0 0 0 0 1 0 0 0 0 0 0 0 11 0 0 0-11-1 0 0 0 0 0 0 1 0 6 0 5 0 1 0 0 0-12-1 1 0 12 0 0 0 0 0 0 0 5 0-17-1 0 0 1 0 4 0 1 0 6 0 0 0 0 0 1 0-12-1 0 0 0 0 0 0 0 0 0 0 12 0 1 0 0 0-12-1 0 0 1 0 0 0 0 0 6 0 5 0 0 0 0 0-11-1 0 0 1 0 0 0 0 0 5 0 0 0 6 0 0 0 0 0 0 0 0 0 1 0 0 0 0 0 0 0-18-1 1 0 5 0 0 0 1 0 0 0 11 0 0 0 1 0-12-1 0 0 0 0 1 0 0 0 0 0 0 0 0 0 0 0 11 0-16-1 6 0 0 0 0 0 0 0 6 0 5 0 0 0 0 0 0 0 0 0 1 0-12-1 0 0 1 0 0 0 11 0 0 0 0 0 0 0 0 0 0 0 0 0 1 0 0 0-14-1 2 0 0 0 0 0 12 0 0 0-23-1 0 0 7 0 0 0 5 0 0 0 0 0 1 0 0 0 0 0 0 0 4 0-16-1 0 0 0 0 0 0 0 0 0 0 0 0 7 0 2 0 3 0-11-1 0 0 0 0 0 0 0 0 0 0 12 0 1 0 0 0 5 0-17-1 0 0 0 0 0 0 0 0 0 0 6 0 7 0 0 0 4 0 2 0-18-1 0 0 0 0 0 0 0 0 4 0 8 0 0 0 0 0 1 0 0 0 5 0 0 0-17-1 0 0 0 0 0 0 0 0 0 0 12 0 1 0-12-1 0 0 0 0 0 0 12 0 0 0 0 0 1 0 0 0 0 0 0 0 0 0-12-1 0 0 0 0 0 0 0 0 13 0 0 0-18-1 6 0 0 0 0 0 0 0 0 0 0 0 0 0 0 0 9 0 3 0 0 0 0 0 0 0 0 0 0 0 0 0 1 0 0 0 0 0-19-1 0 0 7 0 0 0 0 0 7 0 0 0 5 0 0 0 0 0 1 0 0 0 0 0 0 0 0 0 0 0 0 0-18-1 2 0 4 0 0 0 0 0 0 0 0 0 0 0 0 0 0 0 0 0 7 0-6-1 0 0 0 0 0 0 0 0 6 0 6 0 0 0-40 0 0 0 0 0 0 0 1 0 0 0 13 0 0 0 1 0-16 1 0 0 0 0 0 0 0 0 0 0 0 0 7 0 7 0 0 0 1 0 0 0-16 1 0 0 0 0 1 0 6 0 7 0 0 0 1 0 0 0 0 0 0 0 0 0-16 1 0 0 0 0 0 0 0 0 0 0 1 0 13 0 0 0-15 1 0 0 0 0 0 0 1 0 0 0 7 0 0 0 6 0 0 0 1 0 0 0 0 0 0 0 0 0 0 0 4 0-20 1 0 0 0 0 1 0 7 0 6 0 1 0 0 0 0 0 0 0 6 0-22 1 0 0 1 0 0 0 13 0 0 0 0 0 1 0 4 0 2 0-22 1 0 0 0 0 0 0 0 0 1 0 6 0 1 0 2 0 4 0-14 1 0 0 6 0 7 0 1 0 0 0 0 0-9 1 7 0 0 0 1 0-2 1 0 0 1 0 0 0 0 0-8 1 3 0 3 0 0 0 1 0 0 0 0 0 0 0 0 0 6 0 1 0-9 1 0 0 0 0 1 0 0 0 0 0 6 0 7 0 0 0 0 0 0 0 0 0 0 0 0 0 0 0-21 1 7 0 0 0 0 0 13 0 0 0 0 0 0 0 0 0 0 0 0 0 0 0-15 1 1 0 0 0 0 0 0 0 0 0 6 0 7 0 0 0 0 0 0 0 0 0 0 0 0 0-15 1 0 0 1 0 0 0 13 0 0 0 0 0 0 0 0 0 0 0 0 0 0 0-1 1 0 0 0 0 0 0 0 0-15 1 0 0 0 0 1 0 0 0 13 0 0 0 0 0 4 0-19 1 1 0 0 0 0 0 13 0 0 0-15 1 0 0 0 0 1 0 0 0 0 0 0 0 0 0 13 0 0 0 6 0-21 1 0 0 1 0 0 0 0 0 13 0 0 0 0 0 0 0 0 0 0 0 0 0 0 0 0 0-15 1 1 0 0 0 4 0 0 0 9 0 0 0 0 0 7 0-21 1 0 0 0 0 0 0 6 0 7 0 0 0 0 0 0 0 0 0 0 0 0 0 0 0 0 0-9 1 2 0 6 0 0 0 0 0-28 0 0 0 0 0 0 0 0 0 0 0 1 0 0 0 13 0 0 0 1 0 0 0 0 0-14-1 0 0 1 0 13 0-23-1 10 0 0 0 0 0 0 0 0 0 8 0-17-1 10 0 0 0 0 0 0 0 1 0 0-1 0 0 0 0 0 0 0 0 1 0 0-1 0 0 0 0 0 0 0 0 1 0 0 0 0-1 0 0 0 0 0 0 1 0 0 0 4 0-19-1 0 0 0 0 0 0 0 0 0 0 15 0 0 0 0 0 1 0 0 0 0 0 0 0 7 0-23-1 0 0 1 0 0 0 7 0 1 0 7 0 0 0 0 0 0 0 0 0-15-1 0 0 1 0 0 0 0 0 0 0 0 0 0 0 0 0 8 0 7 0 0 0 0 0 0 0 0 0 1 0-16-1 0 0 17 0 0 0-16-1 0 0 1 0 0 0 0 0 0 0 8 0 7 0 0 0 0 0 0 0 0 0 0 0 1 0-16-1 0 0 0 0 0 0 1 0 15 0 0 0 0 0 0 0 0 0-6-1 7 0 0 0 0 0 0 0 1 0-16-1 1 0 0 0 0 0 0 0 0 0 15 0 0 0 1 0-16-1 0 0 1 0 0 0 0 0 0 0 0 0 15 0 0 0 0 0-23-1 8 0 0 0 1 0 0 0 0 0 1-1 0 0 0 0 0 0 0 0 0 0 0-1 0 0 0 0 0 0 0 0 0 0 0 0 1 0 0 0-7-1 7 0 0 0 0 0 0 0 1 0 0 0 0 0 0 0 0 0 7 0 1 0-16-1 4 0 4 0 0 0 0 0 0 0 1 0 0 0 0 0 0 0 0 0-8-1 8 0 0 0 1 0 0 0 7 0-12-1 5 0 1 0 0 0-11-1 4 0 7 0 0 0 0 0 1 0-36 0 0 0 1 0 0 0 0 0 0 0 9 0 8 0 1 0 0 0 0 0 0 0 0 0-20 1 0 0 0 0 0 0 9 0 9 0 0 0 1 0-20 1 0 0 0 0 1 0 0 0 0 0 12 0 1 0 4 0 0 0 0 0 0 0 0 0 1 0 0 0 0 0 0 0 2 0-22 1 0 0 1 0 17 0 0 0 1 0-20 1 0 0 0 0 1 0 9 0 8 0 1 0 0 0 0 0 0 0 0 0-1 1 0 0 0 0 0 0 0 0 0 0-10 1 8 0 1 0 0 0 0 0 0 0 0 0 0 0-10 1 8 0 0 0 0 0 1 0 0 0 0 0 0 0 0 0-2 1 1 0 0 0-11 1 0 0 9 0 0 0 0 0 0 0 0 0 1 0 0 0 4 0-6 1 0 0 0 0 1 0-10 1 9 0 9 0-11 1 1 0-1 1 0 0 0 0 0 0-2 1 0 0 0 0 0 0 1 0 0 0 0 0 0 0-1 1 0 0 0 0-2 1 1 0 0 0 0 0 8 0 8 0 0 0 0 0 0 0 0 0-17 1 0 0 0 0 0 0 9 0 7 0 0 0 0 0-18 1 1 0 0 0 0 0-1 1 0 0 16 0 0 0-18 1 0 0 1 0 0 0 0 0 0 0 16 0 0 0 1 0-19 1 0 0 1 0 0 0 0 0 0 0 0 0 8 0 1 0 7 0 0 0 0 0-18 1 1 0 0 0 16 0 0 0 0 0 1 0 0 0 0 0 0 0 0 0-18 1 0 0 16 0 0 0 1 0-36 0 0 0 6 0 12 0-17-1 0 0 0 0 10 0-9-1 0 0 1 0 0-1 0 0 0 0 0 0 0 0-6-1 7 0 0 0 0 0 1 0 0-1 0 0 0 0 0 0 1 0 0-1 0 0 0 0 1 0 9 0-19-1 10 0 0 0 0 0 0 0 0 0 1 0 0-1 0 0 0 0 0 0 0 0 1-1 0 0 0 0 0 0 0 0 0 0 1-1 0 0 0 0-9-1 3 0 7 0 0 0 6 0-15-1 10 0 1-1 0 0 0 0 0 0 0 0 0 0 4 0-2-2 0 0 0 0 0 0 0 0-20-1 1 0 4 0 6 0 10 0 0 0 0 0-19-1 0 0 0 0 0 0 10 0 10 0 0 0 0 0 1 0 0 0-21-1 0 0 0 0 1 0 0 0 20 0 0 0 0 0 0 0 0 0 0 0-20-1 0 0 1 0 0 0 10 0-10-1 0 0 1 0 0 0 0 0 0 0 0-1 0 0 0 0 1 0 0 0 0 0 0 0 0 0 0 0 0 0 0-1 0 0 0 0 1 0 0 0 0 0-6-1 6 0 0 0 0 0 0 0 1 0 0 0 0 0 10 0 0 0-33 0 0 0-2 1 1 0 0 0 0 0 0 0 11 0 1 0-13 1 0 0 0 0 0 0 16 0-17 1 0 0 0 0 0 0-1 1 0 0 0 0 0 0 0 0 0 0 0 0 12 0-13 1 0 0 0 0-2 1 0 0 13 0-14 1 0 0 1 0 0 0 0 0 0 0 11 0 1 0-14 1 0 0 1 0 0 0 7 0 15 0-23 1 11 0 11 0 0 0 1 0 0 0 0 0-18 1 5 0 1 0 10 0 0 0 0 0 1 0 0 0-2 1 0 0 1 0-2 1 1 0 0 0-13 1 6 0 5 0 0 0 0 0 1 0 0 0 0 0-2 1 1 0 0 0 0 0 0 0-2 1 1 0 0 0-2 1 0 0 1 0 0 0 0 0-2 1 0 0 1 0 0 0 0 0 0 0 0 0 0 0-2 1 1 0 0 0 0 0-12 1 10 0 0 0 0 0 1 0 0 0 0 0 0 0 0 0-2 1 5 0-6 1 0 0 0 0 0 0 1 0-2 1 0 0 1 0 0 0-1 1 0 0 10 0-21 0-11-1 0 0 0 0 0-1 0 0-5-1 6 0 0 0 1 0 0 0 1-1 0 0 0 0 0 0 0 0 1-1 0 0 0 0-11-1 11 0 1 0 0-1 1 0 0-1 0 0 1 0 0 0 0 0-5-1 6 0 0 0-16-1 0 0 16 0 1 0 0 0-12-1 13 0-16-1 16 0 1 0 0 0 0 0-12-1 5 0 7 0 0 0 1 0 0 0 0 0 0 0 0 0-16-1 8 0 8 0-23-2 0 0 0-1 1 0 0 0 0 0 0-1 1 0 0 0 13 0-13-1 1 0 0 0 1-1 0 0 0 0 13 0-13-1 1 0 0 0 13 0-13-1 1 0 0 0 0 0 0 0 0 0 0-1 1 0-31 0 0 0 1 0-1 1 0 0 0 0 14 1 0 1-2 1 9 0-11 2 6 0-12 1 0 0 6 0 12 1 1 0 0 0 0 0 0 0-2 1 0 0 1 0 0 0 0 0 0 0 0 0-2 1 0 0 1 0 0 0 0 0 0 0-2 1 0 0 1 0-1 1 0 0-15 1 13 0 1 0 0 0 0 0 0 0-2 1 1 0 0 0 0 0 0 0 0 0 0 0-2 1 1 0-1 1 0 0-2 1 0 0 1 0 0 0-1 1-1 1-2 1 1 0 0 0 0 0 0 0-1 1 0 0 0 0 0 0 0 0 0 0 0 0-2 1 0 0 1 0 0 0 9 0-10 1 0 0 13 0-43 0 0-1 1 0 0-1 1 0 0-1 1 0 0 0 1-1 0 0 2-2 0 0 0-1 0 0 0 0 1 0 0 0 1-1 0 0 0 0 1-1 0 0 0-1 1 0 8 0-8-1 1 0 0 0 0-1 1 0 0-1 1 0 0 0 0 0 0 0 0 0 0 0 8 0-7-1 0 0 0 0 0 0 0 0 0-1 1 0 1-1 0 0 0 0 1-1 1-1 0 0 0 0 0-1 1 0 0 0 1-1 0 0 0 0 0-1 1 0 0-1-16-1-18 0 0 0 0 0 1 0 0 0-2 1 0 0 0 0 0 0 0 0 1 0-2 1 0 0 0 0-1 1 0 0-1 1 0 0 1 0-2 1-1 1 0 0 1 0 0 0-2 1 0 0 0 0 13 0-14 1 1 0-1 1-2 1 0 0 0 0 1 0 0 0 0 0-2 1 1 0-2 1 0 0 13 0-14 1 1 0 17 0-10 5 2 3-19 2 0-1 1 0 0-1 0 0 0 0 1-1 0 0 0 0 1-1 1-1 0 0 0 0 0 0-19-1 20 0 2-1 0 0-20-1 20 0 0 0 1-1 0 0 0 0 0 0-16-4-13-10-1 1-2 1 1 0 0 0-1 1 0 0 0 0-2 1 1 0-1 1 0 0 0 0-1 1-2 2 0 0 0 0-2 1 0 0 0 0 0 1 0 0-2 1 0 0 1 0-1 1-1 1-1 1-1 1 0 0 0 0 0 0-2 2 22 0-28 6 1-1 3-3-12-14 3-3 2-2-31 1 0 0 0 0-4 3 1 0 0 0-1 1 0 0-1 1 0 0 0 0 0 0-2 1 0 1-1 1 0 0-1 1 0 0 17 13-27-4 2-1 0 0 1-1 1-1 1-1 0 0 1-1 3-3-71-8 1-1 2-2-4 4-1 1-1 1-4 4-5 5 0 0-2 2-2 1 1 0-128-7-10 10-17 17 0 0 3-3 2-2 3-3 0 0 136-1-4 4-1 1 0 0-5 5-1 1 0 0 0 0-5 5 18-18 1-1 45-2-15 2 31 18 0-1 5-4 0 0 0 0 3-3 0 0 12-12-2 2-3 3-1 1 0 0-4 4 0 0 0 0 0 0 21 9-2 2 25 1 2-2 1-1 0 0-11-6 30-13-1 1 0 0-1 1-2 2-2 2 0 0-1 1-1 1 0 0-1 1 0 0-3 2 1 0 15 0-16 1 0 0-1 1 16 0-17 1-3 3 18 5 19 1 0 0 1 0 0 0 0 0 0-1 1-1 0 0 1-1 0 0 1 0 0-1 0 0 1-1 1 0 0 0 1-2 2-2 0 0-8-12 22-2 0 0-1 2-5 4-1 1-1 1 0 0 0 0-1 1 1 0 16 1 1 0-22 4 15 3 11 5 1-1 2-1 15 0-14-1 16 0-15-1 0 0 0 0 1-1 0 0 0 0 0 0 1-1 0 0 1-1 0 0 0 0 0 0 2-2 0 0 0 0 1-1 1-1 1-1 0 0 0-1 1 0 0-1 1 0 1-1 0-1 1 0 0 0 0-1 1 0 1-1 0 0 0 0-4-1 4 0 1 0 0 0 0 0 0 0 0 0 1-1 2-2 15 0-16 1 0 0 19 1-5 1 8 5 1 0 0 0 0 0 0 0 0 0-2 1 0 0 0 0-1 1 1 0 0 0-1 1-1 1 0 0 0 0-10 1 9 0 0 0 0 0-2 1 0 0 1 0-1 1 0 0-4 3 1 0 0 0 0 0 0 0 0 0 0 0-2 1 0 0 0 0-2 2 0 1 0 0 12 1 12 0-7-1 9 0 1-1-12-1 12 0 0 0 1 0 0 0 0 0 0-1 0 0 1 0 0 0 1-1 0 0 0 0 0 0 0 0 0 0 0 0 1-1 0 0 0 0 1-1 0 0 0 0 0 0 0-1 0 0 1 0 0 0 0 0 0-1 0 0 0 0 1 0 0 0 0 0 0 0 0 0 0 0 0-1 1 0 0 0 0 0 0 0 0-1 0 0 1 0 0-1 2-1 0 0 0 0 0 0 0 0 0 0 0-1-11-1-12-1 0 0 0 0 0 0 0 0 0-1 0 0 2-1 0 0 1-1 1-1 0 0 0 0 0 0 0 0 1-1 0 0 1-1 0 0 0 0 0 0 0 0 0 0 0-1 1 0 0 0 26 0 0 0-1 1 0 0-1 1 0 0 0 0 12 0-14 1 0 0 1 0 0 0-2 1 0 0 1 0 0 0-2 1 0 0 0 0 0 0 0 0 1 0 0 0 11 0 1 0-13 1 0 0 0 0-1 1-2 1 1 0 0 0 22 0 0 0 0 0 0 0-23 1 11 0 11 0 1 0-9 1 7 0 0 0 1 0 0 0 0 0 0 0-1 1-2 1 1 0 0 0-13 1 12 0 0 0 0 0 0 0 0 0 0 0-13 1 0 0 12 0 0 0-2 1 1 0 0 0-1 1 0 0-13 1 0 0 12 0 0 0-2 1 1 0-12 1 10 0-8 1 7 0 1 0 0 0-2 1 0 0 1 0 10 0 1 0-12 1-2 1 1 0 10 0 10 0 0 0 0 0 1-1 0 0 0 0 0 0 0 0 0 0 1-1 1 0 8 0-8-1 0 0 1 0 0-1 0 0 0 0 0 0 0 0 0 0 1 0 0 0 0-1 1 0 5 0-5-1 1-1 0 0 1-1 0 0 1 0 9 0-9-1 9 0-8-1 0 0 1-1 0 0 0 0 0 0 0 0 1-1 0 0 0 0 0 0 0 0 0 0-9-1 3 0 7 0 0 0 0 0-9-1 10 0 0 0 0 0 0 0 0 0 0 0 0 0 0 0 0 0-19-1 0 0 0 0 0 0 20 0 0 0 0 0-19-1 0 0 20 0-20-1 1 0 0 0 0 0 10 0 1 0 9 0 0 0 0 0 0 0 0 0-20-1 1 0 0 0 0 0 11 0 9 0 0 0 0 0 0 0-20-1 0 0 0 0 1 0 0 0 0 0 0-1 1 0 0 0 0 0 1-1 0 0 0 0 0 0 0-1 0 0 0 0 1 0 0 0 0-1 0 0 0 0 1 0 0 0 10 0 0 0 10 0 0 0 0 0 9 0 10 0-20 1 18 0 0 0 1 0 0 0-20 1 9 0 9 0 0 0 1 0-20 1 0 0 0 0 0 0 18 0 0 0 1 0 0 0 0 0 0 0 0 0-20 1 19 0 0 0 0 0 0 0 0 0-19 1 0 0 6 0 12 0 0 0 0 0-2 1 1 0-14 1 13 0 0 0-2 1 0 0 0 0 0 0 0 0 1 0 8 0 0 0-10 1 1 0 0 0 0 0 0 0 0 0-10 1 8 0 1 0 0 0-10 1 8 0 0 0 1 0 0 0 0 0 0 0 0 0 0 0-11 1 9 0 0 0 0 0 0 0 0 0 1 0 0 0 0 0 0 0 0 0 0 0 0 0 9 0-11 1 0 0 1 0 0 0-2 1 0 0 0 0 0 1 0 0 6 0-8 1 0 0 1 0 16 0 0 0-18 1 1 0 0 0-1 1 0 0 16 0 0 0 1 0-18 1 0 0 0 0 16 0 0 0 1 0 0 0-19 1 0 0 0 0 1 0 0 0 16 0 1 0 0 0 0 0-18 1 0 0 0 0 16 0 0 0-17 1 0 0 12 0 4 0 1 0 0 0 0 0-18 1 0 0 0 0 16 0 0 0 0 0 1 0 0 0 15 0 0 0 0 0 1-1 0 0 0 0 0 0 10 0 4 0-20-1 1-1 7 0 0 0 0 0 0 0 1 0 0 0 0-1 0 0-7-1 8 0 8 0 0 0-7-1 0 0-14-1 15 0 0 0 1 0 6 0-22-1 0 0 0 0 0 0 1 0 0 0 0 0 0 0 0 0 15 0 0 0 0 0 0 0-14-1 0 0 7 0 0 0 8 0 0 0 0 0 5 0-20-1 0 0 0 0 0 0 16 0 0 0 0 0-15-1 0 0 1 0 0 0 15 0 0 0 1 0-16-1 0 0 1 0 0 0 15 0 1 0-16-1 8 0 8 0 0 0 0 0 0 0 0 0-15-1 0 0 0 0 1 0 15 0 0 0-15-1 1 0 15 0 0 0 0 0-15-1 0 0 1 0 0 0 0 0 0 0 0-1 0 0 0 0 0 0 14 0-13-1 1 0 0 0 0 0 0 0 0-1 0 0 1 0 0-1 0 0 1 0 0 0 1-1 0 0 0 0 0 0 0-1 0 0 0 0 0 0 9 0-8-1 0 0 0 0 0 0 1 0 0 0 0 0 15 0 0 0 0 0 0 0 0 0 1 0 0 0 14 0 0 0-21 1 5 0 0 0 0 0 0 0 7 0 7 0 0 0 1 0 0 0 0 0-16 1 0 0 1 0 0 0 13 0 0 0-15 1 0 0 0 0 0 0 0 0 1 0 0 0 13 0 0 0 1 0 0 0-16 1 0 0 1 0 6 0 7 0 1 0 0 0 0 0 0 0-16 1 0 0 1 0 13 0 0 0 0 0 0 0 1 0 4 0-20 1 0 0-1 1 0 0 8 0 6 0 0 0 0 0 0 0 0 0 1 0 6 0-14 1 6 0 1 0 0 0 7 0-9 1 0 0 0 0 0 0 1 0 0 0 0 0-8 1 6 0 1 0-2 1 0 0 1 0 0 0 0 0 0 0-2 1 1 0 7 0 6 0 0 0 0 0-15 1 0 0 0 0 1 0 13 0 0 0-15 1 1 0 6 0 2 0 5 0 0 0 0 0 0 0 0 0-15 1 1 0 0 0 0 0 0 0 9 0 4 0 0 0-15 1 0 0 1 0 0 0 7 0 6 0 0 0 0 0-15 1 1 0 0 0 13 0 0 0-15 1 1 0 0 0 13 0 0 0 0 0 0 0 0 0-15 1 1 0 13 0 0 0 0 0 0 0 0 0 0 0 6 0-21 1 0 0 1 0 0 0 13 0 0 0 6 0-21 1 1 0 0 0 4 0 9 0 0 0 0 0 0 0 0 0 0 0 0 0-14 1 0 0 0 0 0 0 0 0 13 0 0 0-1 1 0 0 0 0 0 0 0 0 4 0 3 0 0 0 5 0 0 0 0 0 12 0 1 0 0 0 10 0 0 0-22-1 0 0 1 0 0 0 11 0 0 0 1 0 0 0-12-1 0 0 1 0 0 0 17 0-17-1 1 0 11 0 1 0 0 0-12-1 1 0 5 0 1 0 5 0 0 0-11-1 0 0 0 0 1 0 0 0 0 0 11 0 0 0 1 0 0 0 0 0 0 0-18-1 6 0 0 0 1 0 5 0 6 0 0 0 0 0 1 0 0 0 3 0-20-1 5 0 0 0 0 0 1 0 0 0 0 0 0 0 11 0 0 0 0 0 0 0 0 0 1 0-12-1 12 0 0 0 0 0 0 0 1 0 0 0 0 0-12-1 0 0 1 0 11 0 1 0-11-1 0 0 11 0 0 0 1 0-12-1 0 0 0 0 1 0 0 0 11 0 0 0 0 0 0 0 0 0-23-1 0 0 0 0 6 0 1 0 5 0 0 0 0 0 0 0 1 0 0 0 0 0 0 0 0 0-12-1 0 0 12 0 0 0 1 0-12-1 13 0 2 0-14-1 0 0 0 0 0 0 0 0 0 0 13 0 0 0 0 0 4 0-16-1 0 0 0 0 12 0 0 0 0 0 1 0 0-1 0 0 0 0 1 0 0 0 0 0 0 0-12-1 0 0 0 0 0 0 0 0 0 0 0 0 0 0 0 0 0 0 6 0 6 0 1 0 0 0-12-1 6 0 6 0 0 0 0 0 1 0 0 0-12-1 0 0 0 0 0 0 0 0 0 0 0 0 0 0 0 0 1 0 11 0 1 0 0 0 0 0 0 0-18-1 6 0 0 0 0 0 0 0 0 0 13 0 0 0 0 0-22-1 10 0 0 0 0 0 0 0 6 0 6 0 0 0 1 0 0 0 0 0 0 0 0 0-18-1 6 0 0 0 0 0 0 0 0 0 0 0 1 0 5 0 7 0 0 0 0 0 0 0 5 0 6 0 0 0 0 0 1 0 5 0 0 0 0 0 5 0 0 0 0 0-17 1 5 0 0 0 0 0 0 0 1 0 10 0 0 0 1 0 0 0 0 0 0 0-18 1 5 0 0 0 1 0 0 0 0 0 4 0 1 0 5 0 0 0 0 0 0 0-12 1 0 0 0 0 0 0 0 0 1 0 5 0 6 0 0 0-19 1 6 0 1 0 0 0 10 0 0 0 0 0-17 1 5 0 0 0 1 0 10 0 0 0 1 0 0 0-13 1 0 0 0 0 0 0 1 0 0 0 10 0 0 0 1 0 0 0 0 0 0 0-13 1 1 0 0 0 5 0 5 0 0 0 0 0 1 0 0 0 5 0-18 1 0 0 1 0 0 0 0 0 0 0 0 0 0 0 10 0 0 0 0 0 1 0 0 0-13 1 1 0 0 0 5 0 5 0 1 0 0 0 0 0 5 0 0 0-18 1 0 0 0 0 0 0 0 0 1 0 0 0 11 0 0 0 0 0 5 0 5 0-23 1 0 0 0 0 1 0 10 0 1 0 0 0 0 0 0 0-12 1 10 0 1 0 5 0 0 0 5 0 0 0 0 0 0 0 0 0 0 0 0 0-19 1 18 0-12 1 1 0 10 0 1 0-13 1 1 0 10 0 0 0 0 0-17 1 5 0 0 0 6 0 5 0 0 0-12 1 0 0 0 0 0 0 1 0 0 0 11 0 4 0-17 1 11 0 0 0 0 0 5 0 2 0-19 1 0 0 0 0 0 0 0 0 1 0 10 0-12 1 1 0 10 0 0 0 0 0 10 0 0 0 0 0-22 1 0 0 1 0 0 0 0 0 0 0 7 0 3 0 0 0 0 0 5 0 0 0 5 0 0 0 0 0 0 0-22 1 1 0 0 0 0 0 10 0 10 0 0 0 0 0-11 1 0 0 0 0 0 0 10 0 10 0 0 0 0 0 4 0 0 0 4 0 1 0 4 0 1 0 3 0 0 0-17-1 0 0 5 0 4 0 0 0 1 0 0 0 0 0 0 0-9-1 0 0 1 0 0 0 0 0 0 0 0 0 8 0 0 0-8-1 0 0 1 0 0 0 4 0 4 0 0 0 0 0-17-1 0 0 0 0 0 0 0 0 9 0 1 0 0 0 8 0 0 0 1 0-18-1 0 0 0 0 0 0 5 0 4 0 5 0 4 0 0 0 1 0 0 0-18-1 0 0 5 0 4 0 0 0 0 0 0 0 1 0 0 0 5 0 3 0-17-1 0 0 0 0 18 0 0 0 0 0 0 0 1 0 0 0 0 0 0 0-19-1 1 0 0 0 0 0 0 0 10 0 4 0 4 0 1 0-21-1 3 0 0 0 0 0 0 0 0 0 0 0 0 0 0 0 9 0 0 0 1 0 8 0-17-1 0 0 5 0 0 0 4 0 1 0 0 0 0 0 4 0-18-1 2 0 3 0 0 0 0 0 9 0 1 0-9-1 0 0 0 0 0 0 4 0 6 0 0 0-9-1 0 0 0 0 0 0 9 0 0 0 0 0 1 0 0 0 0 0 0 0-19-1 0 0 0 0 0 0 0 0 0 0 5 0 0 0 5 0 5 0 4 0 0 0 1 0 0 0-19-1 0 0 0 0 0 0 10 0 0 0 0 0 9 0 0 0 1 0-19-1 0 0 0 0 0 0 0 0 5 0 5 0 9 0 1 0-19-1 0 0 5 0 5 0 10 0-19-1 0 0 5 0 0 0 5 0 0 0 0 0 0 0-9-1 0 0 0 0 0 0 0 0 10 0 0 0 0 0 0 0 0 0 0 0 3 0 0 0-12-1 0 0 0 0 0 0 0 0 0 0 10 0 0 0-14-1 5 0 0 0 0 0 5 0 5 0 0 0 0 0 0 0 0 0 5 0-17-1 3 0 0 0 0 0 0 0 0 0 0 0 0 0 1-1 0 0 0 0 0 0 12 0 8 0 0 0 0 0 2 0 6 0 0 0 0 0 0 0 1 0 3 0 6 0-19 1 17 0 0 0 0 0 0 0 0 0 0 0-19 1 1 0 4 0 13 0-19 1 0 0 1 0 0 0 20 0-4 1 0 0 0 0 0 0 1 0 3 0-14 1 0 0 0 0 9 0 0 0 0 0 0 0 0 0 0 0 1 0-2 1 0 0 0 0 1 0 3 0-9 1 0 0 4 0 5 0 3 0-18 1 0 0 0 0 1 0 0 0 0 0 8 0 9 0 0 0-19 1 1 0 0 0 8 0 0 0 0 0 0 0 0 0 1 0 0 0 7 0 0 0 1 0-19 1 0 0 1 0 8 0 0 0 4 0 4 0 0 0 0 0-18 1 1 0 4 0 0 0 4 0 0 0 9 0 0 0-19 1 1 0 0 0 0 0 0 0 0 0 9 0 0 0 7 0 0 0 0 0 1 0 0 0 0 0-10 1 0 0 0 0 5 0 3 0 0 0 1 0 0 0 4 0-22 1 0 0 8 0 0 0 9 0 0 0-10 1 0 0 0 0 0 0 9 0 7 0-17 1 0 0 0 0 0 0 0 0 1 0 12 0 3 0 1 0 0 0-18 1 0 0 0 0 1 0 0 0 4 0 3 0 0 0 1 0 0 0 7 0 0 0-17 1 0 0 1 0 7 0 0 0 0 0 0 0 0 0 1 0 7 0-17 1 1 0 8 0 0 0 7 0-16 1 0 0 3 0 4 0 0 0 8 0 0 0 0 0 1 0-18 1 0 0 1 0 8 0 8 0-18 1 0 0 0 0 0 0 1 0 7 0 0 0 0 0 1 0 4 0 4 0 4 0-14 1 0 0 1 0 7 0 0 0 1 0 7 0 0 0 0 0 0 0 7 0 0 0 1 0 6 0 0 0 0 0 1 0 7 0-21-1 0 0 0 0 14 0 0 0 1 0 6 0 0 0-13-1 0 0 8 0 6 0 1 0-21-1 0 0 0 0 0 0 7 0 0 0 0 0 8 0 6 0 0 0-20-1 8 0 6 0-13-1 0 0 0 0 0 0 7 0 0 0 1 0 6 0 0 0 0 0 0 0-17-1 4 0 0 0 0 0 1 0 6 0 0 0 7 0 1 0 0 0-14-1 0 0 0 0 0 0 0 0 4 0 3 0 0 0 1 0 0 0-14-1 0 0 3 0 4 0 0 0 4 0 3 0 0 0 7 0 1 0-22-1 0 0 0 0 8 0 0 0 0 0 0 0 4 0 3 0 1 0 3 0 3 0 1 0 0 0-7-1 0 0 0 0 1 0 3 0 3 0 0 0-21-1 1 0 0 0 14 0 0 0-14-1 0 0 1 0 0 0 0 0 0-1 0 0 8 0 0 0 0 0 0 0 7 0-17-1 3 0 0 0 0 0 1 0 7 0 0 0 5 0 3 0-7-1 0 0 0 0 0 0 7 0 0 0 1 0-22-1 5 0 10 0 0 0 0 0 0 0 0 0 7 0 0 0 1 0-22-1 0 0 15 0 0 0 7 0-22-1 0 0 1 0 0 0 4 0 11 0 0 0 0 0-15-1 0 0 1 0 19 0-19-1 1 0 0 0 7 0 0 0 1 0 3 0 4 0 0 0 0 0 0 0 0 0-14-1 7 0 0 0 0 0 0 0 4 0 4 0-15-1 0 0 0 0 8 0 3 0 5 0 0 0-18-1 12 0 5 0 2 0 0 0 0 0 0 0 0 0 0 0 7 0 1 0 0 0 2 0 4 0 0 0 7 0 0 0 0 0 1 0-19 1 3 0 1 0 3 0 3 0 0 0 1 0 10 0-18 1 3 0 3 0 0 0 1 0 7 0 0 0-16 1 0 0 0 0 1 0 2 0 1 0 3 0 5 0 2 0 6 0 1 0-15 1 7 0 0 0 1 0 0 0 5 0 0 0 0 0 1 0 0 0-22 1 1 0 3 0 0 0 3 0 7 0 0 0 1 0 3 0 3 0 0 0 0 0 0 0 0 0 0 0-15 1 7 0 7 0 0 0 0 0 0 0-15 1 1 0 0 0 3 0 3 0 0 0 3 0 4 0 0 0-18 1 3 0 0 0 7 0 0 0 7 0 0 0-15 1 0 0 0 0 0 0 1 0 6 0 0 0 0 0 1 0 0 0 12 0-20 1 6 0 0 0 0 0 3 0 10 0 0 0 1 0-21 1 0 0 6 0 1 0 0 0 6 0 0 0 6 0-21 1 1 0 0 0 6 0 1 0 6 0 0 0 6 0 0 0 1 0-21 1 0 0 7 0 5 0 1 0 6 0 0 0 2 0-16 1 4 0 2 0 1 0 0 0 6 0 0 0 0 0 1 0-19 1 4 0 0 0 1 0 0 0 0 0 5 0 7 0 0 0 0 0 1 0 3 0 2 0-20 1 1 0 5 0 1 0 0 0 0 0 4 0 2 0 0 0 0 0 0 0 1 0 2 0 4 0-21 1 0 0 0 0 0 0 1 0 2 0 4 0 6 0 0 0 1 0 0 0-8 1 3 0 3 0 1 0 6 0 0 0-21 1 0 0 1 0 0 0 0 0 3 0 3 0 0 0 0 0 0 0 6 0 0 0 0 0 1 0 5 0 0 0 3 0 0 0-22 1 6 0 0 0 0 0 6 0 3 0 3 0 1 0 0 0-14 1 3 0 3 0 0 0 1 0 5 0 1 0 5 0-19 1 6 0 0 0 6 0 0 0 5 0 2 0 0 0-20 1 0 0 3 0 3 0 0 0 0 0 1 0 0 0 5 0 1 0 0 0 3 0 2 0 6 0 6 0 3 0 8 0 2 0-22-1 10 0 9 0 1 0 0 0 1 0 0 0-21-1 0 0 5 0 0 0 1 0 0 0 5 0 6 0 5 0 0 0 0 0-22-1 1 0 0 0 6 0 4 0 6 0 1 0-17-1 1 0 0 0 0 0 1 0 4 0 6 0 6 0-17-1 1 0 5 0 0 0 0 0 4 0 2 0 0 0 0 0-5-1 0 0 11 0 0 0 1 0-17-1 1 0 5 0 6 0 0 0-16-1 0 0 5 0 0 0 12 0 0 0 5 0-22-1 0 0 0 0 1 0 5 0 0 0 4 0 5 0 0 0-13-1 0 0 5 0 0 0 0 0 1 0 0 0 0 0 6 0 0 0 5 0 0 0-17-1 0 0 1 0 6 0 5 0 1 0 3 0 2 0-17-1 6 0 0 0 0 0 0 0 1 0 6 0 5 0 0 0-17-1 0 0 6 0 1 0 8 0 2 0 1 0 0 0 0 0-17-1 2 0 4 0 0 0 1 0 5 0 0 0-17-1 1 0 5 0 1 0 0 0 0 0 5 0 0 0 0 0 1 0 5 0-17-1 0 0 6 0 6 0 1 0 5 0 0 0 3 0-20-1 0 0 1 0 0 0 3 0 2 0 0 0 1 0 5 0 0 0 0 0 0 0 6 0-17-1 4 0 2 0 0 0 6 0 0 0 7 0-21-1 5 0 4 0 0 0 1 0 5 0 1 0 3 0 2 0 0 0-11-1 1 0 5 0 0 0 0 0 1 0 5 0 0 0-23-1 0 0 0 0 0 0 3 0 3 0 0 0 1 0 0 0 5 0 0 0 0 0 1 0 5 0 1 0-19-1 7 0 0 0 0 0 1 0 0 0 0 0 11 0-11-1 1 0 5 0 3 0 9 0 0 0 1 0 5 0 0 0 8 0-15 1 0 0 5 0 1 0 5 0 0 0 0 0 5 0 1 0 5 0-17 1 3 0 2 0 3 0 2 0 6 0 0 0-20 1 3 0 0 0 0 0 0 0 8 0 2 0 6 0-21 1 3 0 1 0 0 0 0 0 0 0 5 0 0 0 0 0 5 0 1 0 0 0-15 1 3 0 0 0 3 0 8 0 0 0 5 0-18 1 7 0 4 0 1 0 0 0 5 0 0 0 0 0 5 0 0 0-23 1 1 0 0 0 0 0 3 0 2 0 5 0 0 0 1 0 1 0 4 0 5 0-19 1 7 0 6 0 5 0 0 0 0 0-16 1 10 0 0 0 0 0 0 0-12 1 0 0 1 0 1 0 3 0 0 0 0 0 6 0 0 0-12 1 5 0 15 0 0 0 1 0 0 0 0 0 0 0-22 1 0 0 1 0 5 0 5 0 0 0 5 0 5 0 0 0-16 1 9 0 1 0 0 0 0 0-16 1 1 0 7 0 5 0 2 0 0 0 5 0-17 1 4 0 1 0 6 0 4 0 0 0 5 0-21 1 0 0 11 0 5 0 4 0 0 0 1 0-21 1 4 0 1 0 5 0 2 0 7 0 1 0-21 1 3 0 2 0 0 0 2 0 3 0 0 0 9 0 1 0 0 0-21 1 4 0 1 0 2 0 3 0 5 0 0 0 4 0-16 1 1 0 0 0 0 0 7 0 3 0 9 0 0 0-21 1 1 0 0 0 0 0 5 0 4 0 11 0-21 1 2 0 3 0 0 0 5 0 0 0 7 0 2 0 1 0 0 0-21 1 0 0 10 0 14 0 0 0 9 0 8 0 0 0 1 0-17-1 4 0 0 0 0 0 9 0-12-1 8 0 1 0 0 0 4 0-12-1 2 0 1 0 1 0 0 0 0 0 5 0-8-1 0 0 14 0 4 0-22-1 9 0 1 0 3 0 1 0 4 0 0 0-19-1 15 0 1 0 4 0-19-1 2 0 1 0 4 0 3 0 3 0-14-1 5 0 1 0 0 0 3 0 11 0 2 0-22-1 5 0 1 0 4 0 2 0 11 0-17-1 0 0 3 0 4 0 2 0 7 0-15-1 0 0 1 0 0 0 2 0 2 0 4 0 5 0-17-1 4 0 0 0 1 0 1 0 3 0-13-1 0 0 4 0 6 0 4 0 5 0 4 0 0 0-23-1 1 0 0 0 5 0 0 0 9 0 5 0-18-1 5 0 4 0 1 0 4 0 7 0-23-1 1 0 2 0 0 0 0 0 4 0 5 0 3 0 4 0 2 0-18-1 1 0 4 0 6 0 6 0 2 0-22-1 9 0 0 0 1 0 4 0 5 0-18-1 0 0 5 0 2 0 10 0 3 0-19-1 5 0 4 0 5 0 5 0-13-1 3 0 2 0 4 0 5 0-18-1 0 0 0 0 2 0 12 0 1 0 4 0 0 0 0 0-23-1 10 0 10 0 8 0 3 0 1 0 1 0 5 0 3 0 4 0 0 0 2 0-20 1 1 0 11 0 5 0-18 1 3 0 1 0 1 0 0 0 4 0 0 0 0 0 9 0 3 0-22 1 4 0 4 0 2 0 1 0 2 0 4 0 0 0-9 1 4 0-5 1 4 0 4 0 5 0-11 1 1 0 8 0-18 1 5 0 4 0 0 0 4 0 8 0-21 1 0 0 4 0 4 0 4 0 0 0 0 0 8 0-13 1 4 0 1 0 3 0 4 0-12 1 3 0 4 0 3 0 5 0-21 1 0 0 4 0 4 0 4 0-13 1 0 0 0 0 0 0 9 0 0 0 11 0 0 0-13 1 8 0 0 0 1 0 2 0 1 0 0 0 3 0-19 1 3 0 6 0 2 0 5 0-13 1 6 0 1 0 2 0 2 0-1 1 0 0 1 0-18 1 8 0 4 0 1 0 3 0 4 0 3 0-15 1 6 0 2 0 1 0 4 0 1 0-20 1 4 0 4 0 4 0 4 0 4 0-19 1 2 0 1 0 9 0 4 1 1 0-17 1 8 0 4 0 0 0-11 1 4 0 2 0 22 0 0-1 5 0 0 0 1 0 4 0-12-1 17 0-12-1 3 0 7 0-16-1 10 0-13-1 1 0 10 0-10-1 7 0 1 0 6 0-17-1 5-1 4 0 10 0 4 0-17-1 17 0-23-1 5 0 3 0 13 0-16-1 4 0 3 0-12-1 6 0 6 0 4 0 1 0 0 0 3 0-13-1 3 0 4 0-10-1 4 0 3 0 1 0 4 0 2 0-10-1 1 0-7-1 4 0 0 0 8-1-10-1 4 0 4 0 1 0 2 0-14-1 8 0 7 0-16-1 2 0 1 0 1 0 2 0 6 0 1 0-10-1 10 0-9-1 0 0-3-1 1 0 0 0 2 0 5 0 0 0 8 0 2 0 9 0 8 0 1 0 1 0 6 0-18 1 1 0 3 0 10 0-13 1 18 0 0 0-17 1 9 0 2 0 2 0-15 1 1 0 5 1-4 1 13 0-2 2-14 1 13 0-11 1 4 0 3 0-6 1 8 0 0 0 7 0 2 0-16 1 11 1 3 0 1 0-18 1 1 0 0 0 0 0 3 0 6 0 2 0 4 0 0 1-8 1 2 2-11 1 0 0 2 0 1 0 3 0 15 0-18 1 2 0 3 0 2 0 5 0-9 1 3 0 1 0-4 1 10 0 2 0-16 1 0 0 0 0 3 0 0 0 28 0-4-1 7 0 6 0 2 0-9-1-9-4 0 0 4 0 5-1 0 0 6 0 2 0-4-1-9-2 8 0-10-1 3 0 14-1-20-2 0 0 5-1 5 0 5 0-15-1 11 0 2 0 4 0-1-2 3 0-16-1 5 0-5-1 6 0-9-2 6 0 6 0 8 0 0 0-20-1 8 0 32 2-1 1-12 1 18 0-20 2 1 2 8 0 11 1-17 1 17 0-22 1 10 0 6 2-16 1 17 4 5 0-14 3 1 0 11 0-17 2 8 0 4 0 12-1 4-11-2-4 10 0-6-1 3-2 4-3-5-1 2 0 24 12-6 4-3 3-4 2 29-9 4-10 7 0-6-2 16 7 22 4 27 3-44 19-49 14 11-17-4-4-37-1 10 0-3 2 2 5 1 3 10 0-7 3-11 1 2 2 3 0 7 1-14 4 4 1-20-2 3 0-8-1-4-1 8-1 6-2 0-2 2-2 5-1-9-4-4-3-3-1 1-1 9 0-11-2-27 0 10 0 12 0-17 1 0 0 8 0-5 1 3 0-11 1 13 0-11 1 8 2-9 1 14 1-13 1 3 0 14 0-15 1 0 0 5 1 0 0 6 0 1 1 2 1-15 1 4 0 15 0-23 1 10 0 12 1 1 0-6 1 0 0-11 1 12 0-16 2 3 0 14 0-15 1 11 0 8 0-23 1 5 0 0 0 3 1 3 0 2 0 7 0-39 0 3 0 5 0 8 0 0 0-10-1 0 0 3 0-5-1 3 0 4-1-15-1 13 0-1-1 0 0 5 0 0 0 3 0-15-1 5 0 0 0 0 0-5-1 14 0-20-1 5 0 10-1-8-1 16 0-23-1 2 0 13-1-5-1-8-1-2-1 20 0-19-1 10-1-7-2 6 0-4-1 9-1-39-2 10 0 8 1-17 1 1 0-2 1 14 0 0 0 6 0-14 2 9 0-6 1 1 0 0 0 1 0 3 0 3 0-14 1 6 0-8 1 3 0 4 0 7 0 0 0 0 0-4 1 0 0 0 0 0 0 3 0 0 0 0 0 3 0 0 0-17 1 23 0-18 2 0 0 2 0 7 0-10 1 6 0 12 0 0 0-22 1 2 0 2 0 5 0 1 0 5 0-7 1 12 0-13 1 6 0-13 1 0 0 3 0 0 0 6 0-7 1 6 0 6 0 4 0 2 0-3 1-6 1 1 0 3 0-4 1-8 2 3 0 5 0 1 0-36 0 4 0 3 0 2-1 3 0 7 0-13-1 7 0 3 0-12-1 3 0 11 0-17-1 7 0 10 0 3 0-18-1 16 0 4 0-16-1 10 0-13-1 1 0 7 0 10 0-13-1 7 0-14-1 4 0 1 0 3 0 7 0-17-1 1-1 7 0 4 0 7 0 0 0-14-1 1 0 13 0-13-1 12 0 3 0-21-1 0 0 8 0 3 0 3 0 1 0 3 0 4 0 0 0-21-1 0 0 7 0 1 0 0 0 14 0-21-1 4 0 0 0 0 0 14 0 0 0-17-1 0 0 4 0 0 0 5 0 3 0 3 0 0 0 4 0-11-1 11 0-13-1 0 0 4 0 5 0 5 0-21-1 0 0 9-1 3 0 0 0 4 0-13-1 3 0-7-1 4 0 2 0 2 0 12 0-36 0 4 0 5 0 4 0-18 1 16 0-17 1 4 0 4 0 8 0-14 1 0 0 0 0 5 0 6 0-3 1 0 0 4 0-17 1 0 0 2 0 6 0 12 0-18 1 5 0 4 0 4 0 4 0 4 0-23 1 1 0 0 0 1 0 0 0 8 0 5 0 3 0-16 1 1 0 10 0-9 1 0 0 4 0 1 0 3 0 0 0 9 0 0 0-20 1 6 0 0 0 0 0 0 0 0 0 3 0 1 0 5 0 3 0 1 0 0 0 3 0-17 1 4 0 4 0 4 0 0 0 0 0 5 0-22 1 4 0 4 0 0 0 4 0 8 0-17 1 9 0 5 0 2 0 0 0-17 1 4 0 4 0 4 0 4 0 0 0 4 0-20 1 4 0 0 0 3 0 1 0 11 0-21 1 5 0 3 0 5 0 3 0 4 0-21 1 8 0 4 0 1 0 3 0 0 0 4 0-17 1 0 0 4 0 4 0 4 0 7 0-21 1 2 0 7 0 0 0 4 0 8 0-21 1 4 0 0 0 4 0 0 0 8 0 3 0-16 1 1 0 7 0 0 0 0 0 4 0 3 0-8 1 4 0-12 1-27 0 1 0 14 0 3 0 4 0-20-1 0 0 0 0 4 0 0 0 13 0 2 0-18-1 0 0 0 0 9 0 0 0 2 0 2 0 5 0-17-1 4 0 9 0 0 0-17-1 1 0 12 0 1 0 0 0 0 0 4 0-17-1 1 0 0 0 0 0 4 0 0 0 13 0-17-1 3 0 2 0 0 0-6-1 3 0 4 0 2 0 1 0 5 0 1 0-17-1 4 0 1 0 4 0 0 0 11 0 2 0-17-1 9 0 5 0 4 0 0 0-22-1 5 0 0 0 0 0 1 0 3 0 10 0 0 0-8-1 0 0-8-1 9 0 0 0 9 0 0 0-22-1 0 0 0 0 3 0 6 0 0 0 9 0 4 0-22-1 1 0 5 0 4 0 0 0 11 0-19-1 4 0 7 0 3 0 0 0 5 0-14-1 5 0 1 0 1 0 3 0 0 0 5 0-14-1 1 0 0 0 0 0 0 0 0 0 4 0 0 0-13-1 2 0 3 0 5 0 4 0-8-1 2 0 2 0 1 0 0 0 9 0 0 0-13-1 0 0 7 0 7 0-20-1 2 0 0 0 10 0 0 0 2 0 3 0-10-1 1 0 9 0-18-1 0 0 5 0 2 0 7 0 5 0 1 0-41 0 5 0 0 0 0 0 0 0 0 0-7 1 0 0 16 0 1 0 2 0 2 0 1 0 0 0-23 1 0 0 1 0 5 0 5 0 0 0 0 0 1 0 4 0 0 0 3 0-14 1 5 0 1 0 10 0 0 0-12 1 0 0 0 0 1 0 0 0 5 0 2 0-15 1 1 0 6 0 0 0 4 0 5 0-16 1 0 0 5 0 1 0 2 0 0 0 3 0 10 0-22 1 0 0 0 0 0 0 2 0 9 0 0 0 10 0 0 0 0 0-22 1 0 0 2 0 3 0 0 0 0 0 0 0 11 0 5 0 0 0 0 0-15 1 4 0 5 0 0 0 5 0-12 1 1 0 0 0 0 0 5 0 0 0 5 0 0 0-17 1 0 0 5 0 6 0 5 0 5 0-21 1 2 0 2 0 5 0 1 0 0 0 0 0 10 0-22 1 3 0 8 0 5 0 5 0 0 0-21 1 5 0 15 0 0 0 0 0-17 1 6 0 10 0 0 0 0 0 0 0-17 1 1 0 0 0 0 0 5 0 5 0 4 0 5 0 1 0-22 1 5 0 6 0 0 0 5 0 0 0 4 0 0 0-21 1 1 0 0 0 0 0 0 0 4 0 1 0 5 0 5 0 0 0 0 0-11 1 0 0 0 0 5 0 5 0 0 0 0 0-6 1 2 0 0 0 2 0 1 0 0 0 4 0 0 0 1 0 0 0-19 1 3 0 5 0 9 0 1 0 0 0 5 0-16 1 0 0 5 0 3 0 0 0 2 0 4 0-21 1 1 0 5 0 0 0 5 0 10 0-42 0 0 0 0 0 0 0 1 0 4 0 1 0 0 0 5 0 5 0 1 0-16-1 0 0 0 0 0 0 1 0 5 0 0 0 5 0 0 0 3 0 3 0 0 0-21-1 5 0 0 0 0 0 0 0 6 0 0 0 0 0 0 0 0 0 6 0 5 0 0 0 0 0 0 0 0 0-21-1 0 0 1-1 8 0 2 0 0 0 6 0 0 0 1 0-19-1 2 0 1 0 0 0 5 0 0 0 0 0 5 0 1 0 5 0-19-1 7 0 2 0 1 0 5 0 5 0 0 0 0 0-16-1 6 0 0 0 0 0 3 0 8 0-21-1 0 0 5 0 0 0 0 0 0 0 0 0 6 0 11 0 1 0-23-1 1 0 5 0 0 0 6 0 6 0 0 0 0 0 0 0 5 0-22-1 0 0 1 0 2 0 3 0 1 0 5 0 6 0 0 0-17-1 0 0 0 0 1 0 0 0 4 0 2 0 0 0 0 0 5 0 5 0-16-1 6 0 0 0 1 0 0 0 0 0 5 0 0 0 0 0 5 0 0 0 1 0-17-1 1 0 0 0 5 0 6 0 0 0 0 0 0 0 6 0 0 0-10-1 5 0 0 0 5 0-22-1 0 0 0 0 6 0 1 0 0 0 5 0 0 0 3 0 1 0 5 0-20-1 2 0 2 0 2 0 0 0 1 0 6 0 0 0 5 0 1 0-18-1 0 0 0 0 1 0 0 0 5 0 0 0 6 0 1 0 3 0 3 0-18-1 0 0 2 0 1 0 0 0 9 0 1 0 0 0 5 0 0 0 1 0-18-1 3 0 9 0 6 0 0 0 0 0 0 0 1 0-18-1 7 0 0 0 6 0 5 0-23-1 0 0 0 0 0 0 7 0 6 0 5 0 0 0 0 0 0 0 1 0 3 0-22-1 1 0 0 0 6 0 0 0 1 0 0 0 8 0 3 0-17-1 0 0 6 0 0 0 3 0 3 0 0 0-36 0 3 0 7 0 0 0 1 0 0 0 0 0 0 0 6 0 0 0 0 0 0 0-15 1 0 0 0 0 1 0 7 0 0 0 6 0 1 0-19 1 4 0 0 0 0 0 0 0 6 0 0 0 0 0 0 0 0 0 4 0 0 0 3 0 1 0 0 0 2 0-18 1 0 0 0 0 1 0 6 0 0 0 1 0 6 0 4 0 0 0 3 0 0 0-22 1 1 0 0 0 7 0 12 0 1 0-22 1 1 0 6 0 1 0 6 0 0 0 1 0-8 1 4 0 2 0 7 0-15 1 0 0 8 0 3 0 3 0 0 0-15 1 0 0 1 0 3 0 3 0 0 0 0 0 7 0 0 0 0 0 0 0 0 0-15 1 0 0 7 0 1 0 5 0 1 0 0 0 0 0 6 0-21 1 0 0 0 0 1 0 7 0 0 0 6 0 6 0 0 0-21 1 0 0 0 0 1 0 0 0 6 0 1 0 3 0 2 0 1 0 0 0 0 0 6 0 1 0-22 1 1 0 6 0 1 0 0 0 6 0 0 0 0 0 7 0-15 1 1 0 6 0 6 0 0 0 0 0-14 1 1 0 0 0 6 0 0 0 0 0-8 1 0 0 1 0 0 0 0 0 5 0 1 0 0 0 6 0-14 1 0 0 7 0 0 0 0 0 0 0 0 0 6 0 0 0-14 1 0 0 7 0 0 0 0 0 3 0 9 0 1 0-20 1 3 0 3 0 0 0 0 0 6 0 0 0 1 0 5 0 3 0-23 1 0 0 0 0 7 0 6 0 1 0 5 0 0 0 1 0-20 1 6 0 0 0 6 0 7 0 0 0-15 1 1 0 0 0 0 0 0 0 6 0 0 0 0 0 1 0 5 0 6 0 0 0-22 1 3 0 0 0 6 0 0 0 0 0 6 0-7 1 0 0 1 0 0 0 6 0 6 0 0 0-40 0 1 0 6 0 1 0 6 0 1 0-21-1 0 0 0 0 11 0 4 0 6 0-20-1 0 0 0 0 7 0 0 0 0 0 0 0 0 0 7 0 0 0 1 0 6 0-20-1 0 0 0 0 7 0 7 0 1 0 0 0 0 0 0 0 6 0-20-1 0 0 7 0 0 0 0 0 0 0 1 0 3 0 3 0 0 0 1 0 0 0-13-1 6 0 0 0 0 0 7 0 0 0 1 0-14-1 0 0 7 0 7 0 0 0 1 0-7-1 0 0 1 0 7 0 0 0-21-1 7 0 7 0 0 0 0 0 0 0 1 0 6 0 1 0-21-1 0 0 7 0 0 0 7 0 0 0 1 0 0 0 2 0 4 0-21-1 1 0 0 0 7 0 0 0 7 0 1 0 0 0 6 0-21-1 0 0 0 0 16 0-15-1 1 0 7 0 7 0 1 0 0 0-15-1 0 0 8 0 0 0 7 0 0 0-14-1 0 0 1 0 7 0 7 0-14-1 3 0 5 0 0 0 0 0 1 0 6 0 0 0 1 0 0 0-22-1 7 0 0 0 0 0 1 0 7 0 8 0-23-1 0 0 1 0 0 0 7 0 0 0 0 0 5 0 3 0 0 0 0 0 0 0 0 0 0 0 4 0 3 0 0 0-14-1 0 0 1 0 7 0 0 0-15-1 0 0 0 0 1 0 3 0 4 0 0 0 12 0-19-1 0 0 0 0 1 0 0 0 0 0 0 0 7 0 0 0 0 0 1 0 0 0 3 0 4 0 0 0 0 0 4 0-19-1 1 0 15 0-19-1 4 0 0 0 1 0 3 0 5 0 0 0 0 0 0 0 7 0 0 0 1 0-15-1 0 0 7 0 0 0 0 0 1 0 0 0 7 0 0 0 0 0 0 0-42 0 0 0 10 0 8 0 0 0 0 0 0 0 1 0-20 1 0 0 0 0 0 0 9 0 1 0 0 0 0 0 4 0 4 0 0 0 0 0 0 0-19 1 0 0 0 0 0 0 1 0 8 0 0 0 0 0 1 0 8 0-19 1 0 0 0 0 1 0 0 0 9 0 0 0 0 0 8 0 1 0 2 0-22 1 0 0 1 0 4 0 5 0 0 0 8 0 0 0 0 0 0 0-10 1 1 0 0 0 0 0 4 0 4 0 0 0-10 1 1 0 0 0 8 0 0 0 0 0 0 0 0 0-10 1 9 0 1 0 7 0 0 0 0 0-17 1 0 0 0 0 0 0 0 0 0 0 8 0 0 0 1 0 0 0 7 0 0 0-18 1 1 0 0 0 0 0 17 0-10 1 0 0 4 0 4 0 1 0 0 0-19 1 1 0 0 0 0 0 8 0 1 0 7 0 0 0 0 0 0 0 0 0 1 0 0 0-19 1 9 0 1 0 7 0 0 0 1 0-19 1 1 0 8 0 0 0 0 0 0 0 8 0-17 1 0 0 8 0 0 0 0 0 0 0 0 0 8 0 0 0 0 0-9 1 0 0 0 0 8 0 1 0 0 0 7 0 0 0 0 0-21 1 0 0 4 0 8 0 1 0 7 0 0 0 0 0 0 0 1 0 0 0 0 0 0 0-18 1 0 0 8 0 1 0 0 0 8 0 0 0-14 1 4 0 0 0 1 0 0 0 8 0 0 0 0 0-18 1 0 0 0 0 0 0 8 0 8 0-17 1 0 0 0 0 8 0 1 0 7 0 1 0 0 0 0 0 0 0-18 1 0 0 0 0 0 0 8 0 1 0 7 0 0 0-17 1 0 0 8 0 1 0 0 0 7 0 0 0 1 0 0 0-10 1 1 0 3 0 4 0 0 0 0 0 8 0 0 0 0 0-42 0 0 0 10 0 8 0 0 0-17-1 1 0 0 0 8 0 1 0 0 0 0 0-9-1 1 0 0 0 9 0-8-1 0 0 8 0 1 0-18-1 0 0 0 0 0 0 9 0 1 0 0 0 0 0 8 0 0 0-17-1 0 0 0 0 9 0 0 0 1 0 0 0 8 0 0 0 1 0-18-1 18 0 0 0 1 0-18-1 0 0 0 0 9 0 9 0 0 0 0 0 1 0 0 0 0 0 0 0-18-1 0 0 0 0 0 0 4 0 1 0 4 0 0 0 0 0 1 0 0 0-9-1 0 0 5 0 5 0-14-1 5 0 0 0 0 0 5 0 4 0 1 0 0 0 0 0-9-1 0 0 9 0 1 0-11-1 2 0 0 0 0 0 9 0 0 0 0 0 0 0 0 0 1 0 0 0 0 0-10-1 1 0 9 0 1 0 0 0-19-1 0 0 0 0 10 0 0 0 0 0 9 0 0 0 1 0-19-1 0 0 0 0 0 0 0 0 10 0 0 0 0 0 0 0 0 0 9 0 0 0 0 0 0 0 1 0 0 0-19-1 0 0 0 0 10 0 0 0 9 0 0 0 1 0 0 0 0 0 0 0-19-1 0 0 10 0 0 0 0 0 0 0 0 0 5 0 4 0 0 0 0 0 0 0 1 0 0 0-19-1 0 0 0 0 0 0 10 0 0 0 9 0 0 0-18-1 10 0 0 0-9-1 0 0 0 0 5 0 5 0 0 0 0 0 0 0 0 0-9-1 0 0 0 0 10 0 0 0 0 0-9-1 0 0 10 0 0 0-9-1 0 0 0 0 0 0 5 0 5 0 0 0 0 0 0 0 0 0 0 0 0 0-43 0 0 0 1 0 10 0 0 0 0 0 0 0 0 0 0 0 1 0 10 0 1 0 0 0-18 1 5 0 0 0 0 0 0 0 1 0 0 0 10 0 1 0 0 0-2 1 0 0 0 0 1 0-13 1 0 0 0 0 0 0 1 0 0 0 10 0 0 0 0 0-12 1 0 0 0 0 0 0 1 0 10 0 1 0 0 0 0 0 0 0-13 1 0 0 1 0 5 0 6 0-12 1 5 0 5 0 0 0 0 0 1 0 4 0-17 1 1 0 0 0 10 0 0 0 0 0 1 0-13 1 0 0 1 0 0 0 10 0 0 0 1 0 3 0-16 1 0 0 0 0 0 0 0 0 1 0 0 0 10 0 0 0 0 0 1 0 0 0-13 1 0 0 0 0 0 0 1 0 10 0 1 0 5 0 5 0-23 1 0 0 1 0 11 0 0 0 5 0 5 0 0 0 0 0 0 0-22 1 10 0 0 0 0 0 1 0 0 0 10 0 0 0 0 0-12 1 0 0 0 0 1 0 0 0 10 0 0 0 0 0 0 0 0 0-1 1 0 0-19 1 7 0 11 0 0 0-12 1 1 0 0 0 0 0 0 0 3 0 2 0 5 0 0 0-17 1 5 0 0 0 0 0 0 0 11 0 0 0 0 0 0 0 0 0-12 1 0 0 1 0 10 0 5 0-16 1 10 0 0 0-12 1 0 0 1 0 0 0 10 0 0 0 0 0 0 0 10 0 0 0 0 0 0 0-22 1 1 0 10 0 0 0 10 0 0 0 0 0 0 0-22 1 0 0 0 0 0 0 0 0 1 0 10 0 10 0-11 1 0 0 0 0 0 0 10 0 0 0 0 0 0 0-44 0 1 0 0 0 0 0 6 0 5 0 0 0 0 0 11 0-22-1 1 0 0 0 11 0 1 0-12-1 0 0 0 0 12 0 0 0 0 0 1 0-12-1 0 0 0 0 1 0 0 0 0 0 0 0 0-1 12 0 1 0-12-1 0 0 1 0 11 0 0 0 0 0 1 0-12-1 1 0 0 0 0 0 0 0 11 0 0 0 0 0 0 0 1 0-18-1 7 0 0 0 0 0 7 0 4 0-11-1 0 0 1 0 0 0 0 0 5 0 6 0 1 0-12-1 0 0 0 0 0 0 0 0 12 0 0 0 1 0-11-1 11 0 0 0 0 0 0 0 1 0-23-1 11 0 1 0 0 0 5 0 6 0 0 0 0 0-23-1 6 0 6 0 0 0 0 0 1 0-12-1 0 0 0 0 1 0 11 0 0 0 1 0 0 0 0 0-12-1 0 0 6 0 6 0 0 0-11-1 0 0 0 0 0 0 12 0-11-1 0 0 0 0 12 0 1 0 0 0 0 0 0 0-12-1 12 0 0 0 1 0-12-1 0 0 0 0 0 0 0 0 12 0 1 0-12-1 0 0 0 0 0 0 0 0 7 0 6 0 0 0 0 0-12-1 0 0 0 0 0 0 1 0 5 0 0 0 1 0 5 0 0 0 1 0 0 0 0 0 0 0-12-1 0 0 12 0 1 0 0 0 0 0-12-1 0 0 0 0 12 0 0 0 1 0 0 0 0 0-12-1 0 0 0 0-33 0 5 0 0 0 1 0 13 0 0 0-15 1 14 0 1 0 0 0 0 0-16 1 0 0 0 0 1 0 13 0 0 0 1 0-16 1 0 0 0 0 0 0 15 0-16 1 0 0 0 0 1 0 0 0 13 0 0 0 1 0 0 0 4 0-20 1 0 0 0 0 1 0 13 0 0 0 0 0 1 0 0 0 0 0-16 1 14 0 1 0-16 1 0 0 1 0 13 0 1 0 6 0-7 1 9 0-11 1 1 0 0 0-1 1 0 0-2 1 0 0 1 0 0 0 0 0 6 0-7 1 0 0 13 0-21 1 20 0-15 1 1 0 0 0 7 0 6 0 0 0 0 0-15 1 1 0 0 0 13 0 0 0 0 0-15 1 0 0 0 0 1 0 13 0-15 1 0 0 1 0 0 0 13 0 0 0-14 1 0 0 7 0 6 0 6 0-21 1 14 0 0 0-14 1 13 0 0 0 0 0 6 0-20 1 13 0 0 0 0 0-1 1 0 0-1 1 0 0-28 0 0 0 0 0 4 0 10 0 1 0-14-1 1 0 0 0 0 0 0 0 1-1 0-1 0 0 0 0 1 0 0 0 0-1 0 0 6-1-9-1-9-1 0 0 15 0 0 0 1 0-15-1 15 0 0 0 0 0 0 0-15-1 0 0 1 0 0 0 8 0 7 0 0 0 0 0 1 0-16-1 0 0 1 0 15 0 0 0 1 0 0 0-15-1 0 0 8 0 7 0 0 0 0 0 0 0 0 0-15-1 1 0 0 0 0 0 0 0 15 0 0 0 0 0 0 0 1 0 0 0 0 0-16-1 0 0 1 0 15 0 0 0 0 0 0 0-15-1 0 0 1 0 0 0 15 0-15-1 1 0 0 0 0 0 8 0 7 0 0 0 0 0 0 0 0 0 0 0-15-1 0 0 1-1 0 0 1 0 0 0 0 0-8-1 8 0 0 0 0 0 1 0 0 0 1-1 0 0 0 0 0-1 1 0 0 0 0-1 1 0 0-1 1 0 0 0 0-1 0 0-35 0 0 0 18 0 1 0 0 0-20 1 0 0 0 0 12 0-13 1 0 0 0 0 0 0 0 0 0 0 18 0 0 0 0 0 1 0-20 1 19 0-20 1 0 0 0 0 10 0 8 0 0 0 0 1 0 0 0 0 0 0-2 1 0 0 1 0 0 0-2 1 0 0 1 0 0 0 0 0-1 1 0 0-2 1 0 0 1 0 0 0-2 1 1 0 0 0 8 0-18 1 9 0-2 1 1 0 0 0-2 1 1 0 0 0 0 0-2 1-1 1 0 0-1 1 0 0 1 0 0 0 16 0-17 1 16 0 0 0 1 0 0 0 0 0 0 0 0 0 0 0-19 1 1 0 11 0 6 0-19 1 17 0-17 1 0 0 0 0-2 2 0 0 0 0 16 0-17 1-19 0 14-1-12-1 1 0 9 0 5 0-14-1 0 0 0 0 2-2 0 0 1 0 0 0 9 0-9-1 0 0 0 0 0 0 0 0 1-1 0 0 0 0 1-1 1-1 0 0-12-1 13 0 1 0 2-3 0 0-9-1 10 0 1-1 0 0 0 0 1 0-21-1 0 0 0 0 9 0 12 0-20-1 11 0 10 0 0 0 1 0-21-1 0 0 1 0 0 0 0 0 10 0 10 0 0 0 0 0 0 0-20-1 0 0 1 0 0 0 0-1 2-1 10 0-9-2 1 0 0 0 0 0-23 0-4 3 1 0-2 1 0 0 1 0 0 0 0 0 0 0-1 1 0 0 0 0-2 1 0 0 0 0 0 1 0 0-2 1 1 0-1 1 23 0 0 0-2 1-11 1 10 0 0 0 0 0-4 4 0 0 0 0 1 0-2 1 1 0-8 1 6 0 1 0-3 2 0 1-1 1-1 1-2 1 1 0-24 0 0 0 1 0 0 0 0 0 12 0-12-1 1 0 0 0 0 0 2-2 0-1 1 0 0 0 0-1 1 0 1-1 1-1 0-1 1 0 0 0 0-1 0 0 1 0 0 0 2-2 0 0 0 0-8-1 9 0 1-1 0 0 0 0-12-1 12 0-23-2 0 0 0 0 1-1 0-1 0 0 2-1 2-3 0 0 0 0 0 0 1 0 0-1 0 0 1 0 0 0 0 0-30 0 0 0 0 0 21 8 1 0 0 0 0 0-2 1 1 0-2 2-2 2 0 0-15 1 13 0 1 0 0 0-3 3 0 0-1 1-2 1 1 0-2 2 0 0-1 1-1 1 0 0 0 0-27-3 0 0 1-2 2-1 0 0 1-1 0-1 1 0 0 0 1-1 0-1 1 0 0 0 1-1 0 0 0 0 0-1 1 0 1-1 1-1 0 0 1-1 0 0 0 0 0 0-9-2 10 0 0 0 1 0 0 0 1-1 0-1 0 0 1-1 0 0 0 0 2-1-33-2 0 0-2 2-2 1 0 0 0 0-1 1-1 1 1 0 0 0-2 1-2 2 1 0-2 1 1 0-3 2 1 0 20 4-11 5-21 2 2-1 0 0 2-3 1-1 1 0 1-2 1 0-7-14-23 0-1 1 0 0-1 1-1 1-1 1 0 0-3 2 1 0-4 3 1 0-2 2 0 0-3 3 0 0-1 1-2 2 0 0-4 4 0 0 3-3-40-16-3 3-3 3-12 12 0 0 1-1 1-2 1 0 3-3 1-1-69-10-18 18 0 0-124-11-12 12 130 5-9 9 13-13 0 0 56 23 21-21-2 1 1 0 36 20 1-1 21-22 0 0 0 0-9 9 1 0-2 2-6 6 37 6 2-2 4-4 2-1 9-10-2 2-4 4-1 1 29 7 1-2 3-2 3-3 2-3 4-3 0-1 1 0 3-3 0 0 0 0 3-3-1 1 22 7 1 0-3 3 0 0-2 1-15 1 15 0 0 0 0 0-3 2-1 2-2 2 11 2 11 1 0 0 3-2 2-2 1-1 1-1 0-1 2-1 0-1 0 0 1 0 0 0-12-1 13 0 0 0-15-2 16 0-22-3 13 0-12-1 1-1 1-1 1-1 3-3 25 0 1 0 12 0-14 1 1 0 11 0-13 1 1 0 0 0-2 2-4 3 1 0-2 1 1 0 0 0 22 0-23 1 0 0 22 1 0 0-1 1-1 1 0 0-2 2-1 1 0 0-1 1-3 3 0 0-2 1-3 3 1 0 20 0 18 0-17-1 0 0 1-1 0 0 1-1 0 0 0 0 1-1 2-2 1-1 0 0 0 0 2-2 0 0 0 0 1-1 0 0 1-1 0 0 2-2 1-1 1-1-20-1 21 0 0 0-20-1 22 0-21-1 1 0 0 0 0-1 0 0 11 0-9-1 1-1 0 0 0 0 0-1 0 0 2-1 20 0 1 0 0 0 0 0 18 0-20 1 0 0 0 0 0 0 18 0 0 0-19 1 0 0 19 0-20 1 19 0 0 0-20 1 18 0 1 0-12 3 7 1 1 0-3 2 1 0-2 1 1 0 0 0 0 0-2 1 1 0-2 2 8 0-10 1 1 0-2 1 17 0 0 0-18 1 0 0 0 0 1 0-2 1 1 0 16 0 0 0 1 0-18 1 0 0-3 2 0 0 1 0 0 0 17 0 0 0-19 2 16 0 1 0 15 0 1-1 1-1 0 0 0 0 1 0 1-2 0 0 1-1 0 0-6-2 8 0 0 0 0 0 1-1-15-1 1 0 0 0 0 0 0 0 8 0-8-1 17-1-15-1 1 0 0 0 0-1 1 0 15 0-14-1 15 0 0 0-15-1 1 0 0 0 0 0 15 0 0 0 0 0-15-1 0 0 0 0 2-1 1-1 0 0 0 0-7-1 9-1 1-1 0-1 1 0 16-1 15 0 0 0-16 1 14 0 1 0 0 0 0 0-16 1 0 0 14 0-14 1 13 0 1 0-16 1 0 0 5 0 9 0 1 0-16 1 0 0 10 0 4 0 1 0 0 0-16 1 0 0 15 0 0 0 0 0-16 1 0 0 0 0 14 0 1 0 0 0 0 0-6 1 4 0-2 2 1 0-2 1 0 0 0 0 0 1 0 0 0 0 0 0 13 0 0 0-16 2 0 0 1 0 0 0 13 0-1 1 0 0-15 2-1 1 0 0 13 0-1 1-14 1 13 0 0 0 0 0-14 1 13 0-14 1 12 1 0 0 13 0 0 0 0-1 1 0 1-1 11 0 0 0 0 0-10-1 0 0 12 0 0 0 0 0 0 0-12-1 1 0 0 0 0 0 11 0 0 0-11-1 1 0 11 0 0 0-17-1 7 0 11 0 1 0 0 0-12-1 1 0 0 0 11 0 1 0-11-1-6-1 6 0 12 0-11-1 12 0-11-1 12 0 0 0-23-1 0 0 0 0 0 0 0 0 13 0 0 0-12-1 1-1 0 0 13 0-12-1 0 0 0 0 0 0 6 0 6 0 0 0 1 0-12-1 0 0 0 0 12 0 0 0 1 0-12-1 0 0 13 0 0 0 0 0 0 0 1-1-12-1 0 0 0 0 0 0 12 0 1 0 0 0-12-1 0 0 1-1 0 0 13 0 0 0 0 0-18-1 6 0 0 0 0 0 0 0 12 0 1 0 0 0 0 0 0 0 0 0-12-1 0 0 0 0 0 0 12 0 0 0 0 0 12 0 0 0 1 0 0 0 10 0 1 0-13 1 0 0 0 0 1 0 5 0 0 0 6 0-13 1 0 0 1 0 0 0 0 0 10 0 0 0 1 0-21 1 8 0 1 0 10 0 0 0-12 1 0 0 0 0 12 0-19 1 6 0 1 0 3 0 4 0 3 0-12 1 0 0 0 1-2 1 11 0 1 0-13 1 0 0 0 0 12 0 5 0-18 1 0 0 12 0 10 0-23 1 12 0 0 0 0 0 10 0 0 0-12 1 1 0 0 0 5 0 5 0-12 1 0 0 0 0 0 0 0 0 11 0-11 1 5 0-7 1 1 0 10 0 0 0-1 1 0 0-12 1 0 0 1 0 0 0 0 0 10 0 0 0-12 1 11 0 0 0-12 1 0 0 0 0 11 0 0 0-12 1 0 0 0 0 11 0 0 0 0 0 10 0 0 0 0 0-21 1 10 0 0 0-12 1 0 0 1 0 0 0 10 0 0 0 0 0 10 0 0 0 0 0-11 1 10 0 0 0 18 0 1 0 0 0-9-1 1 0 0-1 0 0 1 0 4 0 4 0 0 0-8-1 0 0 10 0 0 0-18-1 0 0 9 0 1 0-9-1 0 0 19 0-18-1 7 0 2 0 1 0 0 0-9-1 0 0 0 0 19 0 0 0 0 0-18-1 9 0 0 0 1 0 8 0 0 0 1-1 0 0-17-1 0 0 0 0 0 0 0 0 9 0 0 0 0 0-8-1 9 0 0 0 1 0 4 0-13-1 0 0 9 0 1 0-9-1 0 0 0 0 0 0 0 0 9 0 1 0 0 0-19-1 0 0 10 0 0 0 10 0 0 0-9-1 0 0 0 0 0 0 9 0-18-1 10 0 0 0 9 0 0 0 0 0 1 0-9-1 0 0 0 0 0 0 0 0 10 0-19-1 0 0 0 0 0 0 10 0 0 0 0 0 0 0 9 0 0 0-18-1 0 0 0 0 10 0-9-1 0 0 10 0 0 0 0 0 0 0-9-1 0 0 10 0 0 0 0 0-9-1 0 0 10 0 0 0 0 0-9-1 0 0 10 0 0 0 0 0 19 0 0 0 8 0 0 0 0 0 0 0 1 0-19 1 8 0 0 0 9 0 1 0-20 1 0 0 1 0 8 0 0 0 1 0 0 0 8 0 0 0-19 1 1 0 0 0 0 0 8 0 0 0 1 0 8 0 0 0 4 0-23 1 0 0 0 0 9 0 1 0 0 0 8 0 0 0-10 1 1 0 0 0 8 0-15 1 6 0 0 0 0 0 3 0 5 0 0 0 0 0 1 0 0 0-11 1 0 0 0 0 9 0-10 1 0 0 1 0 0 0 8 0 4 0 5 0-18 1 8 0 1 0 7 0 0 0 1 0-6 1 4 0 1 0 0 0 0 0-18 1 0 0 0 0 0 0 0 0 0 0 0 0 8 0 8 0-18 1 0 0 5 0 4 0 0 0 0 0 1 0 7 0 0 0 0 0-18 1 0 0 1 0 8 0 0 0-9 1 8 0 8 0-13 1 4 0 0 0 9 0 0 0 7 0 0 0 0 0 0 0 0 0-17 1 0 0 1 0 7 0 0 0 1 0 0 0 0 0 7 0 1 0-10 1 0 0 1 0-14 1 4 0 0 0 8 0 0 0 1 0 0 0-10 1 1 0 8 0 7 0 0 0 0 0-17 1 0 0 0 0 8 0-9 1 0 0 0 0 8 0 8 0 1 0-18 1 0 0 0 0 8 0 0 0 0 0 8 0-9 1 8 0 8 0 7 0 1 0 6 0 7 0 0 0 1 0-14-1 0 0 1 0 6 0 1 0 0 0 0 0 0 0 6 0 1 0 0 0-14-1 1 0 3 0 0 0 4 0 6 0 1 0-21-1 0 0 7 0 0 0 8 0 3 0 3 0 0 0-13-1 1 0 0 0 7 0-14-1 0 0 7 0 0 0 7 0-13-1 0 0 7 0 1 0 0 0 0 0 7 0 0 0-14-1 8 0 6 0 1 0-21-1 0 0 0 0 0 0 3 0 4 0 8 0 0 0 6 0 1 0-22-1 1 0 7 0 0 0 5 0 3 0 0 0 7 0-21-1 15 0 3 0 3 0-20-1 0 0 7 0 0 0-7-1 1 0 15 0 0 0-15-1 0 0 8 0 0 0 0 0-7-1 0 0 0 0 1 0 0 0 7 0 4 0 3 0 0 0 1 0-15-1 0 0 8 0 0 0 1 0 7 0-22-1 7 0 1 0 0 0 7 0 0 0 7 0-22-1 0 0 1 0 0 0 15 0 1 0 3 0-19-1 1 0 7 0 8 0 0 0 0 0 1 0-16-1 9 0 7 0 0 0 0 0 0 0-15-1 0 0 1 0 7 0 0 0 1 0-8-1 1 0 7 0 0 0 1 0 7 0-15-1 0 0 1 0 7 0 0 0 0 0 8 0 0 0 0 0 0 0-15-1 1 0 0 0 7 0 8 0 0 0 8 0 0 0 6 0 7 0 0 0 0 0 1 0-16 1 0 0 1 0 3 0 3 0 7 0 0 0 1 0-16 1 7 0 0 0 0 0 7 0 0 0 0 0 1 0-16 1 0 0 0 0 1 0 6 0 1 0 0 0 6 0 0 0 0 0 6 0 1 0-21 1 6 0 1 0 3 0 10 0 0 0 0 0-22 1 0 0 0 0 1 0 0 0 0 0 6 0 0 0 0 0 1 0 6 0 0 0 1 0 5 0 1 0-14 1 6 0-8 1 0 0 1 0 6 0 0 0 7 0-15 1 0 0 1 0 0 0 6 0 1 0 2 0 1 0-12 1 1 0 6 0 0 0 0 0 1 0 0 0 5 0 1 0 6 0-21 1 1 0 6 0 7 0-15 1 0 0 1 0 6 0 0 0 7 0 0 0 6 0 0 0-21 1 1 0 0 0 6 0 1 0 5 0 1 0 0 0 0 0 0 0 0 0 6 0 1 0 0 0-21 1 6 0 0 0 6 0 1 0-8 1 0 0 1 0 6 0 0 0 6 0 1 0-15 1 7 0 7 0 5 0-20 1 6 0 1 0 6 0 6 0 1 0 0 0-21 1 1 0 6 0 0 0 13 0-21 1 0 0 0 0 4 0 3 0 6 0 0 0 1 0-8 1 0 0 6 0 0 0 6 0 0 0 0 0-19 1 0 0 19 0-14 1 0 0 0 0 12 0 0 0 1 0-2 1 1 0 0 0 6 0 0 0-20 1 0 0 6 0 0 0 0 0 6 0 1 0 28 0-16-1 0 0 0 0 1 0 5 0 0 0 10 0 1 0-15-1 10 0 1 0-5-1-11-1 0 0 0 0 12 0 5 0 5 0-21-1 12 0-11-1 6 0 0 0 0 0 0 0 3 0 3 0 0 0 6 0 0 0-6-1 1 0 0 0 0 0 0 0 5 0 1 0 0 0 0 0-22-1 2 0 4 0 0 0 5 0 0 0 6 0 5 0 0 0-22-1 1 0 0 0 5 0 1 0 0 0 5 0 1 0 5 0 0 0 0 0 0 0-17-1 0 0 1 0 6 0 5 0 3 0-14-1 6 0 6 0 4 0-15-1 6 0 12 0 0 0-10-1 5 0 0 0 6 0 0 0-16-1 0 0 5 0 1 0 6 0 2 0 2 0 1 0 0 0-23-1 6 0 0 0 1 0 5 0 0 0-11-1 7 0 0 0 0 0 0-1 0 0 3 0 3 0 7 0-18-1 1 0 5 0 0 0 0 0 1 0 5 0 3 0-14-1 6 0 1 0 5 0 1 0 0 0 5 0 0 0 1 0-18-1 0 0 0 0 6 0 0 0 1 0 5 0 0 0 0 0 1 0-15-1 3 0 0 0 6 0 1 0 6 0 0 0-18-1 12 0 1 0-13-1 1 0 0 0 13 0 0 0 5 0 6 0 0 0 0 0 0 0 5 0 1 0 0 0 5 0 0 0 0 0 8 0-19 1 0 0 2 0 8 0 1 0 10 0 0 0 0 0-23 1 1 0 0 0 5 0 0 0 5 0 5 0 0 0 6 0-12 1 0 0 0 0 10 0 1 0-1 1 0 0 0 0-17 1 5 0 1 0 4 0 0 0 1 0 0 0-12 1 0 0 5 0 5 0 1 0 5 0 5 0-17 1 0 0 0 0 1 0 5 0 0 0 5 0 0 0 5 0 0 0-22 1 5 0 1 0 10 0 0 0 2 0 3 0 0 0-16 1 5 0 4 0 0 0 1 0 0 0-7 1 1 0 5 0 5 0 0 0-11 1 5 0 0 0 5 0 5 0-22 1 1 0 0 0 5 0 0 0 0 0 0 0 4 0 0 0 1 0 5 0 5 0-22 1 16 0 0 0 0 0 0 0 5 0-17 1 1 0 0 0 3 0 2 0 0 0 5 0-12 1 0 0 1 0 5 0 0 0 0 0 3 0 0 0 2 0 9 0-21 1 6 0 5 0 5 0 0 0 0 0-16 1 5 0 5 0 0 0 5 0 0 0 5 0-22 1 1 0 0 0 5 0 0 0 5 0 9 0 1 0-21 1 4 0 1 0 0 0 5 0 5 0 4 0 3 0-20 1 11 0 0 0 1 0 5 0 0 0 4 0-10 1 7 0 3 0-21 1 0 0 5 0 5 0 5 0-11 1 4 0 1 0 0 0 0 0 0 0 5 0 9 0 8 0 1 0 0 0 4 0 4 0 1 0 0 0-17-1 5 0 0 0 8 0 4 0 1 0-17-1 4 0 5 0 4 0 4 0-3-1-12-1 4 0 0 0 0 0 4 0 5 0 4 0-21-1 10 0 8 0 4 0-21-1 5 0 0 0 5 0 3 0 0 0 1 0 4 0 3 0-20-1 4 0 5 0 0 0 9 0-21-1 0 0 2 0 7 0 0 0 0 0 5 0 8 0-22-1 15 0 4 0 4 0-21-1 4 0 0 0 0 0 1 0 1 0 3 0 0 0 7 0 2 0 0 0-17-1 2 0 3 0 9 0 4 0 0 0-13-1 13 0-21-1 0 0 5 0 4 0 1 0 3 0 1 0 6 0 1 0-20-1 13 0 1 0-13-1 18 0-17-1 5 0 5 0-10-1 1 0 7 0 2 0 1 0 3 0 1 0 5 0-23-1 5 0 0 0 5 0 0 0 5 0 4 0 2 0-21-1 1 0 0 0 0 0 4 0 1 0 0 0 5 0-9-1 5 0 0 0 0 0 0 0 9 0 0 0 0 0 5 0 2 0-22-1 2 0 4 0 1 0 0 0 0 0 4 0 1 0 2 0 2 0 0 0 0 0 1 0 4 0-13-1 0 0 0 0 0 0 0 0 5 0 0 0 2 0-11-1 2 0 12 0 5 0 5 0 8 0 0 0 0 0 0 0 0 0 4 0 0 0-13 1 0 0 3 0 5 0 0 0 4 0 7 0-21 1 0 0 1 0 4 0 0 0 0 0 0 0 4 0-10 1 1 0 16 0 4 0-21 1 4 0 0 0 4 0-5 1 1 0 7 0 4 0 1 0 3 0-18 1 5 0 0 0 5 0 4 0-14 1 4 0 0 0 16 0 0 0 1 0-22 1 12 0 0 0 4 0-17 1 0 0 4 0 0 0 0 0 4 0 0 0 4 0 8 0-17 1 0 0 4 0 0 0 1 0 9 0-15 1 4 0 5 0 3 0 0 0 4 0-13 1 0 0 4 0 0 0 1 0-10 1 1 0 3 0 8 0 4 0 4 0 0 0-17 1 0 0 0 0 2 0 2 0 5 0 3 0 0 0 8 0-21 1 6 0 2 0 8 0 1 0 2 0-20 1 8 0 1 0 3 0 8 0 0 0-21 1 0 0 0 0 8 0 8 0 4 0-20 1 0 0 12 0 4 0-9 1 0 0 3 0 12 0-21 1 1 0 11 0 0 0 7 1-16 1 3 0 7 0 4 0-16 1 8 0 0 0 4 0 4 0 0 0 0 0 13 0 5 0 9 0-19-1 11 0 6 0 2 0-21-1 3 0 17 0 0 0-20-1 0 0 6 0 1 0 2 0 2 0 3 0-12-1 3 0 3 0 2 0-8-1 0 0 4 0 17 0-20-1 3 0 1 0 3 0 7 0 0 0-17-1 4 0 0 0 16 0-15-1 3 0 1 0 3 0 4 0 0 0 3 0 0 0-17-1 4 0 4 0 2 0 2 0 2 0-16-1 11 0 3 0-5-2 2 0-1-1 0 0 7 0 0 0 1 0-18-1 15 0-14-1 4 0 14 0 4 0-21-1 7 0 1 0-10-1 3 0 4 0 0 0 4 0 10 0-21-1 1 0 3 0 2 0 1 0 1 0-7-1 10 0 2 0 4 0-15-1 0 0 1 0 1 0 2 0 0 0 8 0 3 0 0 0-17-1 7 0 4 0-6-1 15 0-14-1 7 0 0 0 11 0 13 0 3 0-11 1 0 0 1 0 13 0-8 1 3 1 6 0-20 1 20 0-19 1 4 0 4 0 0 2 7 1 2 0-14 1 3 0 4 0 6 0 6 0-16 1 6 0-1 1 3 0 1 0-15 1 3 0 1 0-4 1 9 0 3 0 6 0-19 1 3 0 3 0 0 0 0 0 6 0 3 0 2 1-17 1 4 0-4 1 3 0 15 0 1 0 2 0-16 1 4 0 6 0 3 0-17 1 6 0 6 0-10 1 3 0 1 0 3 0-8 1 7 0 2 0 1 0 5 0-16 1 5 0-6 1 1 0 5 0 4 0 7 0 4 0 0 0 13 0 6 0-16-1 6 0 0 0 1 0 2 0-8-1 9 0-8-1 9 0 3 0-7-2 3 0 5 0-15-1 0 0 11 0 1 0 2 0 5 0 3 0-18-1-2-1 1-1 12 0 4 0-9-1 8 0-13-1 9 0 5 0-19-1 4-1 11 0 3 0 0 0-13-1 6 0 6 0-17-1 18 0 0-1-7-1 0 0-7-1 10-2 6 0 0 0-20-1 2-1 5 0 0 0 0 0 1 0-3-1 18 0 0 0 0 0 2 0 22 0-4 1-12 1 3 0 1 0 4 0 8 0-6 1-1 1 3 2-18 1 3 1-4 1 23 0-20 1 11 1-14 1 12 0-1 1-2 1 4 0-5 2 10 0 3 0-16 1 17 0-22 2 6 0 15 1-20 1 17 0-15 1 2 0 14 0-18 1 7 0 1 0 7 0 0 0 4 0 2 0 2-1 15-1 7-2 1 0-21-4 15 0-12-2 14-2-14-1 7 0 6 0-15-1 3 0 4 0 2 0 1-1 5 0-3-1 7-2-6-1 4 0-15-1 12 0-1-2-15-1 24 5 5 1 1 0 1 2 5 1 7 4-15 4 1 1 12 1 1 3 17-2 3-6 1-2-11-4 1-3 0-2-2-2 28 5 14 1-7 8-8 6 26-14 16-1 31 0 39 12-81 19-24 10-3-9-5-3 3-4-25-5-7 1 2 0-2 8 2 0-1 2 7 0-1 8-25-6 0 0-5-2 5-2 12 0-1-1-7-1-4-1 2 0 10 0-8-3 2-2 9 0-12-2-32 1 6 0-5 1 0 0 15 1 3 0-14 1 4 0 11 1-15 1 5 0 0 1 2 0 4 0-3 1-12 1 7 0 2 0 11 0-16 1 16 0-6 1-2 1-14 2 5 1 17 2 0 1-16 3 9 1-37 0 13 0-11-1 10 0 8-1-9-1-1-1-8-3 10-1 4 0 3 0-16-2 14 0 1 0-3-1-18-2 11-1-7-1 11 0-9-2 12 0-12-1 4 0 13 0 0-2-13-1-10-1 11 0 3 0 0 0-7-1 3 0-19 0 5 0-14 1 11 0 1 0-11 1 8 0 5 0-9 1 11 0-14 1 5 0-3 1-9 1 13 0 9 0-23 1 8 0-5 2 8 0 12 0-2 1 1 0-12 2 3 0 4 0 0 0 3 0-16 1-1 1 4 1 8 0-5 1-5 1 2 0 1 0-8 1 23 0-3 1-20 1 4 0 3 0 12 0-15 1 17 0-4 1-40 0 8 0-4-2 13 0 3 0-10-1-9-1 2 0 9 0-10-1 5 0 1-1 9 0-10-1-5-1 3 0 4-1 0-1 4 0 0 0 2 0-10-1 1 0 6-1 5 0-16-1-2-1 0 0 22 0 1 0 0 0-16-1 9 0 7 0-18-1 14 0-12-1 2 0 10-1-18-2 6 0 3 0 11 0-16-1 13 0-16-1 0 0 3 0 11 0-37 0 0 0 4 0 3 0-7 1 1 0 11 0 7 0-17 1 0 0-1 1 3 0 0 0 4 0 0 0 6 0 0 0 6 0-4 1-17 1 3 0 3 0-7 1 3 0 3 1 3 0 9 0 4 0-14 1 1 0-9 1 2 0 0 1 3 0 13 0-7 1 4 0-14 1 3 0 0 0 6 0 0 1 8 0-16 1 0 0 18 0-19 1 12 1 2 0-7 1 6 0 6 1 2 0-19 1 12 1-14 1 3 0 7 0 8 0-10 1 2 1 3 0 6 0-41 0 14 0 0 0 3 0-9-1 4 0 0 0-3-1 3 0 0 0 7 0 0 0-22-1 6 0 11 0-17-1 14 0 7 0-20-1 10 0 11 0-13-1 0 0-2-1 3 0 0 0 10 0-16-1 4 0 3 0 4 0 7 0-21-1 11 0-3-1 4 0 4 0-17-1 4 0 0 0 3 0 8 0-14-1 4 0 6 0 11 0-16-1-7-1 0 0 0 0 4 0 3 0 4 0 0 0 0 0 1 0 3 0-14-1 0 0 15 0 7 0-13-1 3 0 4 0 4 0-2-1 3 0-22-1 6 0 2 0 11 0-18-1 5 0 6 0 4 0-14-1 0 0 4 0 4 0 7 0 4 0-18-1 4 0 3 0 1 0-11-1 12 0 3 0 2-1-41 0 0 0 13 0 0 0-9 1 0 0 2 0 6 0-9 1 8 0 9 0 3 0-22 1 0 0 5 0 2 0 6 0 0 0 8 0-22 1 0 0 9 0 4 0 0 0 4 0 5 0-2 1 2 0-20 1 1 0 0 0 4 0 0 0 0 0 0 0 16 0-5 1 0 0 4 0 0 0-13 1 5 0 3 0 4 0 0 0-16 1 7 1 3 0-13 1 16 0 0 0 4 0-21 1 4 0 16 0-21 1 16 0 0 0-5 1 0 0 3 1 4 0-17 1-1 1 8 0 4 0 11 0-21 2 8 0 0 0-5 1 4 0 4 0 0 0 4 0 0 0-16 1 3 0 4 0 15 0-20 1 0 0 12 0 7 0-19 1 0 0-26 0 13 0 5 0 3 0-21-1 1 0 0 0 4 0 0 0 0 0 1 0 8 0 8 0 0 0-16-1 0 0 5 0 0 0-4-1 0 0 0 0 9 0 4 0-21-1 9 0 9 0 4 0-21-1 14 0 8 0-16-1 4 0 5 0-8-1 0 0 4 0 1 0 3 0 1 0 4 0-17-1 0 0 5 0 0 0 5 0-13-1 0 0 0 0 9 0 8 0 1 0 4 0 0 0-22-1 0 0 1 0 4 0 1 0 4 0 4 0 0 0 5 0-18-1 10 0 8 0-16-1 4 0 1 0 4 0 0 0 4 0 0 0 4 0 1 0 0 0-22-1 9 0 5 0 0 0-13-1 4 0 0 0 1 0 0 0 4 0 9 0-17-1 5 0 9 0-13-1 4 0 6 0 8 0 0 0 0 0 1 0-9-1 5 0-18-1 5 0 5 0 0 0 4 0-8-1 9 0 0 0 7 0-15-1 0 0 9 0-13-1 5 0 4 0 5 0 5 0-13-1 9 0 0 0 0 0 1 0-14-1 0 0 5 0 4 0-36 0 0 0 11 0 0 0 0 0 1 0 0 0 4 0 1 0 3 0 1 0 0 0-22 1 6 0 5 0 0 0 0 0 0 0 6 0 5 0 0 0-22 1 5 0 0 0 5 0 0 0 5 0-5 1 2 0 3 0 5 0-17 1 0 0 6 0 5 0 1 0 4 0-17 1 0 0 11 0 0 0 5 0-12 1 11 0 0 0 0 0 5 0 0 0-22 1 11 0 5 0 0 0 5 0 0 0-22 1 0 0 0 0 10 0-5 1 4 0 11 0 0 0 0 0-17 1 1 0 0 0 5 0 10 0-17 1 1 0 0 0 5 0 0 0 0 0 10 0 5 0 0 0-22 1 6 0 5 0 5 0-16 1 0 0 5 0-1 1 5 0 0 0 0 0-7 1 1 0 15 0 0 0 0 0-19 1 13 0 0 0 0 0 5 0 0 0-11 1 5 0 0 0 0 0 5 0 4 0-16 1 5 0 1 0-11 1 0 0 0 0 0 0 5 0 5 0 5 0 5 0-16 1 5 0 5 0 9 0 0 0 0 0-10 1 0 0 0 0-11 1 5 0 2 0 3 0 0 0 5 0 2 0 2 0-20 1 10 0 0 0 0 0 0 0 5 0 0 0 4 0 0 0 1 0-42 0 6 0 10 0-15-1 1 0 10 0 0 0-15-1 0 0 5 0 1 0 5 0 0 0-11-1 1 0 5 0 6 0 10 0-15-1 6 0 0 0 5 0-16-1 1 0 0 0 5 0 0 0 11 0 1 0-16-1 5 0 0 0 6 0-12-2 8 0 0 0 1 0 5 0-17-1 0 0 1 0 17 0 5 0-22-1 6 0 12 0-17-1 6 0 12 0-16-1 17 0 0 0-17-1 12 0-16-1 5 0 0 0 1 0 0 0 16 0-22-1 0 0 6 0 1 0-5-1 0-1 1 0 12 0-6-1 1 0 5 0 0 0 1 0 0 0 5 0 1 0-18-1 0 0 12 0 0 0 1 0-12-1 0 0 0 0 1 0 0 0 6 0 5 0 0 0-17-1 6 0 0 0 6 0 6 0 2 0-19-1 6 0 1 0 11 0-18-1 1 0 12 0 1 0 5 0 0 0-42 0 3 0 0 0 1 0 6 0 0 0 7 0 0 0-14 1 3 0 3 0 0 0 1 0 6 0-15 1 0 0 0 0 11 0 4 0-9 1 1 0 0 0 6 0 0 0 7 0-22 1 1 0 6 0 1 0 0 0 0 0 6 0 0 0 0 0 0 0 1 0 6 0-22 1 21 0 0 0-21 1 0 0 0 0 6 0 7 0 1 0 9 0-11 1 7 0-15 1 0 0 1 0 7 0 0 0 5 0 1 0-15 1 1 0 6 0 6 0 1 0 0 0-15 1 1 0 0 0 6 0 7 0 0 0 6 0 0 0 0 0-21 1 1 0 0 0 3 0 3 0 1 0 12 0-21 1 1 0 7 0 0 0 6 0-11 1 4 0-1 1-2 1 7 0 0 0 7 0-15 1 1 0 0 0 6 0 0 0 0 0 6 0-14 1 13 0 0 0-14 1 0 0 7 0 6 0 0 0 7 0-8 1-10 1 2 0 1 0 6 0 0 0 0 0 7 0 0 0-14 1 0 0 0 0 18 0 0 0-20 1 7 0 0 0 10 0 2 0-20 1 1 0 0 0 18 0 0 0 0 0 0 0 1 0-40 0 8 0 6 0-13-1 1 0-7-1 8 0 0 0 7 0 0 0 3 0 3 0 1 0-21-1 0 0 0 0 4 0 10 0 1 0 0 0-14-1 0 0 7 0 0 0 1 0 0 0 6 0 0 0 0 0-5-1 0 0 6 0 1 0-14-1 0 0 1-1 0 0 0 0 14 0 0 0 1 0 0-1-21-1 8 0 7 0-6-1 8 0 6 0 0 0-13-1 7 0-6-1 7 0 1 0 0-1-14-1 0 0 0 0 4 0 12 0-15-1 0 0 0 0 0 0 8 0 7 0 1 0-22-1 0 0 7 0 15 0 0 0 0 0 0 0 1 0-23-1 0 0 0 0 1 0 8 0 0 0 7 0 7 0-21-1 7 0 0 0 1 0 7 0 0 0 0 0-14-1 7 0 8 0 0 0-14-1 8 0 7 0 0 0 0 0-6-1 7 0 0 0-15-1 1 0 0 0 0 0 7 0 8 0 0 0-15-1 8 0 0 0 0 0 0 0 8 0 0 0 1 0-43 0 1 0 17 0-19 1 1 0 8 0 9 0 0 0 0 0-9 1 0 0-1 1-10 1 8 0 0 0 1 0-2 1 1 0 8 0 0 0-10 1 9 0-9 1 0 0 3 0 5 0 0 0-9 1 0 0 5 0 3 0 9 0-19 1 0 0 0 0 9 0 0 0 0 0 1 0-11 1 1 0 8 0 0 0 8 0 1 0-18 1 8 0 8 0-17 1 9 0 7 0-14 1 5 0 0 0 1 0 7 0 0 0 1 0-2 1 1 0-10 1-1 1 16 0 0 0-17 1 9 0 0 0 7 0 1 0 0 0-17 1 3 0-5 1 8 0 1 0 0 0 7 0 0 0-17 1 0 0 8 0 1 0 7 0 1 0 0 0-18 1 0 0 0 0 9 0 7 0 0 0 0 0-17 1 0 0 1 0 7 0 12 0-12 1-17 0 0 0 0 0 8 0 0 0-17-1 0 0 2-1 9-1 1 0-18-1 0 0 0 0 9 0 1 0 9 0-18-1 5 0 5 0-9-1 10 0 8 0-17-1 10 0 4 0 5 0-18-1 0 0 0 0 0 0 0 0 10 0 9 0-18-1 0 0 12-2 0 0-9-1 0 0 10 0-14-1 5 0 0 0 10 0 1-1 0 0-19-1 0 0 19 0 0 0 1 0-9-1 2-2 9 0-8-1-9-1 0 0 10 0 0 0 0 0-9-1 3 0 7 0 3 0-12-1 0 0 0 0 0 0 10 0-9-1 0 0 0 0 10 0-43 0 12 0 0 0 0 0 0 0 11 0-12 1 11 0 0 0-13 1 0 0 0 0 0 0 11 0 1 0-18 1 5 0 11 0-12 1 1 0 11 0-12 1 11 0-12 1 10 0-12 1 11 0 1 0-13 1 6 0-7 1 0 0 6 0-7 1 0 0 12 0 5 0 5 0 0 0-22 1 10 0 0 0 1 0 10 0-22 1 0 0 0 0 10 0-1 1 11 0-12 1 1 0 0 0 10 0 0 0 0 0-17 1 5 0-1 1 11 0 0 0 0 0-12 1 1 0 4 1-7 1-1 1 0 0 1 0-2 1 0 0 1 0 10 0 10 0-21 1 10 0 0 0-1 1 0 0 10 0-44 0 1 0 5 0 7 0 10 0 0 0-22-1 12 0 6 0-4-1-12-1 1 0 1-1 0 0 0 0 11 0-9-2 1-1 5 0 1-1 6 0-15-2 17 0 0 0-17-1-5-1 12 0 1 0-12-1 0 0 0 0 0 0 13 0-12-1 1-1 13 0 0 0 0-1-11-1 13 0 0 0 1-1 0-1 0 0-11-1 0 0 0 0 0 0 13 0-12-1 1-1 1-1 0 0 12 0-40 0 0 0 15 0 0 0-16 1 0 0 0 1 14 0 0 0 0 0-16 1 14 0-15 1 0 0 14 1 0 0-16 1 1 0 0 0 13 0 1 0 0 0-16 1 14 0 0 0 1 0 0 0-2 2 0 0-3 2 1 0-1 1-2 1 0 0 1 0 0 0 0 0 13 0 0 0 0 0-14 1 13 0-15 1 0 1 0 0-1 1 13 0-14 1 13 0-15 1 1 0 12 1 0 0-1 1 0 0-14 1 0 0 13 0-1 1 1 0 6 0-35 0 0 0 0 0 1 0 2-3-6-1-5-3 0 0 0-1 16 0-14-2 1 0 0 0 15 0-15-1 1 0 1-1 9-1 8-1-15-1 1 0 8 0-6-2 7 0-7-1 2-1 0 0 0 0 0 0 1-1 0 0 2-3 0 0 0 0-35 0 19 0 0 0 0 0-2 1-19 1 19 0-5 4 0 0-10 1 9 0-1 2-1 1-2 1 0 0-9 1 8 0 1 0-1 1-2 1 15 2 0 0-18 1 0 0 17 1-18 1-1 1 0 0-2 1 1 0 17 0 0 0-10 1-28 1 2-2 0 0 1 0 2-3 2-2 3-3-15-5 22-1-21-1 0 0 1 0 21 0-17-4 0 0 0-1-21-1-1 1-2 2-1 1-4 3-1 1 23 1-2 1 0 0 1 0-3 3 0 0-2 2-2 2-12 1 6 4 1 0-23 0 1-1 0 0 1-1 1-2 2-1 4-4 1-1 0-1 1 0-22-4 0 0 1-1 1-1 2-2 0-1 2-1 0 0 1-1 0 0-9 8 1 0 0 0 0 0-2 1 1 0-8 7 0 1-4 4-2 2-29-2 1 0 4-4 3-4 3-3 3-2 3-3-31-5-2 2-3 3-11 11-29-14-9 9 0 0-4 4-3 2-1 1-42-13-120 41 90-11 8-8 52 4-7 7 41 3 12-12-1 1 25 10 2-3 7-6 29 0-10 11-5 4 30-3 7-7 2-2 0-1-22-3 1-1 1-1 2-2 0-1 27 0-3 3-1 1-3 3-1 1 23 0-6 5-5 6-4 3 23-2 1-1 4-4 7-7 1-1-19-1 1-1 21-1-8-2-7-3 20 0 19 0-20 1 19 0-20 1-2 2 16 2 1 0-4 4-4 3-2 3 16 0-19 2 1 0 16 0 1 0 0 0 0 0-19 2 15 1 1 0 15 0 5-5-14-1 7 0-6-1 0 0 20-5-15-1 0 0 3-2 2-2-2-2 5-2 15 1 0 0 0 0-3 3 14 1 0 0 0 0-16 1 15 0-1 1-4 4-3 2 0 0 14 0 0 0-14 1 0 0-3 3-1 1 13 0 0 0-1 1 0 0-1 1 0 0-3 3 12 0 1-1 14-2 0 0-10-1 11 0-10-1 13-2-10-1 13-1 0 0-12-1 2-1-12-1 14-1-12-1 13 0-12-1 0 0 12 0-11-1 13 0-12-1 1-1 1-1 5 0 7 0-10-2 12 0-10-2 0 0 12 0 23 0 1 0-2 1-12 1 0 1 0 0 0 0-2 1 0 1 10 0 1 0-13 1 0 0 0 0 0 0 10 1-2 2 0 0 9 2-11 1 10 0-12 2 8 2 0 0 0 0-11 1-2 1 11 0-6 1-7 1 11 0-11 1 20 0-22 1 0 1 0 0 20 0 9 0 2-1 0-1 10-1-17-1 9 0 9 0 1 0 0 0 0-1 1 0-18-1 10-1 9 0-17-1 18 0-17-1 0 0 18 0-17-1 9 0 0 0-8-1 0 0 9 0 1 0-9-1 10 0 0 0-9-1 0 0 10 0-9-1 9 0-18-1 10 0-9-1 10 0 9 0-8-1 0 0 1-1-9-1 1-1 1-1 0 0 1-1 15 0-14-1 10 0 0 0 10 0 17 0 0 0-19 1 0 1 8 0 1 0 8 0 0 0-1 1-18 1 9 0 8 0 1 0 3 0-13 1 9 0-11 1 1 0 0 0 9 0-12 2 0 0 0 0 1 0 16 0 0 0 1 0 0 0-19 1 1 0 17 0 0 0-18 1 8 0-10 1 9 0-3 3-1 1 6 2 9 0-3 2-17 1 8 0-1 1-8 1 15 0-1 1 0 0 22 0 7 0-20-1 14 0 0 0-13-1 11 0 4 0-3-1 4 0-7-1-6-1 1-1 7 0 1-1 1-1 1 0 6 0 1-1-21-1 0 0 1 0 8-1-6-2 8 0 7 0 1 0 0 0-15-1 8 0 1-1 7 0 1-1-13-1 7 0 7 0-21-1 8 0 7 0 0 0-15-1 0 0 9 0 7 0-15-1 8 0 1 0 0 0 4 0 3 0-15-1 1 0 7 0 0 0 1 0 0 0 7 0-7-1 0 0 0 0 8 0 0 0-14-1 0 0 15 0 7 0 0 0 0 0 7 0 7 0-15 1-1 1 14 0-15 1 21 0-22 1 13 1-9 2 0 0 7 0 6 0 1 0-7 1-2 1 7 0-15 1 7 0 7 0-15 1 20 0-1 1-1 1 0 0 0 0-14 1 7 0-1 1 6 0-14 1 0 0 7 0 6 0-7 1 12 0 1 0-21 1 7 0 0 0 12 0 0 0 1 0-14 1-1 1 0 0 6 0 0 0 7 0-8 1-7 1 34 1 0 0 6-1-20-1 16 0-15-1 11 0 10 0 1 0-16-1 7-1 6 0-5-1-5-1 6 0 5 0-4-1-5-1 5 0 1 0 5 0 0 0-15-1 5 0 6 0-16-1 5 0 0 0 12 0-17-1 0 0 7 0 1-1 5 0 6-1-15-2 1-1 0 0 1 0 6 0-12-1 6 0-3-2 0 0 5 0 1 0 0 0 5 0 6 0 0 0-23-2 1 0 0-1 13 0 0 0 6 0 6 0 5 0 1 0 0 0 6 0 5 0 0 0 4 0-22 1 0 0 11 0 1 0 5 0-17 1 5 0 0 0 0 0 5 0 0 0 6 0 0 0-1 1 0 0-13 2 5 0 6 0 9 1-22 1 0 0 11 0-12 1 0 0 0 0 11 0 10 0-17 1 5 0 1 0 5 0 5 0 3 1-20 1 10 0-1 1 4 1 5 0 0 0-21 1 5 0-2 1 1 0 10 0 5 0-17 2 0 0 9 0 1 0 10 0 0 0-16 1 9 1 4 0 0 1 4 0-20 1 10 0 4 0 1 0-11 1 10 0-17 1 1 0 5 0 9 0 10 0 4 0 17 0 1-1-7-1 0 0 4 0-7-1 0 0-8-1 13 0 4 0-16-1 14 0-18-1 14 0 0 0-13-1 0 0 1 0 4 0 0 0 4 0-12-1 9 0 4 0 5 0 4 0-22-1 9 0 1 0-8-2 1 0 14 0 4 0-18-1 18 0-7-1 0 0 0 0 0 0-8-1-5-1 1 0 18 0 0 0-8-1 10 0-15-1 2 0 9 0 4 0-22-1 8 0-7-1 0 0 14 0 5 0 0 0 0 0-18-1 0 0 5 0 14 0-9-1 1 0-10-1 6 0 4 0 0 0-13-1 5 0 9 0 1 0 4 0 5 0 17 0-13 1 4 0 8 0-9 1 8 0 8 0-17 1 8 0 0 0-13 1 8 0 12 0 1 0-18 1 0 0 16 0 0 0-17 1 9 0 3 0 0 0 1 0 0 0 7 0-21 1 0 0 4 0 0 0 9 0 3 0-17 1 12 0 7 1-9 1 1 0-6 1 5 0-2 2-1 1 7 0 1 0 3 0 4 0 0 0-9 1 1 0 7 0-21 1 4 0 5 0 7 0-12 1 17 0-19 1 1 0 7 0 0 0 0 0 4 0 0 0-5 1-1 1 0 1 3 0-12 1 3 0 4 0 15 0-4 1 0 0 22-1 0 0-16-2 0 0 2-1 10 0 6 0 3 0-12-1 3 0 4 0 3 0-2-1-17-1 5 0 13 0-17-1 14 0-7-2 3 0-1-1 1 0-5-1 0 0 3 0 11 0-17-1 0 0 0 0 11 0-10-1 0 0 4 0 3 0 6 0 1 0-9-1 8-1 4 0-21-1 3 0 7 0 13-1-22-1 4 0 0 0 4 0 10 0 2-1-14-1 15 0 15-2 0 0 7 0 3 0-22 2 7 0-7 1 13 0 3 0 3 0 0 0-20 1 2 0 4 0 10 0-10 1 11 1-8 1-7 1 0 0 4 0 6 0 3 0-8 1 1 0 6 0 6 0 0 0-20 1 16 0 3 0 4 0-15 2 3 1 1 2 2 0 9 0-16 1 4 0-11 1 6 0 6 0 4 0 2 0 3 0-19 1 2 1 15 0-16 1 16 0-16 1 5 0-7 1 6 0 3 0 6 0 14 1 2 0 10 0 0 0 0 0-9-1 5 0 7 0-8-1 2 0 8-1-5-2 3 0-14-2-4-2 7-2 6 0 3 0-16-1 6 0-8-1 3 0 1 0 7 0-4-1 6-1 3 0 3 0-16-1 3 0 3 0 3 0 6-1-9-1-8-1 8 0 0 0 0 0 9 0-15-2 1-1 5 0 9 0-17-1 0 0 6 0 3 0 15 0 13 0 7 0-19 1 10 0 6 0 4 0 0 1-21 1 8 0-1 1 5 1 5 1 1 1 0 0-19 1-1 4 9 1 4 1 2 0-8 1 15 0-11 1-2 2 6 1 5 0-8 1 5 0-11 1-2 2 23-2 2 0 13 0-18-2 17 0 0 0 4 0-1-1-20-1 7 0 2-7 9 0-18-2 9 0-3-1-6-1 3-1 20 0-9-2 7 0-8-1 8 0-1-2 0 0 19 1-13 1 4 0-6 4 16 0-10 1 1 2 8 2-15 1 18 0-1 3 1 1 1 3-18 2 6 0 5 0 30 2-7-3 3-2 7-3 1-1-19-1 13-1 7 0-14-3 0 0 6-3-9-1-1-2 0-1 1 0 2-2 17 2 6 0 0 0-5 3 0 1 7 6-8 1 15 9 29 1-20-9 26-7-3 9 36-3 34-6 19 14-16 25-31-22-25 1-41 4 17 1-62-3-1 12-2 6 1 2-14-2 3 0-12-3 15-2-10-6 7-1 7 0-5-2-16-2 1 0 6-4 2-1-29 0 5 3 11 3-9 1-1 3 4 2-9 3 6 2 9 0-18 3 10 1-19 2-5-3 9-1-5-1-13-2-3-1 7 0 14-2 2 0-5-1-8-1 1 0 10 0-1-1-19-1 22-2-21-3 4 0 5 0 4 0-11-2 16-1-32-1 5 0-10 2 12 2 2 0-6 1 2 1 6 0-18 1 16 1-9 2-2 2 2 1-10 2 5 0 1 0 12 1-10 1 9 1-3 5-27 0-11-2 3 0 4-1-8-1 7-1 3 0-10-2 0 0 2-2 7-1 5 0-7-1 6-1 1 0-2-1 3 0 0 0-2-1-5-1-8-1 1 0 2 0 0 0 15 0-19-1 8 0-5-1 19-1-11-1-10-1 6-1 1 0-26-1 14 0-1 1-12 2 0 0 3 0-8 2 10 0-6 2 2 1-7 1 19 1-20 1 8 0 6 1-10 1 11 2-14 1 8 1 3 0-10 1 1 2 6 0 3 0-7 1 0 0 7 0-1 1 2 0 3 0 0 0-39 1 1-4 9 0 4 0-1-2-10-1 7 0-6-1 5-1-10-1 4 0 3 0 8 0 7 0-21-1 1-1 0 0 4 0 14 0-5-2 3 0-17-1 11 0 10 0 1 0-23-2 14 0 0 0-2-1 3 0 7 0-5-1 3 0-18-1 8 0 2-2-11-1 5 0-25 0 8 0 9 0-19 1 13 0 4 0-9 1-10 1 9 0 0 0 3 1 9 0-15 2 0 0 0 0 12 0-13 1-1 1 12 0 4 0-12 1-1 5 3 1 4 0-13 1 3 0 4 1 2 1 4 0-14 2 4 0 8 0 0 0 6 2-5 1 3 0-40 0 4 0 9 0-13-1 10 0 1 0 3 0 4 0-3-1 0 0-12-1 0 0-3-1 4 0 17 0-12-1 3-2-13-1 5 0 4 0-3-1 13 0 4 0-21-1 14 0-4-1-8-1 5-1-8-1 0 0 5-1 10 0 0 0-3-1 4 0-17-2 11-1 4 0 0 0-13-1 5 0 9 0 5 0-13-1 14 0 0 0-9-1 10 0 0 0-44-1 0 0 0 0 5 0 5 0-12 1-1 1 0 0 6 0 5 0 0 0 6 0 5 0-13 2 6 0-7 1 5 1 4 0 1 0-7 1 1 0 10 0-22 1 0 0 10 0 11 0-1 1 0 0 0 0-6 1-6 1 15 0-17 1-5 1 0 0 4 0 10 1 5 0-11 1 5 0 0 0-11 1-1 1 18 1 0 0 2 3-11 1 4 1 6 0-36 0 0 0 0 0 10 0-19-2 21 0-4-1-4-1-4-2 0 0 12 0 0 0 0 0-5-2 6 0-10-1 6 0-15-2 6 0 5 0 5 0 2-1-16-2 1 0 17 0-5-1 0 0-9-2 11 0 1 0-12-1-5-1 18 0 0 0-10-1-12-1 6 0 0 0 1 0 6 0 0 0 0 0-25-2-8 1 1 0 0 0 7 0 7 0-15 1 6 0 1 0 7 0-2 1 1 0 6 0-8 1 0 0-9 2 7 0 6 1-15 1 0 1 0 0 13 0 5 1 0 0-21 1 21 0-22 1 7 0 13 1-9 2-7 1 6 0 0 0 6 0-2 2 6 1-15 2 13 0-1 1 5 0-20 1-13 0 7 0 0 0-12-2 8 0-12-3 8 0 6 0-13-1 7 0 1-1 0 0 7 0-5-2-13-1 14 0 1-1-12-2 7 0 7 0-5-1-8-1 8 0 0 0-5-2 0 0-8-1 16 0 1-1 4 0-19-1 1-1 2-1 7 0 1 0 0-1 8 0 0 0-41 0 8 1 8 0-2 2 0 0 0 0 0 1-19 1 8 1 9 0-11 1 1 0-1 1 7 1-3 3 8 0 0 1 1 2 1 0 2 1-18 2 6 2-3 3 1 0 8 0 7 0 0 0-41-1 1 0 9 0-8-1-8-2 9 0 1-1-8-1 10 0 1-2 1-1-8-1 14 0-3-2-15-4 0 0 10 0 0 0 9 0-18-1 11-1 1-1-9-1 10 0 1-1-9-1 10 0-21 0-12 2-1 1 11 0-17 6-2 1 10 2 10 0-3 3 0 0-11 1 9 1 8 2-1 1 0 0-22 1 20 1-43 0 14-2 0-1-9-2 14-3-10-1 13-1-11-2-11-1 14-1 0-1-11-1 1-1 13 0-12-1 0 0 17-4-12-1 0 0-16 2-15 1-1 1 14 0-1 1-5 5 1 0-2 2 6 0-9 2 14 0-1 1-3 3-16 2-16 2 2-2 2-2-10-5 0-1 16 0 1-1 1-1-14-1 1-2 4-3 0-1 1 0 0-1 1 0 0 0 7 0-5-2-19 1-2 3-4 4-6 5-9 1 9 0 0 0 9 8-20-16 1-1-19-2 2-1 0-1-11 11-1 2-3 3 0 0-5 4-2 2-15-7 2-2 2-2 1-2-21-5 1 0 3-4-16 17-56-10-4 5-44 0-70 14 40 16 126-17 26 0 2 20 37-16-16-5 2-1 36 2-20 3 18 0-9 9 34-2-7-9 14 2 13 1-15 1 11 4-2 2 7 6-2 2 24 0 3-3-4-8-11-1 17-4 1-2 15-3 11 1 1 9-14 3 0 1-4 3 34 6 3-3-18-1 19-1 3-2 1-1-8-1 8 0-16-2 3-3-9-1 20-1-18-1 43-6-6 6 7 1-9 1-1 1 9 0-18 1 8 0 0 0 8 0-12 4-1 1 0 0-4 4 28 3 0 0 1 0 6 0 7 0-5-1 6 0-10-4 7 0-11-3 0 0-4-4 8 0 1-1 7 0 1 0-21-2 2-2 7 0-6-1 32-2 6 0 1 0-2 1 5 1-21 1 8 0 10 3 5 1-18 5 4 3 11 1 0 0 1 0-4 3-8 2 6 0 32-3-16-1 2-2 6 0 6-1-21-2 12 0-3-3-4-1 11 0 6 0-3-2-18-1 1-1 7 0 6-1 1 0 5 0-16-2 13 0-12-1 12 0-11-1 12 0 1 0-6-1 12 0 5 1 10 0 5 0-6 1 1 0-8 2 11 0 0 0-7 1 1 0 5 0-6 1-2 1 0 1 6 4 5 0 0 5-1 1-17 2 13 2-6 1 35 0-11-1-5-4 14-1-20-2 4 0 10 0-13-1 0 0 18 0 4 0-17-1 13-3-8-2-9-1 15 0 0 0 5 0 0-1 1 0-9-1-13-1 14 0 3-2-14-1 14 0 5 0 1-1 13 0 8 0-5 5 5 0-3 2 0 1-6 1-9 1 0 0 12 0-2 3-4 3 13 3-5 1-17 1 2 0 1 2 33 0 7-1-15-2 15-2-7-2 2-2 6 0-20-1 4 0 4 0-7-1 5-5 11-1 0 0-17-1 6-2-2-1 11 0-15-1 8 0 0 0-7-1 16 0 10 0 10 0-11 1 11 0-9 2 16 0-18 1-1 1 10 1 7 2 3 0-7 1 4 2-9 3 1 3-10 3 19 0-1 3 11 0 3 0 0 0 14-4-21-1 21-4-12-1 0-3 4-1 6 0-1-5-8-1 1-1-5-1-7-1 27 3 3 0-5 6 11 1 8 4 0 3 1 0-16 1 3 1-4 4 28-1 4 0 10-2-21-6 12-3-8-1 17-2-14-4-3-1 9 0-9-3 26 1 2 0-7 1 6 0-3 1 14 0-11 2-3 4-3 3 11 1 6 0-5 1-7 3 35 5-11-2-1-6 10-5-4-6 5-1-15-2 21 0 47 22-9-12-8-8 42 3 5 0 5-2-20 24-48 19-1-11-29-8-27 20 10 0 6-5-10-10 4 0-3-4-26 3-3 5 2 8 11 3-29-5-11-3-3-2 3-6 2-2 13-4 0 0-30-1 4 8 0 1-15 2 15 0-23 11-12-2 4-18 13-2-33 4 4 3-11 3 4 0 8 1-17 1 0 1 18 1-12 2-7 4 14 1-24 2 8-1-2-5-9-1-5-2 5-1 4 0-4-8-10-1 1-4 11 0-37 4 9 0 5 0-14 1 12 0 8 0-13 1 4 0 0 0-6 2 12 0-17 1 19 1-17 1 4 4 2 2 4 5-22-3 3-4 5 0-14-4 0 0-8-1 15-1 0 0 4-4-9-5-30 1 8 0 10 6-14 3-1 2 14 1-17 1-3 4 5 0 10 5-31 0 5 0-4-1-3-3 9-8 0-1 1-1 6 0-14-3 12-1 1-1-11-4 4 0-20 0-19 6 22 4-1 1 0 0-9 3-3 2 6 1-12 6-12-1 7 0-12-3 1 0-10-5 16-2-13-1-2-6 8 0 8-1-21-3-3 3-7 3 2 2 1 0 7 1-19 1 7 2 8 1-4 4-9 1 5 2-28-7 9 0-5-4 2-2 2-2 9 0-34-6-6 6-1 12 8 2-13 3 10 0 10 0-41-15 16-4-11-1 2-2-30 2-28 13 15 0 4-4 3-3-15-1-12-4-6 6-2 1-6 6-25-13-10 10-157-1-8 8 117 17 3-3-15-11 64 6 39-3 15 0 22 6 34-9-5 16 35 3-13-5 5-5 36-1-6 7 25 4 1-1-6-7 1-2 29-7 3 3-11 4 11 8-14 2 38 3-21-2 18-7 2-7 1-1 12-1 3 2 5 1 14 10 0 0 16-3-1-4-12-1 13-3 18-6-16 3 5 4 4 4 11 5 1 6 12-4 4-8-9-10 33 6 30 12 0-10-14-5-6-1 28 0 4 2 6 2-11 1 8 0-1 5 12 1 15-2 2-4-6-5 23 0-7 9 10 4-2 4-6 4 32 0 31-17-14 4 2 5 4 1 62-13 67 32-48-8-81 18-12-18-44 20 13-20 4-1-21-2-12 4-52 15 5 2-23-18-17-2-24 15-19-7 13-2-37-2 14 2-27 13-9-17-11 11-35 8-46-6 9-2-6-1-60-12-13 2 2 9 13 8-34 2-139-7 91 31 33-21 39 5 60 13 42-17 16 11 22-12 20 3 3 1 10 11-7 6 36-22 20 1-9 22 30-14 9-3 19 13 29-4 38 3 24-10 255 31-30 0 7 0 12 0 4 0-39 0 5 0 1 0 5 0-43 0 0 0 1 0 0 0 1 0 0 0 1 0 0 0 2 0 1 0 0 0 2 0 1 0 2 0 6 0 5 0-46 0 0 0 1 0 1 0 0 0 1 0 0 0 0 0 0 0 0 0 1 0 0 0 0 0 1 0 1 0 0 0 1 0 0 0 0 0 0 0 1 0 0 0 1 0 1 0 1 0 0 0 1 0 0 0 0 0 1 0 0 0 0 0 0 0 1 0 0 0 2 0 0 0 0 0 1 0 2 0 0 0 1 0 2 0-46 0 0 0 0 0 1 0 0 0 0 0 1 0 0 0 0 0 1 0 0 0 0 0 1 0 0 0 0 0 1 0 0 0 0 0 1 0 0 0 0 0 1 0 0 0 0 0 1 0 0 0 0 0 1 0 0 0 0 0 1 0 0 0 0 0 1 0 0 0 0 0 1 0 0 0 0 0 1 0 0 0 0 0 1 0 0 0 0 0 1 0 0 0 0 0 0 0 0 0 0 0 0 0 1 0 0 0 0 0 0 0 1 0 0 0 0 0 0 0 0 0 0 0 0 0 1 0 0 0 0 0 0 0 0 0 1 0 0 0 0 0 0 0 0 0 0 0 0 0 0 0 1 0 0 0 0 0 0 0 0 0 1 0 0 0 0 0 1 0 0 0 0 0 0 0 1 0 0 0-38 0 0 0 0 0 1 0 0 0 0 0 1 0 0 0 0 0 1 0 0 0 0 0 1 0 0 0 0 0 1 0 0 0 0 0 1 0 0 0 0 0 1 0 0 0 0 0 1 0 0 0 0 0 1 0 0 0 0 0 1 0 0 0 0 0 1 0 0 0 0 0 1 0 0 0 0 0 1 0 0 0 0 0 1 0 0 0 0 0-106-7-120 0-31-2-63 6-9-1-24 8-32-12-5 5-12 8-99-18-266 13 0 0 0 0 1 0 0 0 0 0 1 0 0 0 0 0 1 0 0 0 0 0 1 0 0 0 0 0 1 0 0 0 0 0 1 0 0 0 0 0 1 0 0 0 0 0 1 0 0 0 0 0 1 0 0 0 0 0 1 0 0 0 0 0 1 0 0 0 0 0 1 0 0 0 0 0 1 0 0 0 0 0 1 0 0 0 0 0 1 0 0 0 0 0 1 0 0 0 0 0 1 0 0 0 0 0 1 0 0 0 0 0-42 0 0 0 0 0 1 0 0 0 0 0 1 0 0 0 0 0 1 0 0 0 0 0 1 0 0 0 0 0 1 0 0 0 0 0 1 0 0 0 0 0 1 0 0 0 0 0 1 0 0 0 0 0 1 0 0 0 0 0 1 0 0 0 0 0 1 0 0 0 0 0 1 0 0 0 0 0 1 0 0 0 0 0 1 0 0 0 0 0 1 0 0 0 0 0 1 0 0 0 0 0 1 0 0 0 0 0 1 0 0 0 0 0 1 0 0 0 0 0 1 0 0 0 0 0 1 0 0 0 0 0 1 0 0 0 0 0 1 0 0 0 0 0-47 0 0 0 0 0 0 0 1 0 0 0 0 0 1 0 0 0 0 0 0 0 1 0 0 0 0 0 0 0 1 0 0 0 0 0 0 0 1 0 0 0 0 0 0 0 1 0 0 0 0 0 0 0 1 0 0 0 0 0 0 0 1 0 0 0 0 0 0 0 1 0 0 0 0 0 1 0 0 0 0 0 1 0 0 0 0 0 1 0 0 0 0 0 1 0 0 0 0 0 1 0 0 0 0 0 1 0 0 0 0 0 1 0 0 0 0 0 1 0 0 0 0 0 1 0 0 0 0 0 1 0 0 0 0 0 1 0 0 0 0 0 1 0 0 0 0 0 1 0 0 0 0 0 1 0 0 0 0 0-40 0 2 0 0 0 0 0 1 0 4 0 1 0 2 0 2 0 0 0 2 0 2 0-46 0 4 0 0 0 0 0 0 0 1 0 6 0 2 0 0 0 2 0 0 0 2 0 0 0 5 0-37 0 8 0 0 0-28 0-57 0 575 23 133-2 126-7" fill="none" stroke="none" marker-start="url(#m)" marker-mid="url(#m)" marker-end="url(#m)"/></g></g><path d="M265.5 1800.5v4.9M489.5 1800.5v4.9M713.5 1800.5v4.9M937.5 1800.5v4.9M1161.5 1800.5v4.9M1385.5 1800.5v4.9M1609.5 1800.5v4.9M200.5 391.5h-4.9M200.5 615.5h-4.9M200.5 839.5h-4.9M200.5 1063.5h-4.9M200.5 1287.5h-4.9M200.5 1511.5h-4.9M200.5 1735.5h-4.9" stroke="#000" stroke-width="1.111" fill="none"/><rect x="200.5" y="200.5" width="1600" height="1600" fill="none" stroke="#000" stroke-width="1.111" stroke-linejoin="miter"/><g transform="scale(1.3888889)"><g transform="translate(0.0000 0.7200)"><g id="text_2"><g transform="translate(173.301937 1318.196875) scale(0.2 -0.2)"><defs><path id="DejaVuSans-Bold-30" d="M 2944 2338 Q 2944 3213 2780 3570 Q 2616 3928 2228 3928 Q 1841 3928 1675 3570 Q 1509 3213 1509 2338 Q 1509 1453 1675 1090 Q 1841 728 2228 728 Q 2613 728 2778 1090 Q 2944 1453 2944 2338 z M 4147 2328 Q 4147 1169 3647 539 Q 3147 -91 2228 -91 Q 1306 -91 806 539 Q 306 1169 306 2328 Q 306 3491 806 4120 Q 1306 4750 2228 4750 Q 3147 4750 3647 4120 Q 4147 3491 4147 2328 z " transform="scale(0.015625)"/><path id="DejaVuSans-Bold-2e" d="M 653 1209 L 1778 1209 L 1778 0 L 653 0 L 653 1209 z " transform="scale(0.015625)"/><path id="DejaVuSans-Bold-31" d="M 750 831 L 1813 831 L 1813 3847 L 722 3622 L 722 4441 L 1806 4666 L 2950 4666 L 2950 831 L 4013 831 L 4013 0 L 750 0 L 750 831 z " transform="scale(0.015625)"/></defs><use href="#DejaVuSans-Bold-30"/><use href="#DejaVuSans-Bold-2e" transform="translate(69.580078 0)"/><use href="#DejaVuSans-Bold-31" transform="translate(107.568359 0)"/></g></g></g><g transform="translate(0.0000 0.7200)"><g id="text_3"><g transform="translate(258.046 1318.196875) scale(0.2 -0.2)"><defs><path id="DejaVuSans-Bold-33" d="M 2981 2516 Q 3453 2394 3698 2092 Q 3944 1791 3944 1325 Q 3944 631 3412 270 Q 2881 -91 1863 -91 Q 1503 -91 1142 -33 Q 781 25 428 141 L 428 1069 Q 766 900 1098 814 Q 1431 728 1753 728 Q 2231 728 2486 893 Q 2741 1059 2741 1369 Q 2741 1688 2480 1852 Q 2219 2016 1709 2016 L 1228 2016 L 1228 2791 L 1734 2791 Q 2188 2791 2409 2933 Q 2631 3075 2631 3366 Q 2631 3634 2415 3781 Q 2200 3928 1806 3928 Q 1516 3928 1219 3862 Q 922 3797 628 3669 L 628 4550 Q 984 4650 1334 4700 Q 1684 4750 2022 4750 Q 2931 4750 3382 4451 Q 3834 4153 3834 3553 Q 3834 3144 3618 2883 Q 3403 2622 2981 2516 z " transform="scale(0.015625)"/><path id="DejaVuSans-Bold-36" d="M 2316 2303 Q 2000 2303 1842 2098 Q 1684 1894 1684 1484 Q 1684 1075 1842 870 Q 2000 666 2316 666 Q 2634 666 2792 870 Q 2950 1075 2950 1484 Q 2950 1894 2792 2098 Q 2634 2303 2316 2303 z M 3803 4544 L 3803 3681 Q 3506 3822 3243 3889 Q 2981 3956 2731 3956 Q 2194 3956 1894 3657 Q 1594 3359 1544 2772 Q 1750 2925 1990 3001 Q 2231 3078 2516 3078 Q 3231 3078 3670 2659 Q 4109 2241 4109 1563 Q 4109 813 3618 361 Q 3128 -91 2303 -91 Q 1394 -91 895 523 Q 397 1138 397 2266 Q 397 3422 980 4083 Q 1563 4744 2578 4744 Q 2900 4744 3203 4694 Q 3506 4644 3803 4544 z " transform="scale(0.015625)"/><path id="DejaVuSans-Bold-32" d="M 1844 884 L 3897 884 L 3897 0 L 506 0 L 506 884 L 2209 2388 Q 2438 2594 2547 2791 Q 2656 2988 2656 3200 Q 2656 3528 2436 3728 Q 2216 3928 1850 3928 Q 1569 3928 1234 3808 Q 900 3688 519 3450 L 519 4475 Q 925 4609 1322 4679 Q 1719 4750 2100 4750 Q 2938 4750 3402 4381 Q 3866 4013 3866 3353 Q 3866 2972 3669 2642 Q 3472 2313 2841 1759 L 1844 884 z " transform="scale(0.015625)"/><path id="DejaVuSans-Bold-37" d="M 428 4666 L 3944 4666 L 3944 3988 L 2125 0 L 953 0 L 2675 3781 L 428 3781 L 428 4666 z " transform="scale(0.015625)"/></defs><use href="#DejaVuSans-Bold-30"/><use href="#DejaVuSans-Bold-2e" transform="translate(69.580078 0)"/><use href="#DejaVuSans-Bold-33" transform="translate(107.568359 0)"/><use href="#DejaVuSans-Bold-31" transform="translate(177.148438 0)"/><use href="#DejaVuSans-Bold-36" transform="translate(246.728516 0)"/><use href="#DejaVuSans-Bold-32" transform="translate(316.308594 0)"/><use href="#DejaVuSans-Bold-32" transform="translate(385.888672 0)"/><use href="#DejaVuSans-Bold-37" transform="translate(455.46875 0)"/><use href="#DejaVuSans-Bold-37" transform="translate(525.048828 0)"/><use href="#DejaVuSans-Bold-36" transform="translate(594.628906 0)"/><use href="#DejaVuSans-Bold-36" transform="translate(664.208984 0)"/><use href="#DejaVuSans-Bold-30" transform="translate(733.789062 0)"/><use href="#DejaVuSans-Bold-31" transform="translate(803.369141 0)"/><use href="#DejaVuSans-Bold-37" transform="translate(872.949219 0)"/></g></g></g><g transform="translate(0.0000 0.7200)"><g id="text_4"><g transform="translate(495.861938 1318.196875) scale(0.2 -0.2)"><use href="#DejaVuSans-Bold-31"/><use href="#DejaVuSans-Bold-2e" transform="translate(69.580078 0)"/><use href="#DejaVuSans-Bold-30" transform="translate(107.568359 0)"/></g></g></g><g transform="translate(0.0000 0.7200)"><g id="text_5"><g transform="translate(587.563813 1318.196875) scale(0.2 -0.2)"><use href="#DejaVuSans-Bold-33"/><use href="#DejaVuSans-Bold-2e" transform="translate(69.580078 0)"/><use href="#DejaVuSans-Bold-31" transform="translate(107.568359 0)"/><use href="#DejaVuSans-Bold-36" transform="translate(177.148438 0)"/><use href="#DejaVuSans-Bold-32" transform="translate(246.728516 0)"/><use href="#DejaVuSans-Bold-32" transform="translate(316.308594 0)"/><use href="#DejaVuSans-Bold-37" transform="translate(385.888672 0)"/><use href="#DejaVuSans-Bold-37" transform="translate(455.46875 0)"/><use href="#DejaVuSans-Bold-36" transform="translate(525.048828 0)"/><use href="#DejaVuSans-Bold-36" transform="translate(594.628906 0)"/><use href="#DejaVuSans-Bold-30" transform="translate(664.208984 0)"/><use href="#DejaVuSans-Bold-31" transform="translate(733.789062 0)"/><use href="#DejaVuSans-Bold-37" transform="translate(803.369141 0)"/></g></g></g><g transform="translate(0.0000 0.7200)"><g id="text_6"><g transform="translate(811.464125 1318.196875) scale(0.2 -0.2)"><use href="#DejaVuSans-Bold-31"/><use href="#DejaVuSans-Bold-30" transform="translate(69.580078 0)"/><use href="#DejaVuSans-Bold-2e" transform="translate(139.160156 0)"/><use href="#DejaVuSans-Bold-30" transform="translate(177.148438 0)"/></g></g></g><g transform="translate(0.0000 0.7200)"><g id="text_7"><g transform="translate(910.123813 1318.196875) scale(0.2 -0.2)"><use href="#DejaVuSans-Bold-33"/><use href="#DejaVuSans-Bold-31" transform="translate(69.580078 0)"/><use href="#DejaVuSans-Bold-2e" transform="translate(139.160156 0)"/><use href="#DejaVuSans-Bold-36" transform="translate(177.148438 0)"/><use href="#DejaVuSans-Bold-32" transform="translate(246.728516 0)"/><use href="#DejaVuSans-Bold-32" transform="translate(316.308594 0)"/><use href="#DejaVuSans-Bold-37" transform="translate(385.888672 0)"/><use href="#DejaVuSans-Bold-37" transform="translate(455.46875 0)"/><use href="#DejaVuSans-Bold-36" transform="translate(525.048828 0)"/><use href="#DejaVuSans-Bold-36" transform="translate(594.628906 0)"/><use href="#DejaVuSans-Bold-30" transform="translate(664.208984 0)"/><use href="#DejaVuSans-Bold-31" transform="translate(733.789062 0)"/><use href="#DejaVuSans-Bold-37" transform="translate(803.369141 0)"/></g></g></g><g transform="translate(0.0000 0.7200)"><g id="text_8"><g transform="translate(1127.066313 1318.196875) scale(0.2 -0.2)"><use href="#DejaVuSans-Bold-31"/><use href="#DejaVuSans-Bold-30" transform="translate(69.580078 0)"/><use href="#DejaVuSans-Bold-30" transform="translate(139.160156 0)"/><use href="#DejaVuSans-Bold-2e" transform="translate(208.740234 0)"/><use href="#DejaVuSans-Bold-30" transform="translate(246.728516 0)"/></g></g></g><g transform="translate(0.0000 1.4400)"><g id="text_9"><g transform="translate(675.323437 1349.151562) scale(0.3 -0.3)"><defs><path id="DejaVuSans-Bold-73" d="M 3272 3391 L 3272 2541 Q 2913 2691 2578 2766 Q 2244 2841 1947 2841 Q 1628 2841 1473 2761 Q 1319 2681 1319 2516 Q 1319 2381 1436 2309 Q 1553 2238 1856 2203 L 2053 2175 Q 2913 2066 3209 1816 Q 3506 1566 3506 1031 Q 3506 472 3093 190 Q 2681 -91 1863 -91 Q 1516 -91 1145 -36 Q 775 19 384 128 L 384 978 Q 719 816 1070 734 Q 1422 653 1784 653 Q 2113 653 2278 743 Q 2444 834 2444 1013 Q 2444 1163 2330 1236 Q 2216 1309 1875 1350 L 1678 1375 Q 931 1469 631 1722 Q 331 1975 331 2491 Q 331 3047 712 3315 Q 1094 3584 1881 3584 Q 2191 3584 2531 3537 Q 2872 3491 3272 3391 z " transform="scale(0.015625)"/><path id="DejaVuSans-Bold-61" d="M 2106 1575 Q 1756 1575 1579 1456 Q 1403 1338 1403 1106 Q 1403 894 1545 773 Q 1688 653 1941 653 Q 2256 653 2472 879 Q 2688 1106 2688 1447 L 2688 1575 L 2106 1575 z M 3816 1997 L 3816 0 L 2688 0 L 2688 519 Q 2463 200 2181 54 Q 1900 -91 1497 -91 Q 953 -91 614 226 Q 275 544 275 1050 Q 275 1666 698 1953 Q 1122 2241 2028 2241 L 2688 2241 L 2688 2328 Q 2688 2594 2478 2717 Q 2269 2841 1825 2841 Q 1466 2841 1156 2769 Q 847 2697 581 2553 L 581 3406 Q 941 3494 1303 3539 Q 1666 3584 2028 3584 Q 2975 3584 3395 3211 Q 3816 2838 3816 1997 z " transform="scale(0.015625)"/><path id="DejaVuSans-Bold-66" d="M 2841 4863 L 2841 4128 L 2222 4128 Q 1984 4128 1890 4042 Q 1797 3956 1797 3744 L 1797 3500 L 2753 3500 L 2753 2700 L 1797 2700 L 1797 0 L 678 0 L 678 2700 L 122 2700 L 122 3500 L 678 3500 L 678 3744 Q 678 4316 997 4589 Q 1316 4863 1984 4863 L 2841 4863 z " transform="scale(0.015625)"/><path id="DejaVuSans-Bold-65" d="M 4031 1759 L 4031 1441 L 1416 1441 Q 1456 1047 1700 850 Q 1944 653 2381 653 Q 2734 653 3104 758 Q 3475 863 3866 1075 L 3866 213 Q 3469 63 3072 -14 Q 2675 -91 2278 -91 Q 1328 -91 801 392 Q 275 875 275 1747 Q 275 2603 792 3093 Q 1309 3584 2216 3584 Q 3041 3584 3536 3087 Q 4031 2591 4031 1759 z M 2881 2131 Q 2881 2450 2695 2645 Q 2509 2841 2209 2841 Q 1884 2841 1681 2658 Q 1478 2475 1428 2131 L 2881 2131 z " transform="scale(0.015625)"/></defs><use href="#DejaVuSans-Bold-73"/><use href="#DejaVuSans-Bold-61" transform="translate(59.521484 0)"/><use href="#DejaVuSans-Bold-66" transform="translate(127.001953 0)"/><use href="#DejaVuSans-Bold-65" transform="translate(170.507812 0)"/><use href="#DejaVuSans-Bold-73" transform="translate(238.330078 0)"/></g></g></g><g id="text_10"><g transform="translate(101.571875 1256.870437) scale(0.2 -0.2)"><use href="#DejaVuSans-Bold-30"/><use href="#DejaVuSans-Bold-2e" transform="translate(69.580078 0)"/><use href="#DejaVuSans-Bold-31" transform="translate(107.568359 0)"/></g></g><g id="text_11"><g transform="translate(-51.5 1095.590437) scale(0.2 -0.2)"><use href="#DejaVuSans-Bold-30"/><use href="#DejaVuSans-Bold-2e" transform="translate(69.580078 0)"/><use href="#DejaVuSans-Bold-33" transform="translate(107.568359 0)"/><use href="#DejaVuSans-Bold-31" transform="translate(177.148438 0)"/><use href="#DejaVuSans-Bold-36" transform="translate(246.728516 0)"/><use href="#DejaVuSans-Bold-32" transform="translate(316.308594 0)"/><use href="#DejaVuSans-Bold-32" transform="translate(385.888672 0)"/><use href="#DejaVuSans-Bold-37" transform="translate(455.46875 0)"/><use href="#DejaVuSans-Bold-37" transform="translate(525.048828 0)"/><use href="#DejaVuSans-Bold-36" transform="translate(594.628906 0)"/><use href="#DejaVuSans-Bold-36" transform="translate(664.208984 0)"/><use href="#DejaVuSans-Bold-30" transform="translate(733.789062 0)"/><use href="#DejaVuSans-Bold-31" transform="translate(803.369141 0)"/><use href="#DejaVuSans-Bold-37" transform="translate(872.949219 0)"/></g></g><g id="text_12"><g transform="translate(101.571875 934.310438) scale(0.2 -0.2)"><use href="#DejaVuSans-Bold-31"/><use href="#DejaVuSans-Bold-2e" transform="translate(69.580078 0)"/><use href="#DejaVuSans-Bold-30" transform="translate(107.568359 0)"/></g></g><g id="text_13"><g transform="translate(-37.584375 773.030437) scale(0.2 -0.2)"><use href="#DejaVuSans-Bold-33"/><use href="#DejaVuSans-Bold-2e" transform="translate(69.580078 0)"/><use href="#DejaVuSans-Bold-31" transform="translate(107.568359 0)"/><use href="#DejaVuSans-Bold-36" transform="translate(177.148438 0)"/><use href="#DejaVuSans-Bold-32" transform="translate(246.728516 0)"/><use href="#DejaVuSans-Bold-32" transform="translate(316.308594 0)"/><use href="#DejaVuSans-Bold-37" transform="translate(385.888672 0)"/><use href="#DejaVuSans-Bold-37" transform="translate(455.46875 0)"/><use href="#DejaVuSans-Bold-36" transform="translate(525.048828 0)"/><use href="#DejaVuSans-Bold-36" transform="translate(594.628906 0)"/><use href="#DejaVuSans-Bold-30" transform="translate(664.208984 0)"/><use href="#DejaVuSans-Bold-31" transform="translate(733.789062 0)"/><use href="#DejaVuSans-Bold-37" transform="translate(803.369141 0)"/></g></g><g id="text_14"><g transform="translate(87.65625 611.750438) scale(0.2 -0.2)"><use href="#DejaVuSans-Bold-31"/><use href="#DejaVuSans-Bold-30" transform="translate(69.580078 0)"/><use href="#DejaVuSans-Bold-2e" transform="translate(139.160156 0)"/><use href="#DejaVuSans-Bold-30" transform="translate(177.148438 0)"/></g></g><g id="text_15"><g transform="translate(-37.584375 450.470437) scale(0.2 -0.2)"><use href="#DejaVuSans-Bold-33"/><use href="#DejaVuSans-Bold-31" transform="translate(69.580078 0)"/><use href="#DejaVuSans-Bold-2e" transform="translate(139.160156 0)"/><use href="#DejaVuSans-Bold-36" transform="translate(177.148438 0)"/><use href="#DejaVuSans-Bold-32" transform="translate(246.728516 0)"/><use href="#DejaVuSans-Bold-32" transform="translate(316.308594 0)"/><use href="#DejaVuSans-Bold-37" transform="translate(385.888672 0)"/><use href="#DejaVuSans-Bold-37" transform="translate(455.46875 0)"/><use href="#DejaVuSans-Bold-36" transform="translate(525.048828 0)"/><use href="#DejaVuSans-Bold-36" transform="translate(594.628906 0)"/><use href="#DejaVuSans-Bold-30" transform="translate(664.208984 0)"/><use href="#DejaVuSans-Bold-31" transform="translate(733.789062 0)"/><use href="#DejaVuSans-Bold-37" transform="translate(803.369141 0)"/></g></g><g id="text_16"><g transform="translate(73.740625 289.190438) scale(0.2 -0.2)"><use href="#DejaVuSans-Bold-31"/><use href="#DejaVuSans-Bold-30" transform="translate(69.580078 0)"/><use href="#DejaVuSans-Bold-30" transform="translate(139.160156 0)"/><use href="#DejaVuSans-Bold-2e" transform="translate(208.740234 0)"/><use href="#DejaVuSans-Bold-30" transform="translate(246.728516 0)"/></g></g><g id="text_17"><g transform="translate(1151.673125 1266.401094) scale(0.35 -0.35)"><defs><path id="DejaVuSans-72" d="M 2631 2963 Q 2534 3019 2420 3045 Q 2306 3072 2169 3072 Q 1681 3072 1420 2755 Q 1159 2438 1159 1844 L 1159 0 L 581 0 L 581 3500 L 1159 3500 L 1159 2956 Q 1341 3275 1631 3429 Q 1922 3584 2338 3584 Q 2397 3584 2469 3576 Q 2541 3569 2628 3553 L 2631 2963 z " transform="scale(0.015625)"/><path id="DejaVuSans-3d" d="M 678 2906 L 4684 2906 L 4684 2381 L 678 2381 L 678 2906 z M 678 1631 L 4684 1631 L 4684 1100 L 678 1100 L 678 1631 z " transform="scale(0.015625)"/><path id="DejaVuSans-2e" d="M 684 794 L 1344 794 L 1344 0 L 684 0 L 684 794 z " transform="scale(0.015625)"/><path id="DejaVuSans-37" d="M 525 4666 L 3525 4666 L 3525 4397 L 1831 0 L 1172 0 L 2766 4134 L 525 4134 L 525 4666 z " transform="scale(0.015625)"/><path id="DejaVuSans-34" d="M 2419 4116 L 825 1625 L 2419 1625 L 2419 4116 z M 2253 4666 L 3047 4666 L 3047 1625 L 3713 1625 L 3713 1100 L 3047 1100 L 3047 0 L 2419 0 L 2419 1100 L 313 1100 L 313 1709 L 2253 4666 z " transform="scale(0.015625)"/></defs><use href="#DejaVuSans-72"/><use href="#DejaVuSans-3d" transform="translate(41.113281 0)"/><use href="#DejaVuSans-30" transform="translate(124.902344 0)"/><use href="#DejaVuSans-2e" transform="translate(188.525391 0)"/><use href="#DejaVuSans-37" transform="translate(220.3125 0)"/><use href="#DejaVuSans-34" transform="translate(283.935547 0)"/></g></g><g id="text_18"><g transform="translate(631.679688 138) scale(0.5 -0.5)"><defs><path id="DejaVuSans-Bold-5a" d="M 359 4666 L 4281 4666 L 4281 3938 L 1778 909 L 4353 909 L 4353 0 L 288 0 L 288 728 L 2791 3756 L 359 3756 L 359 4666 z " transform="scale(0.015625)"/><path id="DejaVuSans-Bold-46" d="M 588 4666 L 3834 4666 L 3834 3756 L 1791 3756 L 1791 2888 L 3713 2888 L 3713 1978 L 1791 1978 L 1791 0 L 588 0 L 588 4666 z " transform="scale(0.015625)"/><path id="DejaVuSans-Bold-50" d="M 588 4666 L 2584 4666 Q 3475 4666 3951 4270 Q 4428 3875 4428 3144 Q 4428 2409 3951 2014 Q 3475 1619 2584 1619 L 1791 1619 L 1791 0 L 588 0 L 588 4666 z M 1791 3794 L 1791 2491 L 2456 2491 Q 2806 2491 2997 2661 Q 3188 2831 3188 3144 Q 3188 3456 2997 3625 Q 2806 3794 2456 3794 L 1791 3794 z " transform="scale(0.015625)"/><path id="DejaVuSans-Bold-39" d="M 641 103 L 641 966 Q 928 831 1190 764 Q 1453 697 1709 697 Q 2247 697 2547 995 Q 2847 1294 2900 1881 Q 2688 1725 2447 1647 Q 2206 1569 1925 1569 Q 1209 1569 770 1986 Q 331 2403 331 3084 Q 331 3838 820 4291 Q 1309 4744 2131 4744 Q 3044 4744 3544 4128 Q 4044 3513 4044 2388 Q 4044 1231 3459 570 Q 2875 -91 1856 -91 Q 1528 -91 1228 -42 Q 928 6 641 103 z M 2125 2350 Q 2441 2350 2600 2554 Q 2759 2759 2759 3169 Q 2759 3575 2600 3781 Q 2441 3988 2125 3988 Q 1809 3988 1650 3781 Q 1491 3575 1491 3169 Q 1491 2759 1650 2554 Q 1809 2350 2125 2350 z " transform="scale(0.015625)"/></defs><use href="#DejaVuSans-Bold-5a"/><use href="#DejaVuSans-Bold-46" transform="translate(72.509766 0)"/><use href="#DejaVuSans-Bold-50" transform="translate(140.820312 0)"/><use href="#DejaVuSans-Bold-39" transform="translate(214.111328 0)"/><use href="#DejaVuSans-Bold-31" transform="translate(283.691406 0)"/></g></g></g></svg></body></html>
